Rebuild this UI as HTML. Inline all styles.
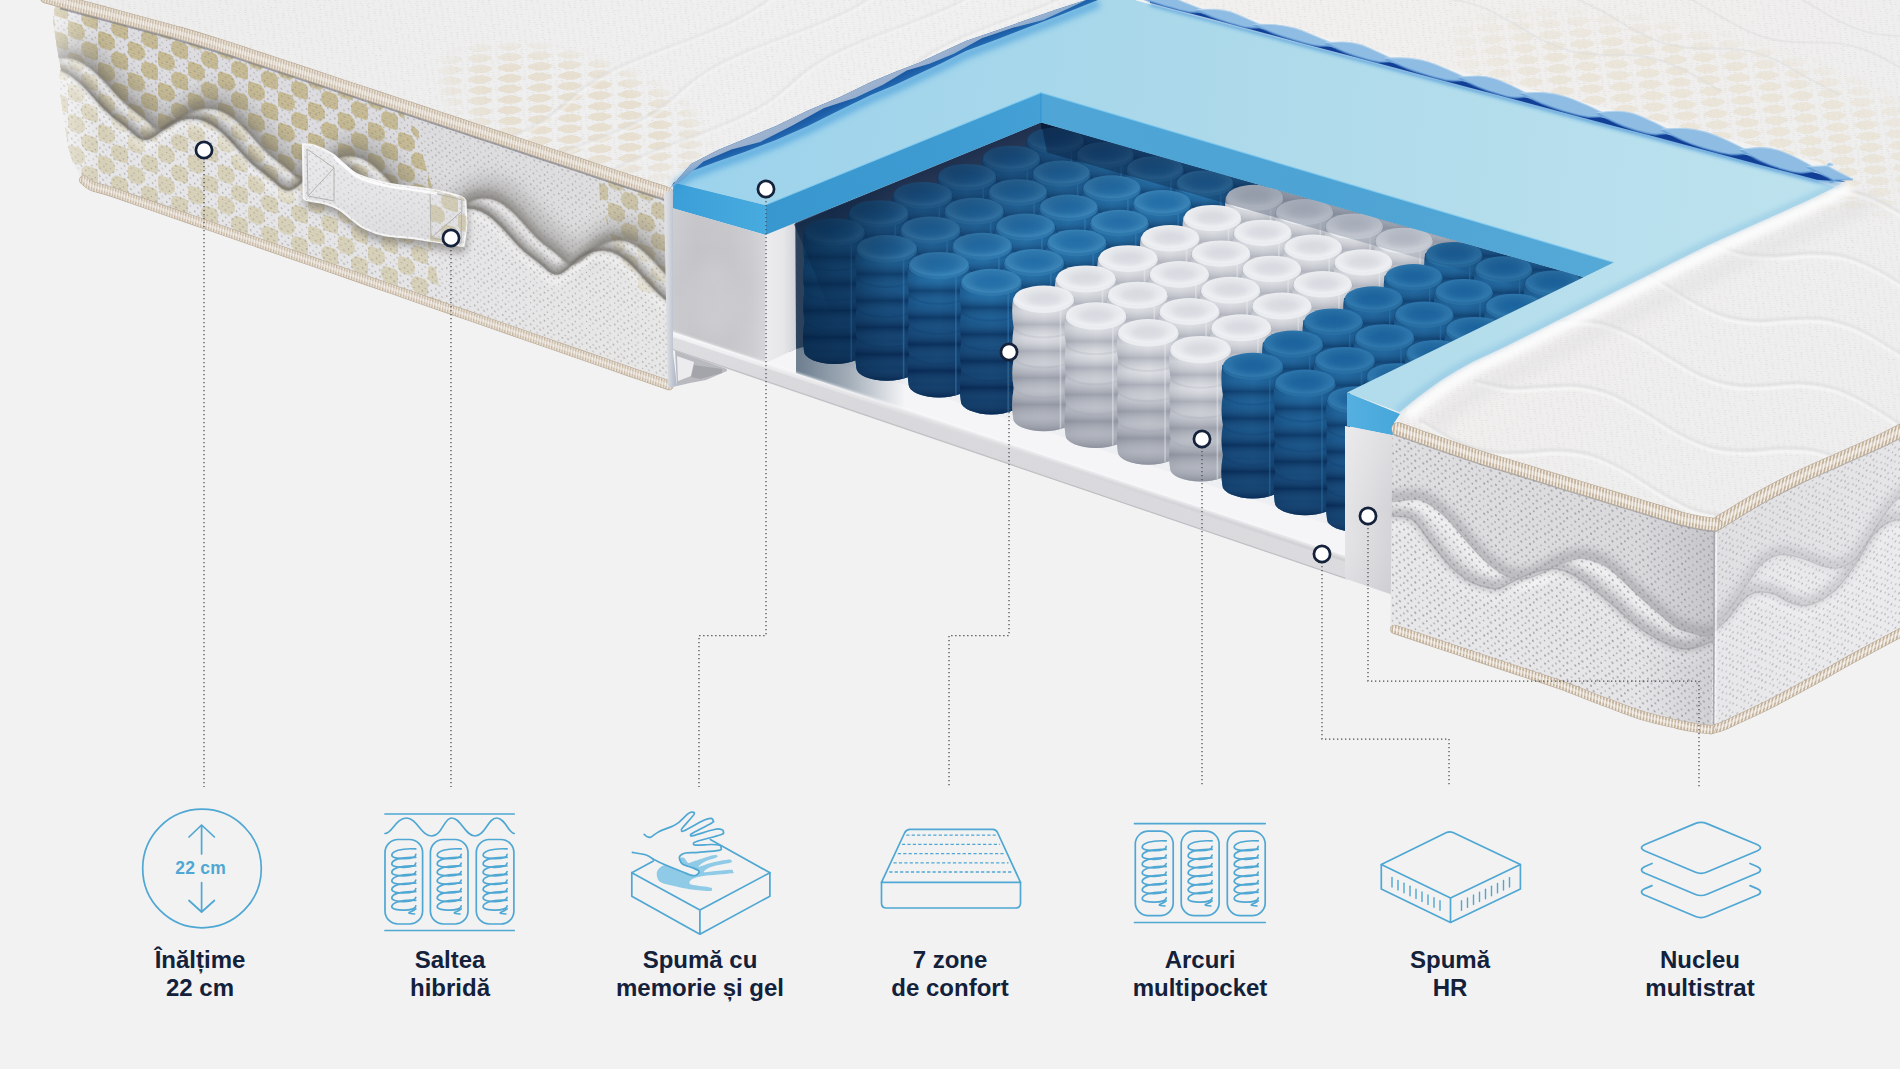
<!DOCTYPE html>
<html lang="ro"><head><meta charset="utf-8"><title>Saltea hibrida - structura</title>
<style>
html,body{margin:0;padding:0;background:#f2f2f2;overflow:hidden;}
#stage{position:relative;width:1900px;height:1069px;overflow:hidden;background:#f2f2f2;font-family:"Liberation Sans",sans-serif;}
#stage svg{position:absolute;left:0;top:0;}
.lbl{position:absolute;width:300px;margin-left:-150px;text-align:center;color:#14213a;font-weight:700;font-size:24px;line-height:28.5px;top:945.5px;letter-spacing:0px;}
</style></head><body>
<div id="stage">
<svg width="1900" height="1069" viewBox="0 0 1900 1069">
<defs>
<filter id="b1" x="-30%" y="-30%" width="160%" height="160%"><feGaussianBlur stdDeviation="1"/></filter>
<filter id="b2" x="-30%" y="-30%" width="160%" height="160%"><feGaussianBlur stdDeviation="2"/></filter>
<filter id="b3" x="-30%" y="-30%" width="160%" height="160%"><feGaussianBlur stdDeviation="3"/></filter>
<filter id="b4" x="-30%" y="-30%" width="160%" height="160%"><feGaussianBlur stdDeviation="4"/></filter>
<filter id="b6" x="-30%" y="-30%" width="160%" height="160%"><feGaussianBlur stdDeviation="6"/></filter>
<filter id="b8" x="-30%" y="-30%" width="160%" height="160%"><feGaussianBlur stdDeviation="8"/></filter>
<filter id="b12" x="-30%" y="-30%" width="160%" height="160%"><feGaussianBlur stdDeviation="12"/></filter>
<filter id="b20" x="-30%" y="-30%" width="160%" height="160%"><feGaussianBlur stdDeviation="20"/></filter>
<pattern id="dotsL" width="28.00" height="28.00" patternUnits="userSpaceOnUse" patternTransform="matrix(1,0.336,0,1,0,0)"><g fill="#8a8580" opacity="0.62"><circle cx="1.59" cy="1.49" r="0.85"/><circle cx="5.19" cy="5.41" r="0.75"/><circle cx="2.21" cy="8.82" r="0.91"/><circle cx="5.02" cy="12.17" r="0.76"/><circle cx="2.13" cy="15.45" r="0.71"/><circle cx="4.67" cy="18.66" r="0.66"/><circle cx="1.35" cy="22.22" r="0.84"/><circle cx="4.59" cy="26.67" r="0.68"/><circle cx="8.52" cy="1.10" r="0.88"/><circle cx="11.51" cy="5.58" r="0.82"/><circle cx="8.06" cy="8.25" r="0.91"/><circle cx="12.50" cy="12.00" r="0.85"/><circle cx="9.45" cy="15.63" r="0.67"/><circle cx="12.63" cy="19.86" r="0.87"/><circle cx="7.97" cy="22.67" r="0.82"/><circle cx="12.56" cy="25.70" r="0.85"/><circle cx="15.74" cy="2.46" r="0.85"/><circle cx="18.98" cy="5.14" r="0.90"/><circle cx="15.95" cy="8.98" r="0.87"/><circle cx="19.53" cy="12.01" r="0.64"/><circle cx="15.34" cy="16.22" r="0.79"/><circle cx="19.79" cy="19.48" r="0.77"/><circle cx="15.93" cy="22.55" r="0.75"/><circle cx="19.80" cy="26.17" r="0.83"/><circle cx="22.33" cy="1.95" r="0.70"/><circle cx="26.79" cy="5.92" r="0.84"/><circle cx="22.06" cy="8.53" r="0.82"/><circle cx="26.69" cy="12.39" r="0.64"/><circle cx="22.11" cy="16.25" r="0.68"/><circle cx="26.58" cy="19.39" r="0.68"/><circle cx="22.20" cy="22.85" r="0.74"/><circle cx="25.51" cy="26.52" r="0.90"/></g></pattern>
<pattern id="dotsR" width="30.40" height="30.40" patternUnits="userSpaceOnUse" patternTransform="matrix(1,0.33,0,1,0,0)"><g fill="#85858c" opacity="0.75"><circle cx="2.38" cy="1.32" r="0.89"/><circle cx="5.63" cy="5.43" r="0.91"/><circle cx="1.28" cy="9.11" r="1.07"/><circle cx="6.42" cy="13.23" r="0.98"/><circle cx="1.52" cy="17.57" r="1.09"/><circle cx="6.36" cy="21.68" r="1.00"/><circle cx="2.01" cy="24.06" r="0.87"/><circle cx="5.46" cy="28.55" r="0.86"/><circle cx="9.54" cy="2.41" r="0.87"/><circle cx="13.77" cy="5.15" r="0.94"/><circle cx="10.17" cy="8.76" r="1.04"/><circle cx="12.89" cy="13.30" r="1.09"/><circle cx="9.75" cy="16.97" r="0.89"/><circle cx="13.26" cy="20.32" r="0.97"/><circle cx="8.99" cy="24.99" r="1.07"/><circle cx="13.15" cy="28.15" r="0.89"/><circle cx="16.74" cy="1.16" r="1.07"/><circle cx="21.14" cy="6.44" r="0.77"/><circle cx="16.96" cy="10.04" r="0.81"/><circle cx="20.38" cy="12.89" r="0.87"/><circle cx="17.35" cy="17.62" r="0.84"/><circle cx="21.14" cy="20.54" r="0.82"/><circle cx="16.88" cy="24.20" r="1.05"/><circle cx="20.77" cy="28.83" r="0.77"/><circle cx="25.00" cy="1.73" r="1.04"/><circle cx="28.85" cy="5.30" r="0.92"/><circle cx="24.44" cy="9.40" r="0.77"/><circle cx="28.68" cy="13.97" r="0.97"/><circle cx="24.42" cy="16.74" r="0.76"/><circle cx="28.56" cy="21.09" r="1.02"/><circle cx="25.04" cy="24.07" r="1.07"/><circle cx="28.41" cy="28.62" r="0.86"/></g></pattern>
<pattern id="dotsRR" width="28.80" height="28.80" patternUnits="userSpaceOnUse" patternTransform="matrix(1,-0.54,0,1,0,0)"><g fill="#8f8f96" opacity="0.62"><circle cx="1.35" cy="2.46" r="0.96"/><circle cx="4.67" cy="6.15" r="0.77"/><circle cx="1.89" cy="8.87" r="0.84"/><circle cx="4.94" cy="12.85" r="0.89"/><circle cx="2.07" cy="15.51" r="1.00"/><circle cx="5.25" cy="19.13" r="0.92"/><circle cx="1.96" cy="23.97" r="0.78"/><circle cx="5.09" cy="26.46" r="0.86"/><circle cx="8.64" cy="1.36" r="0.78"/><circle cx="13.17" cy="5.79" r="0.74"/><circle cx="9.13" cy="9.61" r="0.82"/><circle cx="13.11" cy="12.79" r="0.74"/><circle cx="9.77" cy="16.20" r="0.93"/><circle cx="13.07" cy="19.30" r="0.87"/><circle cx="8.70" cy="22.74" r="0.98"/><circle cx="13.26" cy="26.57" r="0.77"/><circle cx="16.61" cy="1.46" r="0.92"/><circle cx="20.53" cy="5.42" r="0.75"/><circle cx="15.82" cy="8.69" r="0.97"/><circle cx="19.48" cy="12.97" r="1.00"/><circle cx="15.47" cy="15.53" r="0.86"/><circle cx="19.43" cy="20.17" r="0.73"/><circle cx="15.98" cy="24.00" r="0.86"/><circle cx="20.56" cy="26.43" r="0.76"/><circle cx="23.01" cy="2.03" r="0.86"/><circle cx="26.91" cy="5.98" r="1.02"/><circle cx="23.40" cy="9.64" r="0.96"/><circle cx="27.37" cy="13.11" r="0.77"/><circle cx="22.81" cy="16.10" r="0.82"/><circle cx="26.96" cy="19.52" r="0.74"/><circle cx="23.76" cy="23.92" r="0.83"/><circle cx="27.60" cy="26.27" r="0.97"/></g></pattern>
<pattern id="dotsTop" width="25.60" height="25.60" patternUnits="userSpaceOnUse" patternTransform="matrix(1,0.3,-0.9,0.38,0,0)"><g fill="#bdb9b3" opacity="0.38"><circle cx="1.36" cy="1.55" r="0.83"/><circle cx="4.79" cy="5.18" r="0.83"/><circle cx="1.22" cy="7.89" r="0.61"/><circle cx="4.02" cy="11.68" r="0.82"/><circle cx="1.33" cy="13.96" r="0.64"/><circle cx="4.83" cy="17.86" r="0.77"/><circle cx="1.85" cy="20.69" r="0.74"/><circle cx="4.65" cy="24.38" r="0.76"/><circle cx="7.79" cy="1.57" r="0.85"/><circle cx="11.31" cy="4.33" r="0.66"/><circle cx="7.33" cy="8.27" r="0.83"/><circle cx="10.49" cy="11.96" r="0.79"/><circle cx="7.51" cy="14.51" r="0.61"/><circle cx="10.68" cy="18.03" r="0.71"/><circle cx="8.03" cy="21.02" r="0.81"/><circle cx="10.45" cy="24.39" r="0.68"/><circle cx="13.72" cy="2.16" r="0.72"/><circle cx="17.60" cy="5.52" r="0.68"/><circle cx="14.92" cy="7.73" r="0.70"/><circle cx="17.71" cy="11.75" r="0.84"/><circle cx="15.20" cy="14.33" r="0.82"/><circle cx="17.69" cy="17.96" r="0.72"/><circle cx="14.86" cy="20.72" r="0.69"/><circle cx="17.70" cy="24.72" r="0.75"/><circle cx="21.13" cy="0.89" r="0.66"/><circle cx="24.27" cy="4.72" r="0.64"/><circle cx="21.03" cy="8.21" r="0.66"/><circle cx="24.43" cy="10.67" r="0.70"/><circle cx="20.44" cy="14.61" r="0.70"/><circle cx="23.23" cy="17.31" r="0.63"/><circle cx="21.22" cy="20.51" r="0.84"/><circle cx="24.36" cy="24.46" r="0.70"/></g></pattern>
<pattern id="goldL" width="30.00" height="31.00" patternUnits="userSpaceOnUse" patternTransform="matrix(1,0.336,0.0,1,8,0)"><g opacity="1.00"><path d="M2.42,-0.39 L12.58,-0.39 L16.74,4.49 L16.74,11.01 L12.58,15.89 L2.42,15.89 L-1.74,11.01 L-1.74,4.49 Z" fill="#cbc09b"/><rect x="1.40" y="0.81" width="12.21" height="0.9" fill="#a7996f" opacity="0.45"/><rect x="-0.73" y="3.31" width="16.46" height="0.9" fill="#a7996f" opacity="0.45"/><rect x="-1.74" y="5.81" width="18.48" height="0.9" fill="#a7996f" opacity="0.45"/><rect x="-1.74" y="8.31" width="18.48" height="0.9" fill="#a7996f" opacity="0.45"/><rect x="-1.74" y="10.81" width="18.48" height="0.9" fill="#a7996f" opacity="0.45"/><rect x="0.22" y="13.31" width="14.56" height="0.9" fill="#a7996f" opacity="0.45"/><rect x="2.35" y="15.81" width="10.30" height="0.9" fill="#a7996f" opacity="0.45"/><path d="M17.42,15.11 L27.58,15.11 L31.74,19.99 L31.74,26.51 L27.58,31.39 L17.42,31.39 L13.26,26.51 L13.26,19.99 Z" fill="#cbc09b"/><rect x="16.40" y="16.31" width="12.21" height="0.9" fill="#a7996f" opacity="0.45"/><rect x="14.27" y="18.81" width="16.46" height="0.9" fill="#a7996f" opacity="0.45"/><rect x="13.26" y="21.31" width="18.48" height="0.9" fill="#a7996f" opacity="0.45"/><rect x="13.26" y="23.81" width="18.48" height="0.9" fill="#a7996f" opacity="0.45"/><rect x="13.26" y="26.31" width="18.48" height="0.9" fill="#a7996f" opacity="0.45"/><rect x="15.22" y="28.81" width="14.56" height="0.9" fill="#a7996f" opacity="0.45"/><rect x="17.35" y="31.31" width="10.30" height="0.9" fill="#a7996f" opacity="0.45"/></g></pattern>
<pattern id="goldT" width="30.00" height="30.00" patternUnits="userSpaceOnUse" patternTransform="matrix(1.0,0.31,-1.0,0.40,0,0)"><g opacity="0.80"><path d="M2.88,0.10 L12.12,0.10 L15.90,4.54 L15.90,10.46 L12.12,14.90 L2.88,14.90 L-0.90,10.46 L-0.90,4.54 Z" fill="#e7ddcb"/><rect x="1.86" y="1.30" width="11.28" height="0.9" fill="#d9ceb8" opacity="0.45"/><rect x="-0.27" y="3.80" width="15.54" height="0.9" fill="#d9ceb8" opacity="0.45"/><rect x="-0.90" y="6.30" width="16.80" height="0.9" fill="#d9ceb8" opacity="0.45"/><rect x="-0.90" y="8.80" width="16.80" height="0.9" fill="#d9ceb8" opacity="0.45"/><rect x="-0.18" y="11.30" width="15.37" height="0.9" fill="#d9ceb8" opacity="0.45"/><rect x="1.94" y="13.80" width="11.11" height="0.9" fill="#d9ceb8" opacity="0.45"/><path d="M17.88,15.10 L27.12,15.10 L30.90,19.54 L30.90,25.46 L27.12,29.90 L17.88,29.90 L14.10,25.46 L14.10,19.54 Z" fill="#e7ddcb"/><rect x="16.86" y="16.30" width="11.28" height="0.9" fill="#d9ceb8" opacity="0.45"/><rect x="14.73" y="18.80" width="15.54" height="0.9" fill="#d9ceb8" opacity="0.45"/><rect x="14.10" y="21.30" width="16.80" height="0.9" fill="#d9ceb8" opacity="0.45"/><rect x="14.10" y="23.80" width="16.80" height="0.9" fill="#d9ceb8" opacity="0.45"/><rect x="14.82" y="26.30" width="15.37" height="0.9" fill="#d9ceb8" opacity="0.45"/><rect x="16.94" y="28.80" width="11.11" height="0.9" fill="#d9ceb8" opacity="0.45"/></g></pattern>
<pattern id="goldT2" width="30.00" height="30.00" patternUnits="userSpaceOnUse" patternTransform="matrix(1.05,0.30,-0.9,0.45,0,0)"><g opacity="0.70"><path d="M2.88,0.10 L12.12,0.10 L15.90,4.54 L15.90,10.46 L12.12,14.90 L2.88,14.90 L-0.90,10.46 L-0.90,4.54 Z" fill="#ebe3d3"/><rect x="1.86" y="1.30" width="11.28" height="0.9" fill="#ddd3be" opacity="0.45"/><rect x="-0.27" y="3.80" width="15.54" height="0.9" fill="#ddd3be" opacity="0.45"/><rect x="-0.90" y="6.30" width="16.80" height="0.9" fill="#ddd3be" opacity="0.45"/><rect x="-0.90" y="8.80" width="16.80" height="0.9" fill="#ddd3be" opacity="0.45"/><rect x="-0.18" y="11.30" width="15.37" height="0.9" fill="#ddd3be" opacity="0.45"/><rect x="1.94" y="13.80" width="11.11" height="0.9" fill="#ddd3be" opacity="0.45"/><path d="M17.88,15.10 L27.12,15.10 L30.90,19.54 L30.90,25.46 L27.12,29.90 L17.88,29.90 L14.10,25.46 L14.10,19.54 Z" fill="#ebe3d3"/><rect x="16.86" y="16.30" width="11.28" height="0.9" fill="#ddd3be" opacity="0.45"/><rect x="14.73" y="18.80" width="15.54" height="0.9" fill="#ddd3be" opacity="0.45"/><rect x="14.10" y="21.30" width="16.80" height="0.9" fill="#ddd3be" opacity="0.45"/><rect x="14.10" y="23.80" width="16.80" height="0.9" fill="#ddd3be" opacity="0.45"/><rect x="14.82" y="26.30" width="15.37" height="0.9" fill="#ddd3be" opacity="0.45"/><rect x="16.94" y="28.80" width="11.11" height="0.9" fill="#ddd3be" opacity="0.45"/></g></pattern>
<pattern id="pipeL" width="2.70" height="8" patternUnits="userSpaceOnUse" patternTransform="rotate(8.0)"><rect width="2.70" height="8" fill="#ede6de"/><rect x="0" width="1.35" height="8" fill="#c6b6a1"/></pattern>
<pattern id="pipeR" width="3.20" height="8" patternUnits="userSpaceOnUse" patternTransform="rotate(6.0)"><rect width="3.20" height="8" fill="#efe8e0"/><rect x="0" width="1.60" height="8" fill="#c3b29b"/></pattern>
<pattern id="pipeRR" width="3.20" height="8" patternUnits="userSpaceOnUse" patternTransform="rotate(12.0)"><rect width="3.20" height="8" fill="#efe8e0"/><rect x="0" width="1.60" height="8" fill="#c3b29b"/></pattern>
<linearGradient id="gTopR" gradientUnits="userSpaceOnUse" x1="1200" y1="0" x2="1900" y2="450"><stop offset="0" stop-color="#f1f0ee"/><stop offset="0.5" stop-color="#f0efee"/><stop offset="1" stop-color="#eeeeee"/></linearGradient>
<linearGradient id="gTopL" gradientUnits="userSpaceOnUse" x1="100" y1="0" x2="900" y2="200"><stop offset="0" stop-color="#ededed"/><stop offset="0.6" stop-color="#efefef"/><stop offset="1" stop-color="#f0f0f0"/></linearGradient>
<radialGradient id="mGold1" gradientUnits="objectBoundingBox" cx="0.5" cy="0.5" r="0.5" ><stop offset="0" stop-color="#fff" stop-opacity="1"/><stop offset="0.6" stop-color="#fff" stop-opacity="0.95"/><stop offset="0.85" stop-color="#fff" stop-opacity="0.5"/><stop offset="1" stop-color="#fff" stop-opacity="0"/></radialGradient>
<mask id="mkGoldTL" maskUnits="userSpaceOnUse" x="400" y="0" width="360" height="230"><ellipse cx="575" cy="112" rx="150" ry="62" transform="rotate(17 575 112)" fill="url(#mGold1)"/></mask>
<clipPath id="cpTopL"><path d="M57,0 L1086,0 L1086.0,0.0 L1058.0,9.0 L1029.0,19.0 L998.0,30.0 L965.8,41.0 L942.0,52.0 L918.4,63.0 L895.0,72.0 L871.0,82.0 L840.0,97.0 L808.0,110.5 L776.0,126.0 L744.7,139.0 L718.0,150.0 L691.0,164.0 L672.0,186.0 L668.0,192.0 L550.0,154.5 L440.0,118.0 L300.0,71.6 L200.0,38.7 L150.0,25.0 L100.0,11.5 L57.0,0.0 Z"/></clipPath>
<mask id="mkGoldTR" maskUnits="userSpaceOnUse" x="1400" y="0" width="520" height="260"><ellipse cx="1715" cy="112" rx="290" ry="82" transform="rotate(15 1715 112)" fill="url(#mGold1)"/></mask>
<clipPath id="cpTopR"><polygon points="1166.0,0.0 1900.0,0.0 1900.0,433.0 1800.0,478.0 1716.0,527.0 1640.0,508.0 1520.0,471.0 1394.0,430.0 1400.0,414.0 1400.2,412.5 1418.0,398.0 1443.2,379.7 1470.0,364.0 1506.3,346.9 1556.8,321.6 1607.4,296.3 1657.9,271.0 1708.4,245.8 1759.0,223.0 1809.5,200.3 1839.8,185.2 1843.0,182.0 1845.0,180.0 1820.0,162.1 1790.0,154.5 1760.0,146.9 1730.0,139.3 1700.0,131.7 1670.0,124.2 1640.0,116.6 1610.0,109.0 1580.0,101.4 1550.0,93.8 1520.0,86.3 1490.0,78.7 1460.0,71.1 1430.0,63.5 1400.0,55.9 1370.0,48.3 1340.0,40.8 1310.0,33.2 1280.0,25.6 1250.0,18.0 1220.0,10.4 1190.0,2.9"/></clipPath>
<linearGradient id="gCav" gradientUnits="userSpaceOnUse" x1="800" y1="150" x2="1300" y2="450"><stop offset="0" stop-color="#15233f"/><stop offset="0.5" stop-color="#10284a"/><stop offset="1" stop-color="#0c2244"/></linearGradient>
<linearGradient id="gCavL" gradientUnits="userSpaceOnUse" x1="780" y1="0" x2="840" y2="0"><stop offset="0" stop-color="#8d93a3"/><stop offset="0.5" stop-color="#596379"/><stop offset="1" stop-color="#2a3a58" stop-opacity="0"/></linearGradient>
<linearGradient id="gWallIn" gradientUnits="userSpaceOnUse" x1="766" y1="0" x2="796" y2="0"><stop offset="0" stop-color="#ecECEE"/><stop offset="0.6" stop-color="#e6e6e9"/><stop offset="1" stop-color="#d2d3d8"/></linearGradient>
<linearGradient id="gFloor" gradientUnits="objectBoundingBox" x1="0" y1="0" x2="0" y2="1"><stop offset="0" stop-color="#dfe1e6"/><stop offset="1" stop-color="#f6f6f8"/></linearGradient>
<linearGradient id="gBlueBody" gradientUnits="objectBoundingBox" x1="0" y1="0" x2="1" y2="0"><stop offset="0" stop-color="#16558a"/><stop offset="0.18" stop-color="#1c669e"/><stop offset="0.5" stop-color="#216fa8"/><stop offset="0.82" stop-color="#1a6198"/><stop offset="1" stop-color="#114a7d"/></linearGradient>
<linearGradient id="gBlueBodyR" gradientUnits="objectBoundingBox" x1="0" y1="0" x2="1" y2="0"><stop offset="0" stop-color="#134f83"/><stop offset="0.2" stop-color="#195e96"/><stop offset="0.5" stop-color="#1d67a0"/><stop offset="0.8" stop-color="#175a90"/><stop offset="1" stop-color="#0f4575"/></linearGradient>
<linearGradient id="gBlueShade" gradientUnits="objectBoundingBox" x1="0" y1="0" x2="0" y2="1"><stop offset="0" stop-color="#072a58" stop-opacity="0.0"/><stop offset="0.12" stop-color="#072a58" stop-opacity="0.05"/><stop offset="0.32" stop-color="#072a58" stop-opacity="0.38"/><stop offset="0.55" stop-color="#06254f" stop-opacity="0.62"/><stop offset="1" stop-color="#051f46" stop-opacity="0.78"/></linearGradient>
<linearGradient id="gBlueShadeR" gradientUnits="objectBoundingBox" x1="0" y1="0" x2="0" y2="1"><stop offset="0" stop-color="#072a58" stop-opacity="0.0"/><stop offset="0.15" stop-color="#072a58" stop-opacity="0.05"/><stop offset="0.35" stop-color="#072a58" stop-opacity="0.3"/><stop offset="0.6" stop-color="#06254f" stop-opacity="0.5"/><stop offset="1" stop-color="#051f46" stop-opacity="0.66"/></linearGradient>
<radialGradient id="gBlueTop" gradientUnits="objectBoundingBox" cx="0.5" cy="0.45" r="0.6" ><stop offset="0" stop-color="#2a72a8"/><stop offset="0.55" stop-color="#2f78ad"/><stop offset="0.85" stop-color="#3b85b8"/><stop offset="1" stop-color="#2c74a9"/></radialGradient>
<radialGradient id="gBlueTopR" gradientUnits="objectBoundingBox" cx="0.5" cy="0.45" r="0.6" ><stop offset="0" stop-color="#22689e"/><stop offset="0.55" stop-color="#276ea4"/><stop offset="0.85" stop-color="#3079ae"/><stop offset="1" stop-color="#246a9f"/></radialGradient>
<linearGradient id="gWhiteBody" gradientUnits="objectBoundingBox" x1="0" y1="0" x2="1" y2="0"><stop offset="0" stop-color="#bcc0c8"/><stop offset="0.2" stop-color="#d0d3d9"/><stop offset="0.5" stop-color="#dbdde2"/><stop offset="0.8" stop-color="#cfd2d8"/><stop offset="1" stop-color="#b5b9c2"/></linearGradient>
<linearGradient id="gWhiteShade" gradientUnits="objectBoundingBox" x1="0" y1="0" x2="0" y2="1"><stop offset="0" stop-color="#8f95a3" stop-opacity="0.0"/><stop offset="0.35" stop-color="#8f95a3" stop-opacity="0.06"/><stop offset="0.55" stop-color="#858b9a" stop-opacity="0.38"/><stop offset="1" stop-color="#757b8a" stop-opacity="0.62"/></linearGradient>
<radialGradient id="gWhiteTop" gradientUnits="objectBoundingBox" cx="0.5" cy="0.45" r="0.6" ><stop offset="0" stop-color="#dfe1e6"/><stop offset="0.55" stop-color="#e5e7eb"/><stop offset="0.85" stop-color="#eff0f3"/><stop offset="1" stop-color="#e1e3e8"/></radialGradient>
<linearGradient id="gSegB" gradientUnits="objectBoundingBox" x1="0" y1="0" x2="0" y2="1"><stop offset="0.001" stop-color="#061c42" stop-opacity="0.38"/><stop offset="0.1" stop-color="#5aa0d0" stop-opacity="0.1"/><stop offset="0.199" stop-color="#061c42" stop-opacity="0.38"/><stop offset="0.201" stop-color="#061c42" stop-opacity="0.38"/><stop offset="0.3" stop-color="#5aa0d0" stop-opacity="0.1"/><stop offset="0.399" stop-color="#061c42" stop-opacity="0.38"/><stop offset="0.401" stop-color="#061c42" stop-opacity="0.38"/><stop offset="0.5" stop-color="#5aa0d0" stop-opacity="0.1"/><stop offset="0.599" stop-color="#061c42" stop-opacity="0.38"/><stop offset="0.601" stop-color="#061c42" stop-opacity="0.38"/><stop offset="0.7" stop-color="#5aa0d0" stop-opacity="0.1"/><stop offset="0.799" stop-color="#061c42" stop-opacity="0.38"/><stop offset="0.801" stop-color="#061c42" stop-opacity="0.38"/><stop offset="0.9" stop-color="#5aa0d0" stop-opacity="0.1"/><stop offset="0.999" stop-color="#061c42" stop-opacity="0.38"/></linearGradient>
<linearGradient id="gSegW" gradientUnits="objectBoundingBox" x1="0" y1="0" x2="0" y2="1"><stop offset="0.001" stop-color="#6b7080" stop-opacity="0.32"/><stop offset="0.1" stop-color="#ffffff" stop-opacity="0.16"/><stop offset="0.199" stop-color="#6b7080" stop-opacity="0.32"/><stop offset="0.201" stop-color="#6b7080" stop-opacity="0.32"/><stop offset="0.3" stop-color="#ffffff" stop-opacity="0.16"/><stop offset="0.399" stop-color="#6b7080" stop-opacity="0.32"/><stop offset="0.401" stop-color="#6b7080" stop-opacity="0.32"/><stop offset="0.5" stop-color="#ffffff" stop-opacity="0.16"/><stop offset="0.599" stop-color="#6b7080" stop-opacity="0.32"/><stop offset="0.601" stop-color="#6b7080" stop-opacity="0.32"/><stop offset="0.7" stop-color="#ffffff" stop-opacity="0.16"/><stop offset="0.799" stop-color="#6b7080" stop-opacity="0.32"/><stop offset="0.801" stop-color="#6b7080" stop-opacity="0.32"/><stop offset="0.9" stop-color="#ffffff" stop-opacity="0.16"/><stop offset="0.999" stop-color="#6b7080" stop-opacity="0.32"/></linearGradient>
<clipPath id="cpCav"><polygon points="760.0,238.0 1041.0,122.5 1583.6,277.3 1349.0,393.0 1349.0,600.0 760.0,400.0"/></clipPath>
<linearGradient id="gShBack" gradientUnits="objectBoundingBox" x1="0" y1="0" x2="0" y2="1"><stop offset="0" stop-color="#071a3a" stop-opacity="0.55"/><stop offset="1" stop-color="#071a3a" stop-opacity="0.0"/></linearGradient>
<linearGradient id="gShLeft" gradientUnits="userSpaceOnUse" x1="795" y1="226" x2="835" y2="322"><stop offset="0" stop-color="#071a3a" stop-opacity="0.62"/><stop offset="0.3" stop-color="#071a3a" stop-opacity="0.38"/><stop offset="1" stop-color="#071a3a" stop-opacity="0.0"/></linearGradient>
<linearGradient id="gShLeft2" gradientUnits="userSpaceOnUse" x1="800" y1="0" x2="905" y2="0"><stop offset="0" stop-color="#04223f" stop-opacity="0.55"/><stop offset="0.45" stop-color="#04223f" stop-opacity="0.35"/><stop offset="1" stop-color="#04223f" stop-opacity="0.0"/></linearGradient>
<linearGradient id="gFoamTop" gradientUnits="userSpaceOnUse" x1="700" y1="150" x2="1800" y2="250"><stop offset="0" stop-color="#9dd3ec"/><stop offset="0.45" stop-color="#acd9ea"/><stop offset="1" stop-color="#bde2ee"/></linearGradient>
<linearGradient id="gFoamFront" gradientUnits="userSpaceOnUse" x1="672" y1="0" x2="766" y2="0"><stop offset="0" stop-color="#3b9fd8"/><stop offset="1" stop-color="#48abdf"/></linearGradient>
<linearGradient id="gFoamSide" gradientUnits="userSpaceOnUse" x1="765" y1="220" x2="1041" y2="105"><stop offset="0" stop-color="#3997cf"/><stop offset="0.6" stop-color="#3d9bd2"/><stop offset="1" stop-color="#44a0d5"/></linearGradient>
<linearGradient id="gFoamBack" gradientUnits="userSpaceOnUse" x1="1041" y1="100" x2="1600" y2="270"><stop offset="0" stop-color="#4fa6d6"/><stop offset="0.5" stop-color="#4da3d3"/><stop offset="1" stop-color="#55a9d7"/></linearGradient>
<linearGradient id="gFoamFR" gradientUnits="userSpaceOnUse" x1="1347" y1="0" x2="1400" y2="0"><stop offset="0" stop-color="#55b0e0"/><stop offset="1" stop-color="#46a6db"/></linearGradient>
<linearGradient id="gWallL" gradientUnits="userSpaceOnUse" x1="673" y1="0" x2="766" y2="0"><stop offset="0" stop-color="#c9c9cd"/><stop offset="0.25" stop-color="#c1c1c6"/><stop offset="0.6" stop-color="#c4c4c8"/><stop offset="0.85" stop-color="#cbcbcf"/><stop offset="1" stop-color="#d4d4d8"/></linearGradient>
<linearGradient id="gWallLv" gradientUnits="userSpaceOnUse" x1="0" y1="200" x2="0" y2="365"><stop offset="0" stop-color="#ffffff" stop-opacity="0.1"/><stop offset="0.5" stop-color="#ffffff" stop-opacity="0.0"/><stop offset="1" stop-color="#ffffff" stop-opacity="0.06"/></linearGradient>
<linearGradient id="gBaseF" gradientUnits="objectBoundingBox" x1="0" y1="0" x2="0" y2="1"><stop offset="0" stop-color="#f3f3f5"/><stop offset="0.3" stop-color="#e0e0e3"/><stop offset="0.65" stop-color="#d6d6da"/><stop offset="1" stop-color="#d0d0d4"/></linearGradient>
<linearGradient id="gBaseF2" gradientUnits="userSpaceOnUse" x1="672" y1="0" x2="1347" y2="0"><stop offset="0" stop-color="#d6d6da"/><stop offset="0.15" stop-color="#d4d4d8"/><stop offset="1" stop-color="#e0e0e3"/></linearGradient>
<linearGradient id="gWallR" gradientUnits="userSpaceOnUse" x1="1345" y1="0" x2="1394" y2="0"><stop offset="0" stop-color="#e4e4e7"/><stop offset="0.5" stop-color="#dcdcdf"/><stop offset="1" stop-color="#d3d3d7"/></linearGradient>
<linearGradient id="gWallRv" gradientUnits="userSpaceOnUse" x1="0" y1="426" x2="0" y2="595"><stop offset="0" stop-color="#ffffff" stop-opacity="0.25"/><stop offset="0.5" stop-color="#ffffff" stop-opacity="0.0"/><stop offset="1" stop-color="#a0a0a8" stop-opacity="0.12"/></linearGradient>
<linearGradient id="gNavy" gradientUnits="userSpaceOnUse" x1="1150" y1="0" x2="1190" y2="120"><stop offset="0" stop-color="#0f3b90"/><stop offset="1" stop-color="#1858ad"/></linearGradient>
<clipPath id="cpLP"><polygon points="57.0,0.0 100.0,11.5 150.0,25.0 200.0,38.7 300.0,71.6 440.0,118.0 550.0,154.5 666.0,192.9 668.0,385.0 500.0,326.7 300.0,257.3 100.0,187.9 88.0,184.0 80.0,176.0 74.0,166.0 69.0,150.0 64.0,120.0 60.0,92.0 59.0,78.0 61.0,69.0 57.0,48.0 53.0,20.0 56.0,0.0"/></clipPath>
<linearGradient id="gLP" gradientUnits="userSpaceOnUse" x1="56" y1="0" x2="668" y2="0"><stop offset="0" stop-color="#e6e6e9"/><stop offset="0.08" stop-color="#dddde1"/><stop offset="0.5" stop-color="#dcdce0"/><stop offset="1" stop-color="#dededf"/></linearGradient>
<clipPath id="cpGoldL"><polygon points="40.0,-10.0 392.0,-10.0 405.0,120.0 418.0,130.0 424.0,160.0 436.0,200.0 430.0,240.0 442.0,300.0 440.0,330.0 40.0,330.0"/></clipPath>
<clipPath id="cpGoldL2"><polygon points="598.0,170.0 668.0,190.0 668.0,300.0 640.0,290.0 615.0,250.0 600.0,200.0"/></clipPath>
<clipPath id="cpRib"><path d="M40.0,65.8 C41.0,65.2 44.0,63.2 46.0,62.1 C48.0,61.1 50.0,60.2 52.0,59.6 C54.0,58.9 56.0,58.4 58.0,58.1 C60.0,57.7 62.0,57.6 64.0,57.6 C66.0,57.6 68.0,57.8 70.0,58.2 C72.0,58.5 74.0,59.0 76.0,59.7 C78.0,60.4 80.0,61.3 82.0,62.4 C84.0,63.5 86.0,64.7 88.0,66.2 C90.0,67.6 92.0,69.2 94.0,71.0 C96.0,72.7 98.0,74.6 100.0,76.6 C102.0,78.6 104.0,80.7 106.0,82.8 C108.0,85.0 110.0,87.3 112.0,89.5 C114.0,91.7 116.0,93.9 118.0,96.0 C120.0,98.2 122.0,100.2 124.0,102.1 C126.0,104.0 128.0,105.7 130.0,107.3 C132.0,109.0 134.0,110.4 136.0,112.0 C138.0,113.5 140.0,115.0 142.0,116.6 C144.0,118.2 146.0,120.0 148.0,121.7 C150.0,123.4 152.0,125.5 154.0,126.8 C156.0,128.1 158.0,129.2 160.0,129.5 C162.0,129.7 164.0,129.2 166.0,128.4 C168.0,127.6 170.0,126.1 172.0,124.7 C174.0,123.4 176.0,121.8 178.0,120.3 C180.0,118.9 182.0,117.4 184.0,116.1 C186.0,114.8 188.0,113.6 190.0,112.6 C192.0,111.6 194.0,110.7 196.0,110.1 C198.0,109.4 200.0,108.9 202.0,108.6 C204.0,108.3 206.0,108.2 208.0,108.2 C210.0,108.2 212.0,108.4 214.0,108.8 C216.0,109.2 218.0,109.7 220.0,110.5 C222.0,111.2 224.0,112.1 226.0,113.2 C228.0,114.3 230.0,115.6 232.0,117.1 C234.0,118.5 236.0,120.2 238.0,121.9 C240.0,123.7 242.0,125.6 244.0,127.6 C246.0,129.6 248.0,131.7 250.0,133.9 C252.0,136.0 254.0,138.3 256.0,140.5 C258.0,142.7 260.0,145.0 262.0,147.1 C264.0,149.2 266.0,151.2 268.0,153.1 C270.0,155.0 272.0,156.6 274.0,158.2 C276.0,159.9 278.0,161.3 280.0,162.8 C282.0,164.3 284.0,165.8 286.0,167.5 C288.0,169.1 290.0,171.0 292.0,172.7 C294.0,174.4 296.0,176.6 298.0,177.8 C300.0,179.0 302.0,180.0 304.0,180.1 C306.0,180.1 308.0,179.2 310.0,178.1 C312.0,177.0 314.0,175.2 316.0,173.6 C318.0,171.9 320.0,170.1 322.0,168.4 C324.0,166.8 326.0,165.1 328.0,163.7 C330.0,162.3 332.0,161.0 334.0,160.0 C336.0,158.9 338.0,158.1 340.0,157.5 C342.0,156.8 344.0,156.4 346.0,156.1 C348.0,155.9 350.0,155.8 352.0,155.9 C354.0,156.1 356.0,156.4 358.0,157.0 C360.0,157.5 362.0,158.3 364.0,159.2 C366.0,160.2 368.0,161.4 370.0,162.8 C372.0,164.1 374.0,165.7 376.0,167.5 C378.0,169.2 380.0,171.1 382.0,173.1 C384.0,175.1 386.0,177.3 388.0,179.5 C390.0,181.7 392.0,184.0 394.0,186.2 C396.0,188.4 398.0,190.7 400.0,192.8 C402.0,194.9 404.0,196.9 406.0,198.6 C408.0,200.4 410.0,202.0 412.0,203.5 C414.0,205.1 416.0,206.5 418.0,208.0 C420.0,209.6 422.0,211.1 424.0,212.8 C426.0,214.5 428.0,216.6 430.0,218.1 C432.0,219.6 434.0,221.2 436.0,221.7 C438.0,222.2 440.0,221.9 442.0,221.2 C444.0,220.5 446.0,218.8 448.0,217.3 C450.0,215.8 452.0,213.9 454.0,212.2 C456.0,210.6 458.0,208.8 460.0,207.3 C462.0,205.8 464.0,204.4 466.0,203.2 C468.0,202.0 470.0,201.0 472.0,200.2 C474.0,199.5 476.0,198.9 478.0,198.5 C480.0,198.1 482.0,197.9 484.0,197.9 C486.0,197.9 488.0,198.1 490.0,198.5 C492.0,198.9 494.0,199.5 496.0,200.3 C498.0,201.1 500.0,202.2 502.0,203.4 C504.0,204.6 506.0,206.1 508.0,207.7 C510.0,209.3 512.0,211.1 514.0,213.0 C516.0,214.9 518.0,217.0 520.0,219.2 C522.0,221.3 524.0,223.6 526.0,225.8 C528.0,228.1 530.0,230.4 532.0,232.5 C534.0,234.7 536.0,236.8 538.0,238.7 C540.0,240.6 542.0,242.3 544.0,243.9 C546.0,245.6 548.0,247.0 550.0,248.5 C552.0,250.0 554.0,251.4 556.0,253.1 C558.0,254.7 560.0,256.7 562.0,258.3 C564.0,259.9 566.0,261.9 568.0,262.9 C570.0,263.8 572.0,264.3 574.0,264.0 C576.0,263.7 578.0,262.4 580.0,261.1 C582.0,259.8 584.0,257.9 586.0,256.2 C588.0,254.6 590.0,252.7 592.0,251.1 C594.0,249.5 596.0,248.0 598.0,246.7 C600.0,245.3 602.0,244.2 604.0,243.3 C606.0,242.4 608.0,241.6 610.0,241.1 C612.0,240.6 614.0,240.2 616.0,240.1 C618.0,239.9 620.0,240.0 622.0,240.2 C624.0,240.5 626.0,240.9 628.0,241.6 C630.0,242.3 632.0,243.1 634.0,244.2 C636.0,245.3 638.0,246.6 640.0,248.1 C642.0,249.6 644.0,251.3 646.0,253.1 C648.0,254.9 650.0,256.9 652.0,259.0 C654.0,261.0 656.0,263.2 658.0,265.4 C660.0,267.6 662.0,269.9 664.0,272.1 C666.0,274.2 668.0,276.5 670.0,278.5 C672.0,280.6 674.0,282.5 676.0,284.4 C678.0,286.2 680.0,287.9 682.0,289.5 C684.0,291.1 687.0,293.2 688.0,294.0 L690,420 L40,420 Z"/></clipPath>
<clipPath id="cpPad"><path d="M40.0,68.4 C41.0,68.3 44.0,67.7 46.0,67.6 C48.0,67.5 50.0,67.6 52.0,67.9 C54.0,68.1 56.0,68.5 58.0,69.1 C60.0,69.7 62.0,70.4 64.0,71.4 C66.0,72.3 68.0,73.5 70.0,74.8 C72.0,76.1 74.0,77.6 76.0,79.3 C78.0,80.9 80.0,82.7 82.0,84.6 C84.0,86.5 86.0,88.6 88.0,90.7 C90.0,92.8 92.0,95.0 94.0,97.2 C96.0,99.4 98.0,101.7 100.0,103.9 C102.0,106.0 104.0,108.2 106.0,110.2 C108.0,112.2 110.0,114.0 112.0,115.7 C114.0,117.4 116.0,118.9 118.0,120.5 C120.0,122.0 122.0,123.4 124.0,125.0 C126.0,126.6 128.0,128.2 130.0,129.9 C132.0,131.6 134.0,133.7 136.0,135.2 C138.0,136.7 140.0,138.3 142.0,139.0 C144.0,139.6 146.0,139.6 148.0,139.1 C150.0,138.6 152.0,137.3 154.0,136.1 C156.0,134.9 158.0,133.2 160.0,131.8 C162.0,130.4 164.0,128.8 166.0,127.4 C168.0,126.1 170.0,124.7 172.0,123.6 C174.0,122.5 176.0,121.6 178.0,120.8 C180.0,120.0 182.0,119.4 184.0,119.0 C186.0,118.6 188.0,118.3 190.0,118.2 C192.0,118.1 194.0,118.2 196.0,118.5 C198.0,118.8 200.0,119.2 202.0,119.8 C204.0,120.4 206.0,121.2 208.0,122.2 C210.0,123.2 212.0,124.3 214.0,125.7 C216.0,127.0 218.0,128.5 220.0,130.2 C222.0,131.8 224.0,133.7 226.0,135.6 C228.0,137.5 230.0,139.6 232.0,141.7 C234.0,143.8 236.0,146.1 238.0,148.3 C240.0,150.5 242.0,152.8 244.0,154.9 C246.0,157.1 248.0,159.2 250.0,161.2 C252.0,163.1 254.0,164.9 256.0,166.6 C258.0,168.3 260.0,169.8 262.0,171.3 C264.0,172.9 266.0,174.3 268.0,175.9 C270.0,177.5 272.0,179.1 274.0,180.9 C276.0,182.6 278.0,184.8 280.0,186.3 C282.0,187.8 284.0,189.3 286.0,189.8 C288.0,190.3 290.0,189.9 292.0,189.1 C294.0,188.4 296.0,186.7 298.0,185.2 C300.0,183.7 302.0,181.8 304.0,180.1 C306.0,178.5 308.0,176.7 310.0,175.2 C312.0,173.7 314.0,172.3 316.0,171.1 C318.0,169.9 320.0,168.9 322.0,168.2 C324.0,167.4 326.0,166.8 328.0,166.4 C330.0,166.0 332.0,165.9 334.0,165.9 C336.0,165.9 338.0,166.1 340.0,166.5 C342.0,166.9 344.0,167.5 346.0,168.3 C348.0,169.2 350.0,170.2 352.0,171.4 C354.0,172.7 356.0,174.2 358.0,175.8 C360.0,177.4 362.0,179.2 364.0,181.1 C366.0,183.0 368.0,185.1 370.0,187.3 C372.0,189.4 374.0,191.7 376.0,194.0 C378.0,196.2 380.0,198.5 382.0,200.6 C384.0,202.8 386.0,204.9 388.0,206.8 C390.0,208.7 392.0,210.4 394.0,212.0 C396.0,213.6 398.0,215.0 400.0,216.5 C402.0,218.1 404.0,219.5 406.0,221.1 C408.0,222.8 410.0,224.8 412.0,226.4 C414.0,228.0 416.0,230.0 418.0,230.9 C420.0,231.8 422.0,232.2 424.0,231.9 C426.0,231.5 428.0,230.2 430.0,228.8 C432.0,227.5 434.0,225.6 436.0,224.0 C438.0,222.3 440.0,220.5 442.0,218.9 C444.0,217.3 446.0,215.7 448.0,214.4 C450.0,213.1 452.0,212.0 454.0,211.1 C456.0,210.2 458.0,209.5 460.0,208.9 C462.0,208.4 464.0,208.1 466.0,208.0 C468.0,207.8 470.0,207.9 472.0,208.2 C474.0,208.4 476.0,208.9 478.0,209.6 C480.0,210.3 482.0,211.1 484.0,212.2 C486.0,213.3 488.0,214.7 490.0,216.1 C492.0,217.6 494.0,219.3 496.0,221.2 C498.0,223.0 500.0,225.0 502.0,227.0 C504.0,229.1 506.0,231.4 508.0,233.6 C510.0,235.8 512.0,238.1 514.0,240.3 C516.0,242.5 518.0,244.7 520.0,246.7 C522.0,248.7 524.0,250.6 526.0,252.3 C528.0,254.0 530.0,255.5 532.0,257.0 C534.0,258.5 536.0,259.9 538.0,261.5 C540.0,263.1 542.0,264.8 544.0,266.5 C546.0,268.2 548.0,270.3 550.0,271.6 C552.0,272.9 554.0,274.0 556.0,274.2 C558.0,274.3 560.0,273.4 562.0,272.4 C564.0,271.3 566.0,269.5 568.0,267.9 C570.0,266.3 572.0,264.5 574.0,262.8 C576.0,261.2 578.0,259.5 580.0,258.0 C582.0,256.6 584.0,255.3 586.0,254.3 C588.0,253.2 590.0,252.4 592.0,251.7 C594.0,251.0 596.0,250.6 598.0,250.3 C600.0,250.0 602.0,249.9 604.0,250.0 C606.0,250.2 608.0,250.5 610.0,251.0 C612.0,251.5 614.0,252.3 616.0,253.2 C618.0,254.1 620.0,255.3 622.0,256.7 C624.0,258.0 626.0,259.6 628.0,261.3 C630.0,263.1 632.0,265.0 634.0,266.9 C636.0,268.9 638.0,271.1 640.0,273.2 C642.0,275.4 644.0,277.6 646.0,279.8 C648.0,282.0 650.0,284.3 652.0,286.4 C654.0,288.5 656.0,290.6 658.0,292.5 C660.0,294.4 662.0,296.2 664.0,297.8 C666.0,299.5 668.0,301.0 670.0,302.5 C672.0,304.0 674.0,305.4 676.0,306.8 C678.0,308.2 680.0,309.5 682.0,310.9 C684.0,312.3 687.0,314.4 688.0,315.1 L690,420 L40,420 Z"/></clipPath>
<linearGradient id="gLPbot" gradientUnits="objectBoundingBox" x1="0" y1="0" x2="0" y2="1"><stop offset="0" stop-color="#000" stop-opacity="0.0"/><stop offset="1" stop-color="#000" stop-opacity="0.0"/></linearGradient>
<linearGradient id="gLPleft" gradientUnits="userSpaceOnUse" x1="52" y1="0" x2="100" y2="0"><stop offset="0" stop-color="#ffffff" stop-opacity="0.45"/><stop offset="1" stop-color="#ffffff" stop-opacity="0.0"/></linearGradient>
<linearGradient id="gHand" gradientUnits="objectBoundingBox" x1="0" y1="0" x2="0" y2="1"><stop offset="0" stop-color="#eaeaec"/><stop offset="0.5" stop-color="#e5e5e8"/><stop offset="1" stop-color="#dcdcdf"/></linearGradient>
<clipPath id="cpHand"><path d="M302.9,144.2 C304.8,144.4 309.1,143.9 314.0,145.5 C318.9,147.1 327.6,151.1 332.4,154.0 C337.2,156.9 338.5,159.7 342.9,163.2 C347.3,166.7 351.6,171.7 358.6,175.0 C365.6,178.3 376.1,180.9 384.8,182.9 C393.5,184.9 402.3,185.5 411.0,186.8 C419.7,188.1 428.9,189.1 437.2,190.7 C445.5,192.3 456.0,194.9 460.7,196.6 C465.4,198.3 464.7,200.3 465.5,201.0 L466.5,224.0 C466.1,227.2 465.0,239.4 464.0,243.0 C463.0,246.6 465.2,245.9 460.7,245.7 C456.2,245.5 445.5,243.1 437.2,241.8 C428.9,240.5 419.7,239.0 411.0,237.9 C402.3,236.8 392.4,236.8 384.8,235.3 C377.2,233.8 370.6,231.3 365.1,228.7 C359.6,226.1 356.4,222.8 352.0,219.5 C347.6,216.2 343.3,211.7 338.9,209.1 C334.5,206.5 331.2,205.3 325.8,203.8 C320.4,202.3 309.9,201.2 306.2,199.9 C302.5,198.6 304.0,196.7 303.6,196.0 Z"/></clipPath>
<linearGradient id="gFlap" gradientUnits="userSpaceOnUse" x1="664" y1="0" x2="675" y2="0"><stop offset="0" stop-color="#e2e3e6"/><stop offset="0.45" stop-color="#d3d6dc"/><stop offset="1" stop-color="#b4bccb"/></linearGradient>
<clipPath id="cpRP"><polygon points="1392.6,427.0 1440.0,443.5 1480.0,457.0 1520.0,469.2 1560.0,481.4 1600.0,493.6 1640.0,505.8 1682.0,518.5 1703.0,523.0 1715.8,524.5 1714.5,640.0 1712.0,729.6 1711.0,729.6 1700.0,728.5 1677.9,724.4 1640.0,714.9 1600.0,700.0 1560.0,684.7 1520.0,671.3 1474.7,656.3 1440.0,644.6 1390.4,627.9"/></clipPath>
<linearGradient id="gRP" gradientUnits="userSpaceOnUse" x1="1392" y1="0" x2="1715" y2="0"><stop offset="0" stop-color="#dfdfe1"/><stop offset="0.5" stop-color="#dcdcde"/><stop offset="1" stop-color="#d7d7da"/></linearGradient>
<clipPath id="cpRRib"><path d="M1385.0,502.0 C1386.8,501.9 1390.4,501.7 1395.7,501.3 C1401.0,500.9 1411.2,498.9 1416.9,499.5 C1422.6,500.1 1425.4,502.2 1430.0,505.0 C1434.6,507.8 1439.8,511.7 1444.5,516.0 C1449.2,520.3 1453.4,525.8 1458.0,531.0 C1462.6,536.2 1466.6,541.6 1472.0,547.4 C1477.4,553.2 1484.4,560.9 1490.6,565.8 C1496.8,570.7 1503.2,574.8 1509.0,576.9 C1514.8,579.0 1520.1,579.4 1525.6,578.7 C1531.1,578.1 1537.1,575.1 1542.0,573.0 C1546.9,570.9 1548.8,568.2 1555.0,565.8 C1561.2,563.4 1572.3,559.2 1579.0,558.5 C1585.7,557.8 1589.8,559.7 1595.0,561.5 C1600.2,563.3 1603.2,563.9 1610.4,569.5 C1617.6,575.1 1630.4,588.4 1638.0,595.3 C1645.6,602.2 1649.8,605.8 1656.0,611.0 C1662.2,616.2 1669.3,623.1 1675.0,626.7 C1680.7,630.3 1685.1,631.0 1690.0,632.5 C1694.9,634.0 1700.2,635.6 1704.4,635.9 C1708.6,636.1 1712.5,634.5 1715.4,634.0 C1718.3,633.5 1720.9,633.2 1722.0,633.0 L1722,760 L1385,760 Z"/></clipPath>
<clipPath id="cpRPad"><path d="M1385.0,516.0 C1386.5,516.0 1389.7,515.7 1393.8,516.0 C1397.9,516.3 1405.5,516.4 1409.5,517.9 C1413.5,519.4 1415.2,521.9 1418.0,525.0 C1420.8,528.1 1422.3,531.5 1426.0,536.3 C1429.7,541.1 1435.4,548.5 1440.0,554.0 C1444.6,559.5 1448.4,564.8 1453.7,569.5 C1459.0,574.2 1465.8,579.3 1472.0,582.4 C1478.2,585.5 1486.0,587.1 1490.6,588.0 C1495.2,588.9 1495.2,589.5 1499.8,588.0 C1504.4,586.5 1512.0,581.5 1518.2,578.7 C1524.4,575.9 1530.6,573.1 1536.7,571.4 C1542.8,569.7 1549.8,568.5 1555.0,568.6 C1560.2,568.7 1563.4,570.0 1568.0,572.0 C1572.6,574.0 1575.6,575.5 1582.7,580.6 C1589.8,585.7 1601.2,595.0 1610.4,602.7 C1619.6,610.4 1628.8,620.0 1638.0,626.7 C1647.2,633.5 1658.0,639.5 1665.7,643.2 C1673.4,646.9 1678.3,648.3 1684.0,648.8 C1689.7,649.3 1695.4,647.2 1700.0,646.0 C1704.6,644.8 1708.0,642.7 1711.7,641.4 C1715.4,640.1 1720.3,638.6 1722.0,638.0 L1722,760 L1385,760 Z"/></clipPath>
<linearGradient id="gRPcorner" gradientUnits="userSpaceOnUse" x1="1640" y1="0" x2="1716" y2="0"><stop offset="0" stop-color="#8a8a92" stop-opacity="0.0"/><stop offset="1" stop-color="#8a8a92" stop-opacity="0.22"/></linearGradient>
<clipPath id="cpRF"><polygon points="1715.8,524.5 1726.0,518.0 1760.0,497.5 1800.0,476.7 1840.0,458.8 1880.0,441.0 1900.0,431.0 1900.0,633.0 1849.8,659.9 1820.0,677.0 1772.6,702.6 1734.7,720.6 1722.0,726.5 1711.0,729.6"/></clipPath>
<linearGradient id="gRF" gradientUnits="userSpaceOnUse" x1="1715" y1="0" x2="1900" y2="0"><stop offset="0" stop-color="#e0e0e3"/><stop offset="1" stop-color="#e6e6e9"/></linearGradient>
<clipPath id="cpFRib"><path d="M1710.0,626.0 C1711.0,625.4 1712.9,624.7 1715.9,622.2 C1718.9,619.7 1722.8,617.2 1728.0,611.0 C1733.2,604.8 1741.2,592.6 1746.8,584.8 C1752.4,577.0 1756.1,569.2 1761.7,564.2 C1767.3,559.2 1773.5,555.7 1780.4,554.8 C1787.3,553.9 1796.0,556.7 1802.9,558.6 C1809.8,560.5 1815.7,564.4 1821.6,566.0 C1827.5,567.6 1832.8,569.2 1838.4,568.0 C1844.0,566.8 1850.3,563.3 1855.3,558.6 C1860.3,553.9 1864.4,546.1 1868.4,539.9 C1872.5,533.7 1875.9,526.8 1879.6,521.2 C1883.3,515.6 1887.4,510.3 1890.8,506.2 C1894.2,502.1 1896.8,499.8 1900.0,496.8 C1903.2,493.8 1908.3,489.5 1910.0,488.0 L1910,760 L1712,760 Z"/></clipPath>
<clipPath id="cpFPad"><path d="M1710.0,634.0 C1711.0,633.3 1712.9,632.3 1715.9,629.7 C1718.9,627.1 1723.5,623.4 1728.0,618.4 C1732.5,613.4 1738.3,604.1 1743.0,599.7 C1747.7,595.4 1750.7,593.2 1756.0,592.3 C1761.3,591.4 1769.5,592.5 1774.8,594.1 C1780.1,595.7 1782.9,599.7 1787.9,601.6 C1792.9,603.5 1799.2,605.7 1804.8,605.4 C1810.4,605.1 1815.7,603.1 1821.6,599.7 C1827.5,596.3 1834.1,591.6 1840.3,584.8 C1846.5,577.9 1853.7,566.7 1859.0,558.6 C1864.3,550.5 1867.4,542.0 1872.1,536.1 C1876.8,530.2 1882.4,525.8 1887.1,523.0 C1891.8,520.2 1896.2,520.3 1900.0,519.3 C1903.8,518.3 1908.3,517.4 1910.0,517.0 L1910,760 L1712,760 Z"/></clipPath>
</defs>
<g id="cover-top-right">
<polygon points="1166.0,0.0 1900.0,0.0 1900.0,433.0 1800.0,478.0 1716.0,527.0 1640.0,508.0 1520.0,471.0 1394.0,430.0 1400.0,414.0 1400.2,412.5 1418.0,398.0 1443.2,379.7 1470.0,364.0 1506.3,346.9 1556.8,321.6 1607.4,296.3 1657.9,271.0 1708.4,245.8 1759.0,223.0 1809.5,200.3 1839.8,185.2 1843.0,182.0 1845.0,180.0 1820.0,162.1 1790.0,154.5 1760.0,146.9 1730.0,139.3 1700.0,131.7 1670.0,124.2 1640.0,116.6 1610.0,109.0 1580.0,101.4 1550.0,93.8 1520.0,86.3 1490.0,78.7 1460.0,71.1 1430.0,63.5 1400.0,55.9 1370.0,48.3 1340.0,40.8 1310.0,33.2 1280.0,25.6 1250.0,18.0 1220.0,10.4 1190.0,2.9" fill="url(#gTopR)" />
</g>
<g id="cover-top-left">
<path d="M57,0 L1086,0 L1086.0,0.0 L1058.0,9.0 L1029.0,19.0 L998.0,30.0 L965.8,41.0 L942.0,52.0 L918.4,63.0 L895.0,72.0 L871.0,82.0 L840.0,97.0 L808.0,110.5 L776.0,126.0 L744.7,139.0 L718.0,150.0 L691.0,164.0 L672.0,186.0 L668.0,192.0 L550.0,154.5 L440.0,118.0 L300.0,71.6 L200.0,38.7 L150.0,25.0 L100.0,11.5 L57.0,0.0 Z" fill="url(#gTopL)" />
</g>
<g clip-path="url(#cpTopL)">
<rect x="40" y="0" width="1060" height="230" fill="url(#dotsTop)" opacity="0.9"/>
<g mask="url(#mkGoldTL)"><rect x="400" y="0" width="360" height="230" fill="url(#goldT)"/></g>
<path d="M779.0,-10.0 C775.8,-7.3 767.4,0.7 759.6,6.0 C751.7,11.3 742.8,16.7 731.8,22.0 C720.9,27.3 707.2,32.7 693.8,38.0 C680.3,43.3 664.6,48.7 651.2,54.0 C637.8,59.3 624.2,64.7 613.3,70.0 C602.4,75.3 593.6,80.7 585.8,86.0 C578.0,91.3 572.9,96.7 566.4,102.0 C560.0,107.3 554.8,112.7 546.9,118.0 C539.0,123.3 530.0,128.7 519.0,134.0 C508.0,139.3 494.2,144.7 480.8,150.0 C467.3,155.3 451.6,160.7 438.2,166.0 C424.8,171.3 406.8,179.3 400.5,182.0" fill="none" stroke="#d8d8da" stroke-width="2.6" opacity="0.5" filter="url(#b1)"/>
<path d="M782.0,-9.0 C778.8,-6.3 770.4,1.7 762.6,7.0 C754.7,12.3 745.8,17.7 734.8,23.0 C723.9,28.3 710.2,33.7 696.8,39.0 C683.3,44.3 667.6,49.7 654.2,55.0 C640.8,60.3 627.2,65.7 616.3,71.0 C605.4,76.3 596.6,81.7 588.8,87.0 C581.0,92.3 575.9,97.7 569.4,103.0 C563.0,108.3 557.8,113.7 549.9,119.0 C542.0,124.3 533.0,129.7 522.0,135.0 C511.0,140.3 497.2,145.7 483.8,151.0 C470.3,156.3 454.6,161.7 441.2,167.0 C427.8,172.3 409.8,180.3 403.5,183.0" fill="none" stroke="#fafafa" stroke-width="2.4" opacity="0.6" filter="url(#b1)"/>
<path d="M880.7,-10.0 C876.8,-7.3 866.9,0.7 857.4,6.0 C847.9,11.3 836.2,16.7 823.6,22.0 C811.1,27.3 795.8,32.7 782.0,38.0 C768.2,43.3 753.2,48.7 740.9,54.0 C728.7,59.3 717.7,64.7 708.6,70.0 C699.5,75.3 693.1,80.7 686.4,86.0 C679.6,91.3 675.1,96.7 668.1,102.0 C661.2,107.3 654.2,112.7 644.6,118.0 C635.1,123.3 623.3,128.7 610.7,134.0 C598.1,139.3 582.7,144.7 568.9,150.0 C555.2,155.3 540.2,160.7 528.0,166.0 C515.8,171.3 501.2,179.3 495.8,182.0" fill="none" stroke="#d8d8da" stroke-width="2.6" opacity="0.5" filter="url(#b1)"/>
<path d="M883.7,-9.0 C879.8,-6.3 869.9,1.7 860.4,7.0 C850.9,12.3 839.2,17.7 826.6,23.0 C814.1,28.3 798.8,33.7 785.0,39.0 C771.2,44.3 756.2,49.7 743.9,55.0 C731.7,60.3 720.7,65.7 711.6,71.0 C702.5,76.3 696.1,81.7 689.4,87.0 C682.6,92.3 678.1,97.7 671.1,103.0 C664.2,108.3 657.2,113.7 647.6,119.0 C638.1,124.3 626.3,129.7 613.7,135.0 C601.1,140.3 585.7,145.7 571.9,151.0 C558.2,156.3 543.2,161.7 531.0,167.0 C518.8,172.3 504.2,180.3 498.8,183.0" fill="none" stroke="#fafafa" stroke-width="2.4" opacity="0.6" filter="url(#b1)"/>
<path d="M980.8,-10.0 C976.0,-7.3 963.2,0.7 951.8,6.0 C940.5,11.3 926.5,16.7 912.9,22.0 C899.3,27.3 883.6,32.7 870.4,38.0 C857.1,43.3 844.0,48.7 833.5,54.0 C822.9,59.3 814.7,64.7 807.1,70.0 C799.6,75.3 794.7,80.7 788.2,86.0 C781.7,91.3 776.3,96.7 768.1,102.0 C759.9,107.3 750.3,112.7 739.0,118.0 C727.6,123.3 713.5,128.7 699.9,134.0 C686.3,139.3 670.6,144.7 657.4,150.0 C644.2,155.3 631.1,160.7 620.7,166.0 C610.2,171.3 598.9,179.3 594.5,182.0" fill="none" stroke="#d8d8da" stroke-width="2.6" opacity="0.5" filter="url(#b1)"/>
<path d="M983.8,-9.0 C979.0,-6.3 966.2,1.7 954.8,7.0 C943.5,12.3 929.5,17.7 915.9,23.0 C902.3,28.3 886.6,33.7 873.4,39.0 C860.1,44.3 847.0,49.7 836.5,55.0 C825.9,60.3 817.7,65.7 810.1,71.0 C802.6,76.3 797.7,81.7 791.2,87.0 C784.7,92.3 779.3,97.7 771.1,103.0 C762.9,108.3 753.3,113.7 742.0,119.0 C730.6,124.3 716.5,129.7 702.9,135.0 C689.3,140.3 673.6,145.7 660.4,151.0 C647.2,156.3 634.1,161.7 623.7,167.0 C613.2,172.3 601.9,180.3 597.5,183.0" fill="none" stroke="#fafafa" stroke-width="2.4" opacity="0.6" filter="url(#b1)"/>
<path d="M1078.0,-10.0 C1072.1,-7.3 1055.9,0.7 1043.1,6.0 C1030.2,11.3 1014.7,16.7 1001.0,22.0 C987.2,27.3 972.5,32.7 960.6,38.0 C948.7,43.3 938.2,48.7 929.4,54.0 C920.7,59.3 914.7,64.7 908.1,70.0 C901.5,75.3 896.8,80.7 889.7,86.0 C882.5,91.3 875.1,96.7 865.2,102.0 C855.2,107.3 843.0,112.7 830.1,118.0 C817.2,123.3 801.7,128.7 788.0,134.0 C774.2,139.3 759.6,144.7 747.7,150.0 C735.8,155.3 725.4,160.7 716.7,166.0 C708.0,171.3 699.1,179.3 695.5,182.0" fill="none" stroke="#d8d8da" stroke-width="2.6" opacity="0.5" filter="url(#b1)"/>
<path d="M1081.0,-9.0 C1075.1,-6.3 1058.9,1.7 1046.1,7.0 C1033.2,12.3 1017.7,17.7 1004.0,23.0 C990.2,28.3 975.5,33.7 963.6,39.0 C951.7,44.3 941.2,49.7 932.4,55.0 C923.7,60.3 917.7,65.7 911.1,71.0 C904.5,76.3 899.8,81.7 892.7,87.0 C885.5,92.3 878.1,97.7 868.2,103.0 C858.2,108.3 846.0,113.7 833.1,119.0 C820.2,124.3 804.7,129.7 791.0,135.0 C777.2,140.3 762.6,145.7 750.7,151.0 C738.8,156.3 728.4,161.7 719.7,167.0 C711.0,172.3 702.1,180.3 698.5,183.0" fill="none" stroke="#fafafa" stroke-width="2.4" opacity="0.6" filter="url(#b1)"/>
</g>
<g clip-path="url(#cpTopR)">
<rect x="1180" y="0" width="730" height="540" fill="url(#dotsTop)" opacity="0.9"/>
<g mask="url(#mkGoldTR)"><rect x="1400" y="0" width="520" height="260" fill="url(#goldT2)"/></g>
<path d="M1420.0,420.0 C1425.7,423.3 1442.7,434.9 1454.0,440.1 C1465.3,445.3 1476.7,449.3 1488.0,451.3 C1499.3,453.3 1510.7,452.4 1522.0,452.2 C1533.3,452.0 1544.7,449.7 1556.0,450.0 C1567.3,450.4 1578.7,451.2 1590.0,454.5 C1601.3,457.8 1612.7,463.7 1624.0,469.8 C1635.3,475.9 1646.7,484.7 1658.0,491.2 C1669.3,497.6 1680.7,504.5 1692.0,508.6 C1703.3,512.6 1714.7,514.6 1726.0,515.5 C1737.3,516.4 1748.7,514.4 1760.0,514.0 C1771.3,513.7 1782.7,512.0 1794.0,513.4 C1805.3,514.7 1816.7,517.5 1828.0,522.0 C1839.3,526.6 1850.7,534.1 1862.0,540.7 C1873.3,547.3 1884.7,555.9 1896.0,561.7 C1907.3,567.5 1924.3,573.1 1930.0,575.4" fill="none" stroke="#d6d6d8" stroke-width="3" opacity="0.55" filter="url(#b1)"/>
<path d="M1421.0,423.5 C1426.7,426.8 1443.7,438.4 1455.0,443.6 C1466.3,448.8 1477.7,452.8 1489.0,454.8 C1500.3,456.8 1511.7,455.9 1523.0,455.7 C1534.3,455.5 1545.7,453.2 1557.0,453.5 C1568.3,453.9 1579.7,454.7 1591.0,458.0 C1602.3,461.3 1613.7,467.2 1625.0,473.3 C1636.3,479.4 1647.7,488.2 1659.0,494.7 C1670.3,501.1 1681.7,508.0 1693.0,512.1 C1704.3,516.1 1715.7,518.1 1727.0,519.0 C1738.3,519.9 1749.7,517.9 1761.0,517.5 C1772.3,517.2 1783.7,515.5 1795.0,516.9 C1806.3,518.2 1817.7,521.0 1829.0,525.5 C1840.3,530.1 1851.7,537.6 1863.0,544.2 C1874.3,550.8 1885.7,559.4 1897.0,565.2 C1908.3,571.0 1925.3,576.6 1931.0,578.9" fill="none" stroke="#fbfbfb" stroke-width="3" opacity="0.7" filter="url(#b1)"/>
<path d="M1475.0,380.5 C1480.7,381.7 1497.7,386.7 1509.0,387.6 C1520.3,388.6 1531.7,386.6 1543.0,386.2 C1554.3,385.9 1565.7,384.2 1577.0,385.5 C1588.3,386.8 1599.7,389.5 1611.0,394.0 C1622.3,398.5 1633.7,405.9 1645.0,412.5 C1656.3,419.1 1667.7,427.7 1679.0,433.5 C1690.3,439.4 1701.7,444.6 1713.0,447.4 C1724.3,450.3 1735.7,450.4 1747.0,450.5 C1758.3,450.6 1769.7,448.2 1781.0,448.1 C1792.3,448.1 1803.7,447.8 1815.0,450.2 C1826.3,452.7 1837.7,457.4 1849.0,463.0 C1860.3,468.6 1871.7,477.1 1883.0,483.7 C1894.3,490.4 1905.7,498.2 1917.0,503.0 C1928.3,507.8 1939.7,511.0 1951.0,512.6 C1962.3,514.2 1979.3,512.6 1985.0,512.5" fill="none" stroke="#d6d6d8" stroke-width="3" opacity="0.55" filter="url(#b1)"/>
<path d="M1476.0,384.0 C1481.7,385.2 1498.7,390.2 1510.0,391.1 C1521.3,392.1 1532.7,390.1 1544.0,389.7 C1555.3,389.4 1566.7,387.7 1578.0,389.0 C1589.3,390.3 1600.7,393.0 1612.0,397.5 C1623.3,402.0 1634.7,409.4 1646.0,416.0 C1657.3,422.6 1668.7,431.2 1680.0,437.0 C1691.3,442.9 1702.7,448.1 1714.0,450.9 C1725.3,453.8 1736.7,453.9 1748.0,454.0 C1759.3,454.1 1770.7,451.7 1782.0,451.6 C1793.3,451.6 1804.7,451.3 1816.0,453.7 C1827.3,456.2 1838.7,460.9 1850.0,466.5 C1861.3,472.1 1872.7,480.6 1884.0,487.2 C1895.3,493.9 1906.7,501.7 1918.0,506.5 C1929.3,511.3 1940.7,514.5 1952.0,516.1 C1963.3,517.7 1980.3,516.1 1986.0,516.0" fill="none" stroke="#fbfbfb" stroke-width="3" opacity="0.7" filter="url(#b1)"/>
<path d="M1530.0,322.7 C1535.7,322.3 1552.7,320.4 1564.0,320.3 C1575.3,320.3 1586.7,319.9 1598.0,322.3 C1609.3,324.7 1620.7,329.3 1632.0,334.9 C1643.3,340.4 1654.7,348.8 1666.0,355.5 C1677.3,362.2 1688.7,370.0 1700.0,374.9 C1711.3,379.8 1722.7,383.1 1734.0,384.7 C1745.3,386.4 1756.7,385.1 1768.0,384.8 C1779.3,384.5 1790.7,382.3 1802.0,382.9 C1813.3,383.6 1824.7,384.9 1836.0,388.7 C1847.3,392.4 1858.7,398.8 1870.0,405.2 C1881.3,411.5 1892.7,420.3 1904.0,426.5 C1915.3,432.8 1926.7,439.2 1938.0,442.9 C1949.3,446.5 1960.7,447.8 1972.0,448.4 C1983.3,449.0 1994.7,446.8 2006.0,446.5 C2017.3,446.2 2034.3,446.7 2040.0,446.7" fill="none" stroke="#d6d6d8" stroke-width="3" opacity="0.55" filter="url(#b1)"/>
<path d="M1531.0,326.2 C1536.7,325.8 1553.7,323.9 1565.0,323.8 C1576.3,323.8 1587.7,323.4 1599.0,325.8 C1610.3,328.2 1621.7,332.8 1633.0,338.4 C1644.3,343.9 1655.7,352.3 1667.0,359.0 C1678.3,365.7 1689.7,373.5 1701.0,378.4 C1712.3,383.3 1723.7,386.6 1735.0,388.2 C1746.3,389.9 1757.7,388.6 1769.0,388.3 C1780.3,388.0 1791.7,385.8 1803.0,386.4 C1814.3,387.1 1825.7,388.4 1837.0,392.2 C1848.3,395.9 1859.7,402.3 1871.0,408.7 C1882.3,415.0 1893.7,423.8 1905.0,430.0 C1916.3,436.3 1927.7,442.7 1939.0,446.4 C1950.3,450.0 1961.7,451.3 1973.0,451.9 C1984.3,452.5 1995.7,450.3 2007.0,450.0 C2018.3,449.7 2035.3,450.2 2041.0,450.2" fill="none" stroke="#fbfbfb" stroke-width="3" opacity="0.7" filter="url(#b1)"/>
<path d="M1585.0,255.1 C1590.7,256.0 1607.7,257.0 1619.0,260.6 C1630.3,264.3 1641.7,270.7 1653.0,277.0 C1664.3,283.2 1675.7,292.0 1687.0,298.4 C1698.3,304.7 1709.7,311.1 1721.0,314.8 C1732.3,318.6 1743.7,319.9 1755.0,320.6 C1766.3,321.2 1777.7,319.0 1789.0,318.7 C1800.3,318.4 1811.7,317.1 1823.0,318.8 C1834.3,320.4 1845.7,323.7 1857.0,328.6 C1868.3,333.5 1879.7,341.3 1891.0,348.0 C1902.3,354.7 1913.7,363.1 1925.0,368.6 C1936.3,374.2 1947.7,378.8 1959.0,381.2 C1970.3,383.6 1981.7,383.2 1993.0,383.2 C2004.3,383.1 2015.7,380.6 2027.0,380.8 C2038.3,380.9 2049.7,381.2 2061.0,384.0 C2072.3,386.9 2089.3,395.8 2095.0,398.1" fill="none" stroke="#d6d6d8" stroke-width="3" opacity="0.55" filter="url(#b1)"/>
<path d="M1586.0,258.6 C1591.7,259.5 1608.7,260.5 1620.0,264.1 C1631.3,267.8 1642.7,274.2 1654.0,280.5 C1665.3,286.7 1676.7,295.5 1688.0,301.9 C1699.3,308.2 1710.7,314.6 1722.0,318.3 C1733.3,322.1 1744.7,323.4 1756.0,324.1 C1767.3,324.7 1778.7,322.5 1790.0,322.2 C1801.3,321.9 1812.7,320.6 1824.0,322.3 C1835.3,323.9 1846.7,327.2 1858.0,332.1 C1869.3,337.0 1880.7,344.8 1892.0,351.5 C1903.3,358.2 1914.7,366.6 1926.0,372.1 C1937.3,377.7 1948.7,382.3 1960.0,384.7 C1971.3,387.1 1982.7,386.7 1994.0,386.7 C2005.3,386.6 2016.7,384.1 2028.0,384.3 C2039.3,384.4 2050.7,384.7 2062.0,387.5 C2073.3,390.4 2090.3,399.3 2096.0,401.6" fill="none" stroke="#fbfbfb" stroke-width="3" opacity="0.7" filter="url(#b1)"/>
<path d="M1640.0,200.5 C1645.7,203.7 1662.7,213.1 1674.0,219.8 C1685.3,226.4 1696.7,234.9 1708.0,240.5 C1719.3,246.1 1730.7,250.8 1742.0,253.3 C1753.3,255.7 1764.7,255.4 1776.0,255.4 C1787.3,255.3 1798.7,252.9 1810.0,253.0 C1821.3,253.1 1832.7,253.2 1844.0,256.1 C1855.3,258.9 1866.7,264.1 1878.0,270.0 C1889.3,275.8 1900.7,284.4 1912.0,291.0 C1923.3,297.6 1934.7,305.0 1946.0,309.5 C1957.3,314.0 1968.7,316.7 1980.0,318.0 C1991.3,319.3 2002.7,317.6 2014.0,317.3 C2025.3,316.9 2036.7,314.9 2048.0,315.9 C2059.3,316.8 2070.7,318.9 2082.0,323.0 C2093.3,327.1 2104.7,334.1 2116.0,340.5 C2127.3,347.0 2144.3,358.3 2150.0,361.8" fill="none" stroke="#d6d6d8" stroke-width="3" opacity="0.55" filter="url(#b1)"/>
<path d="M1641.0,204.0 C1646.7,207.2 1663.7,216.6 1675.0,223.3 C1686.3,229.9 1697.7,238.4 1709.0,244.0 C1720.3,249.6 1731.7,254.3 1743.0,256.8 C1754.3,259.2 1765.7,258.9 1777.0,258.9 C1788.3,258.8 1799.7,256.4 1811.0,256.5 C1822.3,256.6 1833.7,256.7 1845.0,259.6 C1856.3,262.4 1867.7,267.6 1879.0,273.5 C1890.3,279.3 1901.7,287.9 1913.0,294.5 C1924.3,301.1 1935.7,308.5 1947.0,313.0 C1958.3,317.5 1969.7,320.2 1981.0,321.5 C1992.3,322.8 2003.7,321.1 2015.0,320.8 C2026.3,320.4 2037.7,318.4 2049.0,319.4 C2060.3,320.3 2071.7,322.4 2083.0,326.5 C2094.3,330.6 2105.7,337.6 2117.0,344.0 C2128.3,350.5 2145.3,361.8 2151.0,365.3" fill="none" stroke="#fbfbfb" stroke-width="3" opacity="0.7" filter="url(#b1)"/>
<path d="M1695.0,162.8 C1700.7,165.9 1717.7,176.9 1729.0,181.5 C1740.3,186.0 1751.7,188.8 1763.0,190.1 C1774.3,191.4 1785.7,189.8 1797.0,189.5 C1808.3,189.1 1819.7,187.1 1831.0,188.0 C1842.3,188.9 1853.7,190.9 1865.0,194.9 C1876.3,199.0 1887.7,205.9 1899.0,212.3 C1910.3,218.8 1921.7,227.6 1933.0,233.7 C1944.3,239.8 1955.7,245.7 1967.0,249.0 C1978.3,252.3 1989.7,253.1 2001.0,253.4 C2012.3,253.8 2023.7,251.5 2035.0,251.3 C2046.3,251.0 2057.7,250.2 2069.0,252.2 C2080.3,254.2 2091.7,258.2 2103.0,263.4 C2114.3,268.6 2125.7,276.8 2137.0,283.5 C2148.3,290.2 2159.7,298.4 2171.0,303.6 C2182.3,308.8 2199.3,312.9 2205.0,314.8" fill="none" stroke="#d6d6d8" stroke-width="3" opacity="0.55" filter="url(#b1)"/>
<path d="M1696.0,166.3 C1701.7,169.4 1718.7,180.4 1730.0,185.0 C1741.3,189.5 1752.7,192.3 1764.0,193.6 C1775.3,194.9 1786.7,193.3 1798.0,193.0 C1809.3,192.6 1820.7,190.6 1832.0,191.5 C1843.3,192.4 1854.7,194.4 1866.0,198.4 C1877.3,202.5 1888.7,209.4 1900.0,215.8 C1911.3,222.3 1922.7,231.1 1934.0,237.2 C1945.3,243.3 1956.7,249.2 1968.0,252.5 C1979.3,255.8 1990.7,256.6 2002.0,256.9 C2013.3,257.3 2024.7,255.0 2036.0,254.8 C2047.3,254.5 2058.7,253.7 2070.0,255.7 C2081.3,257.7 2092.7,261.7 2104.0,266.9 C2115.3,272.1 2126.7,280.3 2138.0,287.0 C2149.3,293.7 2160.7,301.9 2172.0,307.1 C2183.3,312.3 2200.3,316.4 2206.0,318.3" fill="none" stroke="#fbfbfb" stroke-width="3" opacity="0.7" filter="url(#b1)"/>
<path d="M1330.0,-30.0 C1335.0,-27.2 1350.0,-17.8 1360.0,-13.4 C1370.0,-9.1 1380.0,-5.8 1390.0,-3.8 C1400.0,-1.9 1410.0,-2.2 1420.0,-1.7 C1430.0,-1.2 1440.0,-2.2 1450.0,-0.8 C1460.0,0.5 1470.0,2.7 1480.0,6.4 C1490.0,10.1 1500.0,16.1 1510.0,21.5 C1520.0,26.9 1530.0,34.0 1540.0,38.9 C1550.0,43.8 1560.0,48.3 1570.0,50.9 C1580.0,53.5 1590.0,54.0 1600.0,54.7 C1610.0,55.4 1620.0,54.2 1630.0,55.1 C1640.0,56.0 1650.0,57.0 1660.0,60.0 C1670.0,63.0 1680.0,68.0 1690.0,73.2 C1700.0,78.3 1715.0,87.8 1720.0,90.8" fill="none" stroke="#dedede" stroke-width="2" opacity="0.5"/>
<path d="M1450.0,-24.2 C1455.0,-22.2 1470.0,-14.7 1480.0,-12.1 C1490.0,-9.4 1500.0,-8.9 1510.0,-8.2 C1520.0,-7.4 1530.0,-8.6 1540.0,-7.8 C1550.0,-6.9 1560.0,-6.0 1570.0,-3.0 C1580.0,-0.0 1590.0,4.9 1600.0,10.0 C1610.0,15.2 1620.0,22.3 1630.0,27.6 C1640.0,33.0 1650.0,38.5 1660.0,41.9 C1670.0,45.3 1680.0,46.9 1690.0,48.0 C1700.0,49.1 1710.0,48.0 1720.0,48.6 C1730.0,49.1 1740.0,49.1 1750.0,51.4 C1760.0,53.7 1770.0,57.5 1780.0,62.1 C1790.0,66.8 1800.0,73.7 1810.0,79.2 C1820.0,84.7 1835.0,92.5 1840.0,95.2" fill="none" stroke="#dedede" stroke-width="2" opacity="0.5"/>
<path d="M1570.0,-21.1 C1575.0,-20.1 1590.0,-16.1 1600.0,-14.9 C1610.0,-13.8 1620.0,-14.9 1630.0,-14.3 C1640.0,-13.7 1650.0,-13.8 1660.0,-11.6 C1670.0,-9.3 1680.0,-5.6 1690.0,-1.0 C1700.0,3.6 1710.0,10.5 1720.0,16.0 C1730.0,21.6 1740.0,28.0 1750.0,32.1 C1760.0,36.2 1770.0,39.0 1780.0,40.7 C1790.0,42.4 1800.0,41.7 1810.0,42.2 C1820.0,42.7 1830.0,42.0 1840.0,43.5 C1850.0,45.1 1860.0,47.7 1870.0,51.7 C1880.0,55.7 1890.0,62.0 1900.0,67.5 C1910.0,73.0 1920.0,80.0 1930.0,84.7 C1940.0,89.4 1955.0,93.9 1960.0,95.7" fill="none" stroke="#dedede" stroke-width="2" opacity="0.5"/>
<path d="M1690.0,-22.2 C1695.0,-22.0 1710.0,-21.1 1720.0,-20.6 C1730.0,-20.1 1740.0,-20.9 1750.0,-19.4 C1760.0,-17.8 1770.0,-15.3 1780.0,-11.3 C1790.0,-7.4 1800.0,-1.1 1810.0,4.4 C1820.0,9.8 1830.0,16.8 1840.0,21.6 C1850.0,26.3 1860.0,30.3 1870.0,32.7 C1880.0,35.1 1890.0,35.3 1900.0,35.9 C1910.0,36.5 1920.0,35.3 1930.0,36.4 C1940.0,37.4 1950.0,38.8 1960.0,42.0 C1970.0,45.3 1980.0,50.7 1990.0,56.0 C2000.0,61.2 2010.0,68.4 2020.0,73.6 C2030.0,78.8 2040.0,83.9 2050.0,87.0 C2060.0,90.1 2075.0,91.3 2080.0,92.1" fill="none" stroke="#dedede" stroke-width="2" opacity="0.5"/>
</g>
<g id="interior">
<polygon points="780.0,229.0 1041.0,122.5 1583.6,277.3 1350.0,392.0 1350.0,556.0 796.0,352.0 780.0,352.0" fill="url(#gCav)" />
<polygon points="790.0,225.0 830.0,208.0 830.0,350.0 796.0,350.0" fill="url(#gCavL)" opacity="0.85"/>
<polygon points="794.0,224.0 1041.0,122.0 1041.0,150.0 805.0,252.0" fill="#6f7b93" opacity="0.55"/>
<polygon points="765.3,234.5 795.0,222.6 796.0,349.0 766.0,363.0" fill="url(#gWallIn)" />
<polygon points="766.0,363.0 796.0,349.0 860.0,332.3 1100.0,412.2 1347.0,494.5 1347.0,556.5" fill="#eeeff2" />
<polygon points="766.0,363.0 796.0,349.0 1347.0,530.5 1347.0,556.5" fill="#f5f5f7" />
<g id="springs" clip-path="url(#cpCav)">
<path d="M1071.4,120.7 Q1069.1,134.7 1072.0,148.7 Q1069.1,162.6 1072.0,176.6 Q1069.1,190.6 1072.0,204.6 Q1069.1,218.5 1071.4,232.5 A28.3,12.1 0 0 0 1128.0,232.5 Q1130.3,218.5 1127.4,204.6 Q1130.3,190.6 1127.4,176.6 Q1130.3,162.6 1127.4,148.7 Q1130.3,134.7 1128.0,120.7 Z" fill="url(#gBlueBody)"/>
<path d="M1071.4,120.7 Q1069.1,134.7 1072.0,148.7 Q1069.1,162.6 1072.0,176.6 Q1069.1,190.6 1072.0,204.6 Q1069.1,218.5 1071.4,232.5 A28.3,12.1 0 0 0 1128.0,232.5 Q1130.3,218.5 1127.4,204.6 Q1130.3,190.6 1127.4,176.6 Q1130.3,162.6 1127.4,148.7 Q1130.3,134.7 1128.0,120.7 Z" fill="url(#gBlueShade)"/>
<path d="M1071.4,120.7 Q1069.1,134.7 1072.0,148.7 Q1069.1,162.6 1072.0,176.6 Q1069.1,190.6 1072.0,204.6 Q1069.1,218.5 1071.4,232.5 A28.3,12.1 0 0 0 1128.0,232.5 Q1130.3,218.5 1127.4,204.6 Q1130.3,190.6 1127.4,176.6 Q1130.3,162.6 1127.4,148.7 Q1130.3,134.7 1128.0,120.7 Z" fill="url(#gSegB)"/>
<path d="M1071.9,148.7 A28.3,10.9 0 0 0 1127.5,148.7" fill="none" stroke="#0a2f66" stroke-width="2.0" opacity="0.16"/>
<path d="M1071.9,176.6 A28.3,10.9 0 0 0 1127.5,176.6" fill="none" stroke="#0a2f66" stroke-width="2.0" opacity="0.16"/>
<path d="M1071.9,204.6 A28.3,10.9 0 0 0 1127.5,204.6" fill="none" stroke="#0a2f66" stroke-width="2.0" opacity="0.16"/>
<path d="M1115.3,130.4 L1115.3,242.2" stroke="#3b86c2" stroke-width="1.6" opacity="0.45"/>
<ellipse cx="1099.7" cy="122.9" rx="28.3" ry="12.1" fill="#3079ad" opacity="0.9"/>
<ellipse cx="1099.7" cy="120.7" rx="27.1" ry="11.3" fill="url(#gBlueTop)"/>
<ellipse cx="1099.7" cy="121.7" rx="15.6" ry="6.0" fill="#1f6aa8" opacity="0.45" filter="url(#b2)"/>
<path d="M1120.7,134.5 Q1118.4,148.5 1121.3,162.5 Q1118.4,176.4 1121.3,190.4 Q1118.4,204.4 1121.3,218.4 Q1118.4,232.3 1120.7,246.3 A28.3,12.1 0 0 0 1177.3,246.3 Q1179.6,232.3 1176.7,218.4 Q1179.6,204.4 1176.7,190.4 Q1179.6,176.4 1176.7,162.5 Q1179.6,148.5 1177.3,134.5 Z" fill="url(#gBlueBody)"/>
<path d="M1120.7,134.5 Q1118.4,148.5 1121.3,162.5 Q1118.4,176.4 1121.3,190.4 Q1118.4,204.4 1121.3,218.4 Q1118.4,232.3 1120.7,246.3 A28.3,12.1 0 0 0 1177.3,246.3 Q1179.6,232.3 1176.7,218.4 Q1179.6,204.4 1176.7,190.4 Q1179.6,176.4 1176.7,162.5 Q1179.6,148.5 1177.3,134.5 Z" fill="url(#gBlueShade)"/>
<path d="M1120.7,134.5 Q1118.4,148.5 1121.3,162.5 Q1118.4,176.4 1121.3,190.4 Q1118.4,204.4 1121.3,218.4 Q1118.4,232.3 1120.7,246.3 A28.3,12.1 0 0 0 1177.3,246.3 Q1179.6,232.3 1176.7,218.4 Q1179.6,204.4 1176.7,190.4 Q1179.6,176.4 1176.7,162.5 Q1179.6,148.5 1177.3,134.5 Z" fill="url(#gSegB)"/>
<path d="M1121.2,162.5 A28.3,10.9 0 0 0 1176.8,162.5" fill="none" stroke="#0a2f66" stroke-width="2.0" opacity="0.16"/>
<path d="M1121.2,190.4 A28.3,10.9 0 0 0 1176.8,190.4" fill="none" stroke="#0a2f66" stroke-width="2.0" opacity="0.16"/>
<path d="M1121.2,218.4 A28.3,10.9 0 0 0 1176.8,218.4" fill="none" stroke="#0a2f66" stroke-width="2.0" opacity="0.16"/>
<path d="M1164.6,144.2 L1164.6,256.0" stroke="#3b86c2" stroke-width="1.6" opacity="0.45"/>
<ellipse cx="1149.0" cy="136.7" rx="28.3" ry="12.1" fill="#3079ad" opacity="0.9"/>
<ellipse cx="1149.0" cy="134.5" rx="27.1" ry="11.3" fill="url(#gBlueTop)"/>
<ellipse cx="1149.0" cy="135.5" rx="15.6" ry="6.0" fill="#1f6aa8" opacity="0.45" filter="url(#b2)"/>
<path d="M1170.0,148.3 Q1167.7,162.3 1170.6,176.3 Q1167.7,190.2 1170.6,204.2 Q1167.7,218.2 1170.6,232.2 Q1167.7,246.1 1170.0,260.1 A28.3,12.1 0 0 0 1226.6,260.1 Q1228.9,246.1 1226.0,232.2 Q1228.9,218.2 1226.0,204.2 Q1228.9,190.2 1226.0,176.3 Q1228.9,162.3 1226.6,148.3 Z" fill="url(#gBlueBody)"/>
<path d="M1170.0,148.3 Q1167.7,162.3 1170.6,176.3 Q1167.7,190.2 1170.6,204.2 Q1167.7,218.2 1170.6,232.2 Q1167.7,246.1 1170.0,260.1 A28.3,12.1 0 0 0 1226.6,260.1 Q1228.9,246.1 1226.0,232.2 Q1228.9,218.2 1226.0,204.2 Q1228.9,190.2 1226.0,176.3 Q1228.9,162.3 1226.6,148.3 Z" fill="url(#gBlueShade)"/>
<path d="M1170.0,148.3 Q1167.7,162.3 1170.6,176.3 Q1167.7,190.2 1170.6,204.2 Q1167.7,218.2 1170.6,232.2 Q1167.7,246.1 1170.0,260.1 A28.3,12.1 0 0 0 1226.6,260.1 Q1228.9,246.1 1226.0,232.2 Q1228.9,218.2 1226.0,204.2 Q1228.9,190.2 1226.0,176.3 Q1228.9,162.3 1226.6,148.3 Z" fill="url(#gSegB)"/>
<path d="M1170.5,176.3 A28.3,10.9 0 0 0 1226.1,176.3" fill="none" stroke="#0a2f66" stroke-width="2.0" opacity="0.16"/>
<path d="M1170.5,204.2 A28.3,10.9 0 0 0 1226.1,204.2" fill="none" stroke="#0a2f66" stroke-width="2.0" opacity="0.16"/>
<path d="M1170.5,232.2 A28.3,10.9 0 0 0 1226.1,232.2" fill="none" stroke="#0a2f66" stroke-width="2.0" opacity="0.16"/>
<path d="M1213.9,158.0 L1213.9,269.8" stroke="#3b86c2" stroke-width="1.6" opacity="0.45"/>
<ellipse cx="1198.3" cy="150.5" rx="28.3" ry="12.1" fill="#3079ad" opacity="0.9"/>
<ellipse cx="1198.3" cy="148.3" rx="27.1" ry="11.3" fill="url(#gBlueTop)"/>
<ellipse cx="1198.3" cy="149.3" rx="15.6" ry="6.0" fill="#1f6aa8" opacity="0.45" filter="url(#b2)"/>
<path d="M1219.3,162.1 Q1217.0,176.1 1219.9,190.1 Q1217.0,204.0 1219.9,218.0 Q1217.0,232.0 1219.9,246.0 Q1217.0,259.9 1219.3,273.9 A28.3,12.1 0 0 0 1275.9,273.9 Q1278.2,259.9 1275.3,246.0 Q1278.2,232.0 1275.3,218.0 Q1278.2,204.0 1275.3,190.1 Q1278.2,176.1 1275.9,162.1 Z" fill="url(#gBlueBody)"/>
<path d="M1219.3,162.1 Q1217.0,176.1 1219.9,190.1 Q1217.0,204.0 1219.9,218.0 Q1217.0,232.0 1219.9,246.0 Q1217.0,259.9 1219.3,273.9 A28.3,12.1 0 0 0 1275.9,273.9 Q1278.2,259.9 1275.3,246.0 Q1278.2,232.0 1275.3,218.0 Q1278.2,204.0 1275.3,190.1 Q1278.2,176.1 1275.9,162.1 Z" fill="url(#gBlueShade)"/>
<path d="M1219.3,162.1 Q1217.0,176.1 1219.9,190.1 Q1217.0,204.0 1219.9,218.0 Q1217.0,232.0 1219.9,246.0 Q1217.0,259.9 1219.3,273.9 A28.3,12.1 0 0 0 1275.9,273.9 Q1278.2,259.9 1275.3,246.0 Q1278.2,232.0 1275.3,218.0 Q1278.2,204.0 1275.3,190.1 Q1278.2,176.1 1275.9,162.1 Z" fill="url(#gSegB)"/>
<path d="M1219.8,190.1 A28.3,10.9 0 0 0 1275.4,190.1" fill="none" stroke="#0a2f66" stroke-width="2.0" opacity="0.16"/>
<path d="M1219.8,218.0 A28.3,10.9 0 0 0 1275.4,218.0" fill="none" stroke="#0a2f66" stroke-width="2.0" opacity="0.16"/>
<path d="M1219.8,246.0 A28.3,10.9 0 0 0 1275.4,246.0" fill="none" stroke="#0a2f66" stroke-width="2.0" opacity="0.16"/>
<path d="M1263.2,171.8 L1263.2,283.6" stroke="#3b86c2" stroke-width="1.6" opacity="0.45"/>
<ellipse cx="1247.6" cy="164.3" rx="28.3" ry="12.1" fill="#3079ad" opacity="0.9"/>
<ellipse cx="1247.6" cy="162.1" rx="27.1" ry="11.3" fill="url(#gBlueTop)"/>
<ellipse cx="1247.6" cy="163.1" rx="15.6" ry="6.0" fill="#1f6aa8" opacity="0.45" filter="url(#b2)"/>
<path d="M1268.6,175.9 Q1266.3,189.9 1269.2,203.9 Q1266.3,217.8 1269.2,231.8 Q1266.3,245.8 1269.2,259.8 Q1266.3,273.7 1268.6,287.7 A28.3,12.1 0 0 0 1325.2,287.7 Q1327.5,273.7 1324.6,259.8 Q1327.5,245.8 1324.6,231.8 Q1327.5,217.8 1324.6,203.9 Q1327.5,189.9 1325.2,175.9 Z" fill="url(#gWhiteBody)"/>
<path d="M1268.6,175.9 Q1266.3,189.9 1269.2,203.9 Q1266.3,217.8 1269.2,231.8 Q1266.3,245.8 1269.2,259.8 Q1266.3,273.7 1268.6,287.7 A28.3,12.1 0 0 0 1325.2,287.7 Q1327.5,273.7 1324.6,259.8 Q1327.5,245.8 1324.6,231.8 Q1327.5,217.8 1324.6,203.9 Q1327.5,189.9 1325.2,175.9 Z" fill="url(#gWhiteShade)"/>
<path d="M1268.6,175.9 Q1266.3,189.9 1269.2,203.9 Q1266.3,217.8 1269.2,231.8 Q1266.3,245.8 1269.2,259.8 Q1266.3,273.7 1268.6,287.7 A28.3,12.1 0 0 0 1325.2,287.7 Q1327.5,273.7 1324.6,259.8 Q1327.5,245.8 1324.6,231.8 Q1327.5,217.8 1324.6,203.9 Q1327.5,189.9 1325.2,175.9 Z" fill="url(#gSegW)"/>
<path d="M1269.1,203.9 A28.3,10.9 0 0 0 1324.7,203.9" fill="none" stroke="#9aa0ad" stroke-width="2.0" opacity="0.20"/>
<path d="M1269.1,231.8 A28.3,10.9 0 0 0 1324.7,231.8" fill="none" stroke="#9aa0ad" stroke-width="2.0" opacity="0.20"/>
<path d="M1269.1,259.8 A28.3,10.9 0 0 0 1324.7,259.8" fill="none" stroke="#9aa0ad" stroke-width="2.0" opacity="0.20"/>
<path d="M1312.5,185.6 L1312.5,297.4" stroke="#eceef1" stroke-width="1.6" opacity="0.45"/>
<ellipse cx="1296.9" cy="178.1" rx="28.3" ry="12.1" fill="#eceef2" opacity="0.9"/>
<ellipse cx="1296.9" cy="175.9" rx="27.1" ry="11.3" fill="url(#gWhiteTop)"/>
<ellipse cx="1296.9" cy="176.9" rx="15.6" ry="6.0" fill="#cfd2d9" opacity="0.45" filter="url(#b2)"/>
<path d="M1317.9,189.7 Q1315.6,203.7 1318.5,217.7 Q1315.6,231.6 1318.5,245.6 Q1315.6,259.6 1318.5,273.6 Q1315.6,287.5 1317.9,301.5 A28.3,12.1 0 0 0 1374.5,301.5 Q1376.8,287.5 1373.9,273.6 Q1376.8,259.6 1373.9,245.6 Q1376.8,231.6 1373.9,217.7 Q1376.8,203.7 1374.5,189.7 Z" fill="url(#gWhiteBody)"/>
<path d="M1317.9,189.7 Q1315.6,203.7 1318.5,217.7 Q1315.6,231.6 1318.5,245.6 Q1315.6,259.6 1318.5,273.6 Q1315.6,287.5 1317.9,301.5 A28.3,12.1 0 0 0 1374.5,301.5 Q1376.8,287.5 1373.9,273.6 Q1376.8,259.6 1373.9,245.6 Q1376.8,231.6 1373.9,217.7 Q1376.8,203.7 1374.5,189.7 Z" fill="url(#gWhiteShade)"/>
<path d="M1317.9,189.7 Q1315.6,203.7 1318.5,217.7 Q1315.6,231.6 1318.5,245.6 Q1315.6,259.6 1318.5,273.6 Q1315.6,287.5 1317.9,301.5 A28.3,12.1 0 0 0 1374.5,301.5 Q1376.8,287.5 1373.9,273.6 Q1376.8,259.6 1373.9,245.6 Q1376.8,231.6 1373.9,217.7 Q1376.8,203.7 1374.5,189.7 Z" fill="url(#gSegW)"/>
<path d="M1318.4,217.7 A28.3,10.9 0 0 0 1374.0,217.7" fill="none" stroke="#9aa0ad" stroke-width="2.0" opacity="0.20"/>
<path d="M1318.4,245.6 A28.3,10.9 0 0 0 1374.0,245.6" fill="none" stroke="#9aa0ad" stroke-width="2.0" opacity="0.20"/>
<path d="M1318.4,273.6 A28.3,10.9 0 0 0 1374.0,273.6" fill="none" stroke="#9aa0ad" stroke-width="2.0" opacity="0.20"/>
<path d="M1361.8,199.4 L1361.8,311.2" stroke="#eceef1" stroke-width="1.6" opacity="0.45"/>
<ellipse cx="1346.2" cy="191.9" rx="28.3" ry="12.1" fill="#eceef2" opacity="0.9"/>
<ellipse cx="1346.2" cy="189.7" rx="27.1" ry="11.3" fill="url(#gWhiteTop)"/>
<ellipse cx="1346.2" cy="190.7" rx="15.6" ry="6.0" fill="#cfd2d9" opacity="0.45" filter="url(#b2)"/>
<path d="M1367.2,203.5 Q1364.9,217.5 1367.8,231.5 Q1364.9,245.4 1367.8,259.4 Q1364.9,273.4 1367.8,287.4 Q1364.9,301.3 1367.2,315.3 A28.3,12.1 0 0 0 1423.8,315.3 Q1426.1,301.3 1423.2,287.4 Q1426.1,273.4 1423.2,259.4 Q1426.1,245.4 1423.2,231.5 Q1426.1,217.5 1423.8,203.5 Z" fill="url(#gWhiteBody)"/>
<path d="M1367.2,203.5 Q1364.9,217.5 1367.8,231.5 Q1364.9,245.4 1367.8,259.4 Q1364.9,273.4 1367.8,287.4 Q1364.9,301.3 1367.2,315.3 A28.3,12.1 0 0 0 1423.8,315.3 Q1426.1,301.3 1423.2,287.4 Q1426.1,273.4 1423.2,259.4 Q1426.1,245.4 1423.2,231.5 Q1426.1,217.5 1423.8,203.5 Z" fill="url(#gWhiteShade)"/>
<path d="M1367.2,203.5 Q1364.9,217.5 1367.8,231.5 Q1364.9,245.4 1367.8,259.4 Q1364.9,273.4 1367.8,287.4 Q1364.9,301.3 1367.2,315.3 A28.3,12.1 0 0 0 1423.8,315.3 Q1426.1,301.3 1423.2,287.4 Q1426.1,273.4 1423.2,259.4 Q1426.1,245.4 1423.2,231.5 Q1426.1,217.5 1423.8,203.5 Z" fill="url(#gSegW)"/>
<path d="M1367.7,231.5 A28.3,10.9 0 0 0 1423.3,231.5" fill="none" stroke="#9aa0ad" stroke-width="2.0" opacity="0.20"/>
<path d="M1367.7,259.4 A28.3,10.9 0 0 0 1423.3,259.4" fill="none" stroke="#9aa0ad" stroke-width="2.0" opacity="0.20"/>
<path d="M1367.7,287.4 A28.3,10.9 0 0 0 1423.3,287.4" fill="none" stroke="#9aa0ad" stroke-width="2.0" opacity="0.20"/>
<path d="M1411.1,213.2 L1411.1,325.0" stroke="#eceef1" stroke-width="1.6" opacity="0.45"/>
<ellipse cx="1395.5" cy="205.7" rx="28.3" ry="12.1" fill="#eceef2" opacity="0.9"/>
<ellipse cx="1395.5" cy="203.5" rx="27.1" ry="11.3" fill="url(#gWhiteTop)"/>
<ellipse cx="1395.5" cy="204.5" rx="15.6" ry="6.0" fill="#cfd2d9" opacity="0.45" filter="url(#b2)"/>
<path d="M1416.5,217.3 Q1414.2,231.3 1417.1,245.3 Q1414.2,259.2 1417.1,273.2 Q1414.2,287.2 1417.1,301.2 Q1414.2,315.1 1416.5,329.1 A28.3,12.1 0 0 0 1473.1,329.1 Q1475.4,315.1 1472.5,301.2 Q1475.4,287.2 1472.5,273.2 Q1475.4,259.2 1472.5,245.3 Q1475.4,231.3 1473.1,217.3 Z" fill="url(#gWhiteBody)"/>
<path d="M1416.5,217.3 Q1414.2,231.3 1417.1,245.3 Q1414.2,259.2 1417.1,273.2 Q1414.2,287.2 1417.1,301.2 Q1414.2,315.1 1416.5,329.1 A28.3,12.1 0 0 0 1473.1,329.1 Q1475.4,315.1 1472.5,301.2 Q1475.4,287.2 1472.5,273.2 Q1475.4,259.2 1472.5,245.3 Q1475.4,231.3 1473.1,217.3 Z" fill="url(#gWhiteShade)"/>
<path d="M1416.5,217.3 Q1414.2,231.3 1417.1,245.3 Q1414.2,259.2 1417.1,273.2 Q1414.2,287.2 1417.1,301.2 Q1414.2,315.1 1416.5,329.1 A28.3,12.1 0 0 0 1473.1,329.1 Q1475.4,315.1 1472.5,301.2 Q1475.4,287.2 1472.5,273.2 Q1475.4,259.2 1472.5,245.3 Q1475.4,231.3 1473.1,217.3 Z" fill="url(#gSegW)"/>
<path d="M1417.0,245.3 A28.3,10.9 0 0 0 1472.6,245.3" fill="none" stroke="#9aa0ad" stroke-width="2.0" opacity="0.20"/>
<path d="M1417.0,273.2 A28.3,10.9 0 0 0 1472.6,273.2" fill="none" stroke="#9aa0ad" stroke-width="2.0" opacity="0.20"/>
<path d="M1417.0,301.2 A28.3,10.9 0 0 0 1472.6,301.2" fill="none" stroke="#9aa0ad" stroke-width="2.0" opacity="0.20"/>
<path d="M1460.4,227.0 L1460.4,338.8" stroke="#eceef1" stroke-width="1.6" opacity="0.45"/>
<ellipse cx="1444.8" cy="219.5" rx="28.3" ry="12.1" fill="#eceef2" opacity="0.9"/>
<ellipse cx="1444.8" cy="217.3" rx="27.1" ry="11.3" fill="url(#gWhiteTop)"/>
<ellipse cx="1444.8" cy="218.3" rx="15.6" ry="6.0" fill="#cfd2d9" opacity="0.45" filter="url(#b2)"/>
<path d="M1465.8,231.1 Q1463.5,245.1 1466.4,259.1 Q1463.5,273.0 1466.4,287.0 Q1463.5,301.0 1466.4,315.0 Q1463.5,328.9 1465.8,342.9 A28.3,12.1 0 0 0 1522.4,342.9 Q1524.7,328.9 1521.8,315.0 Q1524.7,301.0 1521.8,287.0 Q1524.7,273.0 1521.8,259.1 Q1524.7,245.1 1522.4,231.1 Z" fill="url(#gBlueBodyR)"/>
<path d="M1465.8,231.1 Q1463.5,245.1 1466.4,259.1 Q1463.5,273.0 1466.4,287.0 Q1463.5,301.0 1466.4,315.0 Q1463.5,328.9 1465.8,342.9 A28.3,12.1 0 0 0 1522.4,342.9 Q1524.7,328.9 1521.8,315.0 Q1524.7,301.0 1521.8,287.0 Q1524.7,273.0 1521.8,259.1 Q1524.7,245.1 1522.4,231.1 Z" fill="url(#gBlueShadeR)"/>
<path d="M1465.8,231.1 Q1463.5,245.1 1466.4,259.1 Q1463.5,273.0 1466.4,287.0 Q1463.5,301.0 1466.4,315.0 Q1463.5,328.9 1465.8,342.9 A28.3,12.1 0 0 0 1522.4,342.9 Q1524.7,328.9 1521.8,315.0 Q1524.7,301.0 1521.8,287.0 Q1524.7,273.0 1521.8,259.1 Q1524.7,245.1 1522.4,231.1 Z" fill="url(#gSegB)"/>
<path d="M1466.3,259.1 A28.3,10.9 0 0 0 1521.9,259.1" fill="none" stroke="#0a2f66" stroke-width="2.0" opacity="0.16"/>
<path d="M1466.3,287.0 A28.3,10.9 0 0 0 1521.9,287.0" fill="none" stroke="#0a2f66" stroke-width="2.0" opacity="0.16"/>
<path d="M1466.3,315.0 A28.3,10.9 0 0 0 1521.9,315.0" fill="none" stroke="#0a2f66" stroke-width="2.0" opacity="0.16"/>
<path d="M1509.7,240.8 L1509.7,352.6" stroke="#2f78b4" stroke-width="1.6" opacity="0.45"/>
<ellipse cx="1494.1" cy="233.3" rx="28.3" ry="12.1" fill="#2a70a3" opacity="0.9"/>
<ellipse cx="1494.1" cy="231.1" rx="27.1" ry="11.3" fill="url(#gBlueTopR)"/>
<ellipse cx="1494.1" cy="232.1" rx="15.6" ry="6.0" fill="#195f9c" opacity="0.45" filter="url(#b2)"/>
<path d="M1515.1,244.9 Q1512.8,258.9 1515.7,272.9 Q1512.8,286.8 1515.7,300.8 Q1512.8,314.8 1515.7,328.8 Q1512.8,342.7 1515.1,356.7 A28.3,12.1 0 0 0 1571.7,356.7 Q1574.0,342.7 1571.1,328.8 Q1574.0,314.8 1571.1,300.8 Q1574.0,286.8 1571.1,272.9 Q1574.0,258.9 1571.7,244.9 Z" fill="url(#gBlueBodyR)"/>
<path d="M1515.1,244.9 Q1512.8,258.9 1515.7,272.9 Q1512.8,286.8 1515.7,300.8 Q1512.8,314.8 1515.7,328.8 Q1512.8,342.7 1515.1,356.7 A28.3,12.1 0 0 0 1571.7,356.7 Q1574.0,342.7 1571.1,328.8 Q1574.0,314.8 1571.1,300.8 Q1574.0,286.8 1571.1,272.9 Q1574.0,258.9 1571.7,244.9 Z" fill="url(#gBlueShadeR)"/>
<path d="M1515.1,244.9 Q1512.8,258.9 1515.7,272.9 Q1512.8,286.8 1515.7,300.8 Q1512.8,314.8 1515.7,328.8 Q1512.8,342.7 1515.1,356.7 A28.3,12.1 0 0 0 1571.7,356.7 Q1574.0,342.7 1571.1,328.8 Q1574.0,314.8 1571.1,300.8 Q1574.0,286.8 1571.1,272.9 Q1574.0,258.9 1571.7,244.9 Z" fill="url(#gSegB)"/>
<path d="M1515.6,272.9 A28.3,10.9 0 0 0 1571.2,272.9" fill="none" stroke="#0a2f66" stroke-width="2.0" opacity="0.16"/>
<path d="M1515.6,300.8 A28.3,10.9 0 0 0 1571.2,300.8" fill="none" stroke="#0a2f66" stroke-width="2.0" opacity="0.16"/>
<path d="M1515.6,328.8 A28.3,10.9 0 0 0 1571.2,328.8" fill="none" stroke="#0a2f66" stroke-width="2.0" opacity="0.16"/>
<path d="M1559.0,254.6 L1559.0,366.4" stroke="#2f78b4" stroke-width="1.6" opacity="0.45"/>
<ellipse cx="1543.4" cy="247.1" rx="28.3" ry="12.1" fill="#2a70a3" opacity="0.9"/>
<ellipse cx="1543.4" cy="244.9" rx="27.1" ry="11.3" fill="url(#gBlueTopR)"/>
<ellipse cx="1543.4" cy="245.9" rx="15.6" ry="6.0" fill="#195f9c" opacity="0.45" filter="url(#b2)"/>
<path d="M1564.4,258.7 Q1562.1,272.7 1565.0,286.7 Q1562.1,300.6 1565.0,314.6 Q1562.1,328.6 1565.0,342.6 Q1562.1,356.5 1564.4,370.5 A28.3,12.1 0 0 0 1621.0,370.5 Q1623.3,356.5 1620.4,342.6 Q1623.3,328.6 1620.4,314.6 Q1623.3,300.6 1620.4,286.7 Q1623.3,272.7 1621.0,258.7 Z" fill="url(#gBlueBodyR)"/>
<path d="M1564.4,258.7 Q1562.1,272.7 1565.0,286.7 Q1562.1,300.6 1565.0,314.6 Q1562.1,328.6 1565.0,342.6 Q1562.1,356.5 1564.4,370.5 A28.3,12.1 0 0 0 1621.0,370.5 Q1623.3,356.5 1620.4,342.6 Q1623.3,328.6 1620.4,314.6 Q1623.3,300.6 1620.4,286.7 Q1623.3,272.7 1621.0,258.7 Z" fill="url(#gBlueShadeR)"/>
<path d="M1564.4,258.7 Q1562.1,272.7 1565.0,286.7 Q1562.1,300.6 1565.0,314.6 Q1562.1,328.6 1565.0,342.6 Q1562.1,356.5 1564.4,370.5 A28.3,12.1 0 0 0 1621.0,370.5 Q1623.3,356.5 1620.4,342.6 Q1623.3,328.6 1620.4,314.6 Q1623.3,300.6 1620.4,286.7 Q1623.3,272.7 1621.0,258.7 Z" fill="url(#gSegB)"/>
<path d="M1564.9,286.7 A28.3,10.9 0 0 0 1620.5,286.7" fill="none" stroke="#0a2f66" stroke-width="2.0" opacity="0.16"/>
<path d="M1564.9,314.6 A28.3,10.9 0 0 0 1620.5,314.6" fill="none" stroke="#0a2f66" stroke-width="2.0" opacity="0.16"/>
<path d="M1564.9,342.6 A28.3,10.9 0 0 0 1620.5,342.6" fill="none" stroke="#0a2f66" stroke-width="2.0" opacity="0.16"/>
<path d="M1608.3,268.4 L1608.3,380.2" stroke="#2f78b4" stroke-width="1.6" opacity="0.45"/>
<ellipse cx="1592.7" cy="260.9" rx="28.3" ry="12.1" fill="#2a70a3" opacity="0.9"/>
<ellipse cx="1592.7" cy="258.7" rx="27.1" ry="11.3" fill="url(#gBlueTopR)"/>
<ellipse cx="1592.7" cy="259.7" rx="15.6" ry="6.0" fill="#195f9c" opacity="0.45" filter="url(#b2)"/>
<path d="M1613.7,272.5 Q1611.4,286.5 1614.3,300.5 Q1611.4,314.4 1614.3,328.4 Q1611.4,342.4 1614.3,356.4 Q1611.4,370.3 1613.7,384.3 A28.3,12.1 0 0 0 1670.3,384.3 Q1672.6,370.3 1669.7,356.4 Q1672.6,342.4 1669.7,328.4 Q1672.6,314.4 1669.7,300.5 Q1672.6,286.5 1670.3,272.5 Z" fill="url(#gBlueBodyR)"/>
<path d="M1613.7,272.5 Q1611.4,286.5 1614.3,300.5 Q1611.4,314.4 1614.3,328.4 Q1611.4,342.4 1614.3,356.4 Q1611.4,370.3 1613.7,384.3 A28.3,12.1 0 0 0 1670.3,384.3 Q1672.6,370.3 1669.7,356.4 Q1672.6,342.4 1669.7,328.4 Q1672.6,314.4 1669.7,300.5 Q1672.6,286.5 1670.3,272.5 Z" fill="url(#gBlueShadeR)"/>
<path d="M1613.7,272.5 Q1611.4,286.5 1614.3,300.5 Q1611.4,314.4 1614.3,328.4 Q1611.4,342.4 1614.3,356.4 Q1611.4,370.3 1613.7,384.3 A28.3,12.1 0 0 0 1670.3,384.3 Q1672.6,370.3 1669.7,356.4 Q1672.6,342.4 1669.7,328.4 Q1672.6,314.4 1669.7,300.5 Q1672.6,286.5 1670.3,272.5 Z" fill="url(#gSegB)"/>
<path d="M1614.2,300.5 A28.3,10.9 0 0 0 1669.8,300.5" fill="none" stroke="#0a2f66" stroke-width="2.0" opacity="0.16"/>
<path d="M1614.2,328.4 A28.3,10.9 0 0 0 1669.8,328.4" fill="none" stroke="#0a2f66" stroke-width="2.0" opacity="0.16"/>
<path d="M1614.2,356.4 A28.3,10.9 0 0 0 1669.8,356.4" fill="none" stroke="#0a2f66" stroke-width="2.0" opacity="0.16"/>
<path d="M1657.6,282.2 L1657.6,394.0" stroke="#2f78b4" stroke-width="1.6" opacity="0.45"/>
<ellipse cx="1642.0" cy="274.7" rx="28.3" ry="12.1" fill="#2a70a3" opacity="0.9"/>
<ellipse cx="1642.0" cy="272.5" rx="27.1" ry="11.3" fill="url(#gBlueTopR)"/>
<ellipse cx="1642.0" cy="273.5" rx="15.6" ry="6.0" fill="#195f9c" opacity="0.45" filter="url(#b2)"/>
<path d="M1026.8,139.0 Q1024.5,153.2 1027.4,167.3 Q1024.5,181.5 1027.4,195.6 Q1024.5,209.8 1027.4,224.0 Q1024.5,238.1 1026.8,252.3 A28.7,12.2 0 0 0 1084.2,252.3 Q1086.5,238.1 1083.6,224.0 Q1086.5,209.8 1083.6,195.6 Q1086.5,181.5 1083.6,167.3 Q1086.5,153.2 1084.2,139.0 Z" fill="url(#gBlueBody)"/>
<path d="M1026.8,139.0 Q1024.5,153.2 1027.4,167.3 Q1024.5,181.5 1027.4,195.6 Q1024.5,209.8 1027.4,224.0 Q1024.5,238.1 1026.8,252.3 A28.7,12.2 0 0 0 1084.2,252.3 Q1086.5,238.1 1083.6,224.0 Q1086.5,209.8 1083.6,195.6 Q1086.5,181.5 1083.6,167.3 Q1086.5,153.2 1084.2,139.0 Z" fill="url(#gBlueShade)"/>
<path d="M1026.8,139.0 Q1024.5,153.2 1027.4,167.3 Q1024.5,181.5 1027.4,195.6 Q1024.5,209.8 1027.4,224.0 Q1024.5,238.1 1026.8,252.3 A28.7,12.2 0 0 0 1084.2,252.3 Q1086.5,238.1 1083.6,224.0 Q1086.5,209.8 1083.6,195.6 Q1086.5,181.5 1083.6,167.3 Q1086.5,153.2 1084.2,139.0 Z" fill="url(#gSegB)"/>
<path d="M1027.3,167.3 A28.7,11.0 0 0 0 1083.7,167.3" fill="none" stroke="#0a2f66" stroke-width="2.0" opacity="0.16"/>
<path d="M1027.3,195.6 A28.7,11.0 0 0 0 1083.7,195.6" fill="none" stroke="#0a2f66" stroke-width="2.0" opacity="0.16"/>
<path d="M1027.3,224.0 A28.7,11.0 0 0 0 1083.7,224.0" fill="none" stroke="#0a2f66" stroke-width="2.0" opacity="0.16"/>
<path d="M1071.3,148.8 L1071.3,262.0" stroke="#3b86c2" stroke-width="1.6" opacity="0.45"/>
<ellipse cx="1055.5" cy="141.2" rx="28.7" ry="12.2" fill="#3079ad" opacity="0.9"/>
<ellipse cx="1055.5" cy="139.0" rx="27.5" ry="11.4" fill="url(#gBlueTop)"/>
<ellipse cx="1055.5" cy="140.0" rx="15.8" ry="6.1" fill="#1f6aa8" opacity="0.45" filter="url(#b2)"/>
<path d="M1076.6,153.3 Q1074.3,167.5 1077.2,181.6 Q1074.3,195.8 1077.2,209.9 Q1074.3,224.1 1077.2,238.3 Q1074.3,252.4 1076.6,266.6 A28.7,12.2 0 0 0 1134.0,266.6 Q1136.3,252.4 1133.4,238.3 Q1136.3,224.1 1133.4,209.9 Q1136.3,195.8 1133.4,181.6 Q1136.3,167.5 1134.0,153.3 Z" fill="url(#gBlueBody)"/>
<path d="M1076.6,153.3 Q1074.3,167.5 1077.2,181.6 Q1074.3,195.8 1077.2,209.9 Q1074.3,224.1 1077.2,238.3 Q1074.3,252.4 1076.6,266.6 A28.7,12.2 0 0 0 1134.0,266.6 Q1136.3,252.4 1133.4,238.3 Q1136.3,224.1 1133.4,209.9 Q1136.3,195.8 1133.4,181.6 Q1136.3,167.5 1134.0,153.3 Z" fill="url(#gBlueShade)"/>
<path d="M1076.6,153.3 Q1074.3,167.5 1077.2,181.6 Q1074.3,195.8 1077.2,209.9 Q1074.3,224.1 1077.2,238.3 Q1074.3,252.4 1076.6,266.6 A28.7,12.2 0 0 0 1134.0,266.6 Q1136.3,252.4 1133.4,238.3 Q1136.3,224.1 1133.4,209.9 Q1136.3,195.8 1133.4,181.6 Q1136.3,167.5 1134.0,153.3 Z" fill="url(#gSegB)"/>
<path d="M1077.1,181.6 A28.7,11.0 0 0 0 1133.5,181.6" fill="none" stroke="#0a2f66" stroke-width="2.0" opacity="0.16"/>
<path d="M1077.1,209.9 A28.7,11.0 0 0 0 1133.5,209.9" fill="none" stroke="#0a2f66" stroke-width="2.0" opacity="0.16"/>
<path d="M1077.1,238.3 A28.7,11.0 0 0 0 1133.5,238.3" fill="none" stroke="#0a2f66" stroke-width="2.0" opacity="0.16"/>
<path d="M1121.1,163.1 L1121.1,276.3" stroke="#3b86c2" stroke-width="1.6" opacity="0.45"/>
<ellipse cx="1105.3" cy="155.5" rx="28.7" ry="12.2" fill="#3079ad" opacity="0.9"/>
<ellipse cx="1105.3" cy="153.3" rx="27.5" ry="11.4" fill="url(#gBlueTop)"/>
<ellipse cx="1105.3" cy="154.3" rx="15.8" ry="6.1" fill="#1f6aa8" opacity="0.45" filter="url(#b2)"/>
<path d="M1126.4,167.6 Q1124.1,181.8 1127.0,195.9 Q1124.1,210.1 1127.0,224.2 Q1124.1,238.4 1127.0,252.6 Q1124.1,266.7 1126.4,280.9 A28.7,12.2 0 0 0 1183.8,280.9 Q1186.1,266.7 1183.2,252.6 Q1186.1,238.4 1183.2,224.2 Q1186.1,210.1 1183.2,195.9 Q1186.1,181.8 1183.8,167.6 Z" fill="url(#gBlueBody)"/>
<path d="M1126.4,167.6 Q1124.1,181.8 1127.0,195.9 Q1124.1,210.1 1127.0,224.2 Q1124.1,238.4 1127.0,252.6 Q1124.1,266.7 1126.4,280.9 A28.7,12.2 0 0 0 1183.8,280.9 Q1186.1,266.7 1183.2,252.6 Q1186.1,238.4 1183.2,224.2 Q1186.1,210.1 1183.2,195.9 Q1186.1,181.8 1183.8,167.6 Z" fill="url(#gBlueShade)"/>
<path d="M1126.4,167.6 Q1124.1,181.8 1127.0,195.9 Q1124.1,210.1 1127.0,224.2 Q1124.1,238.4 1127.0,252.6 Q1124.1,266.7 1126.4,280.9 A28.7,12.2 0 0 0 1183.8,280.9 Q1186.1,266.7 1183.2,252.6 Q1186.1,238.4 1183.2,224.2 Q1186.1,210.1 1183.2,195.9 Q1186.1,181.8 1183.8,167.6 Z" fill="url(#gSegB)"/>
<path d="M1126.9,195.9 A28.7,11.0 0 0 0 1183.3,195.9" fill="none" stroke="#0a2f66" stroke-width="2.0" opacity="0.16"/>
<path d="M1126.9,224.2 A28.7,11.0 0 0 0 1183.3,224.2" fill="none" stroke="#0a2f66" stroke-width="2.0" opacity="0.16"/>
<path d="M1126.9,252.6 A28.7,11.0 0 0 0 1183.3,252.6" fill="none" stroke="#0a2f66" stroke-width="2.0" opacity="0.16"/>
<path d="M1170.9,177.4 L1170.9,290.6" stroke="#3b86c2" stroke-width="1.6" opacity="0.45"/>
<ellipse cx="1155.1" cy="169.8" rx="28.7" ry="12.2" fill="#3079ad" opacity="0.9"/>
<ellipse cx="1155.1" cy="167.6" rx="27.5" ry="11.4" fill="url(#gBlueTop)"/>
<ellipse cx="1155.1" cy="168.6" rx="15.8" ry="6.1" fill="#1f6aa8" opacity="0.45" filter="url(#b2)"/>
<path d="M1176.2,181.9 Q1173.9,196.1 1176.8,210.2 Q1173.9,224.4 1176.8,238.5 Q1173.9,252.7 1176.8,266.9 Q1173.9,281.0 1176.2,295.2 A28.7,12.2 0 0 0 1233.6,295.2 Q1235.9,281.0 1233.0,266.9 Q1235.9,252.7 1233.0,238.5 Q1235.9,224.4 1233.0,210.2 Q1235.9,196.1 1233.6,181.9 Z" fill="url(#gBlueBody)"/>
<path d="M1176.2,181.9 Q1173.9,196.1 1176.8,210.2 Q1173.9,224.4 1176.8,238.5 Q1173.9,252.7 1176.8,266.9 Q1173.9,281.0 1176.2,295.2 A28.7,12.2 0 0 0 1233.6,295.2 Q1235.9,281.0 1233.0,266.9 Q1235.9,252.7 1233.0,238.5 Q1235.9,224.4 1233.0,210.2 Q1235.9,196.1 1233.6,181.9 Z" fill="url(#gBlueShade)"/>
<path d="M1176.2,181.9 Q1173.9,196.1 1176.8,210.2 Q1173.9,224.4 1176.8,238.5 Q1173.9,252.7 1176.8,266.9 Q1173.9,281.0 1176.2,295.2 A28.7,12.2 0 0 0 1233.6,295.2 Q1235.9,281.0 1233.0,266.9 Q1235.9,252.7 1233.0,238.5 Q1235.9,224.4 1233.0,210.2 Q1235.9,196.1 1233.6,181.9 Z" fill="url(#gSegB)"/>
<path d="M1176.7,210.2 A28.7,11.0 0 0 0 1233.1,210.2" fill="none" stroke="#0a2f66" stroke-width="2.0" opacity="0.16"/>
<path d="M1176.7,238.5 A28.7,11.0 0 0 0 1233.1,238.5" fill="none" stroke="#0a2f66" stroke-width="2.0" opacity="0.16"/>
<path d="M1176.7,266.9 A28.7,11.0 0 0 0 1233.1,266.9" fill="none" stroke="#0a2f66" stroke-width="2.0" opacity="0.16"/>
<path d="M1220.7,191.7 L1220.7,304.9" stroke="#3b86c2" stroke-width="1.6" opacity="0.45"/>
<ellipse cx="1204.9" cy="184.1" rx="28.7" ry="12.2" fill="#3079ad" opacity="0.9"/>
<ellipse cx="1204.9" cy="181.9" rx="27.5" ry="11.4" fill="url(#gBlueTop)"/>
<ellipse cx="1204.9" cy="182.9" rx="15.8" ry="6.1" fill="#1f6aa8" opacity="0.45" filter="url(#b2)"/>
<path d="M1226.0,196.2 Q1223.7,210.4 1226.6,224.5 Q1223.7,238.7 1226.6,252.8 Q1223.7,267.0 1226.6,281.2 Q1223.7,295.3 1226.0,309.5 A28.7,12.2 0 0 0 1283.4,309.5 Q1285.7,295.3 1282.8,281.2 Q1285.7,267.0 1282.8,252.8 Q1285.7,238.7 1282.8,224.5 Q1285.7,210.4 1283.4,196.2 Z" fill="url(#gWhiteBody)"/>
<path d="M1226.0,196.2 Q1223.7,210.4 1226.6,224.5 Q1223.7,238.7 1226.6,252.8 Q1223.7,267.0 1226.6,281.2 Q1223.7,295.3 1226.0,309.5 A28.7,12.2 0 0 0 1283.4,309.5 Q1285.7,295.3 1282.8,281.2 Q1285.7,267.0 1282.8,252.8 Q1285.7,238.7 1282.8,224.5 Q1285.7,210.4 1283.4,196.2 Z" fill="url(#gWhiteShade)"/>
<path d="M1226.0,196.2 Q1223.7,210.4 1226.6,224.5 Q1223.7,238.7 1226.6,252.8 Q1223.7,267.0 1226.6,281.2 Q1223.7,295.3 1226.0,309.5 A28.7,12.2 0 0 0 1283.4,309.5 Q1285.7,295.3 1282.8,281.2 Q1285.7,267.0 1282.8,252.8 Q1285.7,238.7 1282.8,224.5 Q1285.7,210.4 1283.4,196.2 Z" fill="url(#gSegW)"/>
<path d="M1226.5,224.5 A28.7,11.0 0 0 0 1282.9,224.5" fill="none" stroke="#9aa0ad" stroke-width="2.0" opacity="0.20"/>
<path d="M1226.5,252.8 A28.7,11.0 0 0 0 1282.9,252.8" fill="none" stroke="#9aa0ad" stroke-width="2.0" opacity="0.20"/>
<path d="M1226.5,281.2 A28.7,11.0 0 0 0 1282.9,281.2" fill="none" stroke="#9aa0ad" stroke-width="2.0" opacity="0.20"/>
<path d="M1270.5,206.0 L1270.5,319.2" stroke="#eceef1" stroke-width="1.6" opacity="0.45"/>
<ellipse cx="1254.7" cy="198.4" rx="28.7" ry="12.2" fill="#eceef2" opacity="0.9"/>
<ellipse cx="1254.7" cy="196.2" rx="27.5" ry="11.4" fill="url(#gWhiteTop)"/>
<ellipse cx="1254.7" cy="197.2" rx="15.8" ry="6.1" fill="#cfd2d9" opacity="0.45" filter="url(#b2)"/>
<path d="M1275.8,210.5 Q1273.5,224.7 1276.4,238.8 Q1273.5,253.0 1276.4,267.1 Q1273.5,281.3 1276.4,295.5 Q1273.5,309.6 1275.8,323.8 A28.7,12.2 0 0 0 1333.2,323.8 Q1335.5,309.6 1332.6,295.5 Q1335.5,281.3 1332.6,267.1 Q1335.5,253.0 1332.6,238.8 Q1335.5,224.7 1333.2,210.5 Z" fill="url(#gWhiteBody)"/>
<path d="M1275.8,210.5 Q1273.5,224.7 1276.4,238.8 Q1273.5,253.0 1276.4,267.1 Q1273.5,281.3 1276.4,295.5 Q1273.5,309.6 1275.8,323.8 A28.7,12.2 0 0 0 1333.2,323.8 Q1335.5,309.6 1332.6,295.5 Q1335.5,281.3 1332.6,267.1 Q1335.5,253.0 1332.6,238.8 Q1335.5,224.7 1333.2,210.5 Z" fill="url(#gWhiteShade)"/>
<path d="M1275.8,210.5 Q1273.5,224.7 1276.4,238.8 Q1273.5,253.0 1276.4,267.1 Q1273.5,281.3 1276.4,295.5 Q1273.5,309.6 1275.8,323.8 A28.7,12.2 0 0 0 1333.2,323.8 Q1335.5,309.6 1332.6,295.5 Q1335.5,281.3 1332.6,267.1 Q1335.5,253.0 1332.6,238.8 Q1335.5,224.7 1333.2,210.5 Z" fill="url(#gSegW)"/>
<path d="M1276.3,238.8 A28.7,11.0 0 0 0 1332.7,238.8" fill="none" stroke="#9aa0ad" stroke-width="2.0" opacity="0.20"/>
<path d="M1276.3,267.1 A28.7,11.0 0 0 0 1332.7,267.1" fill="none" stroke="#9aa0ad" stroke-width="2.0" opacity="0.20"/>
<path d="M1276.3,295.5 A28.7,11.0 0 0 0 1332.7,295.5" fill="none" stroke="#9aa0ad" stroke-width="2.0" opacity="0.20"/>
<path d="M1320.3,220.3 L1320.3,333.5" stroke="#eceef1" stroke-width="1.6" opacity="0.45"/>
<ellipse cx="1304.5" cy="212.7" rx="28.7" ry="12.2" fill="#eceef2" opacity="0.9"/>
<ellipse cx="1304.5" cy="210.5" rx="27.5" ry="11.4" fill="url(#gWhiteTop)"/>
<ellipse cx="1304.5" cy="211.5" rx="15.8" ry="6.1" fill="#cfd2d9" opacity="0.45" filter="url(#b2)"/>
<path d="M1325.6,224.8 Q1323.3,239.0 1326.2,253.1 Q1323.3,267.3 1326.2,281.4 Q1323.3,295.6 1326.2,309.8 Q1323.3,323.9 1325.6,338.1 A28.7,12.2 0 0 0 1383.0,338.1 Q1385.3,323.9 1382.4,309.8 Q1385.3,295.6 1382.4,281.4 Q1385.3,267.3 1382.4,253.1 Q1385.3,239.0 1383.0,224.8 Z" fill="url(#gWhiteBody)"/>
<path d="M1325.6,224.8 Q1323.3,239.0 1326.2,253.1 Q1323.3,267.3 1326.2,281.4 Q1323.3,295.6 1326.2,309.8 Q1323.3,323.9 1325.6,338.1 A28.7,12.2 0 0 0 1383.0,338.1 Q1385.3,323.9 1382.4,309.8 Q1385.3,295.6 1382.4,281.4 Q1385.3,267.3 1382.4,253.1 Q1385.3,239.0 1383.0,224.8 Z" fill="url(#gWhiteShade)"/>
<path d="M1325.6,224.8 Q1323.3,239.0 1326.2,253.1 Q1323.3,267.3 1326.2,281.4 Q1323.3,295.6 1326.2,309.8 Q1323.3,323.9 1325.6,338.1 A28.7,12.2 0 0 0 1383.0,338.1 Q1385.3,323.9 1382.4,309.8 Q1385.3,295.6 1382.4,281.4 Q1385.3,267.3 1382.4,253.1 Q1385.3,239.0 1383.0,224.8 Z" fill="url(#gSegW)"/>
<path d="M1326.1,253.1 A28.7,11.0 0 0 0 1382.5,253.1" fill="none" stroke="#9aa0ad" stroke-width="2.0" opacity="0.20"/>
<path d="M1326.1,281.4 A28.7,11.0 0 0 0 1382.5,281.4" fill="none" stroke="#9aa0ad" stroke-width="2.0" opacity="0.20"/>
<path d="M1326.1,309.8 A28.7,11.0 0 0 0 1382.5,309.8" fill="none" stroke="#9aa0ad" stroke-width="2.0" opacity="0.20"/>
<path d="M1370.1,234.6 L1370.1,347.8" stroke="#eceef1" stroke-width="1.6" opacity="0.45"/>
<ellipse cx="1354.3" cy="227.0" rx="28.7" ry="12.2" fill="#eceef2" opacity="0.9"/>
<ellipse cx="1354.3" cy="224.8" rx="27.5" ry="11.4" fill="url(#gWhiteTop)"/>
<ellipse cx="1354.3" cy="225.8" rx="15.8" ry="6.1" fill="#cfd2d9" opacity="0.45" filter="url(#b2)"/>
<path d="M1375.4,239.1 Q1373.1,253.3 1376.0,267.4 Q1373.1,281.6 1376.0,295.7 Q1373.1,309.9 1376.0,324.1 Q1373.1,338.2 1375.4,352.4 A28.7,12.2 0 0 0 1432.8,352.4 Q1435.1,338.2 1432.2,324.1 Q1435.1,309.9 1432.2,295.7 Q1435.1,281.6 1432.2,267.4 Q1435.1,253.3 1432.8,239.1 Z" fill="url(#gWhiteBody)"/>
<path d="M1375.4,239.1 Q1373.1,253.3 1376.0,267.4 Q1373.1,281.6 1376.0,295.7 Q1373.1,309.9 1376.0,324.1 Q1373.1,338.2 1375.4,352.4 A28.7,12.2 0 0 0 1432.8,352.4 Q1435.1,338.2 1432.2,324.1 Q1435.1,309.9 1432.2,295.7 Q1435.1,281.6 1432.2,267.4 Q1435.1,253.3 1432.8,239.1 Z" fill="url(#gWhiteShade)"/>
<path d="M1375.4,239.1 Q1373.1,253.3 1376.0,267.4 Q1373.1,281.6 1376.0,295.7 Q1373.1,309.9 1376.0,324.1 Q1373.1,338.2 1375.4,352.4 A28.7,12.2 0 0 0 1432.8,352.4 Q1435.1,338.2 1432.2,324.1 Q1435.1,309.9 1432.2,295.7 Q1435.1,281.6 1432.2,267.4 Q1435.1,253.3 1432.8,239.1 Z" fill="url(#gSegW)"/>
<path d="M1375.9,267.4 A28.7,11.0 0 0 0 1432.3,267.4" fill="none" stroke="#9aa0ad" stroke-width="2.0" opacity="0.20"/>
<path d="M1375.9,295.7 A28.7,11.0 0 0 0 1432.3,295.7" fill="none" stroke="#9aa0ad" stroke-width="2.0" opacity="0.20"/>
<path d="M1375.9,324.1 A28.7,11.0 0 0 0 1432.3,324.1" fill="none" stroke="#9aa0ad" stroke-width="2.0" opacity="0.20"/>
<path d="M1419.9,248.9 L1419.9,362.1" stroke="#eceef1" stroke-width="1.6" opacity="0.45"/>
<ellipse cx="1404.1" cy="241.3" rx="28.7" ry="12.2" fill="#eceef2" opacity="0.9"/>
<ellipse cx="1404.1" cy="239.1" rx="27.5" ry="11.4" fill="url(#gWhiteTop)"/>
<ellipse cx="1404.1" cy="240.1" rx="15.8" ry="6.1" fill="#cfd2d9" opacity="0.45" filter="url(#b2)"/>
<path d="M1425.2,253.4 Q1422.9,267.6 1425.8,281.7 Q1422.9,295.9 1425.8,310.0 Q1422.9,324.2 1425.8,338.4 Q1422.9,352.5 1425.2,366.7 A28.7,12.2 0 0 0 1482.6,366.7 Q1484.9,352.5 1482.0,338.4 Q1484.9,324.2 1482.0,310.0 Q1484.9,295.9 1482.0,281.7 Q1484.9,267.6 1482.6,253.4 Z" fill="url(#gBlueBodyR)"/>
<path d="M1425.2,253.4 Q1422.9,267.6 1425.8,281.7 Q1422.9,295.9 1425.8,310.0 Q1422.9,324.2 1425.8,338.4 Q1422.9,352.5 1425.2,366.7 A28.7,12.2 0 0 0 1482.6,366.7 Q1484.9,352.5 1482.0,338.4 Q1484.9,324.2 1482.0,310.0 Q1484.9,295.9 1482.0,281.7 Q1484.9,267.6 1482.6,253.4 Z" fill="url(#gBlueShadeR)"/>
<path d="M1425.2,253.4 Q1422.9,267.6 1425.8,281.7 Q1422.9,295.9 1425.8,310.0 Q1422.9,324.2 1425.8,338.4 Q1422.9,352.5 1425.2,366.7 A28.7,12.2 0 0 0 1482.6,366.7 Q1484.9,352.5 1482.0,338.4 Q1484.9,324.2 1482.0,310.0 Q1484.9,295.9 1482.0,281.7 Q1484.9,267.6 1482.6,253.4 Z" fill="url(#gSegB)"/>
<path d="M1425.7,281.7 A28.7,11.0 0 0 0 1482.1,281.7" fill="none" stroke="#0a2f66" stroke-width="2.0" opacity="0.16"/>
<path d="M1425.7,310.0 A28.7,11.0 0 0 0 1482.1,310.0" fill="none" stroke="#0a2f66" stroke-width="2.0" opacity="0.16"/>
<path d="M1425.7,338.4 A28.7,11.0 0 0 0 1482.1,338.4" fill="none" stroke="#0a2f66" stroke-width="2.0" opacity="0.16"/>
<path d="M1469.7,263.2 L1469.7,376.4" stroke="#2f78b4" stroke-width="1.6" opacity="0.45"/>
<ellipse cx="1453.9" cy="255.6" rx="28.7" ry="12.2" fill="#2a70a3" opacity="0.9"/>
<ellipse cx="1453.9" cy="253.4" rx="27.5" ry="11.4" fill="url(#gBlueTopR)"/>
<ellipse cx="1453.9" cy="254.4" rx="15.8" ry="6.1" fill="#195f9c" opacity="0.45" filter="url(#b2)"/>
<path d="M1475.0,267.7 Q1472.7,281.9 1475.6,296.0 Q1472.7,310.2 1475.6,324.3 Q1472.7,338.5 1475.6,352.7 Q1472.7,366.8 1475.0,381.0 A28.7,12.2 0 0 0 1532.4,381.0 Q1534.7,366.8 1531.8,352.7 Q1534.7,338.5 1531.8,324.3 Q1534.7,310.2 1531.8,296.0 Q1534.7,281.9 1532.4,267.7 Z" fill="url(#gBlueBodyR)"/>
<path d="M1475.0,267.7 Q1472.7,281.9 1475.6,296.0 Q1472.7,310.2 1475.6,324.3 Q1472.7,338.5 1475.6,352.7 Q1472.7,366.8 1475.0,381.0 A28.7,12.2 0 0 0 1532.4,381.0 Q1534.7,366.8 1531.8,352.7 Q1534.7,338.5 1531.8,324.3 Q1534.7,310.2 1531.8,296.0 Q1534.7,281.9 1532.4,267.7 Z" fill="url(#gBlueShadeR)"/>
<path d="M1475.0,267.7 Q1472.7,281.9 1475.6,296.0 Q1472.7,310.2 1475.6,324.3 Q1472.7,338.5 1475.6,352.7 Q1472.7,366.8 1475.0,381.0 A28.7,12.2 0 0 0 1532.4,381.0 Q1534.7,366.8 1531.8,352.7 Q1534.7,338.5 1531.8,324.3 Q1534.7,310.2 1531.8,296.0 Q1534.7,281.9 1532.4,267.7 Z" fill="url(#gSegB)"/>
<path d="M1475.5,296.0 A28.7,11.0 0 0 0 1531.9,296.0" fill="none" stroke="#0a2f66" stroke-width="2.0" opacity="0.16"/>
<path d="M1475.5,324.3 A28.7,11.0 0 0 0 1531.9,324.3" fill="none" stroke="#0a2f66" stroke-width="2.0" opacity="0.16"/>
<path d="M1475.5,352.7 A28.7,11.0 0 0 0 1531.9,352.7" fill="none" stroke="#0a2f66" stroke-width="2.0" opacity="0.16"/>
<path d="M1519.5,277.5 L1519.5,390.7" stroke="#2f78b4" stroke-width="1.6" opacity="0.45"/>
<ellipse cx="1503.7" cy="269.9" rx="28.7" ry="12.2" fill="#2a70a3" opacity="0.9"/>
<ellipse cx="1503.7" cy="267.7" rx="27.5" ry="11.4" fill="url(#gBlueTopR)"/>
<ellipse cx="1503.7" cy="268.7" rx="15.8" ry="6.1" fill="#195f9c" opacity="0.45" filter="url(#b2)"/>
<path d="M1524.8,282.0 Q1522.5,296.2 1525.4,310.3 Q1522.5,324.5 1525.4,338.6 Q1522.5,352.8 1525.4,367.0 Q1522.5,381.1 1524.8,395.3 A28.7,12.2 0 0 0 1582.2,395.3 Q1584.5,381.1 1581.6,367.0 Q1584.5,352.8 1581.6,338.6 Q1584.5,324.5 1581.6,310.3 Q1584.5,296.2 1582.2,282.0 Z" fill="url(#gBlueBodyR)"/>
<path d="M1524.8,282.0 Q1522.5,296.2 1525.4,310.3 Q1522.5,324.5 1525.4,338.6 Q1522.5,352.8 1525.4,367.0 Q1522.5,381.1 1524.8,395.3 A28.7,12.2 0 0 0 1582.2,395.3 Q1584.5,381.1 1581.6,367.0 Q1584.5,352.8 1581.6,338.6 Q1584.5,324.5 1581.6,310.3 Q1584.5,296.2 1582.2,282.0 Z" fill="url(#gBlueShadeR)"/>
<path d="M1524.8,282.0 Q1522.5,296.2 1525.4,310.3 Q1522.5,324.5 1525.4,338.6 Q1522.5,352.8 1525.4,367.0 Q1522.5,381.1 1524.8,395.3 A28.7,12.2 0 0 0 1582.2,395.3 Q1584.5,381.1 1581.6,367.0 Q1584.5,352.8 1581.6,338.6 Q1584.5,324.5 1581.6,310.3 Q1584.5,296.2 1582.2,282.0 Z" fill="url(#gSegB)"/>
<path d="M1525.3,310.3 A28.7,11.0 0 0 0 1581.7,310.3" fill="none" stroke="#0a2f66" stroke-width="2.0" opacity="0.16"/>
<path d="M1525.3,338.6 A28.7,11.0 0 0 0 1581.7,338.6" fill="none" stroke="#0a2f66" stroke-width="2.0" opacity="0.16"/>
<path d="M1525.3,367.0 A28.7,11.0 0 0 0 1581.7,367.0" fill="none" stroke="#0a2f66" stroke-width="2.0" opacity="0.16"/>
<path d="M1569.3,291.8 L1569.3,405.0" stroke="#2f78b4" stroke-width="1.6" opacity="0.45"/>
<ellipse cx="1553.5" cy="284.2" rx="28.7" ry="12.2" fill="#2a70a3" opacity="0.9"/>
<ellipse cx="1553.5" cy="282.0" rx="27.5" ry="11.4" fill="url(#gBlueTopR)"/>
<ellipse cx="1553.5" cy="283.0" rx="15.8" ry="6.1" fill="#195f9c" opacity="0.45" filter="url(#b2)"/>
<path d="M1574.6,296.3 Q1572.3,310.5 1575.2,324.6 Q1572.3,338.8 1575.2,352.9 Q1572.3,367.1 1575.2,381.3 Q1572.3,395.4 1574.6,409.6 A28.7,12.2 0 0 0 1632.0,409.6 Q1634.3,395.4 1631.4,381.3 Q1634.3,367.1 1631.4,352.9 Q1634.3,338.8 1631.4,324.6 Q1634.3,310.5 1632.0,296.3 Z" fill="url(#gBlueBodyR)"/>
<path d="M1574.6,296.3 Q1572.3,310.5 1575.2,324.6 Q1572.3,338.8 1575.2,352.9 Q1572.3,367.1 1575.2,381.3 Q1572.3,395.4 1574.6,409.6 A28.7,12.2 0 0 0 1632.0,409.6 Q1634.3,395.4 1631.4,381.3 Q1634.3,367.1 1631.4,352.9 Q1634.3,338.8 1631.4,324.6 Q1634.3,310.5 1632.0,296.3 Z" fill="url(#gBlueShadeR)"/>
<path d="M1574.6,296.3 Q1572.3,310.5 1575.2,324.6 Q1572.3,338.8 1575.2,352.9 Q1572.3,367.1 1575.2,381.3 Q1572.3,395.4 1574.6,409.6 A28.7,12.2 0 0 0 1632.0,409.6 Q1634.3,395.4 1631.4,381.3 Q1634.3,367.1 1631.4,352.9 Q1634.3,338.8 1631.4,324.6 Q1634.3,310.5 1632.0,296.3 Z" fill="url(#gSegB)"/>
<path d="M1575.1,324.6 A28.7,11.0 0 0 0 1631.5,324.6" fill="none" stroke="#0a2f66" stroke-width="2.0" opacity="0.16"/>
<path d="M1575.1,352.9 A28.7,11.0 0 0 0 1631.5,352.9" fill="none" stroke="#0a2f66" stroke-width="2.0" opacity="0.16"/>
<path d="M1575.1,381.3 A28.7,11.0 0 0 0 1631.5,381.3" fill="none" stroke="#0a2f66" stroke-width="2.0" opacity="0.16"/>
<path d="M1619.1,306.1 L1619.1,419.3" stroke="#2f78b4" stroke-width="1.6" opacity="0.45"/>
<ellipse cx="1603.3" cy="298.5" rx="28.7" ry="12.2" fill="#2a70a3" opacity="0.9"/>
<ellipse cx="1603.3" cy="296.3" rx="27.5" ry="11.4" fill="url(#gBlueTopR)"/>
<ellipse cx="1603.3" cy="297.3" rx="15.8" ry="6.1" fill="#195f9c" opacity="0.45" filter="url(#b2)"/>
<path d="M982.3,157.3 Q980.0,171.6 982.9,186.0 Q980.0,200.3 982.9,214.7 Q980.0,229.0 982.9,243.3 Q980.0,257.7 982.3,272.0 A29.0,12.4 0 0 0 1040.3,272.0 Q1042.6,257.7 1039.7,243.3 Q1042.6,229.0 1039.7,214.7 Q1042.6,200.3 1039.7,186.0 Q1042.6,171.6 1040.3,157.3 Z" fill="url(#gBlueBody)"/>
<path d="M982.3,157.3 Q980.0,171.6 982.9,186.0 Q980.0,200.3 982.9,214.7 Q980.0,229.0 982.9,243.3 Q980.0,257.7 982.3,272.0 A29.0,12.4 0 0 0 1040.3,272.0 Q1042.6,257.7 1039.7,243.3 Q1042.6,229.0 1039.7,214.7 Q1042.6,200.3 1039.7,186.0 Q1042.6,171.6 1040.3,157.3 Z" fill="url(#gBlueShade)"/>
<path d="M982.3,157.3 Q980.0,171.6 982.9,186.0 Q980.0,200.3 982.9,214.7 Q980.0,229.0 982.9,243.3 Q980.0,257.7 982.3,272.0 A29.0,12.4 0 0 0 1040.3,272.0 Q1042.6,257.7 1039.7,243.3 Q1042.6,229.0 1039.7,214.7 Q1042.6,200.3 1039.7,186.0 Q1042.6,171.6 1040.3,157.3 Z" fill="url(#gSegB)"/>
<path d="M982.8,186.0 A29.0,11.1 0 0 0 1039.8,186.0" fill="none" stroke="#0a2f66" stroke-width="2.0" opacity="0.16"/>
<path d="M982.8,214.7 A29.0,11.1 0 0 0 1039.8,214.7" fill="none" stroke="#0a2f66" stroke-width="2.0" opacity="0.16"/>
<path d="M982.8,243.3 A29.0,11.1 0 0 0 1039.8,243.3" fill="none" stroke="#0a2f66" stroke-width="2.0" opacity="0.16"/>
<path d="M1027.3,167.2 L1027.3,281.9" stroke="#3b86c2" stroke-width="1.6" opacity="0.45"/>
<ellipse cx="1011.3" cy="159.5" rx="29.0" ry="12.4" fill="#3079ad" opacity="0.9"/>
<ellipse cx="1011.3" cy="157.3" rx="27.8" ry="11.6" fill="url(#gBlueTop)"/>
<ellipse cx="1011.3" cy="158.3" rx="16.0" ry="6.2" fill="#1f6aa8" opacity="0.45" filter="url(#b2)"/>
<path d="M1032.6,172.1 Q1030.3,186.4 1033.2,200.8 Q1030.3,215.1 1033.2,229.5 Q1030.3,243.8 1033.2,258.1 Q1030.3,272.5 1032.6,286.8 A29.0,12.4 0 0 0 1090.6,286.8 Q1092.9,272.5 1090.0,258.1 Q1092.9,243.8 1090.0,229.5 Q1092.9,215.1 1090.0,200.8 Q1092.9,186.4 1090.6,172.1 Z" fill="url(#gBlueBody)"/>
<path d="M1032.6,172.1 Q1030.3,186.4 1033.2,200.8 Q1030.3,215.1 1033.2,229.5 Q1030.3,243.8 1033.2,258.1 Q1030.3,272.5 1032.6,286.8 A29.0,12.4 0 0 0 1090.6,286.8 Q1092.9,272.5 1090.0,258.1 Q1092.9,243.8 1090.0,229.5 Q1092.9,215.1 1090.0,200.8 Q1092.9,186.4 1090.6,172.1 Z" fill="url(#gBlueShade)"/>
<path d="M1032.6,172.1 Q1030.3,186.4 1033.2,200.8 Q1030.3,215.1 1033.2,229.5 Q1030.3,243.8 1033.2,258.1 Q1030.3,272.5 1032.6,286.8 A29.0,12.4 0 0 0 1090.6,286.8 Q1092.9,272.5 1090.0,258.1 Q1092.9,243.8 1090.0,229.5 Q1092.9,215.1 1090.0,200.8 Q1092.9,186.4 1090.6,172.1 Z" fill="url(#gSegB)"/>
<path d="M1033.1,200.8 A29.0,11.1 0 0 0 1090.1,200.8" fill="none" stroke="#0a2f66" stroke-width="2.0" opacity="0.16"/>
<path d="M1033.1,229.5 A29.0,11.1 0 0 0 1090.1,229.5" fill="none" stroke="#0a2f66" stroke-width="2.0" opacity="0.16"/>
<path d="M1033.1,258.1 A29.0,11.1 0 0 0 1090.1,258.1" fill="none" stroke="#0a2f66" stroke-width="2.0" opacity="0.16"/>
<path d="M1077.6,182.0 L1077.6,296.7" stroke="#3b86c2" stroke-width="1.6" opacity="0.45"/>
<ellipse cx="1061.6" cy="174.3" rx="29.0" ry="12.4" fill="#3079ad" opacity="0.9"/>
<ellipse cx="1061.6" cy="172.1" rx="27.8" ry="11.6" fill="url(#gBlueTop)"/>
<ellipse cx="1061.6" cy="173.1" rx="16.0" ry="6.2" fill="#1f6aa8" opacity="0.45" filter="url(#b2)"/>
<path d="M1082.9,186.9 Q1080.6,201.2 1083.5,215.6 Q1080.6,229.9 1083.5,244.3 Q1080.6,258.6 1083.5,272.9 Q1080.6,287.3 1082.9,301.6 A29.0,12.4 0 0 0 1140.9,301.6 Q1143.2,287.3 1140.3,272.9 Q1143.2,258.6 1140.3,244.3 Q1143.2,229.9 1140.3,215.6 Q1143.2,201.2 1140.9,186.9 Z" fill="url(#gBlueBody)"/>
<path d="M1082.9,186.9 Q1080.6,201.2 1083.5,215.6 Q1080.6,229.9 1083.5,244.3 Q1080.6,258.6 1083.5,272.9 Q1080.6,287.3 1082.9,301.6 A29.0,12.4 0 0 0 1140.9,301.6 Q1143.2,287.3 1140.3,272.9 Q1143.2,258.6 1140.3,244.3 Q1143.2,229.9 1140.3,215.6 Q1143.2,201.2 1140.9,186.9 Z" fill="url(#gBlueShade)"/>
<path d="M1082.9,186.9 Q1080.6,201.2 1083.5,215.6 Q1080.6,229.9 1083.5,244.3 Q1080.6,258.6 1083.5,272.9 Q1080.6,287.3 1082.9,301.6 A29.0,12.4 0 0 0 1140.9,301.6 Q1143.2,287.3 1140.3,272.9 Q1143.2,258.6 1140.3,244.3 Q1143.2,229.9 1140.3,215.6 Q1143.2,201.2 1140.9,186.9 Z" fill="url(#gSegB)"/>
<path d="M1083.4,215.6 A29.0,11.1 0 0 0 1140.4,215.6" fill="none" stroke="#0a2f66" stroke-width="2.0" opacity="0.16"/>
<path d="M1083.4,244.3 A29.0,11.1 0 0 0 1140.4,244.3" fill="none" stroke="#0a2f66" stroke-width="2.0" opacity="0.16"/>
<path d="M1083.4,272.9 A29.0,11.1 0 0 0 1140.4,272.9" fill="none" stroke="#0a2f66" stroke-width="2.0" opacity="0.16"/>
<path d="M1127.9,196.8 L1127.9,311.5" stroke="#3b86c2" stroke-width="1.6" opacity="0.45"/>
<ellipse cx="1111.9" cy="189.1" rx="29.0" ry="12.4" fill="#3079ad" opacity="0.9"/>
<ellipse cx="1111.9" cy="186.9" rx="27.8" ry="11.6" fill="url(#gBlueTop)"/>
<ellipse cx="1111.9" cy="187.9" rx="16.0" ry="6.2" fill="#1f6aa8" opacity="0.45" filter="url(#b2)"/>
<path d="M1133.2,201.7 Q1130.9,216.0 1133.8,230.4 Q1130.9,244.7 1133.8,259.1 Q1130.9,273.4 1133.8,287.7 Q1130.9,302.1 1133.2,316.4 A29.0,12.4 0 0 0 1191.2,316.4 Q1193.5,302.1 1190.6,287.7 Q1193.5,273.4 1190.6,259.1 Q1193.5,244.7 1190.6,230.4 Q1193.5,216.0 1191.2,201.7 Z" fill="url(#gBlueBody)"/>
<path d="M1133.2,201.7 Q1130.9,216.0 1133.8,230.4 Q1130.9,244.7 1133.8,259.1 Q1130.9,273.4 1133.8,287.7 Q1130.9,302.1 1133.2,316.4 A29.0,12.4 0 0 0 1191.2,316.4 Q1193.5,302.1 1190.6,287.7 Q1193.5,273.4 1190.6,259.1 Q1193.5,244.7 1190.6,230.4 Q1193.5,216.0 1191.2,201.7 Z" fill="url(#gBlueShade)"/>
<path d="M1133.2,201.7 Q1130.9,216.0 1133.8,230.4 Q1130.9,244.7 1133.8,259.1 Q1130.9,273.4 1133.8,287.7 Q1130.9,302.1 1133.2,316.4 A29.0,12.4 0 0 0 1191.2,316.4 Q1193.5,302.1 1190.6,287.7 Q1193.5,273.4 1190.6,259.1 Q1193.5,244.7 1190.6,230.4 Q1193.5,216.0 1191.2,201.7 Z" fill="url(#gSegB)"/>
<path d="M1133.7,230.4 A29.0,11.1 0 0 0 1190.7,230.4" fill="none" stroke="#0a2f66" stroke-width="2.0" opacity="0.16"/>
<path d="M1133.7,259.1 A29.0,11.1 0 0 0 1190.7,259.1" fill="none" stroke="#0a2f66" stroke-width="2.0" opacity="0.16"/>
<path d="M1133.7,287.7 A29.0,11.1 0 0 0 1190.7,287.7" fill="none" stroke="#0a2f66" stroke-width="2.0" opacity="0.16"/>
<path d="M1178.2,211.6 L1178.2,326.3" stroke="#3b86c2" stroke-width="1.6" opacity="0.45"/>
<ellipse cx="1162.2" cy="203.9" rx="29.0" ry="12.4" fill="#3079ad" opacity="0.9"/>
<ellipse cx="1162.2" cy="201.7" rx="27.8" ry="11.6" fill="url(#gBlueTop)"/>
<ellipse cx="1162.2" cy="202.7" rx="16.0" ry="6.2" fill="#1f6aa8" opacity="0.45" filter="url(#b2)"/>
<path d="M1183.5,216.5 Q1181.2,230.8 1184.1,245.2 Q1181.2,259.5 1184.1,273.9 Q1181.2,288.2 1184.1,302.5 Q1181.2,316.9 1183.5,331.2 A29.0,12.4 0 0 0 1241.5,331.2 Q1243.8,316.9 1240.9,302.5 Q1243.8,288.2 1240.9,273.9 Q1243.8,259.5 1240.9,245.2 Q1243.8,230.8 1241.5,216.5 Z" fill="url(#gWhiteBody)"/>
<path d="M1183.5,216.5 Q1181.2,230.8 1184.1,245.2 Q1181.2,259.5 1184.1,273.9 Q1181.2,288.2 1184.1,302.5 Q1181.2,316.9 1183.5,331.2 A29.0,12.4 0 0 0 1241.5,331.2 Q1243.8,316.9 1240.9,302.5 Q1243.8,288.2 1240.9,273.9 Q1243.8,259.5 1240.9,245.2 Q1243.8,230.8 1241.5,216.5 Z" fill="url(#gWhiteShade)"/>
<path d="M1183.5,216.5 Q1181.2,230.8 1184.1,245.2 Q1181.2,259.5 1184.1,273.9 Q1181.2,288.2 1184.1,302.5 Q1181.2,316.9 1183.5,331.2 A29.0,12.4 0 0 0 1241.5,331.2 Q1243.8,316.9 1240.9,302.5 Q1243.8,288.2 1240.9,273.9 Q1243.8,259.5 1240.9,245.2 Q1243.8,230.8 1241.5,216.5 Z" fill="url(#gSegW)"/>
<path d="M1184.0,245.2 A29.0,11.1 0 0 0 1241.0,245.2" fill="none" stroke="#9aa0ad" stroke-width="2.0" opacity="0.20"/>
<path d="M1184.0,273.9 A29.0,11.1 0 0 0 1241.0,273.9" fill="none" stroke="#9aa0ad" stroke-width="2.0" opacity="0.20"/>
<path d="M1184.0,302.5 A29.0,11.1 0 0 0 1241.0,302.5" fill="none" stroke="#9aa0ad" stroke-width="2.0" opacity="0.20"/>
<path d="M1228.5,226.4 L1228.5,341.1" stroke="#eceef1" stroke-width="1.6" opacity="0.45"/>
<ellipse cx="1212.5" cy="218.7" rx="29.0" ry="12.4" fill="#eceef2" opacity="0.9"/>
<ellipse cx="1212.5" cy="216.5" rx="27.8" ry="11.6" fill="url(#gWhiteTop)"/>
<ellipse cx="1212.5" cy="217.5" rx="16.0" ry="6.2" fill="#cfd2d9" opacity="0.45" filter="url(#b2)"/>
<path d="M1233.8,231.3 Q1231.5,245.6 1234.4,260.0 Q1231.5,274.3 1234.4,288.7 Q1231.5,303.0 1234.4,317.3 Q1231.5,331.7 1233.8,346.0 A29.0,12.4 0 0 0 1291.8,346.0 Q1294.1,331.7 1291.2,317.3 Q1294.1,303.0 1291.2,288.7 Q1294.1,274.3 1291.2,260.0 Q1294.1,245.6 1291.8,231.3 Z" fill="url(#gWhiteBody)"/>
<path d="M1233.8,231.3 Q1231.5,245.6 1234.4,260.0 Q1231.5,274.3 1234.4,288.7 Q1231.5,303.0 1234.4,317.3 Q1231.5,331.7 1233.8,346.0 A29.0,12.4 0 0 0 1291.8,346.0 Q1294.1,331.7 1291.2,317.3 Q1294.1,303.0 1291.2,288.7 Q1294.1,274.3 1291.2,260.0 Q1294.1,245.6 1291.8,231.3 Z" fill="url(#gWhiteShade)"/>
<path d="M1233.8,231.3 Q1231.5,245.6 1234.4,260.0 Q1231.5,274.3 1234.4,288.7 Q1231.5,303.0 1234.4,317.3 Q1231.5,331.7 1233.8,346.0 A29.0,12.4 0 0 0 1291.8,346.0 Q1294.1,331.7 1291.2,317.3 Q1294.1,303.0 1291.2,288.7 Q1294.1,274.3 1291.2,260.0 Q1294.1,245.6 1291.8,231.3 Z" fill="url(#gSegW)"/>
<path d="M1234.3,260.0 A29.0,11.1 0 0 0 1291.3,260.0" fill="none" stroke="#9aa0ad" stroke-width="2.0" opacity="0.20"/>
<path d="M1234.3,288.7 A29.0,11.1 0 0 0 1291.3,288.7" fill="none" stroke="#9aa0ad" stroke-width="2.0" opacity="0.20"/>
<path d="M1234.3,317.3 A29.0,11.1 0 0 0 1291.3,317.3" fill="none" stroke="#9aa0ad" stroke-width="2.0" opacity="0.20"/>
<path d="M1278.8,241.2 L1278.8,355.9" stroke="#eceef1" stroke-width="1.6" opacity="0.45"/>
<ellipse cx="1262.8" cy="233.5" rx="29.0" ry="12.4" fill="#eceef2" opacity="0.9"/>
<ellipse cx="1262.8" cy="231.3" rx="27.8" ry="11.6" fill="url(#gWhiteTop)"/>
<ellipse cx="1262.8" cy="232.3" rx="16.0" ry="6.2" fill="#cfd2d9" opacity="0.45" filter="url(#b2)"/>
<path d="M1284.1,246.1 Q1281.8,260.4 1284.7,274.8 Q1281.8,289.1 1284.7,303.5 Q1281.8,317.8 1284.7,332.1 Q1281.8,346.5 1284.1,360.8 A29.0,12.4 0 0 0 1342.1,360.8 Q1344.4,346.5 1341.5,332.1 Q1344.4,317.8 1341.5,303.5 Q1344.4,289.1 1341.5,274.8 Q1344.4,260.4 1342.1,246.1 Z" fill="url(#gWhiteBody)"/>
<path d="M1284.1,246.1 Q1281.8,260.4 1284.7,274.8 Q1281.8,289.1 1284.7,303.5 Q1281.8,317.8 1284.7,332.1 Q1281.8,346.5 1284.1,360.8 A29.0,12.4 0 0 0 1342.1,360.8 Q1344.4,346.5 1341.5,332.1 Q1344.4,317.8 1341.5,303.5 Q1344.4,289.1 1341.5,274.8 Q1344.4,260.4 1342.1,246.1 Z" fill="url(#gWhiteShade)"/>
<path d="M1284.1,246.1 Q1281.8,260.4 1284.7,274.8 Q1281.8,289.1 1284.7,303.5 Q1281.8,317.8 1284.7,332.1 Q1281.8,346.5 1284.1,360.8 A29.0,12.4 0 0 0 1342.1,360.8 Q1344.4,346.5 1341.5,332.1 Q1344.4,317.8 1341.5,303.5 Q1344.4,289.1 1341.5,274.8 Q1344.4,260.4 1342.1,246.1 Z" fill="url(#gSegW)"/>
<path d="M1284.6,274.8 A29.0,11.1 0 0 0 1341.6,274.8" fill="none" stroke="#9aa0ad" stroke-width="2.0" opacity="0.20"/>
<path d="M1284.6,303.5 A29.0,11.1 0 0 0 1341.6,303.5" fill="none" stroke="#9aa0ad" stroke-width="2.0" opacity="0.20"/>
<path d="M1284.6,332.1 A29.0,11.1 0 0 0 1341.6,332.1" fill="none" stroke="#9aa0ad" stroke-width="2.0" opacity="0.20"/>
<path d="M1329.1,256.0 L1329.1,370.7" stroke="#eceef1" stroke-width="1.6" opacity="0.45"/>
<ellipse cx="1313.1" cy="248.3" rx="29.0" ry="12.4" fill="#eceef2" opacity="0.9"/>
<ellipse cx="1313.1" cy="246.1" rx="27.8" ry="11.6" fill="url(#gWhiteTop)"/>
<ellipse cx="1313.1" cy="247.1" rx="16.0" ry="6.2" fill="#cfd2d9" opacity="0.45" filter="url(#b2)"/>
<path d="M1334.4,260.9 Q1332.1,275.2 1335.0,289.6 Q1332.1,303.9 1335.0,318.3 Q1332.1,332.6 1335.0,346.9 Q1332.1,361.3 1334.4,375.6 A29.0,12.4 0 0 0 1392.4,375.6 Q1394.7,361.3 1391.8,346.9 Q1394.7,332.6 1391.8,318.3 Q1394.7,303.9 1391.8,289.6 Q1394.7,275.2 1392.4,260.9 Z" fill="url(#gWhiteBody)"/>
<path d="M1334.4,260.9 Q1332.1,275.2 1335.0,289.6 Q1332.1,303.9 1335.0,318.3 Q1332.1,332.6 1335.0,346.9 Q1332.1,361.3 1334.4,375.6 A29.0,12.4 0 0 0 1392.4,375.6 Q1394.7,361.3 1391.8,346.9 Q1394.7,332.6 1391.8,318.3 Q1394.7,303.9 1391.8,289.6 Q1394.7,275.2 1392.4,260.9 Z" fill="url(#gWhiteShade)"/>
<path d="M1334.4,260.9 Q1332.1,275.2 1335.0,289.6 Q1332.1,303.9 1335.0,318.3 Q1332.1,332.6 1335.0,346.9 Q1332.1,361.3 1334.4,375.6 A29.0,12.4 0 0 0 1392.4,375.6 Q1394.7,361.3 1391.8,346.9 Q1394.7,332.6 1391.8,318.3 Q1394.7,303.9 1391.8,289.6 Q1394.7,275.2 1392.4,260.9 Z" fill="url(#gSegW)"/>
<path d="M1334.9,289.6 A29.0,11.1 0 0 0 1391.9,289.6" fill="none" stroke="#9aa0ad" stroke-width="2.0" opacity="0.20"/>
<path d="M1334.9,318.3 A29.0,11.1 0 0 0 1391.9,318.3" fill="none" stroke="#9aa0ad" stroke-width="2.0" opacity="0.20"/>
<path d="M1334.9,346.9 A29.0,11.1 0 0 0 1391.9,346.9" fill="none" stroke="#9aa0ad" stroke-width="2.0" opacity="0.20"/>
<path d="M1379.4,270.8 L1379.4,385.5" stroke="#eceef1" stroke-width="1.6" opacity="0.45"/>
<ellipse cx="1363.4" cy="263.1" rx="29.0" ry="12.4" fill="#eceef2" opacity="0.9"/>
<ellipse cx="1363.4" cy="260.9" rx="27.8" ry="11.6" fill="url(#gWhiteTop)"/>
<ellipse cx="1363.4" cy="261.9" rx="16.0" ry="6.2" fill="#cfd2d9" opacity="0.45" filter="url(#b2)"/>
<path d="M1384.7,275.7 Q1382.4,290.0 1385.3,304.4 Q1382.4,318.7 1385.3,333.1 Q1382.4,347.4 1385.3,361.7 Q1382.4,376.1 1384.7,390.4 A29.0,12.4 0 0 0 1442.7,390.4 Q1445.0,376.1 1442.1,361.7 Q1445.0,347.4 1442.1,333.1 Q1445.0,318.7 1442.1,304.4 Q1445.0,290.0 1442.7,275.7 Z" fill="url(#gBlueBodyR)"/>
<path d="M1384.7,275.7 Q1382.4,290.0 1385.3,304.4 Q1382.4,318.7 1385.3,333.1 Q1382.4,347.4 1385.3,361.7 Q1382.4,376.1 1384.7,390.4 A29.0,12.4 0 0 0 1442.7,390.4 Q1445.0,376.1 1442.1,361.7 Q1445.0,347.4 1442.1,333.1 Q1445.0,318.7 1442.1,304.4 Q1445.0,290.0 1442.7,275.7 Z" fill="url(#gBlueShadeR)"/>
<path d="M1384.7,275.7 Q1382.4,290.0 1385.3,304.4 Q1382.4,318.7 1385.3,333.1 Q1382.4,347.4 1385.3,361.7 Q1382.4,376.1 1384.7,390.4 A29.0,12.4 0 0 0 1442.7,390.4 Q1445.0,376.1 1442.1,361.7 Q1445.0,347.4 1442.1,333.1 Q1445.0,318.7 1442.1,304.4 Q1445.0,290.0 1442.7,275.7 Z" fill="url(#gSegB)"/>
<path d="M1385.2,304.4 A29.0,11.1 0 0 0 1442.2,304.4" fill="none" stroke="#0a2f66" stroke-width="2.0" opacity="0.16"/>
<path d="M1385.2,333.1 A29.0,11.1 0 0 0 1442.2,333.1" fill="none" stroke="#0a2f66" stroke-width="2.0" opacity="0.16"/>
<path d="M1385.2,361.7 A29.0,11.1 0 0 0 1442.2,361.7" fill="none" stroke="#0a2f66" stroke-width="2.0" opacity="0.16"/>
<path d="M1429.7,285.6 L1429.7,400.3" stroke="#2f78b4" stroke-width="1.6" opacity="0.45"/>
<ellipse cx="1413.7" cy="277.9" rx="29.0" ry="12.4" fill="#2a70a3" opacity="0.9"/>
<ellipse cx="1413.7" cy="275.7" rx="27.8" ry="11.6" fill="url(#gBlueTopR)"/>
<ellipse cx="1413.7" cy="276.7" rx="16.0" ry="6.2" fill="#195f9c" opacity="0.45" filter="url(#b2)"/>
<path d="M1435.0,290.5 Q1432.7,304.8 1435.6,319.2 Q1432.7,333.5 1435.6,347.9 Q1432.7,362.2 1435.6,376.5 Q1432.7,390.9 1435.0,405.2 A29.0,12.4 0 0 0 1493.0,405.2 Q1495.3,390.9 1492.4,376.5 Q1495.3,362.2 1492.4,347.9 Q1495.3,333.5 1492.4,319.2 Q1495.3,304.8 1493.0,290.5 Z" fill="url(#gBlueBodyR)"/>
<path d="M1435.0,290.5 Q1432.7,304.8 1435.6,319.2 Q1432.7,333.5 1435.6,347.9 Q1432.7,362.2 1435.6,376.5 Q1432.7,390.9 1435.0,405.2 A29.0,12.4 0 0 0 1493.0,405.2 Q1495.3,390.9 1492.4,376.5 Q1495.3,362.2 1492.4,347.9 Q1495.3,333.5 1492.4,319.2 Q1495.3,304.8 1493.0,290.5 Z" fill="url(#gBlueShadeR)"/>
<path d="M1435.0,290.5 Q1432.7,304.8 1435.6,319.2 Q1432.7,333.5 1435.6,347.9 Q1432.7,362.2 1435.6,376.5 Q1432.7,390.9 1435.0,405.2 A29.0,12.4 0 0 0 1493.0,405.2 Q1495.3,390.9 1492.4,376.5 Q1495.3,362.2 1492.4,347.9 Q1495.3,333.5 1492.4,319.2 Q1495.3,304.8 1493.0,290.5 Z" fill="url(#gSegB)"/>
<path d="M1435.5,319.2 A29.0,11.1 0 0 0 1492.5,319.2" fill="none" stroke="#0a2f66" stroke-width="2.0" opacity="0.16"/>
<path d="M1435.5,347.9 A29.0,11.1 0 0 0 1492.5,347.9" fill="none" stroke="#0a2f66" stroke-width="2.0" opacity="0.16"/>
<path d="M1435.5,376.5 A29.0,11.1 0 0 0 1492.5,376.5" fill="none" stroke="#0a2f66" stroke-width="2.0" opacity="0.16"/>
<path d="M1480.0,300.4 L1480.0,415.1" stroke="#2f78b4" stroke-width="1.6" opacity="0.45"/>
<ellipse cx="1464.0" cy="292.7" rx="29.0" ry="12.4" fill="#2a70a3" opacity="0.9"/>
<ellipse cx="1464.0" cy="290.5" rx="27.8" ry="11.6" fill="url(#gBlueTopR)"/>
<ellipse cx="1464.0" cy="291.5" rx="16.0" ry="6.2" fill="#195f9c" opacity="0.45" filter="url(#b2)"/>
<path d="M1485.3,305.3 Q1483.0,319.6 1485.9,334.0 Q1483.0,348.3 1485.9,362.7 Q1483.0,377.0 1485.9,391.3 Q1483.0,405.7 1485.3,420.0 A29.0,12.4 0 0 0 1543.3,420.0 Q1545.6,405.7 1542.7,391.3 Q1545.6,377.0 1542.7,362.7 Q1545.6,348.3 1542.7,334.0 Q1545.6,319.6 1543.3,305.3 Z" fill="url(#gBlueBodyR)"/>
<path d="M1485.3,305.3 Q1483.0,319.6 1485.9,334.0 Q1483.0,348.3 1485.9,362.7 Q1483.0,377.0 1485.9,391.3 Q1483.0,405.7 1485.3,420.0 A29.0,12.4 0 0 0 1543.3,420.0 Q1545.6,405.7 1542.7,391.3 Q1545.6,377.0 1542.7,362.7 Q1545.6,348.3 1542.7,334.0 Q1545.6,319.6 1543.3,305.3 Z" fill="url(#gBlueShadeR)"/>
<path d="M1485.3,305.3 Q1483.0,319.6 1485.9,334.0 Q1483.0,348.3 1485.9,362.7 Q1483.0,377.0 1485.9,391.3 Q1483.0,405.7 1485.3,420.0 A29.0,12.4 0 0 0 1543.3,420.0 Q1545.6,405.7 1542.7,391.3 Q1545.6,377.0 1542.7,362.7 Q1545.6,348.3 1542.7,334.0 Q1545.6,319.6 1543.3,305.3 Z" fill="url(#gSegB)"/>
<path d="M1485.8,334.0 A29.0,11.1 0 0 0 1542.8,334.0" fill="none" stroke="#0a2f66" stroke-width="2.0" opacity="0.16"/>
<path d="M1485.8,362.7 A29.0,11.1 0 0 0 1542.8,362.7" fill="none" stroke="#0a2f66" stroke-width="2.0" opacity="0.16"/>
<path d="M1485.8,391.3 A29.0,11.1 0 0 0 1542.8,391.3" fill="none" stroke="#0a2f66" stroke-width="2.0" opacity="0.16"/>
<path d="M1530.3,315.2 L1530.3,429.9" stroke="#2f78b4" stroke-width="1.6" opacity="0.45"/>
<ellipse cx="1514.3" cy="307.5" rx="29.0" ry="12.4" fill="#2a70a3" opacity="0.9"/>
<ellipse cx="1514.3" cy="305.3" rx="27.8" ry="11.6" fill="url(#gBlueTopR)"/>
<ellipse cx="1514.3" cy="306.3" rx="16.0" ry="6.2" fill="#195f9c" opacity="0.45" filter="url(#b2)"/>
<path d="M1535.6,320.1 Q1533.3,334.4 1536.2,348.8 Q1533.3,363.1 1536.2,377.5 Q1533.3,391.8 1536.2,406.1 Q1533.3,420.5 1535.6,434.8 A29.0,12.4 0 0 0 1593.6,434.8 Q1595.9,420.5 1593.0,406.1 Q1595.9,391.8 1593.0,377.5 Q1595.9,363.1 1593.0,348.8 Q1595.9,334.4 1593.6,320.1 Z" fill="url(#gBlueBodyR)"/>
<path d="M1535.6,320.1 Q1533.3,334.4 1536.2,348.8 Q1533.3,363.1 1536.2,377.5 Q1533.3,391.8 1536.2,406.1 Q1533.3,420.5 1535.6,434.8 A29.0,12.4 0 0 0 1593.6,434.8 Q1595.9,420.5 1593.0,406.1 Q1595.9,391.8 1593.0,377.5 Q1595.9,363.1 1593.0,348.8 Q1595.9,334.4 1593.6,320.1 Z" fill="url(#gBlueShadeR)"/>
<path d="M1535.6,320.1 Q1533.3,334.4 1536.2,348.8 Q1533.3,363.1 1536.2,377.5 Q1533.3,391.8 1536.2,406.1 Q1533.3,420.5 1535.6,434.8 A29.0,12.4 0 0 0 1593.6,434.8 Q1595.9,420.5 1593.0,406.1 Q1595.9,391.8 1593.0,377.5 Q1595.9,363.1 1593.0,348.8 Q1595.9,334.4 1593.6,320.1 Z" fill="url(#gSegB)"/>
<path d="M1536.1,348.8 A29.0,11.1 0 0 0 1593.1,348.8" fill="none" stroke="#0a2f66" stroke-width="2.0" opacity="0.16"/>
<path d="M1536.1,377.5 A29.0,11.1 0 0 0 1593.1,377.5" fill="none" stroke="#0a2f66" stroke-width="2.0" opacity="0.16"/>
<path d="M1536.1,406.1 A29.0,11.1 0 0 0 1593.1,406.1" fill="none" stroke="#0a2f66" stroke-width="2.0" opacity="0.16"/>
<path d="M1580.6,330.0 L1580.6,444.7" stroke="#2f78b4" stroke-width="1.6" opacity="0.45"/>
<ellipse cx="1564.6" cy="322.3" rx="29.0" ry="12.4" fill="#2a70a3" opacity="0.9"/>
<ellipse cx="1564.6" cy="320.1" rx="27.8" ry="11.6" fill="url(#gBlueTopR)"/>
<ellipse cx="1564.6" cy="321.1" rx="16.0" ry="6.2" fill="#195f9c" opacity="0.45" filter="url(#b2)"/>
<path d="M937.7,175.6 Q935.4,190.1 938.3,204.6 Q935.4,219.2 938.3,233.7 Q935.4,248.2 938.3,262.7 Q935.4,277.2 937.7,291.8 A29.4,12.5 0 0 0 996.5,291.8 Q998.8,277.2 995.9,262.7 Q998.8,248.2 995.9,233.7 Q998.8,219.2 995.9,204.6 Q998.8,190.1 996.5,175.6 Z" fill="url(#gBlueBody)"/>
<path d="M937.7,175.6 Q935.4,190.1 938.3,204.6 Q935.4,219.2 938.3,233.7 Q935.4,248.2 938.3,262.7 Q935.4,277.2 937.7,291.8 A29.4,12.5 0 0 0 996.5,291.8 Q998.8,277.2 995.9,262.7 Q998.8,248.2 995.9,233.7 Q998.8,219.2 995.9,204.6 Q998.8,190.1 996.5,175.6 Z" fill="url(#gBlueShade)"/>
<path d="M937.7,175.6 Q935.4,190.1 938.3,204.6 Q935.4,219.2 938.3,233.7 Q935.4,248.2 938.3,262.7 Q935.4,277.2 937.7,291.8 A29.4,12.5 0 0 0 996.5,291.8 Q998.8,277.2 995.9,262.7 Q998.8,248.2 995.9,233.7 Q998.8,219.2 995.9,204.6 Q998.8,190.1 996.5,175.6 Z" fill="url(#gSegB)"/>
<path d="M938.2,204.6 A29.4,11.3 0 0 0 996.0,204.6" fill="none" stroke="#0a2f66" stroke-width="2.0" opacity="0.16"/>
<path d="M938.2,233.7 A29.4,11.3 0 0 0 996.0,233.7" fill="none" stroke="#0a2f66" stroke-width="2.0" opacity="0.16"/>
<path d="M938.2,262.7 A29.4,11.3 0 0 0 996.0,262.7" fill="none" stroke="#0a2f66" stroke-width="2.0" opacity="0.16"/>
<path d="M983.3,185.6 L983.3,301.8" stroke="#3b86c2" stroke-width="1.6" opacity="0.45"/>
<ellipse cx="967.1" cy="177.8" rx="29.4" ry="12.5" fill="#3079ad" opacity="0.9"/>
<ellipse cx="967.1" cy="175.6" rx="28.2" ry="11.7" fill="url(#gBlueTop)"/>
<ellipse cx="967.1" cy="176.6" rx="16.2" ry="6.3" fill="#1f6aa8" opacity="0.45" filter="url(#b2)"/>
<path d="M988.5,190.9 Q986.2,205.4 989.1,219.9 Q986.2,234.5 989.1,249.0 Q986.2,263.5 989.1,278.0 Q986.2,292.5 988.5,307.1 A29.4,12.5 0 0 0 1047.3,307.1 Q1049.6,292.5 1046.7,278.0 Q1049.6,263.5 1046.7,249.0 Q1049.6,234.5 1046.7,219.9 Q1049.6,205.4 1047.3,190.9 Z" fill="url(#gBlueBody)"/>
<path d="M988.5,190.9 Q986.2,205.4 989.1,219.9 Q986.2,234.5 989.1,249.0 Q986.2,263.5 989.1,278.0 Q986.2,292.5 988.5,307.1 A29.4,12.5 0 0 0 1047.3,307.1 Q1049.6,292.5 1046.7,278.0 Q1049.6,263.5 1046.7,249.0 Q1049.6,234.5 1046.7,219.9 Q1049.6,205.4 1047.3,190.9 Z" fill="url(#gBlueShade)"/>
<path d="M988.5,190.9 Q986.2,205.4 989.1,219.9 Q986.2,234.5 989.1,249.0 Q986.2,263.5 989.1,278.0 Q986.2,292.5 988.5,307.1 A29.4,12.5 0 0 0 1047.3,307.1 Q1049.6,292.5 1046.7,278.0 Q1049.6,263.5 1046.7,249.0 Q1049.6,234.5 1046.7,219.9 Q1049.6,205.4 1047.3,190.9 Z" fill="url(#gSegB)"/>
<path d="M989.0,219.9 A29.4,11.3 0 0 0 1046.8,219.9" fill="none" stroke="#0a2f66" stroke-width="2.0" opacity="0.16"/>
<path d="M989.0,249.0 A29.4,11.3 0 0 0 1046.8,249.0" fill="none" stroke="#0a2f66" stroke-width="2.0" opacity="0.16"/>
<path d="M989.0,278.0 A29.4,11.3 0 0 0 1046.8,278.0" fill="none" stroke="#0a2f66" stroke-width="2.0" opacity="0.16"/>
<path d="M1034.1,200.9 L1034.1,317.1" stroke="#3b86c2" stroke-width="1.6" opacity="0.45"/>
<ellipse cx="1017.9" cy="193.1" rx="29.4" ry="12.5" fill="#3079ad" opacity="0.9"/>
<ellipse cx="1017.9" cy="190.9" rx="28.2" ry="11.7" fill="url(#gBlueTop)"/>
<ellipse cx="1017.9" cy="191.9" rx="16.2" ry="6.3" fill="#1f6aa8" opacity="0.45" filter="url(#b2)"/>
<path d="M1039.3,206.2 Q1037.0,220.7 1039.9,235.2 Q1037.0,249.8 1039.9,264.3 Q1037.0,278.8 1039.9,293.3 Q1037.0,307.8 1039.3,322.4 A29.4,12.5 0 0 0 1098.1,322.4 Q1100.4,307.8 1097.5,293.3 Q1100.4,278.8 1097.5,264.3 Q1100.4,249.8 1097.5,235.2 Q1100.4,220.7 1098.1,206.2 Z" fill="url(#gBlueBody)"/>
<path d="M1039.3,206.2 Q1037.0,220.7 1039.9,235.2 Q1037.0,249.8 1039.9,264.3 Q1037.0,278.8 1039.9,293.3 Q1037.0,307.8 1039.3,322.4 A29.4,12.5 0 0 0 1098.1,322.4 Q1100.4,307.8 1097.5,293.3 Q1100.4,278.8 1097.5,264.3 Q1100.4,249.8 1097.5,235.2 Q1100.4,220.7 1098.1,206.2 Z" fill="url(#gBlueShade)"/>
<path d="M1039.3,206.2 Q1037.0,220.7 1039.9,235.2 Q1037.0,249.8 1039.9,264.3 Q1037.0,278.8 1039.9,293.3 Q1037.0,307.8 1039.3,322.4 A29.4,12.5 0 0 0 1098.1,322.4 Q1100.4,307.8 1097.5,293.3 Q1100.4,278.8 1097.5,264.3 Q1100.4,249.8 1097.5,235.2 Q1100.4,220.7 1098.1,206.2 Z" fill="url(#gSegB)"/>
<path d="M1039.8,235.2 A29.4,11.3 0 0 0 1097.6,235.2" fill="none" stroke="#0a2f66" stroke-width="2.0" opacity="0.16"/>
<path d="M1039.8,264.3 A29.4,11.3 0 0 0 1097.6,264.3" fill="none" stroke="#0a2f66" stroke-width="2.0" opacity="0.16"/>
<path d="M1039.8,293.3 A29.4,11.3 0 0 0 1097.6,293.3" fill="none" stroke="#0a2f66" stroke-width="2.0" opacity="0.16"/>
<path d="M1084.9,216.2 L1084.9,332.4" stroke="#3b86c2" stroke-width="1.6" opacity="0.45"/>
<ellipse cx="1068.7" cy="208.4" rx="29.4" ry="12.5" fill="#3079ad" opacity="0.9"/>
<ellipse cx="1068.7" cy="206.2" rx="28.2" ry="11.7" fill="url(#gBlueTop)"/>
<ellipse cx="1068.7" cy="207.2" rx="16.2" ry="6.3" fill="#1f6aa8" opacity="0.45" filter="url(#b2)"/>
<path d="M1090.1,221.5 Q1087.8,236.0 1090.7,250.5 Q1087.8,265.1 1090.7,279.6 Q1087.8,294.1 1090.7,308.6 Q1087.8,323.1 1090.1,337.7 A29.4,12.5 0 0 0 1148.9,337.7 Q1151.2,323.1 1148.3,308.6 Q1151.2,294.1 1148.3,279.6 Q1151.2,265.1 1148.3,250.5 Q1151.2,236.0 1148.9,221.5 Z" fill="url(#gBlueBody)"/>
<path d="M1090.1,221.5 Q1087.8,236.0 1090.7,250.5 Q1087.8,265.1 1090.7,279.6 Q1087.8,294.1 1090.7,308.6 Q1087.8,323.1 1090.1,337.7 A29.4,12.5 0 0 0 1148.9,337.7 Q1151.2,323.1 1148.3,308.6 Q1151.2,294.1 1148.3,279.6 Q1151.2,265.1 1148.3,250.5 Q1151.2,236.0 1148.9,221.5 Z" fill="url(#gBlueShade)"/>
<path d="M1090.1,221.5 Q1087.8,236.0 1090.7,250.5 Q1087.8,265.1 1090.7,279.6 Q1087.8,294.1 1090.7,308.6 Q1087.8,323.1 1090.1,337.7 A29.4,12.5 0 0 0 1148.9,337.7 Q1151.2,323.1 1148.3,308.6 Q1151.2,294.1 1148.3,279.6 Q1151.2,265.1 1148.3,250.5 Q1151.2,236.0 1148.9,221.5 Z" fill="url(#gSegB)"/>
<path d="M1090.6,250.5 A29.4,11.3 0 0 0 1148.4,250.5" fill="none" stroke="#0a2f66" stroke-width="2.0" opacity="0.16"/>
<path d="M1090.6,279.6 A29.4,11.3 0 0 0 1148.4,279.6" fill="none" stroke="#0a2f66" stroke-width="2.0" opacity="0.16"/>
<path d="M1090.6,308.6 A29.4,11.3 0 0 0 1148.4,308.6" fill="none" stroke="#0a2f66" stroke-width="2.0" opacity="0.16"/>
<path d="M1135.7,231.5 L1135.7,347.7" stroke="#3b86c2" stroke-width="1.6" opacity="0.45"/>
<ellipse cx="1119.5" cy="223.7" rx="29.4" ry="12.5" fill="#3079ad" opacity="0.9"/>
<ellipse cx="1119.5" cy="221.5" rx="28.2" ry="11.7" fill="url(#gBlueTop)"/>
<ellipse cx="1119.5" cy="222.5" rx="16.2" ry="6.3" fill="#1f6aa8" opacity="0.45" filter="url(#b2)"/>
<path d="M1140.9,236.8 Q1138.6,251.3 1141.5,265.8 Q1138.6,280.4 1141.5,294.9 Q1138.6,309.4 1141.5,323.9 Q1138.6,338.4 1140.9,353.0 A29.4,12.5 0 0 0 1199.7,353.0 Q1202.0,338.4 1199.1,323.9 Q1202.0,309.4 1199.1,294.9 Q1202.0,280.4 1199.1,265.8 Q1202.0,251.3 1199.7,236.8 Z" fill="url(#gWhiteBody)"/>
<path d="M1140.9,236.8 Q1138.6,251.3 1141.5,265.8 Q1138.6,280.4 1141.5,294.9 Q1138.6,309.4 1141.5,323.9 Q1138.6,338.4 1140.9,353.0 A29.4,12.5 0 0 0 1199.7,353.0 Q1202.0,338.4 1199.1,323.9 Q1202.0,309.4 1199.1,294.9 Q1202.0,280.4 1199.1,265.8 Q1202.0,251.3 1199.7,236.8 Z" fill="url(#gWhiteShade)"/>
<path d="M1140.9,236.8 Q1138.6,251.3 1141.5,265.8 Q1138.6,280.4 1141.5,294.9 Q1138.6,309.4 1141.5,323.9 Q1138.6,338.4 1140.9,353.0 A29.4,12.5 0 0 0 1199.7,353.0 Q1202.0,338.4 1199.1,323.9 Q1202.0,309.4 1199.1,294.9 Q1202.0,280.4 1199.1,265.8 Q1202.0,251.3 1199.7,236.8 Z" fill="url(#gSegW)"/>
<path d="M1141.4,265.8 A29.4,11.3 0 0 0 1199.2,265.8" fill="none" stroke="#9aa0ad" stroke-width="2.0" opacity="0.20"/>
<path d="M1141.4,294.9 A29.4,11.3 0 0 0 1199.2,294.9" fill="none" stroke="#9aa0ad" stroke-width="2.0" opacity="0.20"/>
<path d="M1141.4,323.9 A29.4,11.3 0 0 0 1199.2,323.9" fill="none" stroke="#9aa0ad" stroke-width="2.0" opacity="0.20"/>
<path d="M1186.5,246.8 L1186.5,363.0" stroke="#eceef1" stroke-width="1.6" opacity="0.45"/>
<ellipse cx="1170.3" cy="239.0" rx="29.4" ry="12.5" fill="#eceef2" opacity="0.9"/>
<ellipse cx="1170.3" cy="236.8" rx="28.2" ry="11.7" fill="url(#gWhiteTop)"/>
<ellipse cx="1170.3" cy="237.8" rx="16.2" ry="6.3" fill="#cfd2d9" opacity="0.45" filter="url(#b2)"/>
<path d="M1191.7,252.1 Q1189.4,266.6 1192.3,281.1 Q1189.4,295.7 1192.3,310.2 Q1189.4,324.7 1192.3,339.2 Q1189.4,353.7 1191.7,368.3 A29.4,12.5 0 0 0 1250.5,368.3 Q1252.8,353.7 1249.9,339.2 Q1252.8,324.7 1249.9,310.2 Q1252.8,295.7 1249.9,281.1 Q1252.8,266.6 1250.5,252.1 Z" fill="url(#gWhiteBody)"/>
<path d="M1191.7,252.1 Q1189.4,266.6 1192.3,281.1 Q1189.4,295.7 1192.3,310.2 Q1189.4,324.7 1192.3,339.2 Q1189.4,353.7 1191.7,368.3 A29.4,12.5 0 0 0 1250.5,368.3 Q1252.8,353.7 1249.9,339.2 Q1252.8,324.7 1249.9,310.2 Q1252.8,295.7 1249.9,281.1 Q1252.8,266.6 1250.5,252.1 Z" fill="url(#gWhiteShade)"/>
<path d="M1191.7,252.1 Q1189.4,266.6 1192.3,281.1 Q1189.4,295.7 1192.3,310.2 Q1189.4,324.7 1192.3,339.2 Q1189.4,353.7 1191.7,368.3 A29.4,12.5 0 0 0 1250.5,368.3 Q1252.8,353.7 1249.9,339.2 Q1252.8,324.7 1249.9,310.2 Q1252.8,295.7 1249.9,281.1 Q1252.8,266.6 1250.5,252.1 Z" fill="url(#gSegW)"/>
<path d="M1192.2,281.1 A29.4,11.3 0 0 0 1250.0,281.1" fill="none" stroke="#9aa0ad" stroke-width="2.0" opacity="0.20"/>
<path d="M1192.2,310.2 A29.4,11.3 0 0 0 1250.0,310.2" fill="none" stroke="#9aa0ad" stroke-width="2.0" opacity="0.20"/>
<path d="M1192.2,339.2 A29.4,11.3 0 0 0 1250.0,339.2" fill="none" stroke="#9aa0ad" stroke-width="2.0" opacity="0.20"/>
<path d="M1237.3,262.1 L1237.3,378.3" stroke="#eceef1" stroke-width="1.6" opacity="0.45"/>
<ellipse cx="1221.1" cy="254.3" rx="29.4" ry="12.5" fill="#eceef2" opacity="0.9"/>
<ellipse cx="1221.1" cy="252.1" rx="28.2" ry="11.7" fill="url(#gWhiteTop)"/>
<ellipse cx="1221.1" cy="253.1" rx="16.2" ry="6.3" fill="#cfd2d9" opacity="0.45" filter="url(#b2)"/>
<path d="M1242.5,267.4 Q1240.2,281.9 1243.1,296.4 Q1240.2,311.0 1243.1,325.5 Q1240.2,340.0 1243.1,354.5 Q1240.2,369.0 1242.5,383.6 A29.4,12.5 0 0 0 1301.3,383.6 Q1303.6,369.0 1300.7,354.5 Q1303.6,340.0 1300.7,325.5 Q1303.6,311.0 1300.7,296.4 Q1303.6,281.9 1301.3,267.4 Z" fill="url(#gWhiteBody)"/>
<path d="M1242.5,267.4 Q1240.2,281.9 1243.1,296.4 Q1240.2,311.0 1243.1,325.5 Q1240.2,340.0 1243.1,354.5 Q1240.2,369.0 1242.5,383.6 A29.4,12.5 0 0 0 1301.3,383.6 Q1303.6,369.0 1300.7,354.5 Q1303.6,340.0 1300.7,325.5 Q1303.6,311.0 1300.7,296.4 Q1303.6,281.9 1301.3,267.4 Z" fill="url(#gWhiteShade)"/>
<path d="M1242.5,267.4 Q1240.2,281.9 1243.1,296.4 Q1240.2,311.0 1243.1,325.5 Q1240.2,340.0 1243.1,354.5 Q1240.2,369.0 1242.5,383.6 A29.4,12.5 0 0 0 1301.3,383.6 Q1303.6,369.0 1300.7,354.5 Q1303.6,340.0 1300.7,325.5 Q1303.6,311.0 1300.7,296.4 Q1303.6,281.9 1301.3,267.4 Z" fill="url(#gSegW)"/>
<path d="M1243.0,296.4 A29.4,11.3 0 0 0 1300.8,296.4" fill="none" stroke="#9aa0ad" stroke-width="2.0" opacity="0.20"/>
<path d="M1243.0,325.5 A29.4,11.3 0 0 0 1300.8,325.5" fill="none" stroke="#9aa0ad" stroke-width="2.0" opacity="0.20"/>
<path d="M1243.0,354.5 A29.4,11.3 0 0 0 1300.8,354.5" fill="none" stroke="#9aa0ad" stroke-width="2.0" opacity="0.20"/>
<path d="M1288.1,277.4 L1288.1,393.6" stroke="#eceef1" stroke-width="1.6" opacity="0.45"/>
<ellipse cx="1271.9" cy="269.6" rx="29.4" ry="12.5" fill="#eceef2" opacity="0.9"/>
<ellipse cx="1271.9" cy="267.4" rx="28.2" ry="11.7" fill="url(#gWhiteTop)"/>
<ellipse cx="1271.9" cy="268.4" rx="16.2" ry="6.3" fill="#cfd2d9" opacity="0.45" filter="url(#b2)"/>
<path d="M1293.3,282.7 Q1291.0,297.2 1293.9,311.7 Q1291.0,326.3 1293.9,340.8 Q1291.0,355.3 1293.9,369.8 Q1291.0,384.3 1293.3,398.9 A29.4,12.5 0 0 0 1352.1,398.9 Q1354.4,384.3 1351.5,369.8 Q1354.4,355.3 1351.5,340.8 Q1354.4,326.3 1351.5,311.7 Q1354.4,297.2 1352.1,282.7 Z" fill="url(#gWhiteBody)"/>
<path d="M1293.3,282.7 Q1291.0,297.2 1293.9,311.7 Q1291.0,326.3 1293.9,340.8 Q1291.0,355.3 1293.9,369.8 Q1291.0,384.3 1293.3,398.9 A29.4,12.5 0 0 0 1352.1,398.9 Q1354.4,384.3 1351.5,369.8 Q1354.4,355.3 1351.5,340.8 Q1354.4,326.3 1351.5,311.7 Q1354.4,297.2 1352.1,282.7 Z" fill="url(#gWhiteShade)"/>
<path d="M1293.3,282.7 Q1291.0,297.2 1293.9,311.7 Q1291.0,326.3 1293.9,340.8 Q1291.0,355.3 1293.9,369.8 Q1291.0,384.3 1293.3,398.9 A29.4,12.5 0 0 0 1352.1,398.9 Q1354.4,384.3 1351.5,369.8 Q1354.4,355.3 1351.5,340.8 Q1354.4,326.3 1351.5,311.7 Q1354.4,297.2 1352.1,282.7 Z" fill="url(#gSegW)"/>
<path d="M1293.8,311.7 A29.4,11.3 0 0 0 1351.6,311.7" fill="none" stroke="#9aa0ad" stroke-width="2.0" opacity="0.20"/>
<path d="M1293.8,340.8 A29.4,11.3 0 0 0 1351.6,340.8" fill="none" stroke="#9aa0ad" stroke-width="2.0" opacity="0.20"/>
<path d="M1293.8,369.8 A29.4,11.3 0 0 0 1351.6,369.8" fill="none" stroke="#9aa0ad" stroke-width="2.0" opacity="0.20"/>
<path d="M1338.9,292.7 L1338.9,408.9" stroke="#eceef1" stroke-width="1.6" opacity="0.45"/>
<ellipse cx="1322.7" cy="284.9" rx="29.4" ry="12.5" fill="#eceef2" opacity="0.9"/>
<ellipse cx="1322.7" cy="282.7" rx="28.2" ry="11.7" fill="url(#gWhiteTop)"/>
<ellipse cx="1322.7" cy="283.7" rx="16.2" ry="6.3" fill="#cfd2d9" opacity="0.45" filter="url(#b2)"/>
<path d="M1344.1,298.0 Q1341.8,312.5 1344.7,327.0 Q1341.8,341.6 1344.7,356.1 Q1341.8,370.6 1344.7,385.1 Q1341.8,399.6 1344.1,414.2 A29.4,12.5 0 0 0 1402.9,414.2 Q1405.2,399.6 1402.3,385.1 Q1405.2,370.6 1402.3,356.1 Q1405.2,341.6 1402.3,327.0 Q1405.2,312.5 1402.9,298.0 Z" fill="url(#gBlueBodyR)"/>
<path d="M1344.1,298.0 Q1341.8,312.5 1344.7,327.0 Q1341.8,341.6 1344.7,356.1 Q1341.8,370.6 1344.7,385.1 Q1341.8,399.6 1344.1,414.2 A29.4,12.5 0 0 0 1402.9,414.2 Q1405.2,399.6 1402.3,385.1 Q1405.2,370.6 1402.3,356.1 Q1405.2,341.6 1402.3,327.0 Q1405.2,312.5 1402.9,298.0 Z" fill="url(#gBlueShadeR)"/>
<path d="M1344.1,298.0 Q1341.8,312.5 1344.7,327.0 Q1341.8,341.6 1344.7,356.1 Q1341.8,370.6 1344.7,385.1 Q1341.8,399.6 1344.1,414.2 A29.4,12.5 0 0 0 1402.9,414.2 Q1405.2,399.6 1402.3,385.1 Q1405.2,370.6 1402.3,356.1 Q1405.2,341.6 1402.3,327.0 Q1405.2,312.5 1402.9,298.0 Z" fill="url(#gSegB)"/>
<path d="M1344.6,327.0 A29.4,11.3 0 0 0 1402.4,327.0" fill="none" stroke="#0a2f66" stroke-width="2.0" opacity="0.16"/>
<path d="M1344.6,356.1 A29.4,11.3 0 0 0 1402.4,356.1" fill="none" stroke="#0a2f66" stroke-width="2.0" opacity="0.16"/>
<path d="M1344.6,385.1 A29.4,11.3 0 0 0 1402.4,385.1" fill="none" stroke="#0a2f66" stroke-width="2.0" opacity="0.16"/>
<path d="M1389.7,308.0 L1389.7,424.2" stroke="#2f78b4" stroke-width="1.6" opacity="0.45"/>
<ellipse cx="1373.5" cy="300.2" rx="29.4" ry="12.5" fill="#2a70a3" opacity="0.9"/>
<ellipse cx="1373.5" cy="298.0" rx="28.2" ry="11.7" fill="url(#gBlueTopR)"/>
<ellipse cx="1373.5" cy="299.0" rx="16.2" ry="6.3" fill="#195f9c" opacity="0.45" filter="url(#b2)"/>
<path d="M1394.9,313.3 Q1392.6,327.8 1395.5,342.3 Q1392.6,356.9 1395.5,371.4 Q1392.6,385.9 1395.5,400.4 Q1392.6,414.9 1394.9,429.5 A29.4,12.5 0 0 0 1453.7,429.5 Q1456.0,414.9 1453.1,400.4 Q1456.0,385.9 1453.1,371.4 Q1456.0,356.9 1453.1,342.3 Q1456.0,327.8 1453.7,313.3 Z" fill="url(#gBlueBodyR)"/>
<path d="M1394.9,313.3 Q1392.6,327.8 1395.5,342.3 Q1392.6,356.9 1395.5,371.4 Q1392.6,385.9 1395.5,400.4 Q1392.6,414.9 1394.9,429.5 A29.4,12.5 0 0 0 1453.7,429.5 Q1456.0,414.9 1453.1,400.4 Q1456.0,385.9 1453.1,371.4 Q1456.0,356.9 1453.1,342.3 Q1456.0,327.8 1453.7,313.3 Z" fill="url(#gBlueShadeR)"/>
<path d="M1394.9,313.3 Q1392.6,327.8 1395.5,342.3 Q1392.6,356.9 1395.5,371.4 Q1392.6,385.9 1395.5,400.4 Q1392.6,414.9 1394.9,429.5 A29.4,12.5 0 0 0 1453.7,429.5 Q1456.0,414.9 1453.1,400.4 Q1456.0,385.9 1453.1,371.4 Q1456.0,356.9 1453.1,342.3 Q1456.0,327.8 1453.7,313.3 Z" fill="url(#gSegB)"/>
<path d="M1395.4,342.3 A29.4,11.3 0 0 0 1453.2,342.3" fill="none" stroke="#0a2f66" stroke-width="2.0" opacity="0.16"/>
<path d="M1395.4,371.4 A29.4,11.3 0 0 0 1453.2,371.4" fill="none" stroke="#0a2f66" stroke-width="2.0" opacity="0.16"/>
<path d="M1395.4,400.4 A29.4,11.3 0 0 0 1453.2,400.4" fill="none" stroke="#0a2f66" stroke-width="2.0" opacity="0.16"/>
<path d="M1440.5,323.3 L1440.5,439.5" stroke="#2f78b4" stroke-width="1.6" opacity="0.45"/>
<ellipse cx="1424.3" cy="315.5" rx="29.4" ry="12.5" fill="#2a70a3" opacity="0.9"/>
<ellipse cx="1424.3" cy="313.3" rx="28.2" ry="11.7" fill="url(#gBlueTopR)"/>
<ellipse cx="1424.3" cy="314.3" rx="16.2" ry="6.3" fill="#195f9c" opacity="0.45" filter="url(#b2)"/>
<path d="M1445.7,328.6 Q1443.4,343.1 1446.3,357.6 Q1443.4,372.2 1446.3,386.7 Q1443.4,401.2 1446.3,415.7 Q1443.4,430.2 1445.7,444.8 A29.4,12.5 0 0 0 1504.5,444.8 Q1506.8,430.2 1503.9,415.7 Q1506.8,401.2 1503.9,386.7 Q1506.8,372.2 1503.9,357.6 Q1506.8,343.1 1504.5,328.6 Z" fill="url(#gBlueBodyR)"/>
<path d="M1445.7,328.6 Q1443.4,343.1 1446.3,357.6 Q1443.4,372.2 1446.3,386.7 Q1443.4,401.2 1446.3,415.7 Q1443.4,430.2 1445.7,444.8 A29.4,12.5 0 0 0 1504.5,444.8 Q1506.8,430.2 1503.9,415.7 Q1506.8,401.2 1503.9,386.7 Q1506.8,372.2 1503.9,357.6 Q1506.8,343.1 1504.5,328.6 Z" fill="url(#gBlueShadeR)"/>
<path d="M1445.7,328.6 Q1443.4,343.1 1446.3,357.6 Q1443.4,372.2 1446.3,386.7 Q1443.4,401.2 1446.3,415.7 Q1443.4,430.2 1445.7,444.8 A29.4,12.5 0 0 0 1504.5,444.8 Q1506.8,430.2 1503.9,415.7 Q1506.8,401.2 1503.9,386.7 Q1506.8,372.2 1503.9,357.6 Q1506.8,343.1 1504.5,328.6 Z" fill="url(#gSegB)"/>
<path d="M1446.2,357.6 A29.4,11.3 0 0 0 1504.0,357.6" fill="none" stroke="#0a2f66" stroke-width="2.0" opacity="0.16"/>
<path d="M1446.2,386.7 A29.4,11.3 0 0 0 1504.0,386.7" fill="none" stroke="#0a2f66" stroke-width="2.0" opacity="0.16"/>
<path d="M1446.2,415.7 A29.4,11.3 0 0 0 1504.0,415.7" fill="none" stroke="#0a2f66" stroke-width="2.0" opacity="0.16"/>
<path d="M1491.3,338.6 L1491.3,454.8" stroke="#2f78b4" stroke-width="1.6" opacity="0.45"/>
<ellipse cx="1475.1" cy="330.8" rx="29.4" ry="12.5" fill="#2a70a3" opacity="0.9"/>
<ellipse cx="1475.1" cy="328.6" rx="28.2" ry="11.7" fill="url(#gBlueTopR)"/>
<ellipse cx="1475.1" cy="329.6" rx="16.2" ry="6.3" fill="#195f9c" opacity="0.45" filter="url(#b2)"/>
<path d="M893.1,193.9 Q890.8,208.6 893.7,223.3 Q890.8,238.0 893.7,252.7 Q890.8,267.4 893.7,282.1 Q890.8,296.8 893.1,311.5 A29.8,12.7 0 0 0 952.7,311.5 Q955.0,296.8 952.1,282.1 Q955.0,267.4 952.1,252.7 Q955.0,238.0 952.1,223.3 Q955.0,208.6 952.7,193.9 Z" fill="url(#gBlueBody)"/>
<path d="M893.1,193.9 Q890.8,208.6 893.7,223.3 Q890.8,238.0 893.7,252.7 Q890.8,267.4 893.7,282.1 Q890.8,296.8 893.1,311.5 A29.8,12.7 0 0 0 952.7,311.5 Q955.0,296.8 952.1,282.1 Q955.0,267.4 952.1,252.7 Q955.0,238.0 952.1,223.3 Q955.0,208.6 952.7,193.9 Z" fill="url(#gBlueShade)"/>
<path d="M893.1,193.9 Q890.8,208.6 893.7,223.3 Q890.8,238.0 893.7,252.7 Q890.8,267.4 893.7,282.1 Q890.8,296.8 893.1,311.5 A29.8,12.7 0 0 0 952.7,311.5 Q955.0,296.8 952.1,282.1 Q955.0,267.4 952.1,252.7 Q955.0,238.0 952.1,223.3 Q955.0,208.6 952.7,193.9 Z" fill="url(#gSegB)"/>
<path d="M893.6,223.3 A29.8,11.4 0 0 0 952.2,223.3" fill="none" stroke="#0a2f66" stroke-width="2.0" opacity="0.16"/>
<path d="M893.6,252.7 A29.8,11.4 0 0 0 952.2,252.7" fill="none" stroke="#0a2f66" stroke-width="2.0" opacity="0.16"/>
<path d="M893.6,282.1 A29.8,11.4 0 0 0 952.2,282.1" fill="none" stroke="#0a2f66" stroke-width="2.0" opacity="0.16"/>
<path d="M939.3,204.1 L939.3,321.7" stroke="#3b86c2" stroke-width="1.6" opacity="0.45"/>
<ellipse cx="922.9" cy="196.1" rx="29.8" ry="12.7" fill="#3079ad" opacity="0.9"/>
<ellipse cx="922.9" cy="193.9" rx="28.6" ry="11.9" fill="url(#gBlueTop)"/>
<ellipse cx="922.9" cy="194.9" rx="16.4" ry="6.3" fill="#1f6aa8" opacity="0.45" filter="url(#b2)"/>
<path d="M944.4,209.7 Q942.1,224.4 945.0,239.1 Q942.1,253.8 945.0,268.5 Q942.1,283.2 945.0,297.9 Q942.1,312.6 944.4,327.3 A29.8,12.7 0 0 0 1004.0,327.3 Q1006.3,312.6 1003.4,297.9 Q1006.3,283.2 1003.4,268.5 Q1006.3,253.8 1003.4,239.1 Q1006.3,224.4 1004.0,209.7 Z" fill="url(#gBlueBody)"/>
<path d="M944.4,209.7 Q942.1,224.4 945.0,239.1 Q942.1,253.8 945.0,268.5 Q942.1,283.2 945.0,297.9 Q942.1,312.6 944.4,327.3 A29.8,12.7 0 0 0 1004.0,327.3 Q1006.3,312.6 1003.4,297.9 Q1006.3,283.2 1003.4,268.5 Q1006.3,253.8 1003.4,239.1 Q1006.3,224.4 1004.0,209.7 Z" fill="url(#gBlueShade)"/>
<path d="M944.4,209.7 Q942.1,224.4 945.0,239.1 Q942.1,253.8 945.0,268.5 Q942.1,283.2 945.0,297.9 Q942.1,312.6 944.4,327.3 A29.8,12.7 0 0 0 1004.0,327.3 Q1006.3,312.6 1003.4,297.9 Q1006.3,283.2 1003.4,268.5 Q1006.3,253.8 1003.4,239.1 Q1006.3,224.4 1004.0,209.7 Z" fill="url(#gSegB)"/>
<path d="M944.9,239.1 A29.8,11.4 0 0 0 1003.5,239.1" fill="none" stroke="#0a2f66" stroke-width="2.0" opacity="0.16"/>
<path d="M944.9,268.5 A29.8,11.4 0 0 0 1003.5,268.5" fill="none" stroke="#0a2f66" stroke-width="2.0" opacity="0.16"/>
<path d="M944.9,297.9 A29.8,11.4 0 0 0 1003.5,297.9" fill="none" stroke="#0a2f66" stroke-width="2.0" opacity="0.16"/>
<path d="M990.6,219.9 L990.6,337.5" stroke="#3b86c2" stroke-width="1.6" opacity="0.45"/>
<ellipse cx="974.2" cy="211.9" rx="29.8" ry="12.7" fill="#3079ad" opacity="0.9"/>
<ellipse cx="974.2" cy="209.7" rx="28.6" ry="11.9" fill="url(#gBlueTop)"/>
<ellipse cx="974.2" cy="210.7" rx="16.4" ry="6.3" fill="#1f6aa8" opacity="0.45" filter="url(#b2)"/>
<path d="M995.7,225.5 Q993.4,240.2 996.3,254.9 Q993.4,269.6 996.3,284.3 Q993.4,299.0 996.3,313.7 Q993.4,328.4 995.7,343.1 A29.8,12.7 0 0 0 1055.3,343.1 Q1057.6,328.4 1054.7,313.7 Q1057.6,299.0 1054.7,284.3 Q1057.6,269.6 1054.7,254.9 Q1057.6,240.2 1055.3,225.5 Z" fill="url(#gBlueBody)"/>
<path d="M995.7,225.5 Q993.4,240.2 996.3,254.9 Q993.4,269.6 996.3,284.3 Q993.4,299.0 996.3,313.7 Q993.4,328.4 995.7,343.1 A29.8,12.7 0 0 0 1055.3,343.1 Q1057.6,328.4 1054.7,313.7 Q1057.6,299.0 1054.7,284.3 Q1057.6,269.6 1054.7,254.9 Q1057.6,240.2 1055.3,225.5 Z" fill="url(#gBlueShade)"/>
<path d="M995.7,225.5 Q993.4,240.2 996.3,254.9 Q993.4,269.6 996.3,284.3 Q993.4,299.0 996.3,313.7 Q993.4,328.4 995.7,343.1 A29.8,12.7 0 0 0 1055.3,343.1 Q1057.6,328.4 1054.7,313.7 Q1057.6,299.0 1054.7,284.3 Q1057.6,269.6 1054.7,254.9 Q1057.6,240.2 1055.3,225.5 Z" fill="url(#gSegB)"/>
<path d="M996.2,254.9 A29.8,11.4 0 0 0 1054.8,254.9" fill="none" stroke="#0a2f66" stroke-width="2.0" opacity="0.16"/>
<path d="M996.2,284.3 A29.8,11.4 0 0 0 1054.8,284.3" fill="none" stroke="#0a2f66" stroke-width="2.0" opacity="0.16"/>
<path d="M996.2,313.7 A29.8,11.4 0 0 0 1054.8,313.7" fill="none" stroke="#0a2f66" stroke-width="2.0" opacity="0.16"/>
<path d="M1041.9,235.7 L1041.9,353.3" stroke="#3b86c2" stroke-width="1.6" opacity="0.45"/>
<ellipse cx="1025.5" cy="227.7" rx="29.8" ry="12.7" fill="#3079ad" opacity="0.9"/>
<ellipse cx="1025.5" cy="225.5" rx="28.6" ry="11.9" fill="url(#gBlueTop)"/>
<ellipse cx="1025.5" cy="226.5" rx="16.4" ry="6.3" fill="#1f6aa8" opacity="0.45" filter="url(#b2)"/>
<path d="M1047.0,241.3 Q1044.7,256.0 1047.6,270.7 Q1044.7,285.4 1047.6,300.1 Q1044.7,314.8 1047.6,329.5 Q1044.7,344.2 1047.0,358.9 A29.8,12.7 0 0 0 1106.6,358.9 Q1108.9,344.2 1106.0,329.5 Q1108.9,314.8 1106.0,300.1 Q1108.9,285.4 1106.0,270.7 Q1108.9,256.0 1106.6,241.3 Z" fill="url(#gBlueBody)"/>
<path d="M1047.0,241.3 Q1044.7,256.0 1047.6,270.7 Q1044.7,285.4 1047.6,300.1 Q1044.7,314.8 1047.6,329.5 Q1044.7,344.2 1047.0,358.9 A29.8,12.7 0 0 0 1106.6,358.9 Q1108.9,344.2 1106.0,329.5 Q1108.9,314.8 1106.0,300.1 Q1108.9,285.4 1106.0,270.7 Q1108.9,256.0 1106.6,241.3 Z" fill="url(#gBlueShade)"/>
<path d="M1047.0,241.3 Q1044.7,256.0 1047.6,270.7 Q1044.7,285.4 1047.6,300.1 Q1044.7,314.8 1047.6,329.5 Q1044.7,344.2 1047.0,358.9 A29.8,12.7 0 0 0 1106.6,358.9 Q1108.9,344.2 1106.0,329.5 Q1108.9,314.8 1106.0,300.1 Q1108.9,285.4 1106.0,270.7 Q1108.9,256.0 1106.6,241.3 Z" fill="url(#gSegB)"/>
<path d="M1047.5,270.7 A29.8,11.4 0 0 0 1106.1,270.7" fill="none" stroke="#0a2f66" stroke-width="2.0" opacity="0.16"/>
<path d="M1047.5,300.1 A29.8,11.4 0 0 0 1106.1,300.1" fill="none" stroke="#0a2f66" stroke-width="2.0" opacity="0.16"/>
<path d="M1047.5,329.5 A29.8,11.4 0 0 0 1106.1,329.5" fill="none" stroke="#0a2f66" stroke-width="2.0" opacity="0.16"/>
<path d="M1093.2,251.5 L1093.2,369.1" stroke="#3b86c2" stroke-width="1.6" opacity="0.45"/>
<ellipse cx="1076.8" cy="243.5" rx="29.8" ry="12.7" fill="#3079ad" opacity="0.9"/>
<ellipse cx="1076.8" cy="241.3" rx="28.6" ry="11.9" fill="url(#gBlueTop)"/>
<ellipse cx="1076.8" cy="242.3" rx="16.4" ry="6.3" fill="#1f6aa8" opacity="0.45" filter="url(#b2)"/>
<path d="M1098.3,257.1 Q1096.0,271.8 1098.9,286.5 Q1096.0,301.2 1098.9,315.9 Q1096.0,330.6 1098.9,345.3 Q1096.0,360.0 1098.3,374.7 A29.8,12.7 0 0 0 1157.9,374.7 Q1160.2,360.0 1157.3,345.3 Q1160.2,330.6 1157.3,315.9 Q1160.2,301.2 1157.3,286.5 Q1160.2,271.8 1157.9,257.1 Z" fill="url(#gWhiteBody)"/>
<path d="M1098.3,257.1 Q1096.0,271.8 1098.9,286.5 Q1096.0,301.2 1098.9,315.9 Q1096.0,330.6 1098.9,345.3 Q1096.0,360.0 1098.3,374.7 A29.8,12.7 0 0 0 1157.9,374.7 Q1160.2,360.0 1157.3,345.3 Q1160.2,330.6 1157.3,315.9 Q1160.2,301.2 1157.3,286.5 Q1160.2,271.8 1157.9,257.1 Z" fill="url(#gWhiteShade)"/>
<path d="M1098.3,257.1 Q1096.0,271.8 1098.9,286.5 Q1096.0,301.2 1098.9,315.9 Q1096.0,330.6 1098.9,345.3 Q1096.0,360.0 1098.3,374.7 A29.8,12.7 0 0 0 1157.9,374.7 Q1160.2,360.0 1157.3,345.3 Q1160.2,330.6 1157.3,315.9 Q1160.2,301.2 1157.3,286.5 Q1160.2,271.8 1157.9,257.1 Z" fill="url(#gSegW)"/>
<path d="M1098.8,286.5 A29.8,11.4 0 0 0 1157.4,286.5" fill="none" stroke="#9aa0ad" stroke-width="2.0" opacity="0.20"/>
<path d="M1098.8,315.9 A29.8,11.4 0 0 0 1157.4,315.9" fill="none" stroke="#9aa0ad" stroke-width="2.0" opacity="0.20"/>
<path d="M1098.8,345.3 A29.8,11.4 0 0 0 1157.4,345.3" fill="none" stroke="#9aa0ad" stroke-width="2.0" opacity="0.20"/>
<path d="M1144.5,267.3 L1144.5,384.9" stroke="#eceef1" stroke-width="1.6" opacity="0.45"/>
<ellipse cx="1128.1" cy="259.3" rx="29.8" ry="12.7" fill="#eceef2" opacity="0.9"/>
<ellipse cx="1128.1" cy="257.1" rx="28.6" ry="11.9" fill="url(#gWhiteTop)"/>
<ellipse cx="1128.1" cy="258.1" rx="16.4" ry="6.3" fill="#cfd2d9" opacity="0.45" filter="url(#b2)"/>
<path d="M1149.6,272.9 Q1147.3,287.6 1150.2,302.3 Q1147.3,317.0 1150.2,331.7 Q1147.3,346.4 1150.2,361.1 Q1147.3,375.8 1149.6,390.5 A29.8,12.7 0 0 0 1209.2,390.5 Q1211.5,375.8 1208.6,361.1 Q1211.5,346.4 1208.6,331.7 Q1211.5,317.0 1208.6,302.3 Q1211.5,287.6 1209.2,272.9 Z" fill="url(#gWhiteBody)"/>
<path d="M1149.6,272.9 Q1147.3,287.6 1150.2,302.3 Q1147.3,317.0 1150.2,331.7 Q1147.3,346.4 1150.2,361.1 Q1147.3,375.8 1149.6,390.5 A29.8,12.7 0 0 0 1209.2,390.5 Q1211.5,375.8 1208.6,361.1 Q1211.5,346.4 1208.6,331.7 Q1211.5,317.0 1208.6,302.3 Q1211.5,287.6 1209.2,272.9 Z" fill="url(#gWhiteShade)"/>
<path d="M1149.6,272.9 Q1147.3,287.6 1150.2,302.3 Q1147.3,317.0 1150.2,331.7 Q1147.3,346.4 1150.2,361.1 Q1147.3,375.8 1149.6,390.5 A29.8,12.7 0 0 0 1209.2,390.5 Q1211.5,375.8 1208.6,361.1 Q1211.5,346.4 1208.6,331.7 Q1211.5,317.0 1208.6,302.3 Q1211.5,287.6 1209.2,272.9 Z" fill="url(#gSegW)"/>
<path d="M1150.1,302.3 A29.8,11.4 0 0 0 1208.7,302.3" fill="none" stroke="#9aa0ad" stroke-width="2.0" opacity="0.20"/>
<path d="M1150.1,331.7 A29.8,11.4 0 0 0 1208.7,331.7" fill="none" stroke="#9aa0ad" stroke-width="2.0" opacity="0.20"/>
<path d="M1150.1,361.1 A29.8,11.4 0 0 0 1208.7,361.1" fill="none" stroke="#9aa0ad" stroke-width="2.0" opacity="0.20"/>
<path d="M1195.8,283.1 L1195.8,400.7" stroke="#eceef1" stroke-width="1.6" opacity="0.45"/>
<ellipse cx="1179.4" cy="275.1" rx="29.8" ry="12.7" fill="#eceef2" opacity="0.9"/>
<ellipse cx="1179.4" cy="272.9" rx="28.6" ry="11.9" fill="url(#gWhiteTop)"/>
<ellipse cx="1179.4" cy="273.9" rx="16.4" ry="6.3" fill="#cfd2d9" opacity="0.45" filter="url(#b2)"/>
<path d="M1200.9,288.7 Q1198.6,303.4 1201.5,318.1 Q1198.6,332.8 1201.5,347.5 Q1198.6,362.2 1201.5,376.9 Q1198.6,391.6 1200.9,406.3 A29.8,12.7 0 0 0 1260.5,406.3 Q1262.8,391.6 1259.9,376.9 Q1262.8,362.2 1259.9,347.5 Q1262.8,332.8 1259.9,318.1 Q1262.8,303.4 1260.5,288.7 Z" fill="url(#gWhiteBody)"/>
<path d="M1200.9,288.7 Q1198.6,303.4 1201.5,318.1 Q1198.6,332.8 1201.5,347.5 Q1198.6,362.2 1201.5,376.9 Q1198.6,391.6 1200.9,406.3 A29.8,12.7 0 0 0 1260.5,406.3 Q1262.8,391.6 1259.9,376.9 Q1262.8,362.2 1259.9,347.5 Q1262.8,332.8 1259.9,318.1 Q1262.8,303.4 1260.5,288.7 Z" fill="url(#gWhiteShade)"/>
<path d="M1200.9,288.7 Q1198.6,303.4 1201.5,318.1 Q1198.6,332.8 1201.5,347.5 Q1198.6,362.2 1201.5,376.9 Q1198.6,391.6 1200.9,406.3 A29.8,12.7 0 0 0 1260.5,406.3 Q1262.8,391.6 1259.9,376.9 Q1262.8,362.2 1259.9,347.5 Q1262.8,332.8 1259.9,318.1 Q1262.8,303.4 1260.5,288.7 Z" fill="url(#gSegW)"/>
<path d="M1201.4,318.1 A29.8,11.4 0 0 0 1260.0,318.1" fill="none" stroke="#9aa0ad" stroke-width="2.0" opacity="0.20"/>
<path d="M1201.4,347.5 A29.8,11.4 0 0 0 1260.0,347.5" fill="none" stroke="#9aa0ad" stroke-width="2.0" opacity="0.20"/>
<path d="M1201.4,376.9 A29.8,11.4 0 0 0 1260.0,376.9" fill="none" stroke="#9aa0ad" stroke-width="2.0" opacity="0.20"/>
<path d="M1247.1,298.9 L1247.1,416.5" stroke="#eceef1" stroke-width="1.6" opacity="0.45"/>
<ellipse cx="1230.7" cy="290.9" rx="29.8" ry="12.7" fill="#eceef2" opacity="0.9"/>
<ellipse cx="1230.7" cy="288.7" rx="28.6" ry="11.9" fill="url(#gWhiteTop)"/>
<ellipse cx="1230.7" cy="289.7" rx="16.4" ry="6.3" fill="#cfd2d9" opacity="0.45" filter="url(#b2)"/>
<path d="M1252.2,304.5 Q1249.9,319.2 1252.8,333.9 Q1249.9,348.6 1252.8,363.3 Q1249.9,378.0 1252.8,392.7 Q1249.9,407.4 1252.2,422.1 A29.8,12.7 0 0 0 1311.8,422.1 Q1314.1,407.4 1311.2,392.7 Q1314.1,378.0 1311.2,363.3 Q1314.1,348.6 1311.2,333.9 Q1314.1,319.2 1311.8,304.5 Z" fill="url(#gWhiteBody)"/>
<path d="M1252.2,304.5 Q1249.9,319.2 1252.8,333.9 Q1249.9,348.6 1252.8,363.3 Q1249.9,378.0 1252.8,392.7 Q1249.9,407.4 1252.2,422.1 A29.8,12.7 0 0 0 1311.8,422.1 Q1314.1,407.4 1311.2,392.7 Q1314.1,378.0 1311.2,363.3 Q1314.1,348.6 1311.2,333.9 Q1314.1,319.2 1311.8,304.5 Z" fill="url(#gWhiteShade)"/>
<path d="M1252.2,304.5 Q1249.9,319.2 1252.8,333.9 Q1249.9,348.6 1252.8,363.3 Q1249.9,378.0 1252.8,392.7 Q1249.9,407.4 1252.2,422.1 A29.8,12.7 0 0 0 1311.8,422.1 Q1314.1,407.4 1311.2,392.7 Q1314.1,378.0 1311.2,363.3 Q1314.1,348.6 1311.2,333.9 Q1314.1,319.2 1311.8,304.5 Z" fill="url(#gSegW)"/>
<path d="M1252.7,333.9 A29.8,11.4 0 0 0 1311.3,333.9" fill="none" stroke="#9aa0ad" stroke-width="2.0" opacity="0.20"/>
<path d="M1252.7,363.3 A29.8,11.4 0 0 0 1311.3,363.3" fill="none" stroke="#9aa0ad" stroke-width="2.0" opacity="0.20"/>
<path d="M1252.7,392.7 A29.8,11.4 0 0 0 1311.3,392.7" fill="none" stroke="#9aa0ad" stroke-width="2.0" opacity="0.20"/>
<path d="M1298.4,314.7 L1298.4,432.3" stroke="#eceef1" stroke-width="1.6" opacity="0.45"/>
<ellipse cx="1282.0" cy="306.7" rx="29.8" ry="12.7" fill="#eceef2" opacity="0.9"/>
<ellipse cx="1282.0" cy="304.5" rx="28.6" ry="11.9" fill="url(#gWhiteTop)"/>
<ellipse cx="1282.0" cy="305.5" rx="16.4" ry="6.3" fill="#cfd2d9" opacity="0.45" filter="url(#b2)"/>
<path d="M1303.5,320.3 Q1301.2,335.0 1304.1,349.7 Q1301.2,364.4 1304.1,379.1 Q1301.2,393.8 1304.1,408.5 Q1301.2,423.2 1303.5,437.9 A29.8,12.7 0 0 0 1363.1,437.9 Q1365.4,423.2 1362.5,408.5 Q1365.4,393.8 1362.5,379.1 Q1365.4,364.4 1362.5,349.7 Q1365.4,335.0 1363.1,320.3 Z" fill="url(#gBlueBodyR)"/>
<path d="M1303.5,320.3 Q1301.2,335.0 1304.1,349.7 Q1301.2,364.4 1304.1,379.1 Q1301.2,393.8 1304.1,408.5 Q1301.2,423.2 1303.5,437.9 A29.8,12.7 0 0 0 1363.1,437.9 Q1365.4,423.2 1362.5,408.5 Q1365.4,393.8 1362.5,379.1 Q1365.4,364.4 1362.5,349.7 Q1365.4,335.0 1363.1,320.3 Z" fill="url(#gBlueShadeR)"/>
<path d="M1303.5,320.3 Q1301.2,335.0 1304.1,349.7 Q1301.2,364.4 1304.1,379.1 Q1301.2,393.8 1304.1,408.5 Q1301.2,423.2 1303.5,437.9 A29.8,12.7 0 0 0 1363.1,437.9 Q1365.4,423.2 1362.5,408.5 Q1365.4,393.8 1362.5,379.1 Q1365.4,364.4 1362.5,349.7 Q1365.4,335.0 1363.1,320.3 Z" fill="url(#gSegB)"/>
<path d="M1304.0,349.7 A29.8,11.4 0 0 0 1362.6,349.7" fill="none" stroke="#0a2f66" stroke-width="2.0" opacity="0.16"/>
<path d="M1304.0,379.1 A29.8,11.4 0 0 0 1362.6,379.1" fill="none" stroke="#0a2f66" stroke-width="2.0" opacity="0.16"/>
<path d="M1304.0,408.5 A29.8,11.4 0 0 0 1362.6,408.5" fill="none" stroke="#0a2f66" stroke-width="2.0" opacity="0.16"/>
<path d="M1349.7,330.5 L1349.7,448.1" stroke="#2f78b4" stroke-width="1.6" opacity="0.45"/>
<ellipse cx="1333.3" cy="322.5" rx="29.8" ry="12.7" fill="#2a70a3" opacity="0.9"/>
<ellipse cx="1333.3" cy="320.3" rx="28.6" ry="11.9" fill="url(#gBlueTopR)"/>
<ellipse cx="1333.3" cy="321.3" rx="16.4" ry="6.3" fill="#195f9c" opacity="0.45" filter="url(#b2)"/>
<path d="M1354.8,336.1 Q1352.5,350.8 1355.4,365.5 Q1352.5,380.2 1355.4,394.9 Q1352.5,409.6 1355.4,424.3 Q1352.5,439.0 1354.8,453.7 A29.8,12.7 0 0 0 1414.4,453.7 Q1416.7,439.0 1413.8,424.3 Q1416.7,409.6 1413.8,394.9 Q1416.7,380.2 1413.8,365.5 Q1416.7,350.8 1414.4,336.1 Z" fill="url(#gBlueBodyR)"/>
<path d="M1354.8,336.1 Q1352.5,350.8 1355.4,365.5 Q1352.5,380.2 1355.4,394.9 Q1352.5,409.6 1355.4,424.3 Q1352.5,439.0 1354.8,453.7 A29.8,12.7 0 0 0 1414.4,453.7 Q1416.7,439.0 1413.8,424.3 Q1416.7,409.6 1413.8,394.9 Q1416.7,380.2 1413.8,365.5 Q1416.7,350.8 1414.4,336.1 Z" fill="url(#gBlueShadeR)"/>
<path d="M1354.8,336.1 Q1352.5,350.8 1355.4,365.5 Q1352.5,380.2 1355.4,394.9 Q1352.5,409.6 1355.4,424.3 Q1352.5,439.0 1354.8,453.7 A29.8,12.7 0 0 0 1414.4,453.7 Q1416.7,439.0 1413.8,424.3 Q1416.7,409.6 1413.8,394.9 Q1416.7,380.2 1413.8,365.5 Q1416.7,350.8 1414.4,336.1 Z" fill="url(#gSegB)"/>
<path d="M1355.3,365.5 A29.8,11.4 0 0 0 1413.9,365.5" fill="none" stroke="#0a2f66" stroke-width="2.0" opacity="0.16"/>
<path d="M1355.3,394.9 A29.8,11.4 0 0 0 1413.9,394.9" fill="none" stroke="#0a2f66" stroke-width="2.0" opacity="0.16"/>
<path d="M1355.3,424.3 A29.8,11.4 0 0 0 1413.9,424.3" fill="none" stroke="#0a2f66" stroke-width="2.0" opacity="0.16"/>
<path d="M1401.0,346.3 L1401.0,463.9" stroke="#2f78b4" stroke-width="1.6" opacity="0.45"/>
<ellipse cx="1384.6" cy="338.3" rx="29.8" ry="12.7" fill="#2a70a3" opacity="0.9"/>
<ellipse cx="1384.6" cy="336.1" rx="28.6" ry="11.9" fill="url(#gBlueTopR)"/>
<ellipse cx="1384.6" cy="337.1" rx="16.4" ry="6.3" fill="#195f9c" opacity="0.45" filter="url(#b2)"/>
<path d="M1406.1,351.9 Q1403.8,366.6 1406.7,381.3 Q1403.8,396.0 1406.7,410.7 Q1403.8,425.4 1406.7,440.1 Q1403.8,454.8 1406.1,469.5 A29.8,12.7 0 0 0 1465.7,469.5 Q1468.0,454.8 1465.1,440.1 Q1468.0,425.4 1465.1,410.7 Q1468.0,396.0 1465.1,381.3 Q1468.0,366.6 1465.7,351.9 Z" fill="url(#gBlueBodyR)"/>
<path d="M1406.1,351.9 Q1403.8,366.6 1406.7,381.3 Q1403.8,396.0 1406.7,410.7 Q1403.8,425.4 1406.7,440.1 Q1403.8,454.8 1406.1,469.5 A29.8,12.7 0 0 0 1465.7,469.5 Q1468.0,454.8 1465.1,440.1 Q1468.0,425.4 1465.1,410.7 Q1468.0,396.0 1465.1,381.3 Q1468.0,366.6 1465.7,351.9 Z" fill="url(#gBlueShadeR)"/>
<path d="M1406.1,351.9 Q1403.8,366.6 1406.7,381.3 Q1403.8,396.0 1406.7,410.7 Q1403.8,425.4 1406.7,440.1 Q1403.8,454.8 1406.1,469.5 A29.8,12.7 0 0 0 1465.7,469.5 Q1468.0,454.8 1465.1,440.1 Q1468.0,425.4 1465.1,410.7 Q1468.0,396.0 1465.1,381.3 Q1468.0,366.6 1465.7,351.9 Z" fill="url(#gSegB)"/>
<path d="M1406.6,381.3 A29.8,11.4 0 0 0 1465.2,381.3" fill="none" stroke="#0a2f66" stroke-width="2.0" opacity="0.16"/>
<path d="M1406.6,410.7 A29.8,11.4 0 0 0 1465.2,410.7" fill="none" stroke="#0a2f66" stroke-width="2.0" opacity="0.16"/>
<path d="M1406.6,440.1 A29.8,11.4 0 0 0 1465.2,440.1" fill="none" stroke="#0a2f66" stroke-width="2.0" opacity="0.16"/>
<path d="M1452.3,362.1 L1452.3,479.7" stroke="#2f78b4" stroke-width="1.6" opacity="0.45"/>
<ellipse cx="1435.9" cy="354.1" rx="29.8" ry="12.7" fill="#2a70a3" opacity="0.9"/>
<ellipse cx="1435.9" cy="351.9" rx="28.6" ry="11.9" fill="url(#gBlueTopR)"/>
<ellipse cx="1435.9" cy="352.9" rx="16.4" ry="6.3" fill="#195f9c" opacity="0.45" filter="url(#b2)"/>
<path d="M848.6,212.2 Q846.3,227.1 849.2,242.0 Q846.3,256.8 849.2,271.7 Q846.3,286.6 849.2,301.5 Q846.3,316.4 848.6,331.3 A30.1,12.8 0 0 0 908.8,331.3 Q911.1,316.4 908.2,301.5 Q911.1,286.6 908.2,271.7 Q911.1,256.8 908.2,242.0 Q911.1,227.1 908.8,212.2 Z" fill="url(#gBlueBody)"/>
<path d="M848.6,212.2 Q846.3,227.1 849.2,242.0 Q846.3,256.8 849.2,271.7 Q846.3,286.6 849.2,301.5 Q846.3,316.4 848.6,331.3 A30.1,12.8 0 0 0 908.8,331.3 Q911.1,316.4 908.2,301.5 Q911.1,286.6 908.2,271.7 Q911.1,256.8 908.2,242.0 Q911.1,227.1 908.8,212.2 Z" fill="url(#gBlueShade)"/>
<path d="M848.6,212.2 Q846.3,227.1 849.2,242.0 Q846.3,256.8 849.2,271.7 Q846.3,286.6 849.2,301.5 Q846.3,316.4 848.6,331.3 A30.1,12.8 0 0 0 908.8,331.3 Q911.1,316.4 908.2,301.5 Q911.1,286.6 908.2,271.7 Q911.1,256.8 908.2,242.0 Q911.1,227.1 908.8,212.2 Z" fill="url(#gSegB)"/>
<path d="M849.1,242.0 A30.1,11.6 0 0 0 908.3,242.0" fill="none" stroke="#0a2f66" stroke-width="2.0" opacity="0.16"/>
<path d="M849.1,271.7 A30.1,11.6 0 0 0 908.3,271.7" fill="none" stroke="#0a2f66" stroke-width="2.0" opacity="0.16"/>
<path d="M849.1,301.5 A30.1,11.6 0 0 0 908.3,301.5" fill="none" stroke="#0a2f66" stroke-width="2.0" opacity="0.16"/>
<path d="M895.3,222.5 L895.3,341.5" stroke="#3b86c2" stroke-width="1.6" opacity="0.45"/>
<ellipse cx="878.7" cy="214.4" rx="30.1" ry="12.8" fill="#3079ad" opacity="0.9"/>
<ellipse cx="878.7" cy="212.2" rx="28.9" ry="12.0" fill="url(#gBlueTop)"/>
<ellipse cx="878.7" cy="213.2" rx="16.6" ry="6.4" fill="#1f6aa8" opacity="0.45" filter="url(#b2)"/>
<path d="M900.4,228.5 Q898.1,243.4 901.0,258.3 Q898.1,273.1 901.0,288.0 Q898.1,302.9 901.0,317.8 Q898.1,332.7 900.4,347.6 A30.1,12.8 0 0 0 960.6,347.6 Q962.9,332.7 960.0,317.8 Q962.9,302.9 960.0,288.0 Q962.9,273.1 960.0,258.3 Q962.9,243.4 960.6,228.5 Z" fill="url(#gBlueBody)"/>
<path d="M900.4,228.5 Q898.1,243.4 901.0,258.3 Q898.1,273.1 901.0,288.0 Q898.1,302.9 901.0,317.8 Q898.1,332.7 900.4,347.6 A30.1,12.8 0 0 0 960.6,347.6 Q962.9,332.7 960.0,317.8 Q962.9,302.9 960.0,288.0 Q962.9,273.1 960.0,258.3 Q962.9,243.4 960.6,228.5 Z" fill="url(#gBlueShade)"/>
<path d="M900.4,228.5 Q898.1,243.4 901.0,258.3 Q898.1,273.1 901.0,288.0 Q898.1,302.9 901.0,317.8 Q898.1,332.7 900.4,347.6 A30.1,12.8 0 0 0 960.6,347.6 Q962.9,332.7 960.0,317.8 Q962.9,302.9 960.0,288.0 Q962.9,273.1 960.0,258.3 Q962.9,243.4 960.6,228.5 Z" fill="url(#gSegB)"/>
<path d="M900.9,258.3 A30.1,11.6 0 0 0 960.1,258.3" fill="none" stroke="#0a2f66" stroke-width="2.0" opacity="0.16"/>
<path d="M900.9,288.0 A30.1,11.6 0 0 0 960.1,288.0" fill="none" stroke="#0a2f66" stroke-width="2.0" opacity="0.16"/>
<path d="M900.9,317.8 A30.1,11.6 0 0 0 960.1,317.8" fill="none" stroke="#0a2f66" stroke-width="2.0" opacity="0.16"/>
<path d="M947.1,238.8 L947.1,357.8" stroke="#3b86c2" stroke-width="1.6" opacity="0.45"/>
<ellipse cx="930.5" cy="230.7" rx="30.1" ry="12.8" fill="#3079ad" opacity="0.9"/>
<ellipse cx="930.5" cy="228.5" rx="28.9" ry="12.0" fill="url(#gBlueTop)"/>
<ellipse cx="930.5" cy="229.5" rx="16.6" ry="6.4" fill="#1f6aa8" opacity="0.45" filter="url(#b2)"/>
<path d="M952.2,244.8 Q949.9,259.7 952.8,274.6 Q949.9,289.4 952.8,304.3 Q949.9,319.2 952.8,334.1 Q949.9,349.0 952.2,363.9 A30.1,12.8 0 0 0 1012.4,363.9 Q1014.7,349.0 1011.8,334.1 Q1014.7,319.2 1011.8,304.3 Q1014.7,289.4 1011.8,274.6 Q1014.7,259.7 1012.4,244.8 Z" fill="url(#gBlueBody)"/>
<path d="M952.2,244.8 Q949.9,259.7 952.8,274.6 Q949.9,289.4 952.8,304.3 Q949.9,319.2 952.8,334.1 Q949.9,349.0 952.2,363.9 A30.1,12.8 0 0 0 1012.4,363.9 Q1014.7,349.0 1011.8,334.1 Q1014.7,319.2 1011.8,304.3 Q1014.7,289.4 1011.8,274.6 Q1014.7,259.7 1012.4,244.8 Z" fill="url(#gBlueShade)"/>
<path d="M952.2,244.8 Q949.9,259.7 952.8,274.6 Q949.9,289.4 952.8,304.3 Q949.9,319.2 952.8,334.1 Q949.9,349.0 952.2,363.9 A30.1,12.8 0 0 0 1012.4,363.9 Q1014.7,349.0 1011.8,334.1 Q1014.7,319.2 1011.8,304.3 Q1014.7,289.4 1011.8,274.6 Q1014.7,259.7 1012.4,244.8 Z" fill="url(#gSegB)"/>
<path d="M952.7,274.6 A30.1,11.6 0 0 0 1011.9,274.6" fill="none" stroke="#0a2f66" stroke-width="2.0" opacity="0.16"/>
<path d="M952.7,304.3 A30.1,11.6 0 0 0 1011.9,304.3" fill="none" stroke="#0a2f66" stroke-width="2.0" opacity="0.16"/>
<path d="M952.7,334.1 A30.1,11.6 0 0 0 1011.9,334.1" fill="none" stroke="#0a2f66" stroke-width="2.0" opacity="0.16"/>
<path d="M998.9,255.1 L998.9,374.1" stroke="#3b86c2" stroke-width="1.6" opacity="0.45"/>
<ellipse cx="982.3" cy="247.0" rx="30.1" ry="12.8" fill="#3079ad" opacity="0.9"/>
<ellipse cx="982.3" cy="244.8" rx="28.9" ry="12.0" fill="url(#gBlueTop)"/>
<ellipse cx="982.3" cy="245.8" rx="16.6" ry="6.4" fill="#1f6aa8" opacity="0.45" filter="url(#b2)"/>
<path d="M1004.0,261.1 Q1001.7,276.0 1004.6,290.9 Q1001.7,305.7 1004.6,320.6 Q1001.7,335.5 1004.6,350.4 Q1001.7,365.3 1004.0,380.2 A30.1,12.8 0 0 0 1064.2,380.2 Q1066.5,365.3 1063.6,350.4 Q1066.5,335.5 1063.6,320.6 Q1066.5,305.7 1063.6,290.9 Q1066.5,276.0 1064.2,261.1 Z" fill="url(#gBlueBody)"/>
<path d="M1004.0,261.1 Q1001.7,276.0 1004.6,290.9 Q1001.7,305.7 1004.6,320.6 Q1001.7,335.5 1004.6,350.4 Q1001.7,365.3 1004.0,380.2 A30.1,12.8 0 0 0 1064.2,380.2 Q1066.5,365.3 1063.6,350.4 Q1066.5,335.5 1063.6,320.6 Q1066.5,305.7 1063.6,290.9 Q1066.5,276.0 1064.2,261.1 Z" fill="url(#gBlueShade)"/>
<path d="M1004.0,261.1 Q1001.7,276.0 1004.6,290.9 Q1001.7,305.7 1004.6,320.6 Q1001.7,335.5 1004.6,350.4 Q1001.7,365.3 1004.0,380.2 A30.1,12.8 0 0 0 1064.2,380.2 Q1066.5,365.3 1063.6,350.4 Q1066.5,335.5 1063.6,320.6 Q1066.5,305.7 1063.6,290.9 Q1066.5,276.0 1064.2,261.1 Z" fill="url(#gSegB)"/>
<path d="M1004.5,290.9 A30.1,11.6 0 0 0 1063.7,290.9" fill="none" stroke="#0a2f66" stroke-width="2.0" opacity="0.16"/>
<path d="M1004.5,320.6 A30.1,11.6 0 0 0 1063.7,320.6" fill="none" stroke="#0a2f66" stroke-width="2.0" opacity="0.16"/>
<path d="M1004.5,350.4 A30.1,11.6 0 0 0 1063.7,350.4" fill="none" stroke="#0a2f66" stroke-width="2.0" opacity="0.16"/>
<path d="M1050.7,271.4 L1050.7,390.4" stroke="#3b86c2" stroke-width="1.6" opacity="0.45"/>
<ellipse cx="1034.1" cy="263.3" rx="30.1" ry="12.8" fill="#3079ad" opacity="0.9"/>
<ellipse cx="1034.1" cy="261.1" rx="28.9" ry="12.0" fill="url(#gBlueTop)"/>
<ellipse cx="1034.1" cy="262.1" rx="16.6" ry="6.4" fill="#1f6aa8" opacity="0.45" filter="url(#b2)"/>
<path d="M1055.8,277.4 Q1053.5,292.3 1056.4,307.2 Q1053.5,322.0 1056.4,336.9 Q1053.5,351.8 1056.4,366.7 Q1053.5,381.6 1055.8,396.5 A30.1,12.8 0 0 0 1116.0,396.5 Q1118.3,381.6 1115.4,366.7 Q1118.3,351.8 1115.4,336.9 Q1118.3,322.0 1115.4,307.2 Q1118.3,292.3 1116.0,277.4 Z" fill="url(#gWhiteBody)"/>
<path d="M1055.8,277.4 Q1053.5,292.3 1056.4,307.2 Q1053.5,322.0 1056.4,336.9 Q1053.5,351.8 1056.4,366.7 Q1053.5,381.6 1055.8,396.5 A30.1,12.8 0 0 0 1116.0,396.5 Q1118.3,381.6 1115.4,366.7 Q1118.3,351.8 1115.4,336.9 Q1118.3,322.0 1115.4,307.2 Q1118.3,292.3 1116.0,277.4 Z" fill="url(#gWhiteShade)"/>
<path d="M1055.8,277.4 Q1053.5,292.3 1056.4,307.2 Q1053.5,322.0 1056.4,336.9 Q1053.5,351.8 1056.4,366.7 Q1053.5,381.6 1055.8,396.5 A30.1,12.8 0 0 0 1116.0,396.5 Q1118.3,381.6 1115.4,366.7 Q1118.3,351.8 1115.4,336.9 Q1118.3,322.0 1115.4,307.2 Q1118.3,292.3 1116.0,277.4 Z" fill="url(#gSegW)"/>
<path d="M1056.3,307.2 A30.1,11.6 0 0 0 1115.5,307.2" fill="none" stroke="#9aa0ad" stroke-width="2.0" opacity="0.20"/>
<path d="M1056.3,336.9 A30.1,11.6 0 0 0 1115.5,336.9" fill="none" stroke="#9aa0ad" stroke-width="2.0" opacity="0.20"/>
<path d="M1056.3,366.7 A30.1,11.6 0 0 0 1115.5,366.7" fill="none" stroke="#9aa0ad" stroke-width="2.0" opacity="0.20"/>
<path d="M1102.5,287.7 L1102.5,406.7" stroke="#eceef1" stroke-width="1.6" opacity="0.45"/>
<ellipse cx="1085.9" cy="279.6" rx="30.1" ry="12.8" fill="#eceef2" opacity="0.9"/>
<ellipse cx="1085.9" cy="277.4" rx="28.9" ry="12.0" fill="url(#gWhiteTop)"/>
<ellipse cx="1085.9" cy="278.4" rx="16.6" ry="6.4" fill="#cfd2d9" opacity="0.45" filter="url(#b2)"/>
<path d="M1107.6,293.7 Q1105.3,308.6 1108.2,323.5 Q1105.3,338.3 1108.2,353.2 Q1105.3,368.1 1108.2,383.0 Q1105.3,397.9 1107.6,412.8 A30.1,12.8 0 0 0 1167.8,412.8 Q1170.1,397.9 1167.2,383.0 Q1170.1,368.1 1167.2,353.2 Q1170.1,338.3 1167.2,323.5 Q1170.1,308.6 1167.8,293.7 Z" fill="url(#gWhiteBody)"/>
<path d="M1107.6,293.7 Q1105.3,308.6 1108.2,323.5 Q1105.3,338.3 1108.2,353.2 Q1105.3,368.1 1108.2,383.0 Q1105.3,397.9 1107.6,412.8 A30.1,12.8 0 0 0 1167.8,412.8 Q1170.1,397.9 1167.2,383.0 Q1170.1,368.1 1167.2,353.2 Q1170.1,338.3 1167.2,323.5 Q1170.1,308.6 1167.8,293.7 Z" fill="url(#gWhiteShade)"/>
<path d="M1107.6,293.7 Q1105.3,308.6 1108.2,323.5 Q1105.3,338.3 1108.2,353.2 Q1105.3,368.1 1108.2,383.0 Q1105.3,397.9 1107.6,412.8 A30.1,12.8 0 0 0 1167.8,412.8 Q1170.1,397.9 1167.2,383.0 Q1170.1,368.1 1167.2,353.2 Q1170.1,338.3 1167.2,323.5 Q1170.1,308.6 1167.8,293.7 Z" fill="url(#gSegW)"/>
<path d="M1108.1,323.5 A30.1,11.6 0 0 0 1167.3,323.5" fill="none" stroke="#9aa0ad" stroke-width="2.0" opacity="0.20"/>
<path d="M1108.1,353.2 A30.1,11.6 0 0 0 1167.3,353.2" fill="none" stroke="#9aa0ad" stroke-width="2.0" opacity="0.20"/>
<path d="M1108.1,383.0 A30.1,11.6 0 0 0 1167.3,383.0" fill="none" stroke="#9aa0ad" stroke-width="2.0" opacity="0.20"/>
<path d="M1154.3,304.0 L1154.3,423.0" stroke="#eceef1" stroke-width="1.6" opacity="0.45"/>
<ellipse cx="1137.7" cy="295.9" rx="30.1" ry="12.8" fill="#eceef2" opacity="0.9"/>
<ellipse cx="1137.7" cy="293.7" rx="28.9" ry="12.0" fill="url(#gWhiteTop)"/>
<ellipse cx="1137.7" cy="294.7" rx="16.6" ry="6.4" fill="#cfd2d9" opacity="0.45" filter="url(#b2)"/>
<path d="M1159.4,310.0 Q1157.1,324.9 1160.0,339.8 Q1157.1,354.6 1160.0,369.5 Q1157.1,384.4 1160.0,399.3 Q1157.1,414.2 1159.4,429.1 A30.1,12.8 0 0 0 1219.6,429.1 Q1221.9,414.2 1219.0,399.3 Q1221.9,384.4 1219.0,369.5 Q1221.9,354.6 1219.0,339.8 Q1221.9,324.9 1219.6,310.0 Z" fill="url(#gWhiteBody)"/>
<path d="M1159.4,310.0 Q1157.1,324.9 1160.0,339.8 Q1157.1,354.6 1160.0,369.5 Q1157.1,384.4 1160.0,399.3 Q1157.1,414.2 1159.4,429.1 A30.1,12.8 0 0 0 1219.6,429.1 Q1221.9,414.2 1219.0,399.3 Q1221.9,384.4 1219.0,369.5 Q1221.9,354.6 1219.0,339.8 Q1221.9,324.9 1219.6,310.0 Z" fill="url(#gWhiteShade)"/>
<path d="M1159.4,310.0 Q1157.1,324.9 1160.0,339.8 Q1157.1,354.6 1160.0,369.5 Q1157.1,384.4 1160.0,399.3 Q1157.1,414.2 1159.4,429.1 A30.1,12.8 0 0 0 1219.6,429.1 Q1221.9,414.2 1219.0,399.3 Q1221.9,384.4 1219.0,369.5 Q1221.9,354.6 1219.0,339.8 Q1221.9,324.9 1219.6,310.0 Z" fill="url(#gSegW)"/>
<path d="M1159.9,339.8 A30.1,11.6 0 0 0 1219.1,339.8" fill="none" stroke="#9aa0ad" stroke-width="2.0" opacity="0.20"/>
<path d="M1159.9,369.5 A30.1,11.6 0 0 0 1219.1,369.5" fill="none" stroke="#9aa0ad" stroke-width="2.0" opacity="0.20"/>
<path d="M1159.9,399.3 A30.1,11.6 0 0 0 1219.1,399.3" fill="none" stroke="#9aa0ad" stroke-width="2.0" opacity="0.20"/>
<path d="M1206.1,320.3 L1206.1,439.3" stroke="#eceef1" stroke-width="1.6" opacity="0.45"/>
<ellipse cx="1189.5" cy="312.2" rx="30.1" ry="12.8" fill="#eceef2" opacity="0.9"/>
<ellipse cx="1189.5" cy="310.0" rx="28.9" ry="12.0" fill="url(#gWhiteTop)"/>
<ellipse cx="1189.5" cy="311.0" rx="16.6" ry="6.4" fill="#cfd2d9" opacity="0.45" filter="url(#b2)"/>
<path d="M1211.2,326.3 Q1208.9,341.2 1211.8,356.1 Q1208.9,370.9 1211.8,385.8 Q1208.9,400.7 1211.8,415.6 Q1208.9,430.5 1211.2,445.4 A30.1,12.8 0 0 0 1271.4,445.4 Q1273.7,430.5 1270.8,415.6 Q1273.7,400.7 1270.8,385.8 Q1273.7,370.9 1270.8,356.1 Q1273.7,341.2 1271.4,326.3 Z" fill="url(#gWhiteBody)"/>
<path d="M1211.2,326.3 Q1208.9,341.2 1211.8,356.1 Q1208.9,370.9 1211.8,385.8 Q1208.9,400.7 1211.8,415.6 Q1208.9,430.5 1211.2,445.4 A30.1,12.8 0 0 0 1271.4,445.4 Q1273.7,430.5 1270.8,415.6 Q1273.7,400.7 1270.8,385.8 Q1273.7,370.9 1270.8,356.1 Q1273.7,341.2 1271.4,326.3 Z" fill="url(#gWhiteShade)"/>
<path d="M1211.2,326.3 Q1208.9,341.2 1211.8,356.1 Q1208.9,370.9 1211.8,385.8 Q1208.9,400.7 1211.8,415.6 Q1208.9,430.5 1211.2,445.4 A30.1,12.8 0 0 0 1271.4,445.4 Q1273.7,430.5 1270.8,415.6 Q1273.7,400.7 1270.8,385.8 Q1273.7,370.9 1270.8,356.1 Q1273.7,341.2 1271.4,326.3 Z" fill="url(#gSegW)"/>
<path d="M1211.7,356.1 A30.1,11.6 0 0 0 1270.9,356.1" fill="none" stroke="#9aa0ad" stroke-width="2.0" opacity="0.20"/>
<path d="M1211.7,385.8 A30.1,11.6 0 0 0 1270.9,385.8" fill="none" stroke="#9aa0ad" stroke-width="2.0" opacity="0.20"/>
<path d="M1211.7,415.6 A30.1,11.6 0 0 0 1270.9,415.6" fill="none" stroke="#9aa0ad" stroke-width="2.0" opacity="0.20"/>
<path d="M1257.9,336.6 L1257.9,455.6" stroke="#eceef1" stroke-width="1.6" opacity="0.45"/>
<ellipse cx="1241.3" cy="328.5" rx="30.1" ry="12.8" fill="#eceef2" opacity="0.9"/>
<ellipse cx="1241.3" cy="326.3" rx="28.9" ry="12.0" fill="url(#gWhiteTop)"/>
<ellipse cx="1241.3" cy="327.3" rx="16.6" ry="6.4" fill="#cfd2d9" opacity="0.45" filter="url(#b2)"/>
<path d="M1263.0,342.6 Q1260.7,357.5 1263.6,372.4 Q1260.7,387.2 1263.6,402.1 Q1260.7,417.0 1263.6,431.9 Q1260.7,446.8 1263.0,461.7 A30.1,12.8 0 0 0 1323.2,461.7 Q1325.5,446.8 1322.6,431.9 Q1325.5,417.0 1322.6,402.1 Q1325.5,387.2 1322.6,372.4 Q1325.5,357.5 1323.2,342.6 Z" fill="url(#gBlueBodyR)"/>
<path d="M1263.0,342.6 Q1260.7,357.5 1263.6,372.4 Q1260.7,387.2 1263.6,402.1 Q1260.7,417.0 1263.6,431.9 Q1260.7,446.8 1263.0,461.7 A30.1,12.8 0 0 0 1323.2,461.7 Q1325.5,446.8 1322.6,431.9 Q1325.5,417.0 1322.6,402.1 Q1325.5,387.2 1322.6,372.4 Q1325.5,357.5 1323.2,342.6 Z" fill="url(#gBlueShadeR)"/>
<path d="M1263.0,342.6 Q1260.7,357.5 1263.6,372.4 Q1260.7,387.2 1263.6,402.1 Q1260.7,417.0 1263.6,431.9 Q1260.7,446.8 1263.0,461.7 A30.1,12.8 0 0 0 1323.2,461.7 Q1325.5,446.8 1322.6,431.9 Q1325.5,417.0 1322.6,402.1 Q1325.5,387.2 1322.6,372.4 Q1325.5,357.5 1323.2,342.6 Z" fill="url(#gSegB)"/>
<path d="M1263.5,372.4 A30.1,11.6 0 0 0 1322.7,372.4" fill="none" stroke="#0a2f66" stroke-width="2.0" opacity="0.16"/>
<path d="M1263.5,402.1 A30.1,11.6 0 0 0 1322.7,402.1" fill="none" stroke="#0a2f66" stroke-width="2.0" opacity="0.16"/>
<path d="M1263.5,431.9 A30.1,11.6 0 0 0 1322.7,431.9" fill="none" stroke="#0a2f66" stroke-width="2.0" opacity="0.16"/>
<path d="M1309.7,352.9 L1309.7,471.9" stroke="#2f78b4" stroke-width="1.6" opacity="0.45"/>
<ellipse cx="1293.1" cy="344.8" rx="30.1" ry="12.8" fill="#2a70a3" opacity="0.9"/>
<ellipse cx="1293.1" cy="342.6" rx="28.9" ry="12.0" fill="url(#gBlueTopR)"/>
<ellipse cx="1293.1" cy="343.6" rx="16.6" ry="6.4" fill="#195f9c" opacity="0.45" filter="url(#b2)"/>
<path d="M1314.8,358.9 Q1312.5,373.8 1315.4,388.7 Q1312.5,403.5 1315.4,418.4 Q1312.5,433.3 1315.4,448.2 Q1312.5,463.1 1314.8,478.0 A30.1,12.8 0 0 0 1375.0,478.0 Q1377.3,463.1 1374.4,448.2 Q1377.3,433.3 1374.4,418.4 Q1377.3,403.5 1374.4,388.7 Q1377.3,373.8 1375.0,358.9 Z" fill="url(#gBlueBodyR)"/>
<path d="M1314.8,358.9 Q1312.5,373.8 1315.4,388.7 Q1312.5,403.5 1315.4,418.4 Q1312.5,433.3 1315.4,448.2 Q1312.5,463.1 1314.8,478.0 A30.1,12.8 0 0 0 1375.0,478.0 Q1377.3,463.1 1374.4,448.2 Q1377.3,433.3 1374.4,418.4 Q1377.3,403.5 1374.4,388.7 Q1377.3,373.8 1375.0,358.9 Z" fill="url(#gBlueShadeR)"/>
<path d="M1314.8,358.9 Q1312.5,373.8 1315.4,388.7 Q1312.5,403.5 1315.4,418.4 Q1312.5,433.3 1315.4,448.2 Q1312.5,463.1 1314.8,478.0 A30.1,12.8 0 0 0 1375.0,478.0 Q1377.3,463.1 1374.4,448.2 Q1377.3,433.3 1374.4,418.4 Q1377.3,403.5 1374.4,388.7 Q1377.3,373.8 1375.0,358.9 Z" fill="url(#gSegB)"/>
<path d="M1315.3,388.7 A30.1,11.6 0 0 0 1374.5,388.7" fill="none" stroke="#0a2f66" stroke-width="2.0" opacity="0.16"/>
<path d="M1315.3,418.4 A30.1,11.6 0 0 0 1374.5,418.4" fill="none" stroke="#0a2f66" stroke-width="2.0" opacity="0.16"/>
<path d="M1315.3,448.2 A30.1,11.6 0 0 0 1374.5,448.2" fill="none" stroke="#0a2f66" stroke-width="2.0" opacity="0.16"/>
<path d="M1361.5,369.2 L1361.5,488.2" stroke="#2f78b4" stroke-width="1.6" opacity="0.45"/>
<ellipse cx="1344.9" cy="361.1" rx="30.1" ry="12.8" fill="#2a70a3" opacity="0.9"/>
<ellipse cx="1344.9" cy="358.9" rx="28.9" ry="12.0" fill="url(#gBlueTopR)"/>
<ellipse cx="1344.9" cy="359.9" rx="16.6" ry="6.4" fill="#195f9c" opacity="0.45" filter="url(#b2)"/>
<path d="M1366.6,375.2 Q1364.3,390.1 1367.2,405.0 Q1364.3,419.8 1367.2,434.7 Q1364.3,449.6 1367.2,464.5 Q1364.3,479.4 1366.6,494.3 A30.1,12.8 0 0 0 1426.8,494.3 Q1429.1,479.4 1426.2,464.5 Q1429.1,449.6 1426.2,434.7 Q1429.1,419.8 1426.2,405.0 Q1429.1,390.1 1426.8,375.2 Z" fill="url(#gBlueBodyR)"/>
<path d="M1366.6,375.2 Q1364.3,390.1 1367.2,405.0 Q1364.3,419.8 1367.2,434.7 Q1364.3,449.6 1367.2,464.5 Q1364.3,479.4 1366.6,494.3 A30.1,12.8 0 0 0 1426.8,494.3 Q1429.1,479.4 1426.2,464.5 Q1429.1,449.6 1426.2,434.7 Q1429.1,419.8 1426.2,405.0 Q1429.1,390.1 1426.8,375.2 Z" fill="url(#gBlueShadeR)"/>
<path d="M1366.6,375.2 Q1364.3,390.1 1367.2,405.0 Q1364.3,419.8 1367.2,434.7 Q1364.3,449.6 1367.2,464.5 Q1364.3,479.4 1366.6,494.3 A30.1,12.8 0 0 0 1426.8,494.3 Q1429.1,479.4 1426.2,464.5 Q1429.1,449.6 1426.2,434.7 Q1429.1,419.8 1426.2,405.0 Q1429.1,390.1 1426.8,375.2 Z" fill="url(#gSegB)"/>
<path d="M1367.1,405.0 A30.1,11.6 0 0 0 1426.3,405.0" fill="none" stroke="#0a2f66" stroke-width="2.0" opacity="0.16"/>
<path d="M1367.1,434.7 A30.1,11.6 0 0 0 1426.3,434.7" fill="none" stroke="#0a2f66" stroke-width="2.0" opacity="0.16"/>
<path d="M1367.1,464.5 A30.1,11.6 0 0 0 1426.3,464.5" fill="none" stroke="#0a2f66" stroke-width="2.0" opacity="0.16"/>
<path d="M1413.3,385.5 L1413.3,504.5" stroke="#2f78b4" stroke-width="1.6" opacity="0.45"/>
<ellipse cx="1396.7" cy="377.4" rx="30.1" ry="12.8" fill="#2a70a3" opacity="0.9"/>
<ellipse cx="1396.7" cy="375.2" rx="28.9" ry="12.0" fill="url(#gBlueTopR)"/>
<ellipse cx="1396.7" cy="376.2" rx="16.6" ry="6.4" fill="#195f9c" opacity="0.45" filter="url(#b2)"/>
<path d="M804.0,230.5 Q801.7,245.6 804.6,260.6 Q801.7,275.7 804.6,290.8 Q801.7,305.8 804.6,320.9 Q801.7,335.9 804.0,351.0 A30.5,13.0 0 0 0 865.0,351.0 Q867.3,335.9 864.4,320.9 Q867.3,305.8 864.4,290.8 Q867.3,275.7 864.4,260.6 Q867.3,245.6 865.0,230.5 Z" fill="url(#gBlueBody)"/>
<path d="M804.0,230.5 Q801.7,245.6 804.6,260.6 Q801.7,275.7 804.6,290.8 Q801.7,305.8 804.6,320.9 Q801.7,335.9 804.0,351.0 A30.5,13.0 0 0 0 865.0,351.0 Q867.3,335.9 864.4,320.9 Q867.3,305.8 864.4,290.8 Q867.3,275.7 864.4,260.6 Q867.3,245.6 865.0,230.5 Z" fill="url(#gBlueShade)"/>
<path d="M804.0,230.5 Q801.7,245.6 804.6,260.6 Q801.7,275.7 804.6,290.8 Q801.7,305.8 804.6,320.9 Q801.7,335.9 804.0,351.0 A30.5,13.0 0 0 0 865.0,351.0 Q867.3,335.9 864.4,320.9 Q867.3,305.8 864.4,290.8 Q867.3,275.7 864.4,260.6 Q867.3,245.6 865.0,230.5 Z" fill="url(#gSegB)"/>
<path d="M804.5,260.6 A30.5,11.7 0 0 0 864.5,260.6" fill="none" stroke="#0a2f66" stroke-width="2.0" opacity="0.16"/>
<path d="M804.5,290.8 A30.5,11.7 0 0 0 864.5,290.8" fill="none" stroke="#0a2f66" stroke-width="2.0" opacity="0.16"/>
<path d="M804.5,320.9 A30.5,11.7 0 0 0 864.5,320.9" fill="none" stroke="#0a2f66" stroke-width="2.0" opacity="0.16"/>
<path d="M851.3,240.9 L851.3,361.4" stroke="#3b86c2" stroke-width="1.6" opacity="0.45"/>
<ellipse cx="834.5" cy="232.7" rx="30.5" ry="13.0" fill="#3079ad" opacity="0.9"/>
<ellipse cx="834.5" cy="230.5" rx="29.3" ry="12.2" fill="url(#gBlueTop)"/>
<ellipse cx="834.5" cy="231.5" rx="16.8" ry="6.5" fill="#1f6aa8" opacity="0.45" filter="url(#b2)"/>
<path d="M856.3,247.3 Q854.0,262.4 856.9,277.4 Q854.0,292.5 856.9,307.6 Q854.0,322.6 856.9,337.7 Q854.0,352.7 856.3,367.8 A30.5,13.0 0 0 0 917.3,367.8 Q919.6,352.7 916.7,337.7 Q919.6,322.6 916.7,307.6 Q919.6,292.5 916.7,277.4 Q919.6,262.4 917.3,247.3 Z" fill="url(#gBlueBody)"/>
<path d="M856.3,247.3 Q854.0,262.4 856.9,277.4 Q854.0,292.5 856.9,307.6 Q854.0,322.6 856.9,337.7 Q854.0,352.7 856.3,367.8 A30.5,13.0 0 0 0 917.3,367.8 Q919.6,352.7 916.7,337.7 Q919.6,322.6 916.7,307.6 Q919.6,292.5 916.7,277.4 Q919.6,262.4 917.3,247.3 Z" fill="url(#gBlueShade)"/>
<path d="M856.3,247.3 Q854.0,262.4 856.9,277.4 Q854.0,292.5 856.9,307.6 Q854.0,322.6 856.9,337.7 Q854.0,352.7 856.3,367.8 A30.5,13.0 0 0 0 917.3,367.8 Q919.6,352.7 916.7,337.7 Q919.6,322.6 916.7,307.6 Q919.6,292.5 916.7,277.4 Q919.6,262.4 917.3,247.3 Z" fill="url(#gSegB)"/>
<path d="M856.8,277.4 A30.5,11.7 0 0 0 916.8,277.4" fill="none" stroke="#0a2f66" stroke-width="2.0" opacity="0.16"/>
<path d="M856.8,307.6 A30.5,11.7 0 0 0 916.8,307.6" fill="none" stroke="#0a2f66" stroke-width="2.0" opacity="0.16"/>
<path d="M856.8,337.7 A30.5,11.7 0 0 0 916.8,337.7" fill="none" stroke="#0a2f66" stroke-width="2.0" opacity="0.16"/>
<path d="M903.6,257.7 L903.6,378.2" stroke="#3b86c2" stroke-width="1.6" opacity="0.45"/>
<ellipse cx="886.8" cy="249.5" rx="30.5" ry="13.0" fill="#3079ad" opacity="0.9"/>
<ellipse cx="886.8" cy="247.3" rx="29.3" ry="12.2" fill="url(#gBlueTop)"/>
<ellipse cx="886.8" cy="248.3" rx="16.8" ry="6.5" fill="#1f6aa8" opacity="0.45" filter="url(#b2)"/>
<path d="M908.6,264.1 Q906.3,279.2 909.2,294.2 Q906.3,309.3 909.2,324.4 Q906.3,339.4 909.2,354.5 Q906.3,369.5 908.6,384.6 A30.5,13.0 0 0 0 969.6,384.6 Q971.9,369.5 969.0,354.5 Q971.9,339.4 969.0,324.4 Q971.9,309.3 969.0,294.2 Q971.9,279.2 969.6,264.1 Z" fill="url(#gBlueBody)"/>
<path d="M908.6,264.1 Q906.3,279.2 909.2,294.2 Q906.3,309.3 909.2,324.4 Q906.3,339.4 909.2,354.5 Q906.3,369.5 908.6,384.6 A30.5,13.0 0 0 0 969.6,384.6 Q971.9,369.5 969.0,354.5 Q971.9,339.4 969.0,324.4 Q971.9,309.3 969.0,294.2 Q971.9,279.2 969.6,264.1 Z" fill="url(#gBlueShade)"/>
<path d="M908.6,264.1 Q906.3,279.2 909.2,294.2 Q906.3,309.3 909.2,324.4 Q906.3,339.4 909.2,354.5 Q906.3,369.5 908.6,384.6 A30.5,13.0 0 0 0 969.6,384.6 Q971.9,369.5 969.0,354.5 Q971.9,339.4 969.0,324.4 Q971.9,309.3 969.0,294.2 Q971.9,279.2 969.6,264.1 Z" fill="url(#gSegB)"/>
<path d="M909.1,294.2 A30.5,11.7 0 0 0 969.1,294.2" fill="none" stroke="#0a2f66" stroke-width="2.0" opacity="0.16"/>
<path d="M909.1,324.4 A30.5,11.7 0 0 0 969.1,324.4" fill="none" stroke="#0a2f66" stroke-width="2.0" opacity="0.16"/>
<path d="M909.1,354.5 A30.5,11.7 0 0 0 969.1,354.5" fill="none" stroke="#0a2f66" stroke-width="2.0" opacity="0.16"/>
<path d="M955.9,274.5 L955.9,395.0" stroke="#3b86c2" stroke-width="1.6" opacity="0.45"/>
<ellipse cx="939.1" cy="266.3" rx="30.5" ry="13.0" fill="#3079ad" opacity="0.9"/>
<ellipse cx="939.1" cy="264.1" rx="29.3" ry="12.2" fill="url(#gBlueTop)"/>
<ellipse cx="939.1" cy="265.1" rx="16.8" ry="6.5" fill="#1f6aa8" opacity="0.45" filter="url(#b2)"/>
<path d="M960.9,280.9 Q958.6,296.0 961.5,311.0 Q958.6,326.1 961.5,341.1 Q958.6,356.2 961.5,371.3 Q958.6,386.3 960.9,401.4 A30.5,13.0 0 0 0 1021.9,401.4 Q1024.2,386.3 1021.3,371.3 Q1024.2,356.2 1021.3,341.1 Q1024.2,326.1 1021.3,311.0 Q1024.2,296.0 1021.9,280.9 Z" fill="url(#gBlueBody)"/>
<path d="M960.9,280.9 Q958.6,296.0 961.5,311.0 Q958.6,326.1 961.5,341.1 Q958.6,356.2 961.5,371.3 Q958.6,386.3 960.9,401.4 A30.5,13.0 0 0 0 1021.9,401.4 Q1024.2,386.3 1021.3,371.3 Q1024.2,356.2 1021.3,341.1 Q1024.2,326.1 1021.3,311.0 Q1024.2,296.0 1021.9,280.9 Z" fill="url(#gBlueShade)"/>
<path d="M960.9,280.9 Q958.6,296.0 961.5,311.0 Q958.6,326.1 961.5,341.1 Q958.6,356.2 961.5,371.3 Q958.6,386.3 960.9,401.4 A30.5,13.0 0 0 0 1021.9,401.4 Q1024.2,386.3 1021.3,371.3 Q1024.2,356.2 1021.3,341.1 Q1024.2,326.1 1021.3,311.0 Q1024.2,296.0 1021.9,280.9 Z" fill="url(#gSegB)"/>
<path d="M961.4,311.0 A30.5,11.7 0 0 0 1021.4,311.0" fill="none" stroke="#0a2f66" stroke-width="2.0" opacity="0.16"/>
<path d="M961.4,341.1 A30.5,11.7 0 0 0 1021.4,341.1" fill="none" stroke="#0a2f66" stroke-width="2.0" opacity="0.16"/>
<path d="M961.4,371.3 A30.5,11.7 0 0 0 1021.4,371.3" fill="none" stroke="#0a2f66" stroke-width="2.0" opacity="0.16"/>
<path d="M1008.2,291.3 L1008.2,411.8" stroke="#3b86c2" stroke-width="1.6" opacity="0.45"/>
<ellipse cx="991.4" cy="283.1" rx="30.5" ry="13.0" fill="#3079ad" opacity="0.9"/>
<ellipse cx="991.4" cy="280.9" rx="29.3" ry="12.2" fill="url(#gBlueTop)"/>
<ellipse cx="991.4" cy="281.9" rx="16.8" ry="6.5" fill="#1f6aa8" opacity="0.45" filter="url(#b2)"/>
<path d="M1013.2,297.7 Q1010.9,312.8 1013.8,327.8 Q1010.9,342.9 1013.8,357.9 Q1010.9,373.0 1013.8,388.1 Q1010.9,403.1 1013.2,418.2 A30.5,13.0 0 0 0 1074.2,418.2 Q1076.5,403.1 1073.6,388.1 Q1076.5,373.0 1073.6,357.9 Q1076.5,342.9 1073.6,327.8 Q1076.5,312.8 1074.2,297.7 Z" fill="url(#gWhiteBody)"/>
<path d="M1013.2,297.7 Q1010.9,312.8 1013.8,327.8 Q1010.9,342.9 1013.8,357.9 Q1010.9,373.0 1013.8,388.1 Q1010.9,403.1 1013.2,418.2 A30.5,13.0 0 0 0 1074.2,418.2 Q1076.5,403.1 1073.6,388.1 Q1076.5,373.0 1073.6,357.9 Q1076.5,342.9 1073.6,327.8 Q1076.5,312.8 1074.2,297.7 Z" fill="url(#gWhiteShade)"/>
<path d="M1013.2,297.7 Q1010.9,312.8 1013.8,327.8 Q1010.9,342.9 1013.8,357.9 Q1010.9,373.0 1013.8,388.1 Q1010.9,403.1 1013.2,418.2 A30.5,13.0 0 0 0 1074.2,418.2 Q1076.5,403.1 1073.6,388.1 Q1076.5,373.0 1073.6,357.9 Q1076.5,342.9 1073.6,327.8 Q1076.5,312.8 1074.2,297.7 Z" fill="url(#gSegW)"/>
<path d="M1013.7,327.8 A30.5,11.7 0 0 0 1073.7,327.8" fill="none" stroke="#9aa0ad" stroke-width="2.0" opacity="0.20"/>
<path d="M1013.7,357.9 A30.5,11.7 0 0 0 1073.7,357.9" fill="none" stroke="#9aa0ad" stroke-width="2.0" opacity="0.20"/>
<path d="M1013.7,388.1 A30.5,11.7 0 0 0 1073.7,388.1" fill="none" stroke="#9aa0ad" stroke-width="2.0" opacity="0.20"/>
<path d="M1060.5,308.1 L1060.5,428.6" stroke="#eceef1" stroke-width="1.6" opacity="0.45"/>
<ellipse cx="1043.7" cy="299.9" rx="30.5" ry="13.0" fill="#eceef2" opacity="0.9"/>
<ellipse cx="1043.7" cy="297.7" rx="29.3" ry="12.2" fill="url(#gWhiteTop)"/>
<ellipse cx="1043.7" cy="298.7" rx="16.8" ry="6.5" fill="#cfd2d9" opacity="0.45" filter="url(#b2)"/>
<path d="M1065.5,314.5 Q1063.2,329.6 1066.1,344.6 Q1063.2,359.7 1066.1,374.8 Q1063.2,389.8 1066.1,404.9 Q1063.2,419.9 1065.5,435.0 A30.5,13.0 0 0 0 1126.5,435.0 Q1128.8,419.9 1125.9,404.9 Q1128.8,389.8 1125.9,374.8 Q1128.8,359.7 1125.9,344.6 Q1128.8,329.6 1126.5,314.5 Z" fill="url(#gWhiteBody)"/>
<path d="M1065.5,314.5 Q1063.2,329.6 1066.1,344.6 Q1063.2,359.7 1066.1,374.8 Q1063.2,389.8 1066.1,404.9 Q1063.2,419.9 1065.5,435.0 A30.5,13.0 0 0 0 1126.5,435.0 Q1128.8,419.9 1125.9,404.9 Q1128.8,389.8 1125.9,374.8 Q1128.8,359.7 1125.9,344.6 Q1128.8,329.6 1126.5,314.5 Z" fill="url(#gWhiteShade)"/>
<path d="M1065.5,314.5 Q1063.2,329.6 1066.1,344.6 Q1063.2,359.7 1066.1,374.8 Q1063.2,389.8 1066.1,404.9 Q1063.2,419.9 1065.5,435.0 A30.5,13.0 0 0 0 1126.5,435.0 Q1128.8,419.9 1125.9,404.9 Q1128.8,389.8 1125.9,374.8 Q1128.8,359.7 1125.9,344.6 Q1128.8,329.6 1126.5,314.5 Z" fill="url(#gSegW)"/>
<path d="M1066.0,344.6 A30.5,11.7 0 0 0 1126.0,344.6" fill="none" stroke="#9aa0ad" stroke-width="2.0" opacity="0.20"/>
<path d="M1066.0,374.8 A30.5,11.7 0 0 0 1126.0,374.8" fill="none" stroke="#9aa0ad" stroke-width="2.0" opacity="0.20"/>
<path d="M1066.0,404.9 A30.5,11.7 0 0 0 1126.0,404.9" fill="none" stroke="#9aa0ad" stroke-width="2.0" opacity="0.20"/>
<path d="M1112.8,324.9 L1112.8,445.4" stroke="#eceef1" stroke-width="1.6" opacity="0.45"/>
<ellipse cx="1096.0" cy="316.7" rx="30.5" ry="13.0" fill="#eceef2" opacity="0.9"/>
<ellipse cx="1096.0" cy="314.5" rx="29.3" ry="12.2" fill="url(#gWhiteTop)"/>
<ellipse cx="1096.0" cy="315.5" rx="16.8" ry="6.5" fill="#cfd2d9" opacity="0.45" filter="url(#b2)"/>
<path d="M1117.8,331.3 Q1115.5,346.4 1118.4,361.4 Q1115.5,376.5 1118.4,391.6 Q1115.5,406.6 1118.4,421.7 Q1115.5,436.7 1117.8,451.8 A30.5,13.0 0 0 0 1178.8,451.8 Q1181.1,436.7 1178.2,421.7 Q1181.1,406.6 1178.2,391.6 Q1181.1,376.5 1178.2,361.4 Q1181.1,346.4 1178.8,331.3 Z" fill="url(#gWhiteBody)"/>
<path d="M1117.8,331.3 Q1115.5,346.4 1118.4,361.4 Q1115.5,376.5 1118.4,391.6 Q1115.5,406.6 1118.4,421.7 Q1115.5,436.7 1117.8,451.8 A30.5,13.0 0 0 0 1178.8,451.8 Q1181.1,436.7 1178.2,421.7 Q1181.1,406.6 1178.2,391.6 Q1181.1,376.5 1178.2,361.4 Q1181.1,346.4 1178.8,331.3 Z" fill="url(#gWhiteShade)"/>
<path d="M1117.8,331.3 Q1115.5,346.4 1118.4,361.4 Q1115.5,376.5 1118.4,391.6 Q1115.5,406.6 1118.4,421.7 Q1115.5,436.7 1117.8,451.8 A30.5,13.0 0 0 0 1178.8,451.8 Q1181.1,436.7 1178.2,421.7 Q1181.1,406.6 1178.2,391.6 Q1181.1,376.5 1178.2,361.4 Q1181.1,346.4 1178.8,331.3 Z" fill="url(#gSegW)"/>
<path d="M1118.3,361.4 A30.5,11.7 0 0 0 1178.3,361.4" fill="none" stroke="#9aa0ad" stroke-width="2.0" opacity="0.20"/>
<path d="M1118.3,391.6 A30.5,11.7 0 0 0 1178.3,391.6" fill="none" stroke="#9aa0ad" stroke-width="2.0" opacity="0.20"/>
<path d="M1118.3,421.7 A30.5,11.7 0 0 0 1178.3,421.7" fill="none" stroke="#9aa0ad" stroke-width="2.0" opacity="0.20"/>
<path d="M1165.1,341.7 L1165.1,462.2" stroke="#eceef1" stroke-width="1.6" opacity="0.45"/>
<ellipse cx="1148.3" cy="333.5" rx="30.5" ry="13.0" fill="#eceef2" opacity="0.9"/>
<ellipse cx="1148.3" cy="331.3" rx="29.3" ry="12.2" fill="url(#gWhiteTop)"/>
<ellipse cx="1148.3" cy="332.3" rx="16.8" ry="6.5" fill="#cfd2d9" opacity="0.45" filter="url(#b2)"/>
<path d="M1170.1,348.1 Q1167.8,363.2 1170.7,378.2 Q1167.8,393.3 1170.7,408.4 Q1167.8,423.4 1170.7,438.5 Q1167.8,453.5 1170.1,468.6 A30.5,13.0 0 0 0 1231.1,468.6 Q1233.4,453.5 1230.5,438.5 Q1233.4,423.4 1230.5,408.4 Q1233.4,393.3 1230.5,378.2 Q1233.4,363.2 1231.1,348.1 Z" fill="url(#gWhiteBody)"/>
<path d="M1170.1,348.1 Q1167.8,363.2 1170.7,378.2 Q1167.8,393.3 1170.7,408.4 Q1167.8,423.4 1170.7,438.5 Q1167.8,453.5 1170.1,468.6 A30.5,13.0 0 0 0 1231.1,468.6 Q1233.4,453.5 1230.5,438.5 Q1233.4,423.4 1230.5,408.4 Q1233.4,393.3 1230.5,378.2 Q1233.4,363.2 1231.1,348.1 Z" fill="url(#gWhiteShade)"/>
<path d="M1170.1,348.1 Q1167.8,363.2 1170.7,378.2 Q1167.8,393.3 1170.7,408.4 Q1167.8,423.4 1170.7,438.5 Q1167.8,453.5 1170.1,468.6 A30.5,13.0 0 0 0 1231.1,468.6 Q1233.4,453.5 1230.5,438.5 Q1233.4,423.4 1230.5,408.4 Q1233.4,393.3 1230.5,378.2 Q1233.4,363.2 1231.1,348.1 Z" fill="url(#gSegW)"/>
<path d="M1170.6,378.2 A30.5,11.7 0 0 0 1230.6,378.2" fill="none" stroke="#9aa0ad" stroke-width="2.0" opacity="0.20"/>
<path d="M1170.6,408.4 A30.5,11.7 0 0 0 1230.6,408.4" fill="none" stroke="#9aa0ad" stroke-width="2.0" opacity="0.20"/>
<path d="M1170.6,438.5 A30.5,11.7 0 0 0 1230.6,438.5" fill="none" stroke="#9aa0ad" stroke-width="2.0" opacity="0.20"/>
<path d="M1217.4,358.5 L1217.4,479.0" stroke="#eceef1" stroke-width="1.6" opacity="0.45"/>
<ellipse cx="1200.6" cy="350.3" rx="30.5" ry="13.0" fill="#eceef2" opacity="0.9"/>
<ellipse cx="1200.6" cy="348.1" rx="29.3" ry="12.2" fill="url(#gWhiteTop)"/>
<ellipse cx="1200.6" cy="349.1" rx="16.8" ry="6.5" fill="#cfd2d9" opacity="0.45" filter="url(#b2)"/>
<path d="M1222.4,364.9 Q1220.1,380.0 1223.0,395.0 Q1220.1,410.1 1223.0,425.1 Q1220.1,440.2 1223.0,455.3 Q1220.1,470.3 1222.4,485.4 A30.5,13.0 0 0 0 1283.4,485.4 Q1285.7,470.3 1282.8,455.3 Q1285.7,440.2 1282.8,425.1 Q1285.7,410.1 1282.8,395.0 Q1285.7,380.0 1283.4,364.9 Z" fill="url(#gBlueBodyR)"/>
<path d="M1222.4,364.9 Q1220.1,380.0 1223.0,395.0 Q1220.1,410.1 1223.0,425.1 Q1220.1,440.2 1223.0,455.3 Q1220.1,470.3 1222.4,485.4 A30.5,13.0 0 0 0 1283.4,485.4 Q1285.7,470.3 1282.8,455.3 Q1285.7,440.2 1282.8,425.1 Q1285.7,410.1 1282.8,395.0 Q1285.7,380.0 1283.4,364.9 Z" fill="url(#gBlueShadeR)"/>
<path d="M1222.4,364.9 Q1220.1,380.0 1223.0,395.0 Q1220.1,410.1 1223.0,425.1 Q1220.1,440.2 1223.0,455.3 Q1220.1,470.3 1222.4,485.4 A30.5,13.0 0 0 0 1283.4,485.4 Q1285.7,470.3 1282.8,455.3 Q1285.7,440.2 1282.8,425.1 Q1285.7,410.1 1282.8,395.0 Q1285.7,380.0 1283.4,364.9 Z" fill="url(#gSegB)"/>
<path d="M1222.9,395.0 A30.5,11.7 0 0 0 1282.9,395.0" fill="none" stroke="#0a2f66" stroke-width="2.0" opacity="0.16"/>
<path d="M1222.9,425.1 A30.5,11.7 0 0 0 1282.9,425.1" fill="none" stroke="#0a2f66" stroke-width="2.0" opacity="0.16"/>
<path d="M1222.9,455.3 A30.5,11.7 0 0 0 1282.9,455.3" fill="none" stroke="#0a2f66" stroke-width="2.0" opacity="0.16"/>
<path d="M1269.7,375.3 L1269.7,495.8" stroke="#2f78b4" stroke-width="1.6" opacity="0.45"/>
<ellipse cx="1252.9" cy="367.1" rx="30.5" ry="13.0" fill="#2a70a3" opacity="0.9"/>
<ellipse cx="1252.9" cy="364.9" rx="29.3" ry="12.2" fill="url(#gBlueTopR)"/>
<ellipse cx="1252.9" cy="365.9" rx="16.8" ry="6.5" fill="#195f9c" opacity="0.45" filter="url(#b2)"/>
<path d="M1274.7,381.7 Q1272.4,396.8 1275.3,411.8 Q1272.4,426.9 1275.3,442.0 Q1272.4,457.0 1275.3,472.1 Q1272.4,487.1 1274.7,502.2 A30.5,13.0 0 0 0 1335.7,502.2 Q1338.0,487.1 1335.1,472.1 Q1338.0,457.0 1335.1,442.0 Q1338.0,426.9 1335.1,411.8 Q1338.0,396.8 1335.7,381.7 Z" fill="url(#gBlueBodyR)"/>
<path d="M1274.7,381.7 Q1272.4,396.8 1275.3,411.8 Q1272.4,426.9 1275.3,442.0 Q1272.4,457.0 1275.3,472.1 Q1272.4,487.1 1274.7,502.2 A30.5,13.0 0 0 0 1335.7,502.2 Q1338.0,487.1 1335.1,472.1 Q1338.0,457.0 1335.1,442.0 Q1338.0,426.9 1335.1,411.8 Q1338.0,396.8 1335.7,381.7 Z" fill="url(#gBlueShadeR)"/>
<path d="M1274.7,381.7 Q1272.4,396.8 1275.3,411.8 Q1272.4,426.9 1275.3,442.0 Q1272.4,457.0 1275.3,472.1 Q1272.4,487.1 1274.7,502.2 A30.5,13.0 0 0 0 1335.7,502.2 Q1338.0,487.1 1335.1,472.1 Q1338.0,457.0 1335.1,442.0 Q1338.0,426.9 1335.1,411.8 Q1338.0,396.8 1335.7,381.7 Z" fill="url(#gSegB)"/>
<path d="M1275.2,411.8 A30.5,11.7 0 0 0 1335.2,411.8" fill="none" stroke="#0a2f66" stroke-width="2.0" opacity="0.16"/>
<path d="M1275.2,442.0 A30.5,11.7 0 0 0 1335.2,442.0" fill="none" stroke="#0a2f66" stroke-width="2.0" opacity="0.16"/>
<path d="M1275.2,472.1 A30.5,11.7 0 0 0 1335.2,472.1" fill="none" stroke="#0a2f66" stroke-width="2.0" opacity="0.16"/>
<path d="M1322.0,392.1 L1322.0,512.6" stroke="#2f78b4" stroke-width="1.6" opacity="0.45"/>
<ellipse cx="1305.2" cy="383.9" rx="30.5" ry="13.0" fill="#2a70a3" opacity="0.9"/>
<ellipse cx="1305.2" cy="381.7" rx="29.3" ry="12.2" fill="url(#gBlueTopR)"/>
<ellipse cx="1305.2" cy="382.7" rx="16.8" ry="6.5" fill="#195f9c" opacity="0.45" filter="url(#b2)"/>
<path d="M1327.0,398.5 Q1324.7,413.6 1327.6,428.6 Q1324.7,443.7 1327.6,458.8 Q1324.7,473.8 1327.6,488.9 Q1324.7,503.9 1327.0,519.0 A30.5,13.0 0 0 0 1388.0,519.0 Q1390.3,503.9 1387.4,488.9 Q1390.3,473.8 1387.4,458.8 Q1390.3,443.7 1387.4,428.6 Q1390.3,413.6 1388.0,398.5 Z" fill="url(#gBlueBodyR)"/>
<path d="M1327.0,398.5 Q1324.7,413.6 1327.6,428.6 Q1324.7,443.7 1327.6,458.8 Q1324.7,473.8 1327.6,488.9 Q1324.7,503.9 1327.0,519.0 A30.5,13.0 0 0 0 1388.0,519.0 Q1390.3,503.9 1387.4,488.9 Q1390.3,473.8 1387.4,458.8 Q1390.3,443.7 1387.4,428.6 Q1390.3,413.6 1388.0,398.5 Z" fill="url(#gBlueShadeR)"/>
<path d="M1327.0,398.5 Q1324.7,413.6 1327.6,428.6 Q1324.7,443.7 1327.6,458.8 Q1324.7,473.8 1327.6,488.9 Q1324.7,503.9 1327.0,519.0 A30.5,13.0 0 0 0 1388.0,519.0 Q1390.3,503.9 1387.4,488.9 Q1390.3,473.8 1387.4,458.8 Q1390.3,443.7 1387.4,428.6 Q1390.3,413.6 1388.0,398.5 Z" fill="url(#gSegB)"/>
<path d="M1327.5,428.6 A30.5,11.7 0 0 0 1387.5,428.6" fill="none" stroke="#0a2f66" stroke-width="2.0" opacity="0.16"/>
<path d="M1327.5,458.8 A30.5,11.7 0 0 0 1387.5,458.8" fill="none" stroke="#0a2f66" stroke-width="2.0" opacity="0.16"/>
<path d="M1327.5,488.9 A30.5,11.7 0 0 0 1387.5,488.9" fill="none" stroke="#0a2f66" stroke-width="2.0" opacity="0.16"/>
<path d="M1374.3,408.9 L1374.3,529.4" stroke="#2f78b4" stroke-width="1.6" opacity="0.45"/>
<ellipse cx="1357.5" cy="400.7" rx="30.5" ry="13.0" fill="#2a70a3" opacity="0.9"/>
<ellipse cx="1357.5" cy="398.5" rx="29.3" ry="12.2" fill="url(#gBlueTopR)"/>
<ellipse cx="1357.5" cy="399.5" rx="16.8" ry="6.5" fill="#195f9c" opacity="0.45" filter="url(#b2)"/>
</g>
<polygon points="1041.0,122.5 1583.6,277.3 1563.6,299.3 1047.0,152.5" fill="url(#gShBack)" />
<g clip-path="url(#cpCav)"><polygon points="794.0,224.0 1200.0,57.0 1240.0,153.0 834.0,320.0" fill="url(#gShLeft)"/></g>
<g clip-path="url(#cpCav)"><polygon points="796.0,215.0 905.0,170.0 905.0,420.0 796.0,380.0" fill="url(#gShLeft2)"/></g>
<path d="M673.5,182.5 L673.5,183.0 L689.5,172.0 L716.0,162.0 L744.7,152.0 L776.0,140.0 L808.0,126.0 L840.0,110.0 L871.0,95.0 L895.0,85.0 L918.4,74.0 L942.0,63.0 L965.8,51.0 L998.0,39.0 L1029.0,27.0 L1058.0,16.0 L1098.0,0.0 L1136,0 L1136.0,0.5 L1162.0,7.4 L1188.0,14.3 L1214.0,21.2 L1240.0,28.1 L1266.0,35.0 L1292.0,41.9 L1318.0,48.8 L1344.0,55.7 L1370.0,62.6 L1396.0,69.5 L1422.0,76.4 L1448.0,83.3 L1474.0,90.2 L1500.0,97.1 L1526.0,104.0 L1552.0,110.9 L1578.0,117.8 L1604.0,124.7 L1630.0,131.6 L1656.0,138.5 L1682.0,145.4 L1708.0,152.3 L1734.0,159.3 L1760.0,166.2 L1786.0,173.1 L1812.0,180.0 L1838.0,188.0 L1843.0,182.0 L1839.8,185.2 L1809.5,200.3 L1759.0,223.0 L1708.4,245.8 L1657.9,271.0 L1607.4,296.3 L1556.8,321.6 L1506.3,346.9 L1470.0,364.0 L1443.2,379.7 L1418.0,398.0 L1400.2,412.5 L1347.0,392.5 L1613.8,262.5 L1041.0,92.6 L765.3,205.0 Z" fill="url(#gFoamTop)" />
<polygon points="673.5,182.5 765.3,205.0 765.3,235.0 671.8,208.0" fill="url(#gFoamFront)" />
<polygon points="765.3,205.0 1041.0,92.6 1041.0,122.5 765.3,235.0" fill="url(#gFoamSide)" />
<polygon points="1041.0,92.6 1613.8,262.5 1583.6,277.3 1041.0,122.5" fill="url(#gFoamBack)" />
<path d="M1041.0,92.6 L1041.0,122.5" stroke="#2f95d4" stroke-width="1.5" opacity="0.7"/>
<path d="M765.3,205.0 L1041.0,92.6 L1613.8,262.5" fill="none" stroke="#7fcaf0" stroke-width="1.2" opacity="0.8"/>
<polygon points="1347.0,392.5 1400.0,414.0 1394.0,423.0 1394.0,435.5 1347.0,426.0" fill="url(#gFoamFR)" />
<polygon points="1613.8,262.5 1609.8,268.5 1347.0,399.0 1347.0,392.5" fill="#1f5f9f" opacity="0.0"/>
<polygon points="672.0,208.0 765.3,235.0 765.3,362.8 672.0,331.7" fill="url(#gWallL)" />
<polygon points="672.0,208.0 765.3,235.0 765.3,362.8 672.0,331.7" fill="url(#gWallLv)" />
<ellipse cx="712" cy="300" rx="26" ry="40" fill="#d9d9dc" opacity="0.35" filter="url(#b8)"/>
<polygon points="675.0,350.0 700.0,358.0 726.0,366.0 727.0,371.0 706.0,380.0 690.0,383.0 677.0,386.0" fill="#b9babf" />
<polygon points="677.0,356.0 694.0,362.0 691.0,376.0 678.0,381.0" fill="#ececef" />
<polygon points="694.0,365.0 722.0,369.0 722.0,373.0 700.0,379.0 691.0,377.0" fill="#a4a5ab" />
<polygon points="672.0,331.7 1347.0,556.5 1347.0,579.2 728.4,369.5 672.0,349.4" fill="url(#gBaseF)" />
<polygon points="672.0,336.7 1347.0,562.5 1347.0,579.2 672.0,349.4" fill="url(#gBaseF2)" opacity="0.7"/>
<path d="M672,349.2 L1347,578.9" stroke="#b9b9be" stroke-width="1.2" opacity="0.8"/>
<path d="M672,332.2 L1347,557.0" stroke="#fbfbfc" stroke-width="2.5" opacity="0.7" filter="url(#b1)"/>
<polygon points="1345.0,426.0 1394.0,435.5 1392.0,595.0 1389.5,593.7 1345.0,578.5" fill="url(#gWallR)" />
<polygon points="1345.0,426.0 1394.0,435.5 1392.0,595.0 1345.0,578.5" fill="url(#gWallRv)" />
</g>
<g id="cover-front">
<path d="M668.0,192.0 L672.0,186.0 L691.0,164.0 L718.0,150.0 L744.7,139.0 L776.0,126.0 L808.0,110.5 L840.0,97.0 L871.0,82.0 L895.0,72.0 L918.4,63.0 L942.0,52.0 L965.8,41.0 L998.0,30.0 L1029.0,19.0 L1058.0,9.0 L1086.0,0.0 L1098,0 L1098.0,0.0 L1058.0,16.0 L1029.0,27.0 L998.0,39.0 L965.8,51.0 L942.0,63.0 L918.4,74.0 L895.0,85.0 L871.0,95.0 L840.0,110.0 L808.0,126.0 L776.0,140.0 L744.7,152.0 L716.0,162.0 L689.5,172.0 L673.5,183.0 Z" fill="#1c5aa3" />
<path d="M668.0,192.0 L672.0,186.0 L691.0,164.0 L718.0,150.0 L744.7,139.0 L776.0,126.0 L808.0,110.5 L840.0,97.0 L871.0,82.0 L895.0,72.0 L918.4,63.0 L942.0,52.0 L965.8,41.0 L998.0,30.0 L1029.0,19.0 L1058.0,9.0 L1086.0,0.0 L1078.0,3.9 L1043.5,20.0 L1013.5,27.5 L981.9,38.2 L953.9,53.7 L930.2,63.4 L906.7,70.5 L883.0,84.7 L855.5,97.7 L824.0,108.0 L792.0,125.8 L760.4,141.9 L731.4,149.6 L703.5,161.5 L680.8,181.4 L670.8,187.5 Z" fill="#9db2cf" />
<path d="M674.5,186.0 L690.5,175.0 L717.0,165.0 L745.7,155.0 L777.0,143.0 L809.0,129.0 L841.0,113.0 L872.0,98.0 L896.0,88.0 L919.4,77.0 L943.0,66.0 L966.8,54.0 L999.0,42.0 L1030.0,30.0 L1059.0,19.0 L1099.0,3.0" fill="none" stroke="#2f8fd6" stroke-width="9" opacity="0.5" filter="url(#b3)"/>
<path d="M1150.0,-0.4 L1179.0,7.2 L1208.0,14.7 L1237.0,22.3 L1266.0,29.8 L1295.0,37.4 L1324.0,44.9 L1353.0,52.5 L1382.0,60.0 L1411.0,67.6 L1440.0,75.1 L1469.0,82.7 L1498.0,90.2 L1527.0,97.8 L1556.0,105.3 L1585.0,112.9 L1614.0,120.4 L1643.0,128.0 L1672.0,135.5 L1701.0,143.1 L1730.0,150.6 L1759.0,158.2 L1788.0,165.7 L1817.0,173.3 L1846,182 L1817.0,179.8 L1788.0,172.1 L1759.0,164.4 L1730.0,156.7 L1701.0,149.0 L1672.0,141.3 L1643.0,133.6 L1614.0,125.9 L1585.0,118.2 L1556.0,110.5 L1527.0,102.8 L1498.0,95.1 L1469.0,87.4 L1440.0,79.7 L1411.0,72.0 L1382.0,64.3 L1353.0,56.6 L1324.0,48.9 L1295.0,41.2 L1266.0,33.5 L1237.0,25.8 L1208.0,18.1 L1179.0,10.4 L1150.0,2.7 Z" fill="#2f86d3" filter="url(#b2)" transform="translate(0,2.5)" opacity="0.8"/>
<path d="M1150.0,-0.4 L1179.0,7.2 L1208.0,14.7 L1237.0,22.3 L1266.0,29.8 L1295.0,37.4 L1324.0,44.9 L1353.0,52.5 L1382.0,60.0 L1411.0,67.6 L1440.0,75.1 L1469.0,82.7 L1498.0,90.2 L1527.0,97.8 L1556.0,105.3 L1585.0,112.9 L1614.0,120.4 L1643.0,128.0 L1672.0,135.5 L1701.0,143.1 L1730.0,150.6 L1759.0,158.2 L1788.0,165.7 L1817.0,173.3 L1846,182 L1817.0,179.8 L1788.0,172.1 L1759.0,164.4 L1730.0,156.7 L1701.0,149.0 L1672.0,141.3 L1643.0,133.6 L1614.0,125.9 L1585.0,118.2 L1556.0,110.5 L1527.0,102.8 L1498.0,95.1 L1469.0,87.4 L1440.0,79.7 L1411.0,72.0 L1382.0,64.3 L1353.0,56.6 L1324.0,48.9 L1295.0,41.2 L1266.0,33.5 L1237.0,25.8 L1208.0,18.1 L1179.0,10.4 L1150.0,2.7 Z" fill="#123f96" />
<path d="M1126.0,-8.2 C1129.7,-8.1 1141.6,-8.1 1148.4,-7.4 C1155.2,-6.7 1160.3,-6.0 1166.8,-4.2 C1173.3,-2.4 1180.5,0.9 1187.4,3.6 C1194.4,6.3 1205.1,10.7 1208.6,12.1 L1208.6,12.1 C1205.4,12.1 1195.4,12.7 1188.9,11.9 C1182.4,11.1 1176.6,9.1 1169.8,7.3 C1163.1,5.4 1155.7,3.3 1148.4,0.7 C1141.1,-1.8 1129.7,-6.7 1126.0,-8.2 Z" fill="#8fbce3" />
<path d="M1208.6,12.1 C1205.4,12.1 1195.4,12.7 1188.9,11.9 C1182.4,11.1 1176.6,9.1 1169.8,7.3 C1163.1,5.4 1155.7,3.3 1148.4,0.7 C1141.1,-1.8 1129.7,-6.7 1126.0,-8.2" fill="none" stroke="#5f9ad3" stroke-width="2.0" opacity="0.6"/>
<path d="M1126.0,-8.2 C1129.7,-8.1 1141.6,-8.1 1148.4,-7.4 C1155.2,-6.7 1160.3,-6.0 1166.8,-4.2 C1173.3,-2.4 1180.5,0.9 1187.4,3.6 C1194.4,6.3 1205.1,10.7 1208.6,12.1" fill="none" stroke="#b3d3ec" stroke-width="1.1" opacity="0.9"/>
<path d="M1195.6,9.7 C1198.8,9.6 1209.1,9.0 1214.9,9.4 C1220.6,9.7 1224.7,10.2 1230.1,11.8 C1235.5,13.4 1241.2,16.3 1247.1,18.8 C1253.0,21.3 1262.5,25.6 1265.5,26.9 L1265.5,26.9 C1262.7,27.0 1253.8,28.1 1248.4,27.6 C1242.9,27.1 1238.7,25.5 1233.1,24.0 C1227.5,22.4 1221.1,20.5 1214.9,18.1 C1208.6,15.7 1198.8,11.1 1195.6,9.7 Z" fill="#8fbce3" />
<path d="M1265.5,26.9 C1262.7,27.0 1253.8,28.1 1248.4,27.6 C1242.9,27.1 1238.7,25.5 1233.1,24.0 C1227.5,22.4 1221.1,20.5 1214.9,18.1 C1208.6,15.7 1198.8,11.1 1195.6,9.7" fill="none" stroke="#5f9ad3" stroke-width="2.0" opacity="0.6"/>
<path d="M1195.6,9.7 C1198.8,9.6 1209.1,9.0 1214.9,9.4 C1220.6,9.7 1224.7,10.2 1230.1,11.8 C1235.5,13.4 1241.2,16.3 1247.1,18.8 C1253.0,21.3 1262.5,25.6 1265.5,26.9" fill="none" stroke="#b3d3ec" stroke-width="1.1" opacity="0.9"/>
<path d="M1252.5,24.3 C1256.4,24.4 1268.5,24.1 1275.5,24.7 C1282.5,25.4 1287.8,26.2 1294.5,28.1 C1301.2,30.0 1308.6,33.3 1315.7,36.2 C1322.9,39.1 1333.8,44.0 1337.5,45.5 L1337.5,45.5 C1334.1,45.5 1323.9,46.4 1317.3,45.7 C1310.6,44.9 1304.5,42.9 1297.5,41.0 C1290.5,39.0 1283.0,36.8 1275.5,34.0 C1268.0,31.3 1256.4,25.9 1252.5,24.3 Z" fill="#8fbce3" />
<path d="M1337.5,45.5 C1334.1,45.5 1323.9,46.4 1317.3,45.7 C1310.6,44.9 1304.5,42.9 1297.5,41.0 C1290.5,39.0 1283.0,36.8 1275.5,34.0 C1268.0,31.3 1256.4,25.9 1252.5,24.3" fill="none" stroke="#5f9ad3" stroke-width="2.0" opacity="0.6"/>
<path d="M1252.5,24.3 C1256.4,24.4 1268.5,24.1 1275.5,24.7 C1282.5,25.4 1287.8,26.2 1294.5,28.1 C1301.2,30.0 1308.6,33.3 1315.7,36.2 C1322.9,39.1 1333.8,44.0 1337.5,45.5" fill="none" stroke="#b3d3ec" stroke-width="1.1" opacity="0.9"/>
<path d="M1324.5,42.8 C1327.8,42.7 1338.3,41.8 1344.3,42.1 C1350.2,42.4 1354.5,43.0 1360.1,44.6 C1365.6,46.3 1371.7,49.3 1377.8,52.0 C1383.9,54.7 1393.5,59.4 1396.7,60.9 L1396.7,60.9 C1393.7,61.1 1384.6,62.4 1379.0,61.9 C1373.4,61.5 1368.9,59.9 1363.1,58.3 C1357.3,56.6 1350.7,54.6 1344.3,52.0 C1337.8,49.4 1327.8,44.3 1324.5,42.8 Z" fill="#8fbce3" />
<path d="M1396.7,60.9 C1393.7,61.1 1384.6,62.4 1379.0,61.9 C1373.4,61.5 1368.9,59.9 1363.1,58.3 C1357.3,56.6 1350.7,54.6 1344.3,52.0 C1337.8,49.4 1327.8,44.3 1324.5,42.8" fill="none" stroke="#5f9ad3" stroke-width="2.0" opacity="0.6"/>
<path d="M1324.5,42.8 C1327.8,42.7 1338.3,41.8 1344.3,42.1 C1350.2,42.4 1354.5,43.0 1360.1,44.6 C1365.6,46.3 1371.7,49.3 1377.8,52.0 C1383.9,54.7 1393.5,59.4 1396.7,60.9" fill="none" stroke="#b3d3ec" stroke-width="1.1" opacity="0.9"/>
<path d="M1383.7,58.1 C1387.6,58.1 1400.0,57.5 1407.2,58.1 C1414.4,58.6 1419.9,59.5 1426.8,61.5 C1433.7,63.5 1441.4,66.9 1448.7,70.0 C1456.1,73.1 1467.2,78.4 1470.9,80.1 L1470.9,80.1 C1467.5,80.2 1457.1,81.3 1450.3,80.6 C1443.4,79.9 1437.0,77.9 1429.8,75.9 C1422.6,73.9 1414.9,71.5 1407.2,68.5 C1399.5,65.6 1387.6,59.8 1383.7,58.1 Z" fill="#8fbce3" />
<path d="M1470.9,80.1 C1467.5,80.2 1457.1,81.3 1450.3,80.6 C1443.4,79.9 1437.0,77.9 1429.8,75.9 C1422.6,73.9 1414.9,71.5 1407.2,68.5 C1399.5,65.6 1387.6,59.8 1383.7,58.1" fill="none" stroke="#5f9ad3" stroke-width="2.0" opacity="0.6"/>
<path d="M1383.7,58.1 C1387.6,58.1 1400.0,57.5 1407.2,58.1 C1414.4,58.6 1419.9,59.5 1426.8,61.5 C1433.7,63.5 1441.4,66.9 1448.7,70.0 C1456.1,73.1 1467.2,78.4 1470.9,80.1" fill="none" stroke="#b3d3ec" stroke-width="1.1" opacity="0.9"/>
<path d="M1457.9,77.1 C1461.3,77.0 1472.2,75.8 1478.3,76.0 C1484.5,76.3 1489.0,76.9 1494.7,78.7 C1500.5,80.4 1506.8,83.5 1513.1,86.4 C1519.4,89.3 1529.3,94.5 1532.6,96.1 L1532.6,96.1 C1529.5,96.3 1520.2,97.9 1514.4,97.5 C1508.6,97.2 1503.8,95.6 1497.7,93.8 C1491.7,92.1 1485.0,89.9 1478.3,87.1 C1471.7,84.4 1461.3,78.8 1457.9,77.1 Z" fill="#8fbce3" />
<path d="M1532.6,96.1 C1529.5,96.3 1520.2,97.9 1514.4,97.5 C1508.6,97.2 1503.8,95.6 1497.7,93.8 C1491.7,92.1 1485.0,89.9 1478.3,87.1 C1471.7,84.4 1461.3,78.8 1457.9,77.1" fill="none" stroke="#5f9ad3" stroke-width="2.0" opacity="0.6"/>
<path d="M1457.9,77.1 C1461.3,77.0 1472.2,75.8 1478.3,76.0 C1484.5,76.3 1489.0,76.9 1494.7,78.7 C1500.5,80.4 1506.8,83.5 1513.1,86.4 C1519.4,89.3 1529.3,94.5 1532.6,96.1" fill="none" stroke="#b3d3ec" stroke-width="1.1" opacity="0.9"/>
<path d="M1519.6,93.0 C1523.6,92.9 1536.3,92.1 1543.7,92.6 C1551.1,93.1 1556.8,94.1 1563.9,96.2 C1571.0,98.2 1579.0,101.8 1586.5,105.1 C1594.1,108.4 1605.5,114.1 1609.3,115.9 L1609.3,115.9 C1605.8,116.1 1595.2,117.5 1588.1,116.9 C1581.1,116.2 1574.3,114.2 1566.9,112.1 C1559.5,110.0 1551.6,107.5 1543.7,104.3 C1535.8,101.1 1523.6,94.9 1519.6,93.0 Z" fill="#8fbce3" />
<path d="M1609.3,115.9 C1605.8,116.1 1595.2,117.5 1588.1,116.9 C1581.1,116.2 1574.3,114.2 1566.9,112.1 C1559.5,110.0 1551.6,107.5 1543.7,104.3 C1535.8,101.1 1523.6,94.9 1519.6,93.0" fill="none" stroke="#5f9ad3" stroke-width="2.0" opacity="0.6"/>
<path d="M1519.6,93.0 C1523.6,92.9 1536.3,92.1 1543.7,92.6 C1551.1,93.1 1556.8,94.1 1563.9,96.2 C1571.0,98.2 1579.0,101.8 1586.5,105.1 C1594.1,108.4 1605.5,114.1 1609.3,115.9" fill="none" stroke="#b3d3ec" stroke-width="1.1" opacity="0.9"/>
<path d="M1596.3,112.7 C1599.8,112.5 1611.0,111.0 1617.3,111.2 C1623.6,111.4 1628.3,112.1 1634.3,113.9 C1640.3,115.8 1646.9,119.0 1653.4,122.1 C1659.9,125.2 1670.1,130.8 1673.4,132.6 L1673.4,132.6 C1670.3,132.9 1660.8,134.7 1654.8,134.4 C1648.8,134.1 1643.6,132.5 1637.3,130.7 C1631.1,128.9 1624.1,126.5 1617.3,123.5 C1610.5,120.6 1599.8,114.5 1596.3,112.7 Z" fill="#8fbce3" />
<path d="M1673.4,132.6 C1670.3,132.9 1660.8,134.7 1654.8,134.4 C1648.8,134.1 1643.6,132.5 1637.3,130.7 C1631.1,128.9 1624.1,126.5 1617.3,123.5 C1610.5,120.6 1599.8,114.5 1596.3,112.7" fill="none" stroke="#5f9ad3" stroke-width="2.0" opacity="0.6"/>
<path d="M1596.3,112.7 C1599.8,112.5 1611.0,111.0 1617.3,111.2 C1623.6,111.4 1628.3,112.1 1634.3,113.9 C1640.3,115.8 1646.9,119.0 1653.4,122.1 C1659.9,125.2 1670.1,130.8 1673.4,132.6" fill="none" stroke="#b3d3ec" stroke-width="1.1" opacity="0.9"/>
<path d="M1660.4,129.2 C1664.5,129.1 1677.6,127.9 1685.2,128.4 C1692.8,128.8 1698.7,129.9 1706.0,132.1 C1713.4,134.2 1721.6,137.9 1729.3,141.4 C1737.1,144.9 1748.8,151.1 1752.6,153.1 L1752.6,153.1 C1749.0,153.3 1738.3,155.0 1731.0,154.4 C1723.7,153.8 1716.6,151.8 1709.0,149.6 C1701.4,147.4 1693.3,144.8 1685.2,141.4 C1677.1,138.0 1664.5,131.3 1660.4,129.2 Z" fill="#8fbce3" />
<path d="M1752.6,153.1 C1749.0,153.3 1738.3,155.0 1731.0,154.4 C1723.7,153.8 1716.6,151.8 1709.0,149.6 C1701.4,147.4 1693.3,144.8 1685.2,141.4 C1677.1,138.0 1664.5,131.3 1660.4,129.2" fill="none" stroke="#5f9ad3" stroke-width="2.0" opacity="0.6"/>
<path d="M1660.4,129.2 C1664.5,129.1 1677.6,127.9 1685.2,128.4 C1692.8,128.8 1698.7,129.9 1706.0,132.1 C1713.4,134.2 1721.6,137.9 1729.3,141.4 C1737.1,144.9 1748.8,151.1 1752.6,153.1" fill="none" stroke="#b3d3ec" stroke-width="1.1" opacity="0.9"/>
<path d="M1739.6,149.6 C1743.3,149.3 1754.8,147.5 1761.3,147.6 C1767.9,147.8 1772.7,148.6 1779.0,150.5 C1785.2,152.4 1792.1,155.7 1798.8,159.0 C1805.5,162.4 1815.9,168.5 1819.3,170.4 L1819.3,170.4 C1816.1,170.8 1806.4,172.9 1800.2,172.7 C1794.0,172.4 1788.5,170.8 1782.0,168.9 C1775.5,167.0 1768.4,164.5 1761.3,161.3 C1754.3,158.1 1743.3,151.5 1739.6,149.6 Z" fill="#8fbce3" />
<path d="M1819.3,170.4 C1816.1,170.8 1806.4,172.9 1800.2,172.7 C1794.0,172.4 1788.5,170.8 1782.0,168.9 C1775.5,167.0 1768.4,164.5 1761.3,161.3 C1754.3,158.1 1743.3,151.5 1739.6,149.6" fill="none" stroke="#5f9ad3" stroke-width="2.0" opacity="0.6"/>
<path d="M1739.6,149.6 C1743.3,149.3 1754.8,147.5 1761.3,147.6 C1767.9,147.8 1772.7,148.6 1779.0,150.5 C1785.2,152.4 1792.1,155.7 1798.8,159.0 C1805.5,162.4 1815.9,168.5 1819.3,170.4" fill="none" stroke="#b3d3ec" stroke-width="1.1" opacity="0.9"/>
<path d="M1806.3,166.7 C1810.6,166.5 1828.0,166.0 1831.8,165.4 C1835.6,164.9 1829.6,163.0 1829.2,163.2 C1828.7,163.4 1825.1,164.1 1829.1,166.8 C1833.1,169.5 1849.0,177.1 1853.0,179.2 L1853.0,179.2 C1849.3,179.5 1834.3,180.4 1830.8,180.9 C1827.4,181.4 1832.0,182.3 1832.2,182.1 C1832.3,181.9 1836.1,182.1 1831.8,179.5 C1827.5,177.0 1810.6,168.8 1806.3,166.7 Z" fill="#8fbce3" />
<path d="M1853.0,179.2 C1849.3,179.5 1834.3,180.4 1830.8,180.9 C1827.4,181.4 1832.0,182.3 1832.2,182.1 C1832.3,181.9 1836.1,182.1 1831.8,179.5 C1827.5,177.0 1810.6,168.8 1806.3,166.7" fill="none" stroke="#5f9ad3" stroke-width="2.0" opacity="0.6"/>
<path d="M1806.3,166.7 C1810.6,166.5 1828.0,166.0 1831.8,165.4 C1835.6,164.9 1829.6,163.0 1829.2,163.2 C1828.7,163.4 1825.1,164.1 1829.1,166.8 C1833.1,169.5 1849.0,177.1 1853.0,179.2" fill="none" stroke="#b3d3ec" stroke-width="1.1" opacity="0.9"/>
<g clip-path="url(#cpLP)">
<polygon points="57.0,0.0 100.0,11.5 150.0,25.0 200.0,38.7 300.0,71.6 440.0,118.0 550.0,154.5 666.0,192.9 668.0,385.0 500.0,326.7 300.0,257.3 100.0,187.9 88.0,184.0 80.0,176.0 74.0,166.0 69.0,150.0 64.0,120.0 60.0,92.0 59.0,78.0 61.0,69.0 57.0,48.0 53.0,20.0 56.0,0.0" fill="url(#gLP)" />
<g clip-path="url(#cpGoldL)"><rect x="40" y="0" width="420" height="330" fill="url(#goldL)"/></g>
<g clip-path="url(#cpGoldL2)" opacity="0.75"><rect x="590" y="160" width="90" height="150" fill="url(#goldL)"/></g>
<path d="M40.0,65.8 C41.0,65.2 44.0,63.2 46.0,62.1 C48.0,61.1 50.0,60.2 52.0,59.6 C54.0,58.9 56.0,58.4 58.0,58.1 C60.0,57.7 62.0,57.6 64.0,57.6 C66.0,57.6 68.0,57.8 70.0,58.2 C72.0,58.5 74.0,59.0 76.0,59.7 C78.0,60.4 80.0,61.3 82.0,62.4 C84.0,63.5 86.0,64.7 88.0,66.2 C90.0,67.6 92.0,69.2 94.0,71.0 C96.0,72.7 98.0,74.6 100.0,76.6 C102.0,78.6 104.0,80.7 106.0,82.8 C108.0,85.0 110.0,87.3 112.0,89.5 C114.0,91.7 116.0,93.9 118.0,96.0 C120.0,98.2 122.0,100.2 124.0,102.1 C126.0,104.0 128.0,105.7 130.0,107.3 C132.0,109.0 134.0,110.4 136.0,112.0 C138.0,113.5 140.0,115.0 142.0,116.6 C144.0,118.2 146.0,120.0 148.0,121.7 C150.0,123.4 152.0,125.5 154.0,126.8 C156.0,128.1 158.0,129.2 160.0,129.5 C162.0,129.7 164.0,129.2 166.0,128.4 C168.0,127.6 170.0,126.1 172.0,124.7 C174.0,123.4 176.0,121.8 178.0,120.3 C180.0,118.9 182.0,117.4 184.0,116.1 C186.0,114.8 188.0,113.6 190.0,112.6 C192.0,111.6 194.0,110.7 196.0,110.1 C198.0,109.4 200.0,108.9 202.0,108.6 C204.0,108.3 206.0,108.2 208.0,108.2 C210.0,108.2 212.0,108.4 214.0,108.8 C216.0,109.2 218.0,109.7 220.0,110.5 C222.0,111.2 224.0,112.1 226.0,113.2 C228.0,114.3 230.0,115.6 232.0,117.1 C234.0,118.5 236.0,120.2 238.0,121.9 C240.0,123.7 242.0,125.6 244.0,127.6 C246.0,129.6 248.0,131.7 250.0,133.9 C252.0,136.0 254.0,138.3 256.0,140.5 C258.0,142.7 260.0,145.0 262.0,147.1 C264.0,149.2 266.0,151.2 268.0,153.1 C270.0,155.0 272.0,156.6 274.0,158.2 C276.0,159.9 278.0,161.3 280.0,162.8 C282.0,164.3 284.0,165.8 286.0,167.5 C288.0,169.1 290.0,171.0 292.0,172.7 C294.0,174.4 296.0,176.6 298.0,177.8 C300.0,179.0 302.0,180.0 304.0,180.1 C306.0,180.1 308.0,179.2 310.0,178.1 C312.0,177.0 314.0,175.2 316.0,173.6 C318.0,171.9 320.0,170.1 322.0,168.4 C324.0,166.8 326.0,165.1 328.0,163.7 C330.0,162.3 332.0,161.0 334.0,160.0 C336.0,158.9 338.0,158.1 340.0,157.5 C342.0,156.8 344.0,156.4 346.0,156.1 C348.0,155.9 350.0,155.8 352.0,155.9 C354.0,156.1 356.0,156.4 358.0,157.0 C360.0,157.5 362.0,158.3 364.0,159.2 C366.0,160.2 368.0,161.4 370.0,162.8 C372.0,164.1 374.0,165.7 376.0,167.5 C378.0,169.2 380.0,171.1 382.0,173.1 C384.0,175.1 386.0,177.3 388.0,179.5 C390.0,181.7 392.0,184.0 394.0,186.2 C396.0,188.4 398.0,190.7 400.0,192.8 C402.0,194.9 404.0,196.9 406.0,198.6 C408.0,200.4 410.0,202.0 412.0,203.5 C414.0,205.1 416.0,206.5 418.0,208.0 C420.0,209.6 422.0,211.1 424.0,212.8 C426.0,214.5 428.0,216.6 430.0,218.1 C432.0,219.6 434.0,221.2 436.0,221.7 C438.0,222.2 440.0,221.9 442.0,221.2 C444.0,220.5 446.0,218.8 448.0,217.3 C450.0,215.8 452.0,213.9 454.0,212.2 C456.0,210.6 458.0,208.8 460.0,207.3 C462.0,205.8 464.0,204.4 466.0,203.2 C468.0,202.0 470.0,201.0 472.0,200.2 C474.0,199.5 476.0,198.9 478.0,198.5 C480.0,198.1 482.0,197.9 484.0,197.9 C486.0,197.9 488.0,198.1 490.0,198.5 C492.0,198.9 494.0,199.5 496.0,200.3 C498.0,201.1 500.0,202.2 502.0,203.4 C504.0,204.6 506.0,206.1 508.0,207.7 C510.0,209.3 512.0,211.1 514.0,213.0 C516.0,214.9 518.0,217.0 520.0,219.2 C522.0,221.3 524.0,223.6 526.0,225.8 C528.0,228.1 530.0,230.4 532.0,232.5 C534.0,234.7 536.0,236.8 538.0,238.7 C540.0,240.6 542.0,242.3 544.0,243.9 C546.0,245.6 548.0,247.0 550.0,248.5 C552.0,250.0 554.0,251.4 556.0,253.1 C558.0,254.7 560.0,256.7 562.0,258.3 C564.0,259.9 566.0,261.9 568.0,262.9 C570.0,263.8 572.0,264.3 574.0,264.0 C576.0,263.7 578.0,262.4 580.0,261.1 C582.0,259.8 584.0,257.9 586.0,256.2 C588.0,254.6 590.0,252.7 592.0,251.1 C594.0,249.5 596.0,248.0 598.0,246.7 C600.0,245.3 602.0,244.2 604.0,243.3 C606.0,242.4 608.0,241.6 610.0,241.1 C612.0,240.6 614.0,240.2 616.0,240.1 C618.0,239.9 620.0,240.0 622.0,240.2 C624.0,240.5 626.0,240.9 628.0,241.6 C630.0,242.3 632.0,243.1 634.0,244.2 C636.0,245.3 638.0,246.6 640.0,248.1 C642.0,249.6 644.0,251.3 646.0,253.1 C648.0,254.9 650.0,256.9 652.0,259.0 C654.0,261.0 656.0,263.2 658.0,265.4 C660.0,267.6 662.0,269.9 664.0,272.1 C666.0,274.2 668.0,276.5 670.0,278.5 C672.0,280.6 674.0,282.5 676.0,284.4 C678.0,286.2 680.0,287.9 682.0,289.5 C684.0,291.1 687.0,293.2 688.0,294.0" fill="none" stroke="#6a6762" stroke-width="22" opacity="0.30" filter="url(#b8)" transform="translate(4,-10)"/>
<path d="M40.0,65.8 C41.0,65.2 44.0,63.2 46.0,62.1 C48.0,61.1 50.0,60.2 52.0,59.6 C54.0,58.9 56.0,58.4 58.0,58.1 C60.0,57.7 62.0,57.6 64.0,57.6 C66.0,57.6 68.0,57.8 70.0,58.2 C72.0,58.5 74.0,59.0 76.0,59.7 C78.0,60.4 80.0,61.3 82.0,62.4 C84.0,63.5 86.0,64.7 88.0,66.2 C90.0,67.6 92.0,69.2 94.0,71.0 C96.0,72.7 98.0,74.6 100.0,76.6 C102.0,78.6 104.0,80.7 106.0,82.8 C108.0,85.0 110.0,87.3 112.0,89.5 C114.0,91.7 116.0,93.9 118.0,96.0 C120.0,98.2 122.0,100.2 124.0,102.1 C126.0,104.0 128.0,105.7 130.0,107.3 C132.0,109.0 134.0,110.4 136.0,112.0 C138.0,113.5 140.0,115.0 142.0,116.6 C144.0,118.2 146.0,120.0 148.0,121.7 C150.0,123.4 152.0,125.5 154.0,126.8 C156.0,128.1 158.0,129.2 160.0,129.5 C162.0,129.7 164.0,129.2 166.0,128.4 C168.0,127.6 170.0,126.1 172.0,124.7 C174.0,123.4 176.0,121.8 178.0,120.3 C180.0,118.9 182.0,117.4 184.0,116.1 C186.0,114.8 188.0,113.6 190.0,112.6 C192.0,111.6 194.0,110.7 196.0,110.1 C198.0,109.4 200.0,108.9 202.0,108.6 C204.0,108.3 206.0,108.2 208.0,108.2 C210.0,108.2 212.0,108.4 214.0,108.8 C216.0,109.2 218.0,109.7 220.0,110.5 C222.0,111.2 224.0,112.1 226.0,113.2 C228.0,114.3 230.0,115.6 232.0,117.1 C234.0,118.5 236.0,120.2 238.0,121.9 C240.0,123.7 242.0,125.6 244.0,127.6 C246.0,129.6 248.0,131.7 250.0,133.9 C252.0,136.0 254.0,138.3 256.0,140.5 C258.0,142.7 260.0,145.0 262.0,147.1 C264.0,149.2 266.0,151.2 268.0,153.1 C270.0,155.0 272.0,156.6 274.0,158.2 C276.0,159.9 278.0,161.3 280.0,162.8 C282.0,164.3 284.0,165.8 286.0,167.5 C288.0,169.1 290.0,171.0 292.0,172.7 C294.0,174.4 296.0,176.6 298.0,177.8 C300.0,179.0 302.0,180.0 304.0,180.1 C306.0,180.1 308.0,179.2 310.0,178.1 C312.0,177.0 314.0,175.2 316.0,173.6 C318.0,171.9 320.0,170.1 322.0,168.4 C324.0,166.8 326.0,165.1 328.0,163.7 C330.0,162.3 332.0,161.0 334.0,160.0 C336.0,158.9 338.0,158.1 340.0,157.5 C342.0,156.8 344.0,156.4 346.0,156.1 C348.0,155.9 350.0,155.8 352.0,155.9 C354.0,156.1 356.0,156.4 358.0,157.0 C360.0,157.5 362.0,158.3 364.0,159.2 C366.0,160.2 368.0,161.4 370.0,162.8 C372.0,164.1 374.0,165.7 376.0,167.5 C378.0,169.2 380.0,171.1 382.0,173.1 C384.0,175.1 386.0,177.3 388.0,179.5 C390.0,181.7 392.0,184.0 394.0,186.2 C396.0,188.4 398.0,190.7 400.0,192.8 C402.0,194.9 404.0,196.9 406.0,198.6 C408.0,200.4 410.0,202.0 412.0,203.5 C414.0,205.1 416.0,206.5 418.0,208.0 C420.0,209.6 422.0,211.1 424.0,212.8 C426.0,214.5 428.0,216.6 430.0,218.1 C432.0,219.6 434.0,221.2 436.0,221.7 C438.0,222.2 440.0,221.9 442.0,221.2 C444.0,220.5 446.0,218.8 448.0,217.3 C450.0,215.8 452.0,213.9 454.0,212.2 C456.0,210.6 458.0,208.8 460.0,207.3 C462.0,205.8 464.0,204.4 466.0,203.2 C468.0,202.0 470.0,201.0 472.0,200.2 C474.0,199.5 476.0,198.9 478.0,198.5 C480.0,198.1 482.0,197.9 484.0,197.9 C486.0,197.9 488.0,198.1 490.0,198.5 C492.0,198.9 494.0,199.5 496.0,200.3 C498.0,201.1 500.0,202.2 502.0,203.4 C504.0,204.6 506.0,206.1 508.0,207.7 C510.0,209.3 512.0,211.1 514.0,213.0 C516.0,214.9 518.0,217.0 520.0,219.2 C522.0,221.3 524.0,223.6 526.0,225.8 C528.0,228.1 530.0,230.4 532.0,232.5 C534.0,234.7 536.0,236.8 538.0,238.7 C540.0,240.6 542.0,242.3 544.0,243.9 C546.0,245.6 548.0,247.0 550.0,248.5 C552.0,250.0 554.0,251.4 556.0,253.1 C558.0,254.7 560.0,256.7 562.0,258.3 C564.0,259.9 566.0,261.9 568.0,262.9 C570.0,263.8 572.0,264.3 574.0,264.0 C576.0,263.7 578.0,262.4 580.0,261.1 C582.0,259.8 584.0,257.9 586.0,256.2 C588.0,254.6 590.0,252.7 592.0,251.1 C594.0,249.5 596.0,248.0 598.0,246.7 C600.0,245.3 602.0,244.2 604.0,243.3 C606.0,242.4 608.0,241.6 610.0,241.1 C612.0,240.6 614.0,240.2 616.0,240.1 C618.0,239.9 620.0,240.0 622.0,240.2 C624.0,240.5 626.0,240.9 628.0,241.6 C630.0,242.3 632.0,243.1 634.0,244.2 C636.0,245.3 638.0,246.6 640.0,248.1 C642.0,249.6 644.0,251.3 646.0,253.1 C648.0,254.9 650.0,256.9 652.0,259.0 C654.0,261.0 656.0,263.2 658.0,265.4 C660.0,267.6 662.0,269.9 664.0,272.1 C666.0,274.2 668.0,276.5 670.0,278.5 C672.0,280.6 674.0,282.5 676.0,284.4 C678.0,286.2 680.0,287.9 682.0,289.5 C684.0,291.1 687.0,293.2 688.0,294.0" fill="none" stroke="#6a6762" stroke-width="9" opacity="0.5" filter="url(#b3)" transform="translate(0,-4)"/>
<g clip-path="url(#cpRib)">
<rect x="40" y="0" width="650" height="420" fill="#f4f4f5" opacity="0.30"/>
<path d="M40.0,65.8 C41.0,65.2 44.0,63.2 46.0,62.1 C48.0,61.1 50.0,60.2 52.0,59.6 C54.0,58.9 56.0,58.4 58.0,58.1 C60.0,57.7 62.0,57.6 64.0,57.6 C66.0,57.6 68.0,57.8 70.0,58.2 C72.0,58.5 74.0,59.0 76.0,59.7 C78.0,60.4 80.0,61.3 82.0,62.4 C84.0,63.5 86.0,64.7 88.0,66.2 C90.0,67.6 92.0,69.2 94.0,71.0 C96.0,72.7 98.0,74.6 100.0,76.6 C102.0,78.6 104.0,80.7 106.0,82.8 C108.0,85.0 110.0,87.3 112.0,89.5 C114.0,91.7 116.0,93.9 118.0,96.0 C120.0,98.2 122.0,100.2 124.0,102.1 C126.0,104.0 128.0,105.7 130.0,107.3 C132.0,109.0 134.0,110.4 136.0,112.0 C138.0,113.5 140.0,115.0 142.0,116.6 C144.0,118.2 146.0,120.0 148.0,121.7 C150.0,123.4 152.0,125.5 154.0,126.8 C156.0,128.1 158.0,129.2 160.0,129.5 C162.0,129.7 164.0,129.2 166.0,128.4 C168.0,127.6 170.0,126.1 172.0,124.7 C174.0,123.4 176.0,121.8 178.0,120.3 C180.0,118.9 182.0,117.4 184.0,116.1 C186.0,114.8 188.0,113.6 190.0,112.6 C192.0,111.6 194.0,110.7 196.0,110.1 C198.0,109.4 200.0,108.9 202.0,108.6 C204.0,108.3 206.0,108.2 208.0,108.2 C210.0,108.2 212.0,108.4 214.0,108.8 C216.0,109.2 218.0,109.7 220.0,110.5 C222.0,111.2 224.0,112.1 226.0,113.2 C228.0,114.3 230.0,115.6 232.0,117.1 C234.0,118.5 236.0,120.2 238.0,121.9 C240.0,123.7 242.0,125.6 244.0,127.6 C246.0,129.6 248.0,131.7 250.0,133.9 C252.0,136.0 254.0,138.3 256.0,140.5 C258.0,142.7 260.0,145.0 262.0,147.1 C264.0,149.2 266.0,151.2 268.0,153.1 C270.0,155.0 272.0,156.6 274.0,158.2 C276.0,159.9 278.0,161.3 280.0,162.8 C282.0,164.3 284.0,165.8 286.0,167.5 C288.0,169.1 290.0,171.0 292.0,172.7 C294.0,174.4 296.0,176.6 298.0,177.8 C300.0,179.0 302.0,180.0 304.0,180.1 C306.0,180.1 308.0,179.2 310.0,178.1 C312.0,177.0 314.0,175.2 316.0,173.6 C318.0,171.9 320.0,170.1 322.0,168.4 C324.0,166.8 326.0,165.1 328.0,163.7 C330.0,162.3 332.0,161.0 334.0,160.0 C336.0,158.9 338.0,158.1 340.0,157.5 C342.0,156.8 344.0,156.4 346.0,156.1 C348.0,155.9 350.0,155.8 352.0,155.9 C354.0,156.1 356.0,156.4 358.0,157.0 C360.0,157.5 362.0,158.3 364.0,159.2 C366.0,160.2 368.0,161.4 370.0,162.8 C372.0,164.1 374.0,165.7 376.0,167.5 C378.0,169.2 380.0,171.1 382.0,173.1 C384.0,175.1 386.0,177.3 388.0,179.5 C390.0,181.7 392.0,184.0 394.0,186.2 C396.0,188.4 398.0,190.7 400.0,192.8 C402.0,194.9 404.0,196.9 406.0,198.6 C408.0,200.4 410.0,202.0 412.0,203.5 C414.0,205.1 416.0,206.5 418.0,208.0 C420.0,209.6 422.0,211.1 424.0,212.8 C426.0,214.5 428.0,216.6 430.0,218.1 C432.0,219.6 434.0,221.2 436.0,221.7 C438.0,222.2 440.0,221.9 442.0,221.2 C444.0,220.5 446.0,218.8 448.0,217.3 C450.0,215.8 452.0,213.9 454.0,212.2 C456.0,210.6 458.0,208.8 460.0,207.3 C462.0,205.8 464.0,204.4 466.0,203.2 C468.0,202.0 470.0,201.0 472.0,200.2 C474.0,199.5 476.0,198.9 478.0,198.5 C480.0,198.1 482.0,197.9 484.0,197.9 C486.0,197.9 488.0,198.1 490.0,198.5 C492.0,198.9 494.0,199.5 496.0,200.3 C498.0,201.1 500.0,202.2 502.0,203.4 C504.0,204.6 506.0,206.1 508.0,207.7 C510.0,209.3 512.0,211.1 514.0,213.0 C516.0,214.9 518.0,217.0 520.0,219.2 C522.0,221.3 524.0,223.6 526.0,225.8 C528.0,228.1 530.0,230.4 532.0,232.5 C534.0,234.7 536.0,236.8 538.0,238.7 C540.0,240.6 542.0,242.3 544.0,243.9 C546.0,245.6 548.0,247.0 550.0,248.5 C552.0,250.0 554.0,251.4 556.0,253.1 C558.0,254.7 560.0,256.7 562.0,258.3 C564.0,259.9 566.0,261.9 568.0,262.9 C570.0,263.8 572.0,264.3 574.0,264.0 C576.0,263.7 578.0,262.4 580.0,261.1 C582.0,259.8 584.0,257.9 586.0,256.2 C588.0,254.6 590.0,252.7 592.0,251.1 C594.0,249.5 596.0,248.0 598.0,246.7 C600.0,245.3 602.0,244.2 604.0,243.3 C606.0,242.4 608.0,241.6 610.0,241.1 C612.0,240.6 614.0,240.2 616.0,240.1 C618.0,239.9 620.0,240.0 622.0,240.2 C624.0,240.5 626.0,240.9 628.0,241.6 C630.0,242.3 632.0,243.1 634.0,244.2 C636.0,245.3 638.0,246.6 640.0,248.1 C642.0,249.6 644.0,251.3 646.0,253.1 C648.0,254.9 650.0,256.9 652.0,259.0 C654.0,261.0 656.0,263.2 658.0,265.4 C660.0,267.6 662.0,269.9 664.0,272.1 C666.0,274.2 668.0,276.5 670.0,278.5 C672.0,280.6 674.0,282.5 676.0,284.4 C678.0,286.2 680.0,287.9 682.0,289.5 C684.0,291.1 687.0,293.2 688.0,294.0" fill="none" stroke="#ffffff" stroke-width="6" opacity="0.50" filter="url(#b2)" transform="translate(0,4.5)"/>
<path d="M40.0,68.4 C41.0,68.3 44.0,67.7 46.0,67.6 C48.0,67.5 50.0,67.6 52.0,67.9 C54.0,68.1 56.0,68.5 58.0,69.1 C60.0,69.7 62.0,70.4 64.0,71.4 C66.0,72.3 68.0,73.5 70.0,74.8 C72.0,76.1 74.0,77.6 76.0,79.3 C78.0,80.9 80.0,82.7 82.0,84.6 C84.0,86.5 86.0,88.6 88.0,90.7 C90.0,92.8 92.0,95.0 94.0,97.2 C96.0,99.4 98.0,101.7 100.0,103.9 C102.0,106.0 104.0,108.2 106.0,110.2 C108.0,112.2 110.0,114.0 112.0,115.7 C114.0,117.4 116.0,118.9 118.0,120.5 C120.0,122.0 122.0,123.4 124.0,125.0 C126.0,126.6 128.0,128.2 130.0,129.9 C132.0,131.6 134.0,133.7 136.0,135.2 C138.0,136.7 140.0,138.3 142.0,139.0 C144.0,139.6 146.0,139.6 148.0,139.1 C150.0,138.6 152.0,137.3 154.0,136.1 C156.0,134.9 158.0,133.2 160.0,131.8 C162.0,130.4 164.0,128.8 166.0,127.4 C168.0,126.1 170.0,124.7 172.0,123.6 C174.0,122.5 176.0,121.6 178.0,120.8 C180.0,120.0 182.0,119.4 184.0,119.0 C186.0,118.6 188.0,118.3 190.0,118.2 C192.0,118.1 194.0,118.2 196.0,118.5 C198.0,118.8 200.0,119.2 202.0,119.8 C204.0,120.4 206.0,121.2 208.0,122.2 C210.0,123.2 212.0,124.3 214.0,125.7 C216.0,127.0 218.0,128.5 220.0,130.2 C222.0,131.8 224.0,133.7 226.0,135.6 C228.0,137.5 230.0,139.6 232.0,141.7 C234.0,143.8 236.0,146.1 238.0,148.3 C240.0,150.5 242.0,152.8 244.0,154.9 C246.0,157.1 248.0,159.2 250.0,161.2 C252.0,163.1 254.0,164.9 256.0,166.6 C258.0,168.3 260.0,169.8 262.0,171.3 C264.0,172.9 266.0,174.3 268.0,175.9 C270.0,177.5 272.0,179.1 274.0,180.9 C276.0,182.6 278.0,184.8 280.0,186.3 C282.0,187.8 284.0,189.3 286.0,189.8 C288.0,190.3 290.0,189.9 292.0,189.1 C294.0,188.4 296.0,186.7 298.0,185.2 C300.0,183.7 302.0,181.8 304.0,180.1 C306.0,178.5 308.0,176.7 310.0,175.2 C312.0,173.7 314.0,172.3 316.0,171.1 C318.0,169.9 320.0,168.9 322.0,168.2 C324.0,167.4 326.0,166.8 328.0,166.4 C330.0,166.0 332.0,165.9 334.0,165.9 C336.0,165.9 338.0,166.1 340.0,166.5 C342.0,166.9 344.0,167.5 346.0,168.3 C348.0,169.2 350.0,170.2 352.0,171.4 C354.0,172.7 356.0,174.2 358.0,175.8 C360.0,177.4 362.0,179.2 364.0,181.1 C366.0,183.0 368.0,185.1 370.0,187.3 C372.0,189.4 374.0,191.7 376.0,194.0 C378.0,196.2 380.0,198.5 382.0,200.6 C384.0,202.8 386.0,204.9 388.0,206.8 C390.0,208.7 392.0,210.4 394.0,212.0 C396.0,213.6 398.0,215.0 400.0,216.5 C402.0,218.1 404.0,219.5 406.0,221.1 C408.0,222.8 410.0,224.8 412.0,226.4 C414.0,228.0 416.0,230.0 418.0,230.9 C420.0,231.8 422.0,232.2 424.0,231.9 C426.0,231.5 428.0,230.2 430.0,228.8 C432.0,227.5 434.0,225.6 436.0,224.0 C438.0,222.3 440.0,220.5 442.0,218.9 C444.0,217.3 446.0,215.7 448.0,214.4 C450.0,213.1 452.0,212.0 454.0,211.1 C456.0,210.2 458.0,209.5 460.0,208.9 C462.0,208.4 464.0,208.1 466.0,208.0 C468.0,207.8 470.0,207.9 472.0,208.2 C474.0,208.4 476.0,208.9 478.0,209.6 C480.0,210.3 482.0,211.1 484.0,212.2 C486.0,213.3 488.0,214.7 490.0,216.1 C492.0,217.6 494.0,219.3 496.0,221.2 C498.0,223.0 500.0,225.0 502.0,227.0 C504.0,229.1 506.0,231.4 508.0,233.6 C510.0,235.8 512.0,238.1 514.0,240.3 C516.0,242.5 518.0,244.7 520.0,246.7 C522.0,248.7 524.0,250.6 526.0,252.3 C528.0,254.0 530.0,255.5 532.0,257.0 C534.0,258.5 536.0,259.9 538.0,261.5 C540.0,263.1 542.0,264.8 544.0,266.5 C546.0,268.2 548.0,270.3 550.0,271.6 C552.0,272.9 554.0,274.0 556.0,274.2 C558.0,274.3 560.0,273.4 562.0,272.4 C564.0,271.3 566.0,269.5 568.0,267.9 C570.0,266.3 572.0,264.5 574.0,262.8 C576.0,261.2 578.0,259.5 580.0,258.0 C582.0,256.6 584.0,255.3 586.0,254.3 C588.0,253.2 590.0,252.4 592.0,251.7 C594.0,251.0 596.0,250.6 598.0,250.3 C600.0,250.0 602.0,249.9 604.0,250.0 C606.0,250.2 608.0,250.5 610.0,251.0 C612.0,251.5 614.0,252.3 616.0,253.2 C618.0,254.1 620.0,255.3 622.0,256.7 C624.0,258.0 626.0,259.6 628.0,261.3 C630.0,263.1 632.0,265.0 634.0,266.9 C636.0,268.9 638.0,271.1 640.0,273.2 C642.0,275.4 644.0,277.6 646.0,279.8 C648.0,282.0 650.0,284.3 652.0,286.4 C654.0,288.5 656.0,290.6 658.0,292.5 C660.0,294.4 662.0,296.2 664.0,297.8 C666.0,299.5 668.0,301.0 670.0,302.5 C672.0,304.0 674.0,305.4 676.0,306.8 C678.0,308.2 680.0,309.5 682.0,310.9 C684.0,312.3 687.0,314.4 688.0,315.1" fill="none" stroke="#625f5a" stroke-width="8" opacity="0.55" filter="url(#b3)" transform="translate(0,-3.5)"/>
</g>
<g clip-path="url(#cpPad)">
<rect x="40" y="0" width="650" height="420" fill="#f4f4f5" opacity="0.12"/>
<path d="M40.0,68.4 C41.0,68.3 44.0,67.7 46.0,67.6 C48.0,67.5 50.0,67.6 52.0,67.9 C54.0,68.1 56.0,68.5 58.0,69.1 C60.0,69.7 62.0,70.4 64.0,71.4 C66.0,72.3 68.0,73.5 70.0,74.8 C72.0,76.1 74.0,77.6 76.0,79.3 C78.0,80.9 80.0,82.7 82.0,84.6 C84.0,86.5 86.0,88.6 88.0,90.7 C90.0,92.8 92.0,95.0 94.0,97.2 C96.0,99.4 98.0,101.7 100.0,103.9 C102.0,106.0 104.0,108.2 106.0,110.2 C108.0,112.2 110.0,114.0 112.0,115.7 C114.0,117.4 116.0,118.9 118.0,120.5 C120.0,122.0 122.0,123.4 124.0,125.0 C126.0,126.6 128.0,128.2 130.0,129.9 C132.0,131.6 134.0,133.7 136.0,135.2 C138.0,136.7 140.0,138.3 142.0,139.0 C144.0,139.6 146.0,139.6 148.0,139.1 C150.0,138.6 152.0,137.3 154.0,136.1 C156.0,134.9 158.0,133.2 160.0,131.8 C162.0,130.4 164.0,128.8 166.0,127.4 C168.0,126.1 170.0,124.7 172.0,123.6 C174.0,122.5 176.0,121.6 178.0,120.8 C180.0,120.0 182.0,119.4 184.0,119.0 C186.0,118.6 188.0,118.3 190.0,118.2 C192.0,118.1 194.0,118.2 196.0,118.5 C198.0,118.8 200.0,119.2 202.0,119.8 C204.0,120.4 206.0,121.2 208.0,122.2 C210.0,123.2 212.0,124.3 214.0,125.7 C216.0,127.0 218.0,128.5 220.0,130.2 C222.0,131.8 224.0,133.7 226.0,135.6 C228.0,137.5 230.0,139.6 232.0,141.7 C234.0,143.8 236.0,146.1 238.0,148.3 C240.0,150.5 242.0,152.8 244.0,154.9 C246.0,157.1 248.0,159.2 250.0,161.2 C252.0,163.1 254.0,164.9 256.0,166.6 C258.0,168.3 260.0,169.8 262.0,171.3 C264.0,172.9 266.0,174.3 268.0,175.9 C270.0,177.5 272.0,179.1 274.0,180.9 C276.0,182.6 278.0,184.8 280.0,186.3 C282.0,187.8 284.0,189.3 286.0,189.8 C288.0,190.3 290.0,189.9 292.0,189.1 C294.0,188.4 296.0,186.7 298.0,185.2 C300.0,183.7 302.0,181.8 304.0,180.1 C306.0,178.5 308.0,176.7 310.0,175.2 C312.0,173.7 314.0,172.3 316.0,171.1 C318.0,169.9 320.0,168.9 322.0,168.2 C324.0,167.4 326.0,166.8 328.0,166.4 C330.0,166.0 332.0,165.9 334.0,165.9 C336.0,165.9 338.0,166.1 340.0,166.5 C342.0,166.9 344.0,167.5 346.0,168.3 C348.0,169.2 350.0,170.2 352.0,171.4 C354.0,172.7 356.0,174.2 358.0,175.8 C360.0,177.4 362.0,179.2 364.0,181.1 C366.0,183.0 368.0,185.1 370.0,187.3 C372.0,189.4 374.0,191.7 376.0,194.0 C378.0,196.2 380.0,198.5 382.0,200.6 C384.0,202.8 386.0,204.9 388.0,206.8 C390.0,208.7 392.0,210.4 394.0,212.0 C396.0,213.6 398.0,215.0 400.0,216.5 C402.0,218.1 404.0,219.5 406.0,221.1 C408.0,222.8 410.0,224.8 412.0,226.4 C414.0,228.0 416.0,230.0 418.0,230.9 C420.0,231.8 422.0,232.2 424.0,231.9 C426.0,231.5 428.0,230.2 430.0,228.8 C432.0,227.5 434.0,225.6 436.0,224.0 C438.0,222.3 440.0,220.5 442.0,218.9 C444.0,217.3 446.0,215.7 448.0,214.4 C450.0,213.1 452.0,212.0 454.0,211.1 C456.0,210.2 458.0,209.5 460.0,208.9 C462.0,208.4 464.0,208.1 466.0,208.0 C468.0,207.8 470.0,207.9 472.0,208.2 C474.0,208.4 476.0,208.9 478.0,209.6 C480.0,210.3 482.0,211.1 484.0,212.2 C486.0,213.3 488.0,214.7 490.0,216.1 C492.0,217.6 494.0,219.3 496.0,221.2 C498.0,223.0 500.0,225.0 502.0,227.0 C504.0,229.1 506.0,231.4 508.0,233.6 C510.0,235.8 512.0,238.1 514.0,240.3 C516.0,242.5 518.0,244.7 520.0,246.7 C522.0,248.7 524.0,250.6 526.0,252.3 C528.0,254.0 530.0,255.5 532.0,257.0 C534.0,258.5 536.0,259.9 538.0,261.5 C540.0,263.1 542.0,264.8 544.0,266.5 C546.0,268.2 548.0,270.3 550.0,271.6 C552.0,272.9 554.0,274.0 556.0,274.2 C558.0,274.3 560.0,273.4 562.0,272.4 C564.0,271.3 566.0,269.5 568.0,267.9 C570.0,266.3 572.0,264.5 574.0,262.8 C576.0,261.2 578.0,259.5 580.0,258.0 C582.0,256.6 584.0,255.3 586.0,254.3 C588.0,253.2 590.0,252.4 592.0,251.7 C594.0,251.0 596.0,250.6 598.0,250.3 C600.0,250.0 602.0,249.9 604.0,250.0 C606.0,250.2 608.0,250.5 610.0,251.0 C612.0,251.5 614.0,252.3 616.0,253.2 C618.0,254.1 620.0,255.3 622.0,256.7 C624.0,258.0 626.0,259.6 628.0,261.3 C630.0,263.1 632.0,265.0 634.0,266.9 C636.0,268.9 638.0,271.1 640.0,273.2 C642.0,275.4 644.0,277.6 646.0,279.8 C648.0,282.0 650.0,284.3 652.0,286.4 C654.0,288.5 656.0,290.6 658.0,292.5 C660.0,294.4 662.0,296.2 664.0,297.8 C666.0,299.5 668.0,301.0 670.0,302.5 C672.0,304.0 674.0,305.4 676.0,306.8 C678.0,308.2 680.0,309.5 682.0,310.9 C684.0,312.3 687.0,314.4 688.0,315.1" fill="none" stroke="#ffffff" stroke-width="8" opacity="0.50" filter="url(#b3)" transform="translate(0,6)"/>
</g>
<rect x="40" y="0" width="640" height="400" fill="url(#dotsL)"/>
<path d="M40.0,65.8 C41.0,65.2 44.0,63.2 46.0,62.1 C48.0,61.1 50.0,60.2 52.0,59.6 C54.0,58.9 56.0,58.4 58.0,58.1 C60.0,57.7 62.0,57.6 64.0,57.6 C66.0,57.6 68.0,57.8 70.0,58.2 C72.0,58.5 74.0,59.0 76.0,59.7 C78.0,60.4 80.0,61.3 82.0,62.4 C84.0,63.5 86.0,64.7 88.0,66.2 C90.0,67.6 92.0,69.2 94.0,71.0 C96.0,72.7 98.0,74.6 100.0,76.6 C102.0,78.6 104.0,80.7 106.0,82.8 C108.0,85.0 110.0,87.3 112.0,89.5 C114.0,91.7 116.0,93.9 118.0,96.0 C120.0,98.2 122.0,100.2 124.0,102.1 C126.0,104.0 128.0,105.7 130.0,107.3 C132.0,109.0 134.0,110.4 136.0,112.0 C138.0,113.5 140.0,115.0 142.0,116.6 C144.0,118.2 146.0,120.0 148.0,121.7 C150.0,123.4 152.0,125.5 154.0,126.8 C156.0,128.1 158.0,129.2 160.0,129.5 C162.0,129.7 164.0,129.2 166.0,128.4 C168.0,127.6 170.0,126.1 172.0,124.7 C174.0,123.4 176.0,121.8 178.0,120.3 C180.0,118.9 182.0,117.4 184.0,116.1 C186.0,114.8 188.0,113.6 190.0,112.6 C192.0,111.6 194.0,110.7 196.0,110.1 C198.0,109.4 200.0,108.9 202.0,108.6 C204.0,108.3 206.0,108.2 208.0,108.2 C210.0,108.2 212.0,108.4 214.0,108.8 C216.0,109.2 218.0,109.7 220.0,110.5 C222.0,111.2 224.0,112.1 226.0,113.2 C228.0,114.3 230.0,115.6 232.0,117.1 C234.0,118.5 236.0,120.2 238.0,121.9 C240.0,123.7 242.0,125.6 244.0,127.6 C246.0,129.6 248.0,131.7 250.0,133.9 C252.0,136.0 254.0,138.3 256.0,140.5 C258.0,142.7 260.0,145.0 262.0,147.1 C264.0,149.2 266.0,151.2 268.0,153.1 C270.0,155.0 272.0,156.6 274.0,158.2 C276.0,159.9 278.0,161.3 280.0,162.8 C282.0,164.3 284.0,165.8 286.0,167.5 C288.0,169.1 290.0,171.0 292.0,172.7 C294.0,174.4 296.0,176.6 298.0,177.8 C300.0,179.0 302.0,180.0 304.0,180.1 C306.0,180.1 308.0,179.2 310.0,178.1 C312.0,177.0 314.0,175.2 316.0,173.6 C318.0,171.9 320.0,170.1 322.0,168.4 C324.0,166.8 326.0,165.1 328.0,163.7 C330.0,162.3 332.0,161.0 334.0,160.0 C336.0,158.9 338.0,158.1 340.0,157.5 C342.0,156.8 344.0,156.4 346.0,156.1 C348.0,155.9 350.0,155.8 352.0,155.9 C354.0,156.1 356.0,156.4 358.0,157.0 C360.0,157.5 362.0,158.3 364.0,159.2 C366.0,160.2 368.0,161.4 370.0,162.8 C372.0,164.1 374.0,165.7 376.0,167.5 C378.0,169.2 380.0,171.1 382.0,173.1 C384.0,175.1 386.0,177.3 388.0,179.5 C390.0,181.7 392.0,184.0 394.0,186.2 C396.0,188.4 398.0,190.7 400.0,192.8 C402.0,194.9 404.0,196.9 406.0,198.6 C408.0,200.4 410.0,202.0 412.0,203.5 C414.0,205.1 416.0,206.5 418.0,208.0 C420.0,209.6 422.0,211.1 424.0,212.8 C426.0,214.5 428.0,216.6 430.0,218.1 C432.0,219.6 434.0,221.2 436.0,221.7 C438.0,222.2 440.0,221.9 442.0,221.2 C444.0,220.5 446.0,218.8 448.0,217.3 C450.0,215.8 452.0,213.9 454.0,212.2 C456.0,210.6 458.0,208.8 460.0,207.3 C462.0,205.8 464.0,204.4 466.0,203.2 C468.0,202.0 470.0,201.0 472.0,200.2 C474.0,199.5 476.0,198.9 478.0,198.5 C480.0,198.1 482.0,197.9 484.0,197.9 C486.0,197.9 488.0,198.1 490.0,198.5 C492.0,198.9 494.0,199.5 496.0,200.3 C498.0,201.1 500.0,202.2 502.0,203.4 C504.0,204.6 506.0,206.1 508.0,207.7 C510.0,209.3 512.0,211.1 514.0,213.0 C516.0,214.9 518.0,217.0 520.0,219.2 C522.0,221.3 524.0,223.6 526.0,225.8 C528.0,228.1 530.0,230.4 532.0,232.5 C534.0,234.7 536.0,236.8 538.0,238.7 C540.0,240.6 542.0,242.3 544.0,243.9 C546.0,245.6 548.0,247.0 550.0,248.5 C552.0,250.0 554.0,251.4 556.0,253.1 C558.0,254.7 560.0,256.7 562.0,258.3 C564.0,259.9 566.0,261.9 568.0,262.9 C570.0,263.8 572.0,264.3 574.0,264.0 C576.0,263.7 578.0,262.4 580.0,261.1 C582.0,259.8 584.0,257.9 586.0,256.2 C588.0,254.6 590.0,252.7 592.0,251.1 C594.0,249.5 596.0,248.0 598.0,246.7 C600.0,245.3 602.0,244.2 604.0,243.3 C606.0,242.4 608.0,241.6 610.0,241.1 C612.0,240.6 614.0,240.2 616.0,240.1 C618.0,239.9 620.0,240.0 622.0,240.2 C624.0,240.5 626.0,240.9 628.0,241.6 C630.0,242.3 632.0,243.1 634.0,244.2 C636.0,245.3 638.0,246.6 640.0,248.1 C642.0,249.6 644.0,251.3 646.0,253.1 C648.0,254.9 650.0,256.9 652.0,259.0 C654.0,261.0 656.0,263.2 658.0,265.4 C660.0,267.6 662.0,269.9 664.0,272.1 C666.0,274.2 668.0,276.5 670.0,278.5 C672.0,280.6 674.0,282.5 676.0,284.4 C678.0,286.2 680.0,287.9 682.0,289.5 C684.0,291.1 687.0,293.2 688.0,294.0" fill="none" stroke="#6f6c66" stroke-width="2.4" opacity="0.55" filter="url(#b1)" transform="translate(0,-1)"/>
<path d="M40.0,68.4 C41.0,68.3 44.0,67.7 46.0,67.6 C48.0,67.5 50.0,67.6 52.0,67.9 C54.0,68.1 56.0,68.5 58.0,69.1 C60.0,69.7 62.0,70.4 64.0,71.4 C66.0,72.3 68.0,73.5 70.0,74.8 C72.0,76.1 74.0,77.6 76.0,79.3 C78.0,80.9 80.0,82.7 82.0,84.6 C84.0,86.5 86.0,88.6 88.0,90.7 C90.0,92.8 92.0,95.0 94.0,97.2 C96.0,99.4 98.0,101.7 100.0,103.9 C102.0,106.0 104.0,108.2 106.0,110.2 C108.0,112.2 110.0,114.0 112.0,115.7 C114.0,117.4 116.0,118.9 118.0,120.5 C120.0,122.0 122.0,123.4 124.0,125.0 C126.0,126.6 128.0,128.2 130.0,129.9 C132.0,131.6 134.0,133.7 136.0,135.2 C138.0,136.7 140.0,138.3 142.0,139.0 C144.0,139.6 146.0,139.6 148.0,139.1 C150.0,138.6 152.0,137.3 154.0,136.1 C156.0,134.9 158.0,133.2 160.0,131.8 C162.0,130.4 164.0,128.8 166.0,127.4 C168.0,126.1 170.0,124.7 172.0,123.6 C174.0,122.5 176.0,121.6 178.0,120.8 C180.0,120.0 182.0,119.4 184.0,119.0 C186.0,118.6 188.0,118.3 190.0,118.2 C192.0,118.1 194.0,118.2 196.0,118.5 C198.0,118.8 200.0,119.2 202.0,119.8 C204.0,120.4 206.0,121.2 208.0,122.2 C210.0,123.2 212.0,124.3 214.0,125.7 C216.0,127.0 218.0,128.5 220.0,130.2 C222.0,131.8 224.0,133.7 226.0,135.6 C228.0,137.5 230.0,139.6 232.0,141.7 C234.0,143.8 236.0,146.1 238.0,148.3 C240.0,150.5 242.0,152.8 244.0,154.9 C246.0,157.1 248.0,159.2 250.0,161.2 C252.0,163.1 254.0,164.9 256.0,166.6 C258.0,168.3 260.0,169.8 262.0,171.3 C264.0,172.9 266.0,174.3 268.0,175.9 C270.0,177.5 272.0,179.1 274.0,180.9 C276.0,182.6 278.0,184.8 280.0,186.3 C282.0,187.8 284.0,189.3 286.0,189.8 C288.0,190.3 290.0,189.9 292.0,189.1 C294.0,188.4 296.0,186.7 298.0,185.2 C300.0,183.7 302.0,181.8 304.0,180.1 C306.0,178.5 308.0,176.7 310.0,175.2 C312.0,173.7 314.0,172.3 316.0,171.1 C318.0,169.9 320.0,168.9 322.0,168.2 C324.0,167.4 326.0,166.8 328.0,166.4 C330.0,166.0 332.0,165.9 334.0,165.9 C336.0,165.9 338.0,166.1 340.0,166.5 C342.0,166.9 344.0,167.5 346.0,168.3 C348.0,169.2 350.0,170.2 352.0,171.4 C354.0,172.7 356.0,174.2 358.0,175.8 C360.0,177.4 362.0,179.2 364.0,181.1 C366.0,183.0 368.0,185.1 370.0,187.3 C372.0,189.4 374.0,191.7 376.0,194.0 C378.0,196.2 380.0,198.5 382.0,200.6 C384.0,202.8 386.0,204.9 388.0,206.8 C390.0,208.7 392.0,210.4 394.0,212.0 C396.0,213.6 398.0,215.0 400.0,216.5 C402.0,218.1 404.0,219.5 406.0,221.1 C408.0,222.8 410.0,224.8 412.0,226.4 C414.0,228.0 416.0,230.0 418.0,230.9 C420.0,231.8 422.0,232.2 424.0,231.9 C426.0,231.5 428.0,230.2 430.0,228.8 C432.0,227.5 434.0,225.6 436.0,224.0 C438.0,222.3 440.0,220.5 442.0,218.9 C444.0,217.3 446.0,215.7 448.0,214.4 C450.0,213.1 452.0,212.0 454.0,211.1 C456.0,210.2 458.0,209.5 460.0,208.9 C462.0,208.4 464.0,208.1 466.0,208.0 C468.0,207.8 470.0,207.9 472.0,208.2 C474.0,208.4 476.0,208.9 478.0,209.6 C480.0,210.3 482.0,211.1 484.0,212.2 C486.0,213.3 488.0,214.7 490.0,216.1 C492.0,217.6 494.0,219.3 496.0,221.2 C498.0,223.0 500.0,225.0 502.0,227.0 C504.0,229.1 506.0,231.4 508.0,233.6 C510.0,235.8 512.0,238.1 514.0,240.3 C516.0,242.5 518.0,244.7 520.0,246.7 C522.0,248.7 524.0,250.6 526.0,252.3 C528.0,254.0 530.0,255.5 532.0,257.0 C534.0,258.5 536.0,259.9 538.0,261.5 C540.0,263.1 542.0,264.8 544.0,266.5 C546.0,268.2 548.0,270.3 550.0,271.6 C552.0,272.9 554.0,274.0 556.0,274.2 C558.0,274.3 560.0,273.4 562.0,272.4 C564.0,271.3 566.0,269.5 568.0,267.9 C570.0,266.3 572.0,264.5 574.0,262.8 C576.0,261.2 578.0,259.5 580.0,258.0 C582.0,256.6 584.0,255.3 586.0,254.3 C588.0,253.2 590.0,252.4 592.0,251.7 C594.0,251.0 596.0,250.6 598.0,250.3 C600.0,250.0 602.0,249.9 604.0,250.0 C606.0,250.2 608.0,250.5 610.0,251.0 C612.0,251.5 614.0,252.3 616.0,253.2 C618.0,254.1 620.0,255.3 622.0,256.7 C624.0,258.0 626.0,259.6 628.0,261.3 C630.0,263.1 632.0,265.0 634.0,266.9 C636.0,268.9 638.0,271.1 640.0,273.2 C642.0,275.4 644.0,277.6 646.0,279.8 C648.0,282.0 650.0,284.3 652.0,286.4 C654.0,288.5 656.0,290.6 658.0,292.5 C660.0,294.4 662.0,296.2 664.0,297.8 C666.0,299.5 668.0,301.0 670.0,302.5 C672.0,304.0 674.0,305.4 676.0,306.8 C678.0,308.2 680.0,309.5 682.0,310.9 C684.0,312.3 687.0,314.4 688.0,315.1" fill="none" stroke="#5f5c57" stroke-width="2.6" opacity="0.6" filter="url(#b1)" transform="translate(0,-1)"/>
<path d="M40.0,65.8 C41.0,65.2 44.0,63.2 46.0,62.1 C48.0,61.1 50.0,60.2 52.0,59.6 C54.0,58.9 56.0,58.4 58.0,58.1 C60.0,57.7 62.0,57.6 64.0,57.6 C66.0,57.6 68.0,57.8 70.0,58.2 C72.0,58.5 74.0,59.0 76.0,59.7 C78.0,60.4 80.0,61.3 82.0,62.4 C84.0,63.5 86.0,64.7 88.0,66.2 C90.0,67.6 92.0,69.2 94.0,71.0 C96.0,72.7 98.0,74.6 100.0,76.6 C102.0,78.6 104.0,80.7 106.0,82.8 C108.0,85.0 110.0,87.3 112.0,89.5 C114.0,91.7 116.0,93.9 118.0,96.0 C120.0,98.2 122.0,100.2 124.0,102.1 C126.0,104.0 128.0,105.7 130.0,107.3 C132.0,109.0 134.0,110.4 136.0,112.0 C138.0,113.5 140.0,115.0 142.0,116.6 C144.0,118.2 146.0,120.0 148.0,121.7 C150.0,123.4 152.0,125.5 154.0,126.8 C156.0,128.1 158.0,129.2 160.0,129.5 C162.0,129.7 164.0,129.2 166.0,128.4 C168.0,127.6 170.0,126.1 172.0,124.7 C174.0,123.4 176.0,121.8 178.0,120.3 C180.0,118.9 182.0,117.4 184.0,116.1 C186.0,114.8 188.0,113.6 190.0,112.6 C192.0,111.6 194.0,110.7 196.0,110.1 C198.0,109.4 200.0,108.9 202.0,108.6 C204.0,108.3 206.0,108.2 208.0,108.2 C210.0,108.2 212.0,108.4 214.0,108.8 C216.0,109.2 218.0,109.7 220.0,110.5 C222.0,111.2 224.0,112.1 226.0,113.2 C228.0,114.3 230.0,115.6 232.0,117.1 C234.0,118.5 236.0,120.2 238.0,121.9 C240.0,123.7 242.0,125.6 244.0,127.6 C246.0,129.6 248.0,131.7 250.0,133.9 C252.0,136.0 254.0,138.3 256.0,140.5 C258.0,142.7 260.0,145.0 262.0,147.1 C264.0,149.2 266.0,151.2 268.0,153.1 C270.0,155.0 272.0,156.6 274.0,158.2 C276.0,159.9 278.0,161.3 280.0,162.8 C282.0,164.3 284.0,165.8 286.0,167.5 C288.0,169.1 290.0,171.0 292.0,172.7 C294.0,174.4 296.0,176.6 298.0,177.8 C300.0,179.0 302.0,180.0 304.0,180.1 C306.0,180.1 308.0,179.2 310.0,178.1 C312.0,177.0 314.0,175.2 316.0,173.6 C318.0,171.9 320.0,170.1 322.0,168.4 C324.0,166.8 326.0,165.1 328.0,163.7 C330.0,162.3 332.0,161.0 334.0,160.0 C336.0,158.9 338.0,158.1 340.0,157.5 C342.0,156.8 344.0,156.4 346.0,156.1 C348.0,155.9 350.0,155.8 352.0,155.9 C354.0,156.1 356.0,156.4 358.0,157.0 C360.0,157.5 362.0,158.3 364.0,159.2 C366.0,160.2 368.0,161.4 370.0,162.8 C372.0,164.1 374.0,165.7 376.0,167.5 C378.0,169.2 380.0,171.1 382.0,173.1 C384.0,175.1 386.0,177.3 388.0,179.5 C390.0,181.7 392.0,184.0 394.0,186.2 C396.0,188.4 398.0,190.7 400.0,192.8 C402.0,194.9 404.0,196.9 406.0,198.6 C408.0,200.4 410.0,202.0 412.0,203.5 C414.0,205.1 416.0,206.5 418.0,208.0 C420.0,209.6 422.0,211.1 424.0,212.8 C426.0,214.5 428.0,216.6 430.0,218.1 C432.0,219.6 434.0,221.2 436.0,221.7 C438.0,222.2 440.0,221.9 442.0,221.2 C444.0,220.5 446.0,218.8 448.0,217.3 C450.0,215.8 452.0,213.9 454.0,212.2 C456.0,210.6 458.0,208.8 460.0,207.3 C462.0,205.8 464.0,204.4 466.0,203.2 C468.0,202.0 470.0,201.0 472.0,200.2 C474.0,199.5 476.0,198.9 478.0,198.5 C480.0,198.1 482.0,197.9 484.0,197.9 C486.0,197.9 488.0,198.1 490.0,198.5 C492.0,198.9 494.0,199.5 496.0,200.3 C498.0,201.1 500.0,202.2 502.0,203.4 C504.0,204.6 506.0,206.1 508.0,207.7 C510.0,209.3 512.0,211.1 514.0,213.0 C516.0,214.9 518.0,217.0 520.0,219.2 C522.0,221.3 524.0,223.6 526.0,225.8 C528.0,228.1 530.0,230.4 532.0,232.5 C534.0,234.7 536.0,236.8 538.0,238.7 C540.0,240.6 542.0,242.3 544.0,243.9 C546.0,245.6 548.0,247.0 550.0,248.5 C552.0,250.0 554.0,251.4 556.0,253.1 C558.0,254.7 560.0,256.7 562.0,258.3 C564.0,259.9 566.0,261.9 568.0,262.9 C570.0,263.8 572.0,264.3 574.0,264.0 C576.0,263.7 578.0,262.4 580.0,261.1 C582.0,259.8 584.0,257.9 586.0,256.2 C588.0,254.6 590.0,252.7 592.0,251.1 C594.0,249.5 596.0,248.0 598.0,246.7 C600.0,245.3 602.0,244.2 604.0,243.3 C606.0,242.4 608.0,241.6 610.0,241.1 C612.0,240.6 614.0,240.2 616.0,240.1 C618.0,239.9 620.0,240.0 622.0,240.2 C624.0,240.5 626.0,240.9 628.0,241.6 C630.0,242.3 632.0,243.1 634.0,244.2 C636.0,245.3 638.0,246.6 640.0,248.1 C642.0,249.6 644.0,251.3 646.0,253.1 C648.0,254.9 650.0,256.9 652.0,259.0 C654.0,261.0 656.0,263.2 658.0,265.4 C660.0,267.6 662.0,269.9 664.0,272.1 C666.0,274.2 668.0,276.5 670.0,278.5 C672.0,280.6 674.0,282.5 676.0,284.4 C678.0,286.2 680.0,287.9 682.0,289.5 C684.0,291.1 687.0,293.2 688.0,294.0" fill="none" stroke="#8f8c86" stroke-width="1.1" opacity="0.5"/>
<path d="M40.0,68.4 C41.0,68.3 44.0,67.7 46.0,67.6 C48.0,67.5 50.0,67.6 52.0,67.9 C54.0,68.1 56.0,68.5 58.0,69.1 C60.0,69.7 62.0,70.4 64.0,71.4 C66.0,72.3 68.0,73.5 70.0,74.8 C72.0,76.1 74.0,77.6 76.0,79.3 C78.0,80.9 80.0,82.7 82.0,84.6 C84.0,86.5 86.0,88.6 88.0,90.7 C90.0,92.8 92.0,95.0 94.0,97.2 C96.0,99.4 98.0,101.7 100.0,103.9 C102.0,106.0 104.0,108.2 106.0,110.2 C108.0,112.2 110.0,114.0 112.0,115.7 C114.0,117.4 116.0,118.9 118.0,120.5 C120.0,122.0 122.0,123.4 124.0,125.0 C126.0,126.6 128.0,128.2 130.0,129.9 C132.0,131.6 134.0,133.7 136.0,135.2 C138.0,136.7 140.0,138.3 142.0,139.0 C144.0,139.6 146.0,139.6 148.0,139.1 C150.0,138.6 152.0,137.3 154.0,136.1 C156.0,134.9 158.0,133.2 160.0,131.8 C162.0,130.4 164.0,128.8 166.0,127.4 C168.0,126.1 170.0,124.7 172.0,123.6 C174.0,122.5 176.0,121.6 178.0,120.8 C180.0,120.0 182.0,119.4 184.0,119.0 C186.0,118.6 188.0,118.3 190.0,118.2 C192.0,118.1 194.0,118.2 196.0,118.5 C198.0,118.8 200.0,119.2 202.0,119.8 C204.0,120.4 206.0,121.2 208.0,122.2 C210.0,123.2 212.0,124.3 214.0,125.7 C216.0,127.0 218.0,128.5 220.0,130.2 C222.0,131.8 224.0,133.7 226.0,135.6 C228.0,137.5 230.0,139.6 232.0,141.7 C234.0,143.8 236.0,146.1 238.0,148.3 C240.0,150.5 242.0,152.8 244.0,154.9 C246.0,157.1 248.0,159.2 250.0,161.2 C252.0,163.1 254.0,164.9 256.0,166.6 C258.0,168.3 260.0,169.8 262.0,171.3 C264.0,172.9 266.0,174.3 268.0,175.9 C270.0,177.5 272.0,179.1 274.0,180.9 C276.0,182.6 278.0,184.8 280.0,186.3 C282.0,187.8 284.0,189.3 286.0,189.8 C288.0,190.3 290.0,189.9 292.0,189.1 C294.0,188.4 296.0,186.7 298.0,185.2 C300.0,183.7 302.0,181.8 304.0,180.1 C306.0,178.5 308.0,176.7 310.0,175.2 C312.0,173.7 314.0,172.3 316.0,171.1 C318.0,169.9 320.0,168.9 322.0,168.2 C324.0,167.4 326.0,166.8 328.0,166.4 C330.0,166.0 332.0,165.9 334.0,165.9 C336.0,165.9 338.0,166.1 340.0,166.5 C342.0,166.9 344.0,167.5 346.0,168.3 C348.0,169.2 350.0,170.2 352.0,171.4 C354.0,172.7 356.0,174.2 358.0,175.8 C360.0,177.4 362.0,179.2 364.0,181.1 C366.0,183.0 368.0,185.1 370.0,187.3 C372.0,189.4 374.0,191.7 376.0,194.0 C378.0,196.2 380.0,198.5 382.0,200.6 C384.0,202.8 386.0,204.9 388.0,206.8 C390.0,208.7 392.0,210.4 394.0,212.0 C396.0,213.6 398.0,215.0 400.0,216.5 C402.0,218.1 404.0,219.5 406.0,221.1 C408.0,222.8 410.0,224.8 412.0,226.4 C414.0,228.0 416.0,230.0 418.0,230.9 C420.0,231.8 422.0,232.2 424.0,231.9 C426.0,231.5 428.0,230.2 430.0,228.8 C432.0,227.5 434.0,225.6 436.0,224.0 C438.0,222.3 440.0,220.5 442.0,218.9 C444.0,217.3 446.0,215.7 448.0,214.4 C450.0,213.1 452.0,212.0 454.0,211.1 C456.0,210.2 458.0,209.5 460.0,208.9 C462.0,208.4 464.0,208.1 466.0,208.0 C468.0,207.8 470.0,207.9 472.0,208.2 C474.0,208.4 476.0,208.9 478.0,209.6 C480.0,210.3 482.0,211.1 484.0,212.2 C486.0,213.3 488.0,214.7 490.0,216.1 C492.0,217.6 494.0,219.3 496.0,221.2 C498.0,223.0 500.0,225.0 502.0,227.0 C504.0,229.1 506.0,231.4 508.0,233.6 C510.0,235.8 512.0,238.1 514.0,240.3 C516.0,242.5 518.0,244.7 520.0,246.7 C522.0,248.7 524.0,250.6 526.0,252.3 C528.0,254.0 530.0,255.5 532.0,257.0 C534.0,258.5 536.0,259.9 538.0,261.5 C540.0,263.1 542.0,264.8 544.0,266.5 C546.0,268.2 548.0,270.3 550.0,271.6 C552.0,272.9 554.0,274.0 556.0,274.2 C558.0,274.3 560.0,273.4 562.0,272.4 C564.0,271.3 566.0,269.5 568.0,267.9 C570.0,266.3 572.0,264.5 574.0,262.8 C576.0,261.2 578.0,259.5 580.0,258.0 C582.0,256.6 584.0,255.3 586.0,254.3 C588.0,253.2 590.0,252.4 592.0,251.7 C594.0,251.0 596.0,250.6 598.0,250.3 C600.0,250.0 602.0,249.9 604.0,250.0 C606.0,250.2 608.0,250.5 610.0,251.0 C612.0,251.5 614.0,252.3 616.0,253.2 C618.0,254.1 620.0,255.3 622.0,256.7 C624.0,258.0 626.0,259.6 628.0,261.3 C630.0,263.1 632.0,265.0 634.0,266.9 C636.0,268.9 638.0,271.1 640.0,273.2 C642.0,275.4 644.0,277.6 646.0,279.8 C648.0,282.0 650.0,284.3 652.0,286.4 C654.0,288.5 656.0,290.6 658.0,292.5 C660.0,294.4 662.0,296.2 664.0,297.8 C666.0,299.5 668.0,301.0 670.0,302.5 C672.0,304.0 674.0,305.4 676.0,306.8 C678.0,308.2 680.0,309.5 682.0,310.9 C684.0,312.3 687.0,314.4 688.0,315.1" fill="none" stroke="#7d7a74" stroke-width="1.2" opacity="0.6"/>
<rect x="40" y="0" width="80" height="200" fill="url(#gLPleft)"/>
</g>
<path d="M302.9,144.2 C304.8,144.4 309.1,143.9 314.0,145.5 C318.9,147.1 327.6,151.1 332.4,154.0 C337.2,156.9 338.5,159.7 342.9,163.2 C347.3,166.7 351.6,171.7 358.6,175.0 C365.6,178.3 376.1,180.9 384.8,182.9 C393.5,184.9 402.3,185.5 411.0,186.8 C419.7,188.1 428.9,189.1 437.2,190.7 C445.5,192.3 456.0,194.9 460.7,196.6 C465.4,198.3 464.7,200.3 465.5,201.0 L466.5,224.0 C466.1,227.2 465.0,239.4 464.0,243.0 C463.0,246.6 465.2,245.9 460.7,245.7 C456.2,245.5 445.5,243.1 437.2,241.8 C428.9,240.5 419.7,239.0 411.0,237.9 C402.3,236.8 392.4,236.8 384.8,235.3 C377.2,233.8 370.6,231.3 365.1,228.7 C359.6,226.1 356.4,222.8 352.0,219.5 C347.6,216.2 343.3,211.7 338.9,209.1 C334.5,206.5 331.2,205.3 325.8,203.8 C320.4,202.3 309.9,201.2 306.2,199.9 C302.5,198.6 304.0,196.7 303.6,196.0 Z" fill="#5f5c57" opacity="0.55" filter="url(#b4)" transform="translate(1,7)"/>
<path d="M302.9,144.2 C304.8,144.4 309.1,143.9 314.0,145.5 C318.9,147.1 327.6,151.1 332.4,154.0 C337.2,156.9 338.5,159.7 342.9,163.2 C347.3,166.7 351.6,171.7 358.6,175.0 C365.6,178.3 376.1,180.9 384.8,182.9 C393.5,184.9 402.3,185.5 411.0,186.8 C419.7,188.1 428.9,189.1 437.2,190.7 C445.5,192.3 456.0,194.9 460.7,196.6 C465.4,198.3 464.7,200.3 465.5,201.0 L466.5,224.0 C466.1,227.2 465.0,239.4 464.0,243.0 C463.0,246.6 465.2,245.9 460.7,245.7 C456.2,245.5 445.5,243.1 437.2,241.8 C428.9,240.5 419.7,239.0 411.0,237.9 C402.3,236.8 392.4,236.8 384.8,235.3 C377.2,233.8 370.6,231.3 365.1,228.7 C359.6,226.1 356.4,222.8 352.0,219.5 C347.6,216.2 343.3,211.7 338.9,209.1 C334.5,206.5 331.2,205.3 325.8,203.8 C320.4,202.3 309.9,201.2 306.2,199.9 C302.5,198.6 304.0,196.7 303.6,196.0 Z" fill="url(#gHand)" stroke="#f6f6f7" stroke-width="2"/>
<g clip-path="url(#cpHand)"><rect x="300" y="140" width="170" height="110" fill="url(#dotsL)" opacity="0.6"/>
<polygon points="430,188 468,198 468,248 430,244" fill="url(#goldL)" opacity="0.6"/>
</g>
<path d="M307,149 L334,168 L334,201 L308,196 Z M308,196 L334,168" fill="none" stroke="#b4b2ae" stroke-width="1"/>
<path d="M430,192 L462,200 L461,243 L431,238 Z M431,238 L461,212" fill="none" stroke="#b4b2ae" stroke-width="1"/>
<path d="M334.0,157.0 C335.7,158.5 339.8,162.6 344.0,166.0 C348.2,169.4 352.2,174.2 359.0,177.5 C365.8,180.8 376.3,183.5 385.0,185.5 C393.7,187.5 402.3,188.2 411.0,189.5 C419.7,190.8 432.7,192.8 437.0,193.5" fill="none" stroke="#ffffff" stroke-width="2.6" opacity="0.85"/>
<path d="M60.0,8.3 C66.7,10.1 86.7,15.4 100.0,19.0 C113.3,22.6 126.7,26.2 140.0,29.8 C153.3,33.4 166.7,36.9 180.0,40.7 C193.3,44.5 206.7,48.6 220.0,52.8 C233.3,57.0 246.7,61.6 260.0,65.9 C273.3,70.3 286.7,74.7 300.0,79.1 C313.3,83.5 326.7,87.9 340.0,92.4 C353.3,96.8 366.7,101.2 380.0,105.6 C393.3,110.0 406.7,114.5 420.0,118.9 C433.3,123.3 446.7,127.7 460.0,132.1 C473.3,136.6 486.7,141.0 500.0,145.4 C513.3,149.8 526.7,154.3 540.0,158.7 C553.3,163.1 566.7,167.5 580.0,171.9 C593.3,176.4 606.7,180.8 620.0,185.2 C633.3,189.6 652.2,195.8 660.0,198.4 C667.8,201.0 665.8,200.4 667.0,200.8" fill="none" stroke="#85858c" stroke-width="2" opacity="0.75"/>
<path d="M46.0,-3.0 C48.3,-2.4 51.0,-1.6 60.0,0.8 C69.0,3.2 86.7,7.9 100.0,11.5 C113.3,15.1 126.7,18.7 140.0,22.3 C153.3,25.9 166.7,29.4 180.0,33.2 C193.3,37.0 206.7,41.1 220.0,45.3 C233.3,49.5 246.7,54.1 260.0,58.4 C273.3,62.8 286.7,67.2 300.0,71.6 C313.3,76.0 326.7,80.4 340.0,84.9 C353.3,89.3 366.7,93.7 380.0,98.1 C393.3,102.5 406.7,107.0 420.0,111.4 C433.3,115.8 446.7,120.2 460.0,124.6 C473.3,129.1 486.7,133.5 500.0,137.9 C513.3,142.3 526.7,146.8 540.0,151.2 C553.3,155.6 566.7,160.0 580.0,164.4 C593.3,168.9 606.7,173.3 620.0,177.7 C633.3,182.1 652.2,188.3 660.0,190.9 C667.8,193.5 665.8,192.9 667.0,193.3" fill="none" stroke="#b9aa96" stroke-width="12.7" stroke-linecap="round"/>
<path d="M46.0,-3.0 C48.3,-2.4 51.0,-1.6 60.0,0.8 C69.0,3.2 86.7,7.9 100.0,11.5 C113.3,15.1 126.7,18.7 140.0,22.3 C153.3,25.9 166.7,29.4 180.0,33.2 C193.3,37.0 206.7,41.1 220.0,45.3 C233.3,49.5 246.7,54.1 260.0,58.4 C273.3,62.8 286.7,67.2 300.0,71.6 C313.3,76.0 326.7,80.4 340.0,84.9 C353.3,89.3 366.7,93.7 380.0,98.1 C393.3,102.5 406.7,107.0 420.0,111.4 C433.3,115.8 446.7,120.2 460.0,124.6 C473.3,129.1 486.7,133.5 500.0,137.9 C513.3,142.3 526.7,146.8 540.0,151.2 C553.3,155.6 566.7,160.0 580.0,164.4 C593.3,168.9 606.7,173.3 620.0,177.7 C633.3,182.1 652.2,188.3 660.0,190.9 C667.8,193.5 665.8,192.9 667.0,193.3" fill="none" stroke="url(#pipeL)" stroke-width="11.5" stroke-linecap="round"/>
<path d="M46.0,-3.0 C48.3,-2.4 51.0,-1.6 60.0,0.8 C69.0,3.2 86.7,7.9 100.0,11.5 C113.3,15.1 126.7,18.7 140.0,22.3 C153.3,25.9 166.7,29.4 180.0,33.2 C193.3,37.0 206.7,41.1 220.0,45.3 C233.3,49.5 246.7,54.1 260.0,58.4 C273.3,62.8 286.7,67.2 300.0,71.6 C313.3,76.0 326.7,80.4 340.0,84.9 C353.3,89.3 366.7,93.7 380.0,98.1 C393.3,102.5 406.7,107.0 420.0,111.4 C433.3,115.8 446.7,120.2 460.0,124.6 C473.3,129.1 486.7,133.5 500.0,137.9 C513.3,142.3 526.7,146.8 540.0,151.2 C553.3,155.6 566.7,160.0 580.0,164.4 C593.3,168.9 606.7,173.3 620.0,177.7 C633.3,182.1 652.2,188.3 660.0,190.9 C667.8,193.5 665.8,192.9 667.0,193.3" fill="none" stroke="#ffffff" stroke-width="4.0" opacity="0.35" stroke-linecap="round"/>
<path d="M84.0,180.0 C85.3,181.0 87.7,184.1 92.0,186.0 C96.3,187.9 100.3,188.1 110.0,191.3 C119.7,194.5 136.7,200.6 150.0,205.2 C163.3,209.8 176.7,214.5 190.0,219.1 C203.3,223.7 216.7,228.3 230.0,233.0 C243.3,237.6 256.7,242.2 270.0,246.8 C283.3,251.5 296.7,256.1 310.0,260.7 C323.3,265.4 336.7,270.0 350.0,274.6 C363.3,279.2 376.7,283.9 390.0,288.5 C403.3,293.1 416.7,297.7 430.0,302.4 C443.3,307.0 456.7,311.6 470.0,316.2 C483.3,320.9 496.7,325.5 510.0,330.1 C523.3,334.8 536.7,339.4 550.0,344.0 C563.3,348.6 576.7,353.3 590.0,357.9 C603.3,362.5 616.8,367.2 630.0,371.8 C643.2,376.3 662.5,383.0 669.0,385.3" fill="none" stroke="#b9aa96" stroke-width="9.7" stroke-linecap="round"/>
<path d="M84.0,180.0 C85.3,181.0 87.7,184.1 92.0,186.0 C96.3,187.9 100.3,188.1 110.0,191.3 C119.7,194.5 136.7,200.6 150.0,205.2 C163.3,209.8 176.7,214.5 190.0,219.1 C203.3,223.7 216.7,228.3 230.0,233.0 C243.3,237.6 256.7,242.2 270.0,246.8 C283.3,251.5 296.7,256.1 310.0,260.7 C323.3,265.4 336.7,270.0 350.0,274.6 C363.3,279.2 376.7,283.9 390.0,288.5 C403.3,293.1 416.7,297.7 430.0,302.4 C443.3,307.0 456.7,311.6 470.0,316.2 C483.3,320.9 496.7,325.5 510.0,330.1 C523.3,334.8 536.7,339.4 550.0,344.0 C563.3,348.6 576.7,353.3 590.0,357.9 C603.3,362.5 616.8,367.2 630.0,371.8 C643.2,376.3 662.5,383.0 669.0,385.3" fill="none" stroke="url(#pipeL)" stroke-width="8.5" stroke-linecap="round"/>
<path d="M84.0,180.0 C85.3,181.0 87.7,184.1 92.0,186.0 C96.3,187.9 100.3,188.1 110.0,191.3 C119.7,194.5 136.7,200.6 150.0,205.2 C163.3,209.8 176.7,214.5 190.0,219.1 C203.3,223.7 216.7,228.3 230.0,233.0 C243.3,237.6 256.7,242.2 270.0,246.8 C283.3,251.5 296.7,256.1 310.0,260.7 C323.3,265.4 336.7,270.0 350.0,274.6 C363.3,279.2 376.7,283.9 390.0,288.5 C403.3,293.1 416.7,297.7 430.0,302.4 C443.3,307.0 456.7,311.6 470.0,316.2 C483.3,320.9 496.7,325.5 510.0,330.1 C523.3,334.8 536.7,339.4 550.0,344.0 C563.3,348.6 576.7,353.3 590.0,357.9 C603.3,362.5 616.8,367.2 630.0,371.8 C643.2,376.3 662.5,383.0 669.0,385.3" fill="none" stroke="#ffffff" stroke-width="3.0" opacity="0.35" stroke-linecap="round"/>
<polygon points="664.0,194.0 673.0,189.0 673.0,352.0 677.0,386.0 668.0,388.0 666.0,300.0" fill="url(#gFlap)" />
<g clip-path="url(#cpRP)">
<polygon points="1392.6,427.0 1440.0,443.5 1480.0,457.0 1520.0,469.2 1560.0,481.4 1600.0,493.6 1640.0,505.8 1682.0,518.5 1703.0,523.0 1715.8,524.5 1714.5,640.0 1712.0,729.6 1711.0,729.6 1700.0,728.5 1677.9,724.4 1640.0,714.9 1600.0,700.0 1560.0,684.7 1520.0,671.3 1474.7,656.3 1440.0,644.6 1390.4,627.9" fill="url(#gRP)" />
<path d="M1385.0,502.0 C1386.8,501.9 1390.4,501.7 1395.7,501.3 C1401.0,500.9 1411.2,498.9 1416.9,499.5 C1422.6,500.1 1425.4,502.2 1430.0,505.0 C1434.6,507.8 1439.8,511.7 1444.5,516.0 C1449.2,520.3 1453.4,525.8 1458.0,531.0 C1462.6,536.2 1466.6,541.6 1472.0,547.4 C1477.4,553.2 1484.4,560.9 1490.6,565.8 C1496.8,570.7 1503.2,574.8 1509.0,576.9 C1514.8,579.0 1520.1,579.4 1525.6,578.7 C1531.1,578.1 1537.1,575.1 1542.0,573.0 C1546.9,570.9 1548.8,568.2 1555.0,565.8 C1561.2,563.4 1572.3,559.2 1579.0,558.5 C1585.7,557.8 1589.8,559.7 1595.0,561.5 C1600.2,563.3 1603.2,563.9 1610.4,569.5 C1617.6,575.1 1630.4,588.4 1638.0,595.3 C1645.6,602.2 1649.8,605.8 1656.0,611.0 C1662.2,616.2 1669.3,623.1 1675.0,626.7 C1680.7,630.3 1685.1,631.0 1690.0,632.5 C1694.9,634.0 1700.2,635.6 1704.4,635.9 C1708.6,636.1 1712.5,634.5 1715.4,634.0 C1718.3,633.5 1720.9,633.2 1722.0,633.0" fill="none" stroke="#7f7f86" stroke-width="11" opacity="0.42" filter="url(#b4)" transform="translate(0,-4)"/>
<g clip-path="url(#cpRRib)">
<rect x="1380" y="400" width="350" height="360" fill="#efeff1" opacity="0.55"/>
<path d="M1385.0,502.0 C1386.8,501.9 1390.4,501.7 1395.7,501.3 C1401.0,500.9 1411.2,498.9 1416.9,499.5 C1422.6,500.1 1425.4,502.2 1430.0,505.0 C1434.6,507.8 1439.8,511.7 1444.5,516.0 C1449.2,520.3 1453.4,525.8 1458.0,531.0 C1462.6,536.2 1466.6,541.6 1472.0,547.4 C1477.4,553.2 1484.4,560.9 1490.6,565.8 C1496.8,570.7 1503.2,574.8 1509.0,576.9 C1514.8,579.0 1520.1,579.4 1525.6,578.7 C1531.1,578.1 1537.1,575.1 1542.0,573.0 C1546.9,570.9 1548.8,568.2 1555.0,565.8 C1561.2,563.4 1572.3,559.2 1579.0,558.5 C1585.7,557.8 1589.8,559.7 1595.0,561.5 C1600.2,563.3 1603.2,563.9 1610.4,569.5 C1617.6,575.1 1630.4,588.4 1638.0,595.3 C1645.6,602.2 1649.8,605.8 1656.0,611.0 C1662.2,616.2 1669.3,623.1 1675.0,626.7 C1680.7,630.3 1685.1,631.0 1690.0,632.5 C1694.9,634.0 1700.2,635.6 1704.4,635.9 C1708.6,636.1 1712.5,634.5 1715.4,634.0 C1718.3,633.5 1720.9,633.2 1722.0,633.0" fill="none" stroke="#ffffff" stroke-width="8" opacity="0.6" filter="url(#b3)" transform="translate(0,6)"/>
<path d="M1385.0,516.0 C1386.5,516.0 1389.7,515.7 1393.8,516.0 C1397.9,516.3 1405.5,516.4 1409.5,517.9 C1413.5,519.4 1415.2,521.9 1418.0,525.0 C1420.8,528.1 1422.3,531.5 1426.0,536.3 C1429.7,541.1 1435.4,548.5 1440.0,554.0 C1444.6,559.5 1448.4,564.8 1453.7,569.5 C1459.0,574.2 1465.8,579.3 1472.0,582.4 C1478.2,585.5 1486.0,587.1 1490.6,588.0 C1495.2,588.9 1495.2,589.5 1499.8,588.0 C1504.4,586.5 1512.0,581.5 1518.2,578.7 C1524.4,575.9 1530.6,573.1 1536.7,571.4 C1542.8,569.7 1549.8,568.5 1555.0,568.6 C1560.2,568.7 1563.4,570.0 1568.0,572.0 C1572.6,574.0 1575.6,575.5 1582.7,580.6 C1589.8,585.7 1601.2,595.0 1610.4,602.7 C1619.6,610.4 1628.8,620.0 1638.0,626.7 C1647.2,633.5 1658.0,639.5 1665.7,643.2 C1673.4,646.9 1678.3,648.3 1684.0,648.8 C1689.7,649.3 1695.4,647.2 1700.0,646.0 C1704.6,644.8 1708.0,642.7 1711.7,641.4 C1715.4,640.1 1720.3,638.6 1722.0,638.0" fill="none" stroke="#77777e" stroke-width="10" opacity="0.45" filter="url(#b4)" transform="translate(0,-3)"/>
</g>
<g clip-path="url(#cpRPad)">
<rect x="1380" y="400" width="350" height="360" fill="#f1f1f2" opacity="0.0"/>
<path d="M1385.0,516.0 C1386.5,516.0 1389.7,515.7 1393.8,516.0 C1397.9,516.3 1405.5,516.4 1409.5,517.9 C1413.5,519.4 1415.2,521.9 1418.0,525.0 C1420.8,528.1 1422.3,531.5 1426.0,536.3 C1429.7,541.1 1435.4,548.5 1440.0,554.0 C1444.6,559.5 1448.4,564.8 1453.7,569.5 C1459.0,574.2 1465.8,579.3 1472.0,582.4 C1478.2,585.5 1486.0,587.1 1490.6,588.0 C1495.2,588.9 1495.2,589.5 1499.8,588.0 C1504.4,586.5 1512.0,581.5 1518.2,578.7 C1524.4,575.9 1530.6,573.1 1536.7,571.4 C1542.8,569.7 1549.8,568.5 1555.0,568.6 C1560.2,568.7 1563.4,570.0 1568.0,572.0 C1572.6,574.0 1575.6,575.5 1582.7,580.6 C1589.8,585.7 1601.2,595.0 1610.4,602.7 C1619.6,610.4 1628.8,620.0 1638.0,626.7 C1647.2,633.5 1658.0,639.5 1665.7,643.2 C1673.4,646.9 1678.3,648.3 1684.0,648.8 C1689.7,649.3 1695.4,647.2 1700.0,646.0 C1704.6,644.8 1708.0,642.7 1711.7,641.4 C1715.4,640.1 1720.3,638.6 1722.0,638.0" fill="none" stroke="#ffffff" stroke-width="10" opacity="0.32" filter="url(#b4)" transform="translate(0,8)"/>
</g>
<path d="M1385.0,502.0 C1386.8,501.9 1390.4,501.7 1395.7,501.3 C1401.0,500.9 1411.2,498.9 1416.9,499.5 C1422.6,500.1 1425.4,502.2 1430.0,505.0 C1434.6,507.8 1439.8,511.7 1444.5,516.0 C1449.2,520.3 1453.4,525.8 1458.0,531.0 C1462.6,536.2 1466.6,541.6 1472.0,547.4 C1477.4,553.2 1484.4,560.9 1490.6,565.8 C1496.8,570.7 1503.2,574.8 1509.0,576.9 C1514.8,579.0 1520.1,579.4 1525.6,578.7 C1531.1,578.1 1537.1,575.1 1542.0,573.0 C1546.9,570.9 1548.8,568.2 1555.0,565.8 C1561.2,563.4 1572.3,559.2 1579.0,558.5 C1585.7,557.8 1589.8,559.7 1595.0,561.5 C1600.2,563.3 1603.2,563.9 1610.4,569.5 C1617.6,575.1 1630.4,588.4 1638.0,595.3 C1645.6,602.2 1649.8,605.8 1656.0,611.0 C1662.2,616.2 1669.3,623.1 1675.0,626.7 C1680.7,630.3 1685.1,631.0 1690.0,632.5 C1694.9,634.0 1700.2,635.6 1704.4,635.9 C1708.6,636.1 1712.5,634.5 1715.4,634.0 C1718.3,633.5 1720.9,633.2 1722.0,633.0" fill="none" stroke="#a2a2a8" stroke-width="1.2" opacity="0.5"/>
<path d="M1385.0,516.0 C1386.5,516.0 1389.7,515.7 1393.8,516.0 C1397.9,516.3 1405.5,516.4 1409.5,517.9 C1413.5,519.4 1415.2,521.9 1418.0,525.0 C1420.8,528.1 1422.3,531.5 1426.0,536.3 C1429.7,541.1 1435.4,548.5 1440.0,554.0 C1444.6,559.5 1448.4,564.8 1453.7,569.5 C1459.0,574.2 1465.8,579.3 1472.0,582.4 C1478.2,585.5 1486.0,587.1 1490.6,588.0 C1495.2,588.9 1495.2,589.5 1499.8,588.0 C1504.4,586.5 1512.0,581.5 1518.2,578.7 C1524.4,575.9 1530.6,573.1 1536.7,571.4 C1542.8,569.7 1549.8,568.5 1555.0,568.6 C1560.2,568.7 1563.4,570.0 1568.0,572.0 C1572.6,574.0 1575.6,575.5 1582.7,580.6 C1589.8,585.7 1601.2,595.0 1610.4,602.7 C1619.6,610.4 1628.8,620.0 1638.0,626.7 C1647.2,633.5 1658.0,639.5 1665.7,643.2 C1673.4,646.9 1678.3,648.3 1684.0,648.8 C1689.7,649.3 1695.4,647.2 1700.0,646.0 C1704.6,644.8 1708.0,642.7 1711.7,641.4 C1715.4,640.1 1720.3,638.6 1722.0,638.0" fill="none" stroke="#9a9aa0" stroke-width="1.4" opacity="0.55"/>
<rect x="1380" y="400" width="350" height="350" fill="url(#dotsR)"/>
<rect x="1640" y="400" width="80" height="350" fill="url(#gRPcorner)"/>
</g>
<g clip-path="url(#cpRF)">
<polygon points="1715.8,524.5 1726.0,518.0 1760.0,497.5 1800.0,476.7 1840.0,458.8 1880.0,441.0 1900.0,431.0 1900.0,633.0 1849.8,659.9 1820.0,677.0 1772.6,702.6 1734.7,720.6 1722.0,726.5 1711.0,729.6" fill="url(#gRF)" />
<path d="M1710.0,626.0 C1711.0,625.4 1712.9,624.7 1715.9,622.2 C1718.9,619.7 1722.8,617.2 1728.0,611.0 C1733.2,604.8 1741.2,592.6 1746.8,584.8 C1752.4,577.0 1756.1,569.2 1761.7,564.2 C1767.3,559.2 1773.5,555.7 1780.4,554.8 C1787.3,553.9 1796.0,556.7 1802.9,558.6 C1809.8,560.5 1815.7,564.4 1821.6,566.0 C1827.5,567.6 1832.8,569.2 1838.4,568.0 C1844.0,566.8 1850.3,563.3 1855.3,558.6 C1860.3,553.9 1864.4,546.1 1868.4,539.9 C1872.5,533.7 1875.9,526.8 1879.6,521.2 C1883.3,515.6 1887.4,510.3 1890.8,506.2 C1894.2,502.1 1896.8,499.8 1900.0,496.8 C1903.2,493.8 1908.3,489.5 1910.0,488.0" fill="none" stroke="#8d8d94" stroke-width="9" opacity="0.32" filter="url(#b4)" transform="translate(0,-3)"/>
<g clip-path="url(#cpFRib)">
<rect x="1700" y="400" width="210" height="360" fill="#f2f2f3" opacity="0.45"/>
<path d="M1710.0,634.0 C1711.0,633.3 1712.9,632.3 1715.9,629.7 C1718.9,627.1 1723.5,623.4 1728.0,618.4 C1732.5,613.4 1738.3,604.1 1743.0,599.7 C1747.7,595.4 1750.7,593.2 1756.0,592.3 C1761.3,591.4 1769.5,592.5 1774.8,594.1 C1780.1,595.7 1782.9,599.7 1787.9,601.6 C1792.9,603.5 1799.2,605.7 1804.8,605.4 C1810.4,605.1 1815.7,603.1 1821.6,599.7 C1827.5,596.3 1834.1,591.6 1840.3,584.8 C1846.5,577.9 1853.7,566.7 1859.0,558.6 C1864.3,550.5 1867.4,542.0 1872.1,536.1 C1876.8,530.2 1882.4,525.8 1887.1,523.0 C1891.8,520.2 1896.2,520.3 1900.0,519.3 C1903.8,518.3 1908.3,517.4 1910.0,517.0" fill="none" stroke="#85858c" stroke-width="9" opacity="0.35" filter="url(#b4)" transform="translate(0,-3)"/>
</g>
<g clip-path="url(#cpFPad)">
<rect x="1700" y="400" width="210" height="360" fill="#f4f4f5" opacity="0.0"/>
<path d="M1710.0,634.0 C1711.0,633.3 1712.9,632.3 1715.9,629.7 C1718.9,627.1 1723.5,623.4 1728.0,618.4 C1732.5,613.4 1738.3,604.1 1743.0,599.7 C1747.7,595.4 1750.7,593.2 1756.0,592.3 C1761.3,591.4 1769.5,592.5 1774.8,594.1 C1780.1,595.7 1782.9,599.7 1787.9,601.6 C1792.9,603.5 1799.2,605.7 1804.8,605.4 C1810.4,605.1 1815.7,603.1 1821.6,599.7 C1827.5,596.3 1834.1,591.6 1840.3,584.8 C1846.5,577.9 1853.7,566.7 1859.0,558.6 C1864.3,550.5 1867.4,542.0 1872.1,536.1 C1876.8,530.2 1882.4,525.8 1887.1,523.0 C1891.8,520.2 1896.2,520.3 1900.0,519.3 C1903.8,518.3 1908.3,517.4 1910.0,517.0" fill="none" stroke="#ffffff" stroke-width="9" opacity="0.32" filter="url(#b4)" transform="translate(0,7)"/>
</g>
<rect x="1700" y="400" width="210" height="350" fill="url(#dotsRR)"/>
<path d="M1710.0,626.0 C1711.0,625.4 1712.9,624.7 1715.9,622.2 C1718.9,619.7 1722.8,617.2 1728.0,611.0 C1733.2,604.8 1741.2,592.6 1746.8,584.8 C1752.4,577.0 1756.1,569.2 1761.7,564.2 C1767.3,559.2 1773.5,555.7 1780.4,554.8 C1787.3,553.9 1796.0,556.7 1802.9,558.6 C1809.8,560.5 1815.7,564.4 1821.6,566.0 C1827.5,567.6 1832.8,569.2 1838.4,568.0 C1844.0,566.8 1850.3,563.3 1855.3,558.6 C1860.3,553.9 1864.4,546.1 1868.4,539.9 C1872.5,533.7 1875.9,526.8 1879.6,521.2 C1883.3,515.6 1887.4,510.3 1890.8,506.2 C1894.2,502.1 1896.8,499.8 1900.0,496.8 C1903.2,493.8 1908.3,489.5 1910.0,488.0" fill="none" stroke="#adadb3" stroke-width="1.1" opacity="0.5"/>
<path d="M1710.0,634.0 C1711.0,633.3 1712.9,632.3 1715.9,629.7 C1718.9,627.1 1723.5,623.4 1728.0,618.4 C1732.5,613.4 1738.3,604.1 1743.0,599.7 C1747.7,595.4 1750.7,593.2 1756.0,592.3 C1761.3,591.4 1769.5,592.5 1774.8,594.1 C1780.1,595.7 1782.9,599.7 1787.9,601.6 C1792.9,603.5 1799.2,605.7 1804.8,605.4 C1810.4,605.1 1815.7,603.1 1821.6,599.7 C1827.5,596.3 1834.1,591.6 1840.3,584.8 C1846.5,577.9 1853.7,566.7 1859.0,558.6 C1864.3,550.5 1867.4,542.0 1872.1,536.1 C1876.8,530.2 1882.4,525.8 1887.1,523.0 C1891.8,520.2 1896.2,520.3 1900.0,519.3 C1903.8,518.3 1908.3,517.4 1910.0,517.0" fill="none" stroke="#a5a5ab" stroke-width="1.2" opacity="0.5"/>
</g>
<path d="M1714.2,532 L1713.6,727" stroke="#a7a7ad" stroke-width="1.6"/>
<path d="M1716.2,532 L1715.6,727" stroke="#f8f8f9" stroke-width="1.6" opacity="0.8"/>
<path d="M1843.0,182.0 C1842.5,182.5 1845.4,182.1 1839.8,185.2 C1834.2,188.2 1823.0,194.0 1809.5,200.3 C1796.0,206.6 1775.8,215.4 1759.0,223.0 C1742.2,230.6 1725.2,237.8 1708.4,245.8 C1691.6,253.8 1674.7,262.6 1657.9,271.0 C1641.1,279.4 1624.2,287.9 1607.4,296.3 C1590.6,304.7 1573.7,313.2 1556.8,321.6 C1539.9,330.0 1520.8,339.8 1506.3,346.9 C1491.8,354.0 1480.5,358.5 1470.0,364.0 C1459.5,369.5 1451.9,374.0 1443.2,379.7 C1434.5,385.4 1425.2,392.5 1418.0,398.0 C1410.8,403.5 1403.2,410.1 1400.2,412.5" fill="none" stroke="#5fa8d6" stroke-width="6" opacity="0.35" filter="url(#b3)" transform="translate(-3,-1)"/>
<g clip-path="url(#cpTopR)">
<path d="M1843.0,182.0 C1842.5,182.5 1845.4,182.1 1839.8,185.2 C1834.2,188.2 1823.0,194.0 1809.5,200.3 C1796.0,206.6 1775.8,215.4 1759.0,223.0 C1742.2,230.6 1725.2,237.8 1708.4,245.8 C1691.6,253.8 1674.7,262.6 1657.9,271.0 C1641.1,279.4 1624.2,287.9 1607.4,296.3 C1590.6,304.7 1573.7,313.2 1556.8,321.6 C1539.9,330.0 1520.8,339.8 1506.3,346.9 C1491.8,354.0 1480.5,358.5 1470.0,364.0 C1459.5,369.5 1451.9,374.0 1443.2,379.7 C1434.5,385.4 1425.2,392.5 1418.0,398.0 C1410.8,403.5 1403.2,410.1 1400.2,412.5" fill="none" stroke="#fcfcfc" stroke-width="12" opacity="0.95" filter="url(#b3)" transform="translate(7,4)"/>
<path d="M1843.0,182.0 C1842.5,182.5 1845.4,182.1 1839.8,185.2 C1834.2,188.2 1823.0,194.0 1809.5,200.3 C1796.0,206.6 1775.8,215.4 1759.0,223.0 C1742.2,230.6 1725.2,237.8 1708.4,245.8 C1691.6,253.8 1674.7,262.6 1657.9,271.0 C1641.1,279.4 1624.2,287.9 1607.4,296.3 C1590.6,304.7 1573.7,313.2 1556.8,321.6 C1539.9,330.0 1520.8,339.8 1506.3,346.9 C1491.8,354.0 1480.5,358.5 1470.0,364.0 C1459.5,369.5 1451.9,374.0 1443.2,379.7 C1434.5,385.4 1425.2,392.5 1418.0,398.0 C1410.8,403.5 1403.2,410.1 1400.2,412.5" fill="none" stroke="#d9d9dc" stroke-width="14" opacity="0.35" filter="url(#b6)" transform="translate(30,16)"/>
</g>
<path d="M1843.0,182.0 C1842.5,182.5 1845.4,182.1 1839.8,185.2 C1834.2,188.2 1823.0,194.0 1809.5,200.3 C1796.0,206.6 1775.8,215.4 1759.0,223.0 C1742.2,230.6 1725.2,237.8 1708.4,245.8 C1691.6,253.8 1674.7,262.6 1657.9,271.0 C1641.1,279.4 1624.2,287.9 1607.4,296.3 C1590.6,304.7 1573.7,313.2 1556.8,321.6 C1539.9,330.0 1520.8,339.8 1506.3,346.9 C1491.8,354.0 1480.5,358.5 1470.0,364.0 C1459.5,369.5 1451.9,374.0 1443.2,379.7 C1434.5,385.4 1425.2,392.5 1418.0,398.0 C1410.8,403.5 1403.2,410.1 1400.2,412.5" fill="none" stroke="#e4e9ee" stroke-width="1.2" opacity="0.9"/>
<path d="M1392.6,434.0 C1400.5,436.8 1425.4,445.5 1440.0,450.5 C1454.6,455.5 1466.7,459.7 1480.0,464.0 C1493.3,468.3 1506.7,472.1 1520.0,476.2 C1533.3,480.3 1546.7,484.3 1560.0,488.4 C1573.3,492.5 1586.7,496.5 1600.0,500.6 C1613.3,504.7 1626.3,508.6 1640.0,512.8 C1653.7,516.9 1671.5,522.6 1682.0,525.5 C1692.5,528.4 1697.4,529.0 1703.0,530.0 C1708.6,531.0 1713.7,531.2 1715.8,531.5" fill="none" stroke="#8f8f96" stroke-width="1.6" opacity="0.6"/>
<path d="M1715.8,531.5 C1717.5,530.4 1718.6,529.5 1726.0,525.0 C1733.4,520.5 1747.7,511.4 1760.0,504.5 C1772.3,497.6 1786.7,490.1 1800.0,483.7 C1813.3,477.2 1826.7,471.8 1840.0,465.8 C1853.3,459.9 1870.0,452.6 1880.0,448.0 C1890.0,443.4 1896.7,439.7 1900.0,438.0" fill="none" stroke="#9a9aa0" stroke-width="1.6" opacity="0.6"/>
<path d="M1715.8,524.5 C1717.5,523.4 1718.6,522.5 1726.0,518.0 C1733.4,513.5 1747.7,504.4 1760.0,497.5 C1772.3,490.6 1786.7,483.1 1800.0,476.7 C1813.3,470.2 1826.7,464.8 1840.0,458.8 C1853.3,452.9 1870.0,445.6 1880.0,441.0 C1890.0,436.4 1894.7,433.7 1900.0,431.0 C1905.3,428.3 1910.0,426.0 1912.0,425.0" fill="none" stroke="#b9aa96" stroke-width="13.2" stroke-linecap="round"/>
<path d="M1715.8,524.5 C1717.5,523.4 1718.6,522.5 1726.0,518.0 C1733.4,513.5 1747.7,504.4 1760.0,497.5 C1772.3,490.6 1786.7,483.1 1800.0,476.7 C1813.3,470.2 1826.7,464.8 1840.0,458.8 C1853.3,452.9 1870.0,445.6 1880.0,441.0 C1890.0,436.4 1894.7,433.7 1900.0,431.0 C1905.3,428.3 1910.0,426.0 1912.0,425.0" fill="none" stroke="url(#pipeRR)" stroke-width="12.0" stroke-linecap="round"/>
<path d="M1715.8,524.5 C1717.5,523.4 1718.6,522.5 1726.0,518.0 C1733.4,513.5 1747.7,504.4 1760.0,497.5 C1772.3,490.6 1786.7,483.1 1800.0,476.7 C1813.3,470.2 1826.7,464.8 1840.0,458.8 C1853.3,452.9 1870.0,445.6 1880.0,441.0 C1890.0,436.4 1894.7,433.7 1900.0,431.0 C1905.3,428.3 1910.0,426.0 1912.0,425.0" fill="none" stroke="#ffffff" stroke-width="4.2" opacity="0.35" stroke-linecap="round"/>
<path d="M1398.0,428.8 C1405.0,431.2 1426.3,438.8 1440.0,443.5 C1453.7,448.2 1466.7,452.7 1480.0,457.0 C1493.3,461.3 1506.7,465.1 1520.0,469.2 C1533.3,473.3 1546.7,477.3 1560.0,481.4 C1573.3,485.5 1586.7,489.5 1600.0,493.6 C1613.3,497.7 1626.3,501.7 1640.0,505.8 C1653.7,509.9 1671.5,515.6 1682.0,518.5 C1692.5,521.4 1697.4,522.0 1703.0,523.0 C1708.6,524.0 1713.7,524.2 1715.8,524.5" fill="none" stroke="#b9aa96" stroke-width="13.2" stroke-linecap="round"/>
<path d="M1398.0,428.8 C1405.0,431.2 1426.3,438.8 1440.0,443.5 C1453.7,448.2 1466.7,452.7 1480.0,457.0 C1493.3,461.3 1506.7,465.1 1520.0,469.2 C1533.3,473.3 1546.7,477.3 1560.0,481.4 C1573.3,485.5 1586.7,489.5 1600.0,493.6 C1613.3,497.7 1626.3,501.7 1640.0,505.8 C1653.7,509.9 1671.5,515.6 1682.0,518.5 C1692.5,521.4 1697.4,522.0 1703.0,523.0 C1708.6,524.0 1713.7,524.2 1715.8,524.5" fill="none" stroke="url(#pipeR)" stroke-width="12.0" stroke-linecap="round"/>
<path d="M1398.0,428.8 C1405.0,431.2 1426.3,438.8 1440.0,443.5 C1453.7,448.2 1466.7,452.7 1480.0,457.0 C1493.3,461.3 1506.7,465.1 1520.0,469.2 C1533.3,473.3 1546.7,477.3 1560.0,481.4 C1573.3,485.5 1586.7,489.5 1600.0,493.6 C1613.3,497.7 1626.3,501.7 1640.0,505.8 C1653.7,509.9 1671.5,515.6 1682.0,518.5 C1692.5,521.4 1697.4,522.0 1703.0,523.0 C1708.6,524.0 1713.7,524.2 1715.8,524.5" fill="none" stroke="#ffffff" stroke-width="4.2" opacity="0.35" stroke-linecap="round"/>
<path d="M1711.0,729.6 C1712.8,729.1 1718.0,728.0 1722.0,726.5 C1726.0,725.0 1726.3,724.6 1734.7,720.6 C1743.1,716.6 1758.4,709.9 1772.6,702.6 C1786.8,695.3 1807.1,684.1 1820.0,677.0 C1832.9,669.9 1836.5,667.2 1849.8,659.9 C1863.1,652.6 1889.6,638.6 1900.0,633.0 C1910.4,627.4 1910.0,627.6 1912.0,626.5" fill="none" stroke="#b9aa96" stroke-width="9.2" stroke-linecap="round"/>
<path d="M1711.0,729.6 C1712.8,729.1 1718.0,728.0 1722.0,726.5 C1726.0,725.0 1726.3,724.6 1734.7,720.6 C1743.1,716.6 1758.4,709.9 1772.6,702.6 C1786.8,695.3 1807.1,684.1 1820.0,677.0 C1832.9,669.9 1836.5,667.2 1849.8,659.9 C1863.1,652.6 1889.6,638.6 1900.0,633.0 C1910.4,627.4 1910.0,627.6 1912.0,626.5" fill="none" stroke="url(#pipeRR)" stroke-width="8.0" stroke-linecap="round"/>
<path d="M1711.0,729.6 C1712.8,729.1 1718.0,728.0 1722.0,726.5 C1726.0,725.0 1726.3,724.6 1734.7,720.6 C1743.1,716.6 1758.4,709.9 1772.6,702.6 C1786.8,695.3 1807.1,684.1 1820.0,677.0 C1832.9,669.9 1836.5,667.2 1849.8,659.9 C1863.1,652.6 1889.6,638.6 1900.0,633.0 C1910.4,627.4 1910.0,627.6 1912.0,626.5" fill="none" stroke="#ffffff" stroke-width="2.8" opacity="0.35" stroke-linecap="round"/>
<path d="M1394.5,629.3 C1402.1,631.8 1426.6,640.1 1440.0,644.6 C1453.4,649.1 1461.4,651.8 1474.7,656.3 C1488.0,660.8 1505.8,666.6 1520.0,671.3 C1534.2,676.0 1546.7,679.9 1560.0,684.7 C1573.3,689.5 1586.7,695.0 1600.0,700.0 C1613.3,705.0 1627.0,710.8 1640.0,714.9 C1653.0,719.0 1667.9,722.1 1677.9,724.4 C1687.9,726.7 1694.5,727.6 1700.0,728.5 C1705.5,729.4 1709.2,729.4 1711.0,729.6" fill="none" stroke="#b9aa96" stroke-width="9.2" stroke-linecap="round"/>
<path d="M1394.5,629.3 C1402.1,631.8 1426.6,640.1 1440.0,644.6 C1453.4,649.1 1461.4,651.8 1474.7,656.3 C1488.0,660.8 1505.8,666.6 1520.0,671.3 C1534.2,676.0 1546.7,679.9 1560.0,684.7 C1573.3,689.5 1586.7,695.0 1600.0,700.0 C1613.3,705.0 1627.0,710.8 1640.0,714.9 C1653.0,719.0 1667.9,722.1 1677.9,724.4 C1687.9,726.7 1694.5,727.6 1700.0,728.5 C1705.5,729.4 1709.2,729.4 1711.0,729.6" fill="none" stroke="url(#pipeR)" stroke-width="8.0" stroke-linecap="round"/>
<path d="M1394.5,629.3 C1402.1,631.8 1426.6,640.1 1440.0,644.6 C1453.4,649.1 1461.4,651.8 1474.7,656.3 C1488.0,660.8 1505.8,666.6 1520.0,671.3 C1534.2,676.0 1546.7,679.9 1560.0,684.7 C1573.3,689.5 1586.7,695.0 1600.0,700.0 C1613.3,705.0 1627.0,710.8 1640.0,714.9 C1653.0,719.0 1667.9,722.1 1677.9,724.4 C1687.9,726.7 1694.5,727.6 1700.0,728.5 C1705.5,729.4 1709.2,729.4 1711.0,729.6" fill="none" stroke="#ffffff" stroke-width="2.8" opacity="0.35" stroke-linecap="round"/>
</g>
<g id="leaders" fill="none" stroke="#4b4b4f" stroke-width="1.25" stroke-dasharray="1.3 2.7">
<path d="M204,150 V787"/>
<path d="M451,238 V787"/>
<path d="M766,189 V635.5 H699 V787"/>
<path d="M1009,352 V635.5 H949 V787"/>
<path d="M1202,439 V787"/>
<path d="M1322,554 V739 H1449 V787"/>
<path d="M1368,516 V681 H1699 V787"/>
</g>
<g id="markers" fill="#ffffff" stroke="#14213a" stroke-width="2.7">
<circle cx="204" cy="150" r="8.1"/>
<circle cx="451" cy="238" r="8.1"/>
<circle cx="766" cy="189" r="8.1"/>
<circle cx="1009" cy="352" r="8.1"/>
<circle cx="1202" cy="439" r="8.1"/>
<circle cx="1322" cy="554" r="8.1"/>
<circle cx="1368" cy="516" r="8.1"/>
</g>
<g id="icons" fill="none" stroke="#4fa7d3" stroke-width="1.7" stroke-linecap="round" stroke-linejoin="round">
<circle cx="202" cy="868.5" r="59.3"/>
<path d="M201.6,825 V854 M189,837 L201.6,825 L214.4,837 M201.6,882.5 V912 M189,900.5 L201.6,912 L214.4,900.5"/>
<text x="200.6" y="874" text-anchor="middle" font-family="Liberation Sans, sans-serif" font-weight="700" font-size="17.5" letter-spacing="0.2" fill="#4fa7d3" stroke="none">22 cm</text>
<path d="M385,814 H514.2 M385,930.5 H514.2"/>
<path d="M385,833.5 C392,833.5 396,818 406.5,818 C417,818 421,836 431.5,836 C442,836 444,818 451.5,818 C461,818 465,836 475,836 C485,836 488,818 496.5,818 C505,818 509,833.5 514.2,833.5"/>
<rect x="385.0" y="839.5" width="37.6" height="84.5" rx="13" ry="13"/>
<path d="M415.8,848.9 C400.2,848.0 391.8,851.4 391.8,855.3 C391.8,860.0 415.8,860.0 415.8,854.4"/><path d="M415.8,857.4 C400.2,856.6 391.8,860.0 391.8,863.9 C391.8,868.6 415.8,868.6 415.8,863.0"/><path d="M415.8,866.0 C400.2,865.1 391.8,868.6 391.8,872.4 C391.8,877.1 415.8,877.1 415.8,871.6"/><path d="M415.8,874.6 C400.2,873.7 391.8,877.1 391.8,881.0 C391.8,885.7 415.8,885.7 415.8,880.1"/><path d="M415.8,883.1 C400.2,882.3 391.8,885.7 391.8,889.6 C391.8,894.3 415.8,894.3 415.8,888.7"/><path d="M415.8,891.7 C400.2,890.9 391.8,894.3 391.8,898.1 C391.8,902.9 415.8,902.9 415.8,897.3"/><path d="M415.8,900.3 C400.2,899.4 391.8,902.9 391.8,906.7 C391.8,911.4 415.8,911.4 415.8,905.9"/><path d="M415.8,908.9 C411.0,912.7 403.8,913.1 414.6,914.0"/>
<rect x="430.4" y="839.5" width="37.6" height="84.5" rx="13" ry="13"/>
<path d="M461.2,848.9 C445.6,848.0 437.2,851.4 437.2,855.3 C437.2,860.0 461.2,860.0 461.2,854.4"/><path d="M461.2,857.4 C445.6,856.6 437.2,860.0 437.2,863.9 C437.2,868.6 461.2,868.6 461.2,863.0"/><path d="M461.2,866.0 C445.6,865.1 437.2,868.6 437.2,872.4 C437.2,877.1 461.2,877.1 461.2,871.6"/><path d="M461.2,874.6 C445.6,873.7 437.2,877.1 437.2,881.0 C437.2,885.7 461.2,885.7 461.2,880.1"/><path d="M461.2,883.1 C445.6,882.3 437.2,885.7 437.2,889.6 C437.2,894.3 461.2,894.3 461.2,888.7"/><path d="M461.2,891.7 C445.6,890.9 437.2,894.3 437.2,898.1 C437.2,902.9 461.2,902.9 461.2,897.3"/><path d="M461.2,900.3 C445.6,899.4 437.2,902.9 437.2,906.7 C437.2,911.4 461.2,911.4 461.2,905.9"/><path d="M461.2,908.9 C456.4,912.7 449.2,913.1 460.0,914.0"/>
<rect x="476.3" y="839.5" width="37.6" height="84.5" rx="13" ry="13"/>
<path d="M507.1,848.9 C491.5,848.0 483.1,851.4 483.1,855.3 C483.1,860.0 507.1,860.0 507.1,854.4"/><path d="M507.1,857.4 C491.5,856.6 483.1,860.0 483.1,863.9 C483.1,868.6 507.1,868.6 507.1,863.0"/><path d="M507.1,866.0 C491.5,865.1 483.1,868.6 483.1,872.4 C483.1,877.1 507.1,877.1 507.1,871.6"/><path d="M507.1,874.6 C491.5,873.7 483.1,877.1 483.1,881.0 C483.1,885.7 507.1,885.7 507.1,880.1"/><path d="M507.1,883.1 C491.5,882.3 483.1,885.7 483.1,889.6 C483.1,894.3 507.1,894.3 507.1,888.7"/><path d="M507.1,891.7 C491.5,890.9 483.1,894.3 483.1,898.1 C483.1,902.9 507.1,902.9 507.1,897.3"/><path d="M507.1,900.3 C491.5,899.4 483.1,902.9 483.1,906.7 C483.1,911.4 507.1,911.4 507.1,905.9"/><path d="M507.1,908.9 C502.3,912.7 495.1,913.1 505.9,914.0"/>
<path d="M1134.5,823.6 H1265.2 M1134.5,922.5 H1265.2"/>
<rect x="1135.3" y="831.2" width="37.9" height="84.5" rx="13" ry="13"/>
<path d="M1166.2,840.9 C1150.6,840.0 1142.2,843.4 1142.2,847.3 C1142.2,852.0 1166.2,852.0 1166.2,846.4"/><path d="M1166.2,849.4 C1150.6,848.6 1142.2,852.0 1142.2,855.9 C1142.2,860.6 1166.2,860.6 1166.2,855.0"/><path d="M1166.2,858.0 C1150.6,857.1 1142.2,860.6 1142.2,864.4 C1142.2,869.1 1166.2,869.1 1166.2,863.6"/><path d="M1166.2,866.6 C1150.6,865.7 1142.2,869.1 1142.2,873.0 C1142.2,877.7 1166.2,877.7 1166.2,872.1"/><path d="M1166.2,875.1 C1150.6,874.3 1142.2,877.7 1142.2,881.6 C1142.2,886.3 1166.2,886.3 1166.2,880.7"/><path d="M1166.2,883.7 C1150.6,882.9 1142.2,886.3 1142.2,890.1 C1142.2,894.9 1166.2,894.9 1166.2,889.3"/><path d="M1166.2,892.3 C1150.6,891.4 1142.2,894.9 1142.2,898.7 C1142.2,903.4 1166.2,903.4 1166.2,897.9"/><path d="M1166.2,900.9 C1161.4,904.7 1154.2,905.1 1165.0,906.0"/>
<rect x="1181.2" y="831.2" width="37.9" height="84.5" rx="13" ry="13"/>
<path d="M1212.1,840.9 C1196.5,840.0 1188.1,843.4 1188.1,847.3 C1188.1,852.0 1212.1,852.0 1212.1,846.4"/><path d="M1212.1,849.4 C1196.5,848.6 1188.1,852.0 1188.1,855.9 C1188.1,860.6 1212.1,860.6 1212.1,855.0"/><path d="M1212.1,858.0 C1196.5,857.1 1188.1,860.6 1188.1,864.4 C1188.1,869.1 1212.1,869.1 1212.1,863.6"/><path d="M1212.1,866.6 C1196.5,865.7 1188.1,869.1 1188.1,873.0 C1188.1,877.7 1212.1,877.7 1212.1,872.1"/><path d="M1212.1,875.1 C1196.5,874.3 1188.1,877.7 1188.1,881.6 C1188.1,886.3 1212.1,886.3 1212.1,880.7"/><path d="M1212.1,883.7 C1196.5,882.9 1188.1,886.3 1188.1,890.1 C1188.1,894.9 1212.1,894.9 1212.1,889.3"/><path d="M1212.1,892.3 C1196.5,891.4 1188.1,894.9 1188.1,898.7 C1188.1,903.4 1212.1,903.4 1212.1,897.9"/><path d="M1212.1,900.9 C1207.3,904.7 1200.1,905.1 1210.9,906.0"/>
<rect x="1227.3" y="831.2" width="37.9" height="84.5" rx="13" ry="13"/>
<path d="M1258.2,840.9 C1242.6,840.0 1234.2,843.4 1234.2,847.3 C1234.2,852.0 1258.2,852.0 1258.2,846.4"/><path d="M1258.2,849.4 C1242.6,848.6 1234.2,852.0 1234.2,855.9 C1234.2,860.6 1258.2,860.6 1258.2,855.0"/><path d="M1258.2,858.0 C1242.6,857.1 1234.2,860.6 1234.2,864.4 C1234.2,869.1 1258.2,869.1 1258.2,863.6"/><path d="M1258.2,866.6 C1242.6,865.7 1234.2,869.1 1234.2,873.0 C1234.2,877.7 1258.2,877.7 1258.2,872.1"/><path d="M1258.2,875.1 C1242.6,874.3 1234.2,877.7 1234.2,881.6 C1234.2,886.3 1258.2,886.3 1258.2,880.7"/><path d="M1258.2,883.7 C1242.6,882.9 1234.2,886.3 1234.2,890.1 C1234.2,894.9 1258.2,894.9 1258.2,889.3"/><path d="M1258.2,892.3 C1242.6,891.4 1234.2,894.9 1234.2,898.7 C1234.2,903.4 1258.2,903.4 1258.2,897.9"/><path d="M1258.2,900.9 C1253.4,904.7 1246.2,905.1 1257.0,906.0"/>
<path d="M910,829.3 H993 Q996,829.3 997.5,832.5 L1020.5,882.3 H881.5 L904.8,832.5 Q906.5,829.3 910,829.3 Z"/>
<path d="M881.5,882.3 V903 Q881.5,908 886.5,908 H1015.5 Q1020.5,908 1020.5,903 V882.3"/>
<path d="M906.3,835.2 H995.7" stroke-dasharray="3.2 2.2" stroke-width="1.3" stroke-linecap="butt"/>
<path d="M902.0,844.4 H1000.0" stroke-dasharray="3.2 2.2" stroke-width="1.3" stroke-linecap="butt"/>
<path d="M897.8,853.6 H1004.2" stroke-dasharray="3.2 2.2" stroke-width="1.3" stroke-linecap="butt"/>
<path d="M893.5,862.8 H1008.5" stroke-dasharray="3.2 2.2" stroke-width="1.3" stroke-linecap="butt"/>
<path d="M889.3,872.0 H1012.7" stroke-dasharray="3.2 2.2" stroke-width="1.3" stroke-linecap="butt"/>
<path d="M1446.5,832.6 Q1449.8,831 1453,832.6 L1520.4,864.6 L1450.5,897.9 L1381.3,864.6 Z"/>
<path d="M1381.3,864.6 V889 L1450.5,922.4 L1520.4,889 V864.6 M1450.5,897.9 V922.4"/>
<path d="M1392.0,877.5 v9.5" stroke-width="1.4"/>
<path d="M1398.0,880.4 v9.5" stroke-width="1.4"/>
<path d="M1404.0,883.3 v9.5" stroke-width="1.4"/>
<path d="M1410.0,886.2 v9.5" stroke-width="1.4"/>
<path d="M1416.0,889.1 v9.5" stroke-width="1.4"/>
<path d="M1422.0,892.0 v9.5" stroke-width="1.4"/>
<path d="M1428.0,894.9 v9.5" stroke-width="1.4"/>
<path d="M1434.0,897.8 v9.5" stroke-width="1.4"/>
<path d="M1440.0,900.7 v9.5" stroke-width="1.4"/>
<path d="M1461.5,900.8 v9.5" stroke-width="1.4"/>
<path d="M1467.5,897.9 v9.5" stroke-width="1.4"/>
<path d="M1473.5,895.0 v9.5" stroke-width="1.4"/>
<path d="M1479.5,892.1 v9.5" stroke-width="1.4"/>
<path d="M1485.5,889.2 v9.5" stroke-width="1.4"/>
<path d="M1491.5,886.3 v9.5" stroke-width="1.4"/>
<path d="M1497.5,883.4 v9.5" stroke-width="1.4"/>
<path d="M1503.5,880.5 v9.5" stroke-width="1.4"/>
<path d="M1509.5,877.6 v9.5" stroke-width="1.4"/>
<path d="M1695,823.6 Q1701,821 1707,823.6 L1757,844.5 Q1764,847.8 1757,851 L1707,872 Q1701,874.6 1695,872 L1645,851 Q1638,847.8 1645,844.5 Z"/>
<path d="M1652,863.5 L1645,866.5 Q1638,869.9 1645,873.2 L1695,894.2 Q1701,896.8 1707,894.2 L1757,873.2 Q1764,869.9 1757,866.5 L1750,863.5"/>
<path d="M1652,885.6 L1645,888.6 Q1638,892 1645,895.3 L1695,916.3 Q1701,918.9 1707,916.3 L1757,895.3 Q1764,892 1757,888.6 L1750,885.6"/>
<path d="M659.3,868.1 C658.8,869.0 656.7,871.1 656.7,873.3 C656.7,875.5 657.1,879.2 659.3,881.2 C661.5,883.1 665.0,883.8 669.8,885.1 C674.6,886.4 683.3,888.2 688.1,889.0 C692.9,889.9 694.8,890.0 698.6,890.3 C702.3,890.7 708.1,891.2 710.3,891.0 C712.6,890.8 711.9,889.6 711.9,889.0 C711.9,888.4 713.4,888.1 710.3,887.5 C707.2,886.8 696.8,885.9 693.3,885.1 C689.8,884.3 689.4,883.6 689.4,882.5 C689.4,881.4 690.9,879.7 693.3,878.6 C695.7,877.5 697.5,876.8 703.8,875.9 C710.1,875.1 726.4,874.1 731.3,873.3 C736.1,872.6 733.0,871.9 732.9,871.4 C732.8,870.8 734.2,869.8 730.6,869.8 C727.1,869.8 716.1,871.0 711.7,871.4 C707.2,871.7 703.8,872.8 703.8,872.0 C703.8,871.2 707.3,868.3 711.7,866.8 C716.0,865.2 726.7,863.8 730.0,862.8 C733.3,861.9 731.8,861.4 731.6,860.9 C731.3,860.3 732.0,859.2 728.7,859.6 C725.4,859.9 716.7,861.6 711.7,862.8 C706.6,864.0 699.7,867.0 698.6,866.8 C697.5,866.6 702.1,863.1 705.1,861.5 C708.2,859.9 715.0,858.3 716.9,857.2 C718.8,856.2 717.4,855.5 716.5,855.3 C715.6,855.0 715.5,854.6 711.7,855.6 C707.8,856.7 697.3,860.3 693.3,861.5 C689.4,862.7 689.8,863.5 688.1,862.8 C686.3,862.2 685.5,857.8 682.8,857.6 C680.2,857.4 675.6,860.2 672.4,861.5 C669.1,862.8 665.4,864.4 663.2,865.5 C661.0,866.6 659.9,867.6 659.3,868.1 Z" fill="#8fcbe7" stroke="none"/>
<path d="M631.8,872.7 L699.9,910 L769.9,872.7 M631.8,872.7 V896.2 L699.9,934.2 L769.9,896.2 V872.7 M699.9,910 V934.2"/>
<path d="M631.8,872.7 L653.4,860.9 M769.9,872.7 L710.3,839.6"/>
<path d="M644.2,834.3 C644.7,834.7 645.8,835.9 646.8,836.4 C647.9,836.9 648.7,837.9 650.8,837.1 C652.8,836.2 655.7,833.2 659.3,831.4 C662.9,829.6 669.1,827.7 672.4,826.2 C675.6,824.7 676.3,824.3 678.9,822.3 C681.5,820.2 685.9,815.4 688.1,813.7 C690.3,812.1 691.0,812.1 692.0,812.2 C693.0,812.3 695.5,811.8 694.0,814.4 C692.4,817.0 684.9,824.9 682.8,827.5 C680.8,830.1 681.3,829.3 681.5,829.9 C681.8,830.4 680.4,832.4 684.2,830.8 C687.9,829.2 699.3,822.4 703.8,820.3 C708.3,818.2 709.4,818.2 711.0,818.3 C712.6,818.4 713.1,820.2 713.2,820.9 C713.3,821.7 715.0,820.9 711.7,822.9 C708.3,824.9 696.8,830.8 693.3,832.7 C689.8,834.7 690.7,834.2 690.7,834.7 C690.7,835.2 689.4,836.5 693.3,835.6 C697.3,834.7 709.6,830.5 714.3,829.5 C719.0,828.4 719.9,829.0 721.5,829.5 C723.0,829.9 723.5,831.2 723.4,832.1 C723.3,833.0 725.2,833.2 720.8,834.7 C716.5,836.2 701.8,839.8 697.3,841.2 C692.7,842.7 693.8,842.6 693.6,843.2 C693.4,843.9 692.9,845.0 695.9,845.2 C699.0,845.4 707.7,844.5 711.7,844.5 C715.6,844.5 717.9,844.6 719.5,845.2 C721.1,845.7 721.2,846.9 721.1,847.8 C721.0,848.7 722.6,849.6 718.9,850.4 C715.1,851.2 704.1,851.9 698.6,852.4 C693.0,852.8 688.5,852.5 685.5,853.0 C682.4,853.6 681.2,854.6 680.2,855.6 C679.2,856.7 679.1,858.2 679.6,859.6 C680.0,861.0 680.6,862.7 682.8,864.2 C685.1,865.6 690.7,867.0 693.3,868.1 C695.9,869.2 697.8,869.7 698.6,870.7 C699.3,871.7 698.8,873.1 697.9,874.0 C697.0,874.8 695.8,876.0 693.3,875.7 C690.8,875.4 686.8,873.5 682.8,872.0 C678.9,870.5 673.7,868.4 669.8,866.8 C665.8,865.1 661.9,863.4 659.3,862.2 C656.7,861.0 656.2,860.8 654.0,859.6 C651.9,858.4 649.8,856.2 646.2,855.0 C642.6,853.8 634.7,852.8 632.4,852.4" fill="#f2f2f2"/>
</g>
</svg>
<div class="lbl" style="left:200px">Înălțime<br>22 cm</div>
<div class="lbl" style="left:450px">Saltea<br>hibridă</div>
<div class="lbl" style="left:700px">Spumă cu<br>memorie și gel</div>
<div class="lbl" style="left:950px">7 zone<br>de confort</div>
<div class="lbl" style="left:1200px">Arcuri<br>multipocket</div>
<div class="lbl" style="left:1450px">Spumă<br>HR</div>
<div class="lbl" style="left:1700px">Nucleu<br>multistrat</div>

</div>
</body></html>
